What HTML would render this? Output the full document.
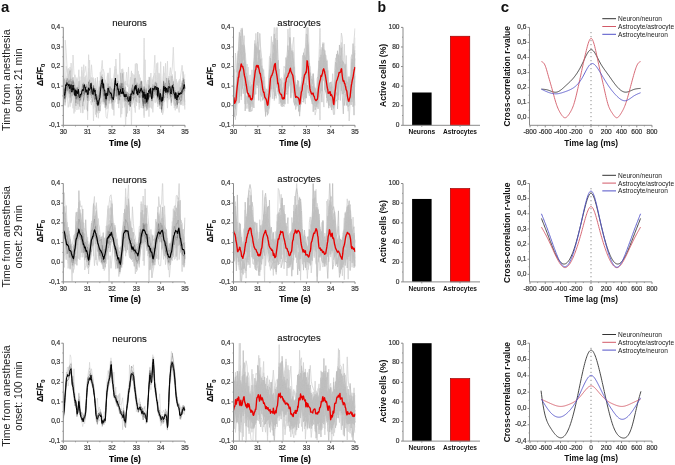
<!DOCTYPE html>
<html><head><meta charset="utf-8"><style>
html,body{margin:0;padding:0;background:#fff;width:675px;height:465px;overflow:hidden}
svg{display:block;will-change:transform}
text{font-family:"Liberation Sans",sans-serif}
</style></head><body>
<svg width="675" height="465" viewBox="0 0 675 465" font-family="Liberation Sans, sans-serif">
<rect width="675" height="465" fill="#fff"/>
<text x="1" y="11.8" font-size="15" text-anchor="start" font-weight="bold" fill="#111">a</text>
<text x="377.5" y="11.8" font-size="14" text-anchor="start" font-weight="bold" fill="#111">b</text>
<text x="500.8" y="11.6" font-size="15" text-anchor="start" font-weight="bold" fill="#111">c</text>
<text font-size="10.6" fill="#222" text-anchor="middle" transform="translate(9.7 80.2) rotate(-90)"><tspan x="0" y="0">Time from anesthesia</tspan><tspan x="0" y="12.1">onset: 21 min</tspan></text>
<text x="129.6" y="26" font-size="9.6" text-anchor="middle" fill="#111" stroke="#111" stroke-width="0.1">neurons</text>
<text x="299" y="25.6" font-size="9.5" text-anchor="middle" fill="#111" stroke="#111" stroke-width="0.1">astrocytes</text>
<clipPath id="clip1"><rect x="63.8" y="27.4" width="121.7" height="97.4"/></clipPath>
<g clip-path="url(#clip1)">
<path d="M63.3 92.62 L64.27 95.53 L65.25 82.6 L66.22 84.38 L67.19 93.32 L68.17 83.04 L69.14 85.41 L70.12 85.52 L71.09 91.32 L72.06 87.75 L73.04 91.79 L74.01 96.71 L74.98 74.74 L75.96 92.25 L76.93 88.33 L77.9 84 L78.88 69.78 L79.85 95.82 L80.82 88.36 L81.8 85.56 L82.77 96.67 L83.75 77.36 L84.72 79.9 L85.69 96.38 L86.67 92.94 L87.64 119.82 L88.61 71.97 L89.59 94.74 L90.56 80.59 L91.53 102.82 L92.51 89.96 L93.48 79.26 L94.46 103.13 L95.43 78.36 L96.4 95.15 L97.38 94.83 L98.35 95.16 L99.32 80.76 L100.3 85.83 L101.27 98.09 L102.24 76.88 L103.22 83.41 L104.19 87.31 L105.16 92.29 L106.14 93.29 L107.11 105.45 L108.09 78.39 L109.06 92.61 L110.03 98.44 L111.01 84.92 L111.98 78.5 L112.95 91.83 L113.93 88.17 L114.9 84.96 L115.87 59.02 L116.85 75.35 L117.82 94.69 L118.8 97.67 L119.77 87.49 L120.74 117.36 L121.72 69.16 L122.69 90.16 L123.66 80.92 L124.64 84.02 L125.61 129.22 L126.58 93.56 L127.56 113.31 L128.53 89.46 L129.5 92.87 L130.48 77.14 L131.45 129.22 L132.43 73.45 L133.4 74.85 L134.37 92.58 L135.35 81.26 L136.32 91.64 L137.29 88.55 L138.27 94.95 L139.24 75.31 L140.21 94.51 L141.19 86.54 L142.16 84.91 L143.14 98.41 L144.11 91.89 L145.08 99.93 L146.06 93.66 L147.03 106.27 L148 97.13 L148.98 88.94 L149.95 91.45 L150.92 90.2 L151.9 97 L152.87 79.25 L153.84 88.9 L154.82 83.93 L155.79 90 L156.77 87.64 L157.74 99.75 L158.71 85.41 L159.69 104.3 L160.66 109.01 L161.63 95.76 L162.61 102.18 L163.58 85.68 L164.55 102 L165.53 82.63 L166.5 82.43 L167.48 99.45 L168.45 76.49 L169.42 89.23 L170.4 98.43 L171.37 88.82 L172.34 83.77 L173.32 84.54 L174.29 103.42 L175.26 78.86 L176.24 99.41 L177.21 106.73 L178.18 87.36 L179.16 94.58 L180.13 88.06 L181.11 93.27 L182.08 87.32 L183.05 83.81 L184.03 86.66 L185 78.89" fill="none" stroke="#d8d8d8" stroke-width="0.8" stroke-linejoin="round"/>
<path d="M63.3 70.7 L64.27 96.95 L65.25 96.37 L66.22 96.93 L67.19 93.94 L68.17 90.77 L69.14 98.14 L70.12 101.05 L71.09 86.39 L72.06 95.43 L73.04 79.52 L74.01 102.35 L74.98 111.59 L75.96 91.3 L76.93 88.54 L77.9 103.56 L78.88 109.56 L79.85 101.63 L80.82 112.75 L81.8 93.43 L82.77 113.14 L83.75 97.76 L84.72 109.57 L85.69 97.14 L86.67 83.85 L87.64 100.38 L88.61 89.17 L89.59 100.71 L90.56 101.57 L91.53 105.05 L92.51 89.32 L93.48 97.67 L94.46 84.67 L95.43 107.37 L96.4 102.95 L97.38 102.88 L98.35 94.71 L99.32 88.35 L100.3 104.05 L101.27 101.32 L102.24 101.83 L103.22 83.62 L104.19 96.22 L105.16 103.35 L106.14 116.8 L107.11 118.42 L108.09 109.99 L109.06 88.94 L110.03 94.21 L111.01 96.84 L111.98 108.6 L112.95 96.71 L113.93 86.3 L114.9 102.3 L115.87 91.28 L116.85 96.91 L117.82 90.93 L118.8 97.6 L119.77 98.79 L120.74 102.85 L121.72 97.17 L122.69 100.86 L123.66 98.54 L124.64 86.32 L125.61 95.12 L126.58 104.55 L127.56 103.37 L128.53 94.33 L129.5 104.68 L130.48 104.46 L131.45 91.78 L132.43 95.15 L133.4 97.15 L134.37 102.6 L135.35 104.15 L136.32 89.59 L137.29 86.78 L138.27 91.83 L139.24 109.47 L140.21 94.01 L141.19 80.35 L142.16 98.93 L143.14 98.98 L144.11 106.47 L145.08 91.11 L146.06 99.47 L147.03 98.64 L148 96.11 L148.98 85.79 L149.95 87.93 L150.92 107.7 L151.9 101.62 L152.87 112.33 L153.84 99.25 L154.82 88.49 L155.79 86.28 L156.77 84.65 L157.74 100.7 L158.71 92.93 L159.69 101.23 L160.66 88.54 L161.63 91.8 L162.61 105.32 L163.58 66.26 L164.55 94.4 L165.53 97.36 L166.5 90.97 L167.48 90.39 L168.45 90.01 L169.42 99.23 L170.4 84.39 L171.37 98.17 L172.34 81.36 L173.32 83.19 L174.29 108.15 L175.26 100.09 L176.24 106.18 L177.21 100.2 L178.18 99.98 L179.16 96.54 L180.13 104.71 L181.11 94.57 L182.08 83.73 L183.05 105.76 L184.03 94.13 L185 92.16" fill="none" stroke="#d8d8d8" stroke-width="0.8" stroke-linejoin="round"/>
<path d="M63.3 94.65 L64.27 93.79 L65.25 91.71 L66.22 90.18 L67.19 73.61 L68.17 68.36 L69.14 69.14 L70.12 95.59 L71.09 68.8 L72.06 94.04 L73.04 94.75 L74.01 91.03 L74.98 96.79 L75.96 90.58 L76.93 109.94 L77.9 100.99 L78.88 91.47 L79.85 80.41 L80.82 96.84 L81.8 85.27 L82.77 85.1 L83.75 64.7 L84.72 94.73 L85.69 75.63 L86.67 95.35 L87.64 94.4 L88.61 85.18 L89.59 60.18 L90.56 89.01 L91.53 95.26 L92.51 78.15 L93.48 94.53 L94.46 89.78 L95.43 89.45 L96.4 94.24 L97.38 94.88 L98.35 101.56 L99.32 94.78 L100.3 84.51 L101.27 82.36 L102.24 77.07 L103.22 90.13 L104.19 79.59 L105.16 89.75 L106.14 91.21 L107.11 85.51 L108.09 73.38 L109.06 84.21 L110.03 81.95 L111.01 98.58 L111.98 102.52 L112.95 97.68 L113.93 102.95 L114.9 74.07 L115.87 87.02 L116.85 80.06 L117.82 100.22 L118.8 97 L119.77 53.16 L120.74 87.4 L121.72 98.27 L122.69 68.73 L123.66 80.44 L124.64 87.18 L125.61 98.44 L126.58 97.25 L127.56 103.61 L128.53 92.87 L129.5 87.1 L130.48 101.17 L131.45 70.87 L132.43 86.3 L133.4 83.22 L134.37 107.59 L135.35 81.24 L136.32 63.16 L137.29 66.53 L138.27 82.01 L139.24 84.48 L140.21 77.63 L141.19 90.58 L142.16 86.46 L143.14 89.41 L144.11 89.23 L145.08 93.7 L146.06 106.03 L147.03 95.95 L148 88.09 L148.98 85.66 L149.95 86.42 L150.92 73.05 L151.9 105.08 L152.87 92.22 L153.84 93.74 L154.82 85.53 L155.79 88.81 L156.77 83.19 L157.74 94.78 L158.71 95.77 L159.69 108.73 L160.66 80.7 L161.63 101.3 L162.61 99.41 L163.58 85.68 L164.55 83.23 L165.53 77.11 L166.5 80.92 L167.48 90.86 L168.45 89.2 L169.42 90.76 L170.4 95.19 L171.37 79.52 L172.34 88.24 L173.32 98.09 L174.29 96.45 L175.26 110.35 L176.24 87.41 L177.21 104.22 L178.18 89.71 L179.16 87.52 L180.13 80.22 L181.11 72.38 L182.08 65.28 L183.05 74.03 L184.03 88.83 L185 85.45" fill="none" stroke="#d8d8d8" stroke-width="0.8" stroke-linejoin="round"/>
<path d="M63.3 73.08 L64.27 104.68 L65.25 85.96 L66.22 66.3 L67.19 72.65 L68.17 72.36 L69.14 88.03 L70.12 103.47 L71.09 63.02 L72.06 81.4 L73.04 77.11 L74.01 94.58 L74.98 86.69 L75.96 87.88 L76.93 78.82 L77.9 94.52 L78.88 105.05 L79.85 92.82 L80.82 90.05 L81.8 76.07 L82.77 82.05 L83.75 86.75 L84.72 79.47 L85.69 80.37 L86.67 84.77 L87.64 94.55 L88.61 54.7 L89.59 88.74 L90.56 90.98 L91.53 77.33 L92.51 101.07 L93.48 88.43 L94.46 90.34 L95.43 94.67 L96.4 99.64 L97.38 113 L98.35 95.74 L99.32 96.27 L100.3 86.3 L101.27 71.03 L102.24 70.22 L103.22 69.11 L104.19 72.78 L105.16 88.21 L106.14 104.41 L107.11 90.54 L108.09 85.88 L109.06 88.5 L110.03 95.01 L111.01 97.74 L111.98 88.26 L112.95 89.17 L113.93 97.18 L114.9 72.49 L115.87 82.63 L116.85 84 L117.82 80.76 L118.8 92.62 L119.77 93.29 L120.74 89.95 L121.72 114.13 L122.69 93.78 L123.66 72.02 L124.64 104.12 L125.61 92.79 L126.58 92.24 L127.56 100.83 L128.53 100.59 L129.5 89.2 L130.48 84.72 L131.45 97.88 L132.43 86.01 L133.4 83.58 L134.37 84.47 L135.35 89.41 L136.32 95.58 L137.29 93.05 L138.27 93.85 L139.24 74.33 L140.21 92.59 L141.19 82.86 L142.16 87.32 L143.14 86.97 L144.11 95.04 L145.08 79.71 L146.06 82.39 L147.03 95.07 L148 90.36 L148.98 85.27 L149.95 77.84 L150.92 87.23 L151.9 84.53 L152.87 80.26 L153.84 86 L154.82 81.8 L155.79 92.99 L156.77 99.77 L157.74 62.59 L158.71 104.53 L159.69 73.5 L160.66 82.57 L161.63 87.6 L162.61 101.49 L163.58 67.32 L164.55 101.1 L165.53 98.68 L166.5 92.05 L167.48 96.85 L168.45 82.74 L169.42 82.55 L170.4 75.72 L171.37 80.92 L172.34 74.47 L173.32 85.63 L174.29 93.33 L175.26 96.67 L176.24 108.68 L177.21 100.95 L178.18 93.77 L179.16 81.72 L180.13 103.8 L181.11 83.25 L182.08 85.5 L183.05 94.56 L184.03 79.54 L185 87.31" fill="none" stroke="#d8d8d8" stroke-width="0.8" stroke-linejoin="round"/>
<path d="M63.3 89.66 L64.27 99.86 L65.25 40.13 L66.22 52.21 L67.19 70.07 L68.17 82.51 L69.14 73.94 L70.12 66.97 L71.09 78.6 L72.06 85.44 L73.04 55 L74.01 74.33 L74.98 77.58 L75.96 99.87 L76.93 77.49 L77.9 94.22 L78.88 87.96 L79.85 98.44 L80.82 100.4 L81.8 70.3 L82.77 82.81 L83.75 73.12 L84.72 71.67 L85.69 66.33 L86.67 77.65 L87.64 89.86 L88.61 68.16 L89.59 75.53 L90.56 79.95 L91.53 64.8 L92.51 79.6 L93.48 77.62 L94.46 92.42 L95.43 79.26 L96.4 91.42 L97.38 92.62 L98.35 106.38 L99.32 91.25 L100.3 85.47 L101.27 69.78 L102.24 60.42 L103.22 78.53 L104.19 84.7 L105.16 100 L106.14 109.36 L107.11 76.81 L108.09 72.79 L109.06 93.17 L110.03 67.89 L111.01 89.55 L111.98 87.85 L112.95 87.63 L113.93 85.21 L114.9 66.32 L115.87 84.63 L116.85 77.66 L117.82 81.45 L118.8 85.67 L119.77 84.03 L120.74 84.11 L121.72 85.6 L122.69 70.38 L123.66 88.4 L124.64 82.18 L125.61 85.36 L126.58 72.18 L127.56 86.91 L128.53 66.99 L129.5 96.79 L130.48 92.78 L131.45 71.77 L132.43 89.75 L133.4 87.21 L134.37 84.25 L135.35 63.78 L136.32 87.3 L137.29 80.29 L138.27 70.94 L139.24 92.05 L140.21 81.01 L141.19 81.46 L142.16 94.74 L143.14 92.54 L144.11 38.04 L145.08 96 L146.06 83.9 L147.03 93.06 L148 84.44 L148.98 92.61 L149.95 80.97 L150.92 87.56 L151.9 107.55 L152.87 83.37 L153.84 74.84 L154.82 55.2 L155.79 84.21 L156.77 63.32 L157.74 85.86 L158.71 82.71 L159.69 98.91 L160.66 82.91 L161.63 102.08 L162.61 86.22 L163.58 72.52 L164.55 73.74 L165.53 78.13 L166.5 88.14 L167.48 78.06 L168.45 82.35 L169.42 78.07 L170.4 83.48 L171.37 74.72 L172.34 66.97 L173.32 47.22 L174.29 73.16 L175.26 96.63 L176.24 80.35 L177.21 82.19 L178.18 97.39 L179.16 79.79 L180.13 78.96 L181.11 84.06 L182.08 80.73 L183.05 93.62 L184.03 84.87 L185 74.27" fill="none" stroke="#d8d8d8" stroke-width="0.8" stroke-linejoin="round"/>
<path d="M63.3 106.5 L64.27 102.99 L65.25 77.97 L66.22 85.28 L67.19 94.65 L68.17 107.39 L69.14 100.97 L70.12 94.94 L71.09 97.26 L72.06 90.82 L73.04 95.9 L74.01 86.2 L74.98 108.65 L75.96 97.56 L76.93 102.13 L77.9 92.73 L78.88 99.09 L79.85 92.4 L80.82 96.16 L81.8 66.83 L82.77 89.79 L83.75 100.11 L84.72 95.97 L85.69 97.76 L86.67 92.52 L87.64 85.86 L88.61 91.83 L89.59 95.42 L90.56 99.57 L91.53 84.34 L92.51 87.04 L93.48 120.94 L94.46 98.29 L95.43 107.72 L96.4 105.37 L97.38 90.36 L98.35 103.81 L99.32 104.78 L100.3 72.23 L101.27 91.53 L102.24 96.12 L103.22 88.04 L104.19 102.79 L105.16 101.18 L106.14 96.14 L107.11 82.87 L108.09 108.44 L109.06 102.87 L110.03 97.83 L111.01 93.16 L111.98 104.94 L112.95 89.15 L113.93 95.09 L114.9 95.86 L115.87 83.86 L116.85 96.64 L117.82 74.66 L118.8 93.06 L119.77 85.86 L120.74 89.2 L121.72 106.08 L122.69 107.93 L123.66 93.47 L124.64 107.27 L125.61 103.59 L126.58 102.21 L127.56 108.48 L128.53 91.33 L129.5 95.69 L130.48 91.41 L131.45 91.25 L132.43 104.29 L133.4 87.4 L134.37 101.37 L135.35 81.24 L136.32 100.46 L137.29 98.6 L138.27 82.99 L139.24 89.94 L140.21 78.48 L141.19 92.17 L142.16 100.3 L143.14 96.13 L144.11 95.86 L145.08 92.53 L146.06 95.11 L147.03 97.27 L148 93.73 L148.98 98.32 L149.95 84.52 L150.92 106.74 L151.9 78.85 L152.87 77.85 L153.84 75.93 L154.82 94.18 L155.79 76.7 L156.77 89.92 L157.74 87.57 L158.71 75.62 L159.69 96.18 L160.66 98.86 L161.63 111.47 L162.61 110.15 L163.58 84.91 L164.55 89.76 L165.53 87.94 L166.5 93.54 L167.48 108.12 L168.45 90.79 L169.42 87.66 L170.4 85.38 L171.37 103.73 L172.34 79.67 L173.32 102.55 L174.29 105.25 L175.26 107.01 L176.24 105.76 L177.21 87.25 L178.18 106.98 L179.16 112.44 L180.13 99.63 L181.11 99.59 L182.08 89.42 L183.05 97.36 L184.03 95.76 L185 101.78" fill="none" stroke="#d8d8d8" stroke-width="0.8" stroke-linejoin="round"/>
<path d="M63.3 98.58 L64.27 100 L65.25 105.47 L66.22 88.2 L67.19 80.71 L68.17 69.02 L69.14 87.77 L70.12 77.16 L71.09 84.15 L72.06 83.71 L73.04 88.17 L74.01 98 L74.98 81.81 L75.96 92.38 L76.93 90.38 L77.9 94.73 L78.88 84.97 L79.85 96.5 L80.82 95.13 L81.8 92.75 L82.77 82.79 L83.75 98.2 L84.72 77 L85.69 78.89 L86.67 95.63 L87.64 89.07 L88.61 100.9 L89.59 90.97 L90.56 78.79 L91.53 83.14 L92.51 89.08 L93.48 94.7 L94.46 87.64 L95.43 114.54 L96.4 106.61 L97.38 94.78 L98.35 113.77 L99.32 87.76 L100.3 88.1 L101.27 95.02 L102.24 97.47 L103.22 104.31 L104.19 82.45 L105.16 90.1 L106.14 83.2 L107.11 87.21 L108.09 80.17 L109.06 81.91 L110.03 98.13 L111.01 93.25 L111.98 106.32 L112.95 98.2 L113.93 94.26 L114.9 88.34 L115.87 69.75 L116.85 88.54 L117.82 92.91 L118.8 94.23 L119.77 95.98 L120.74 94.36 L121.72 93.48 L122.69 91.9 L123.66 83.09 L124.64 88.21 L125.61 81.11 L126.58 85.29 L127.56 83.93 L128.53 85.07 L129.5 105.39 L130.48 91.78 L131.45 91.79 L132.43 88.92 L133.4 98.98 L134.37 74.81 L135.35 87.31 L136.32 80.19 L137.29 63.77 L138.27 90.11 L139.24 106.75 L140.21 99.99 L141.19 107.97 L142.16 81.42 L143.14 102.11 L144.11 102.53 L145.08 59.75 L146.06 97.32 L147.03 105.43 L148 84.45 L148.98 84.59 L149.95 85.93 L150.92 82.62 L151.9 108.84 L152.87 79.98 L153.84 78.23 L154.82 72.95 L155.79 101.96 L156.77 95.42 L157.74 93.32 L158.71 72.89 L159.69 90.34 L160.66 61.73 L161.63 94.14 L162.61 100.46 L163.58 102.64 L164.55 90.39 L165.53 63.23 L166.5 97.43 L167.48 102.53 L168.45 86.37 L169.42 75.42 L170.4 67.64 L171.37 81.88 L172.34 79.05 L173.32 93.85 L174.29 94.77 L175.26 87.55 L176.24 79.06 L177.21 104.45 L178.18 99.1 L179.16 80.73 L180.13 90.4 L181.11 92.99 L182.08 89.35 L183.05 100.91 L184.03 79.83 L185 92.25" fill="none" stroke="#d8d8d8" stroke-width="0.8" stroke-linejoin="round"/>
<path d="M63.3 105.87 L64.27 94 L65.25 78.3 L66.22 83.97 L67.19 76.35 L68.17 91.33 L69.14 91.28 L70.12 89.43 L71.09 99.86 L72.06 100.36 L73.04 90.07 L74.01 113.44 L74.98 87.23 L75.96 94.32 L76.93 96.29 L77.9 97.03 L78.88 92.06 L79.85 102.72 L80.82 84.5 L81.8 82.39 L82.77 94.13 L83.75 86.2 L84.72 84.04 L85.69 83.34 L86.67 99.89 L87.64 97.68 L88.61 72.74 L89.59 82.84 L90.56 78.52 L91.53 78.85 L92.51 91.7 L93.48 94.62 L94.46 105.59 L95.43 78.51 L96.4 111.58 L97.38 102.26 L98.35 118.25 L99.32 102.68 L100.3 88 L101.27 91.36 L102.24 91.61 L103.22 93.11 L104.19 91.06 L105.16 107.26 L106.14 96.1 L107.11 85.37 L108.09 75.25 L109.06 80.55 L110.03 91.97 L111.01 99.24 L111.98 97.35 L112.95 94.97 L113.93 75.4 L114.9 69.82 L115.87 91.03 L116.85 86.62 L117.82 103.87 L118.8 99.06 L119.77 83.09 L120.74 93.69 L121.72 88.9 L122.69 81.07 L123.66 92.06 L124.64 105.32 L125.61 92.39 L126.58 93.62 L127.56 92.65 L128.53 92.82 L129.5 103.1 L130.48 105.63 L131.45 100.09 L132.43 83.5 L133.4 102.54 L134.37 98.75 L135.35 96.51 L136.32 105.91 L137.29 89.28 L138.27 97.59 L139.24 97.87 L140.21 82.68 L141.19 84.78 L142.16 87.6 L143.14 99.63 L144.11 117.76 L145.08 94.77 L146.06 90.24 L147.03 99.35 L148 79.96 L148.98 116.66 L149.95 76.96 L150.92 102.14 L151.9 107.27 L152.87 92.2 L153.84 95.03 L154.82 83.08 L155.79 75.15 L156.77 98.17 L157.74 87.54 L158.71 102.07 L159.69 100.49 L160.66 86.07 L161.63 100.39 L162.61 93.29 L163.58 91.83 L164.55 87.5 L165.53 92.73 L166.5 85.34 L167.48 94.2 L168.45 87.77 L169.42 76.49 L170.4 95.34 L171.37 81.91 L172.34 89.57 L173.32 95.15 L174.29 104.28 L175.26 71.34 L176.24 92.77 L177.21 88.45 L178.18 84.96 L179.16 102.93 L180.13 100.22 L181.11 95.95 L182.08 104.33 L183.05 95.88 L184.03 81.42 L185 105.08" fill="none" stroke="#d8d8d8" stroke-width="0.8" stroke-linejoin="round"/>
<path d="M63.3 107.31 L64.27 101.12 L65.25 104.3 L66.22 95.61 L67.19 93.68 L68.17 89.55 L69.14 97.52 L70.12 106.67 L71.09 88.37 L72.06 102.47 L73.04 108.35 L74.01 102.26 L74.98 104.48 L75.96 96.88 L76.93 96.3 L77.9 83.5 L78.88 105.61 L79.85 76.64 L80.82 98.31 L81.8 101.57 L82.77 112.54 L83.75 98.12 L84.72 84.72 L85.69 100.98 L86.67 109.58 L87.64 103.84 L88.61 98.11 L89.59 95.87 L90.56 82.81 L91.53 93.77 L92.51 90.65 L93.48 108.77 L94.46 95.79 L95.43 86.6 L96.4 101.67 L97.38 100.06 L98.35 110.6 L99.32 112.99 L100.3 107.56 L101.27 103.33 L102.24 92.74 L103.22 78.79 L104.19 91.85 L105.16 79.79 L106.14 86.69 L107.11 108.65 L108.09 102.39 L109.06 98.82 L110.03 88.64 L111.01 91.38 L111.98 82.68 L112.95 87.74 L113.93 115.54 L114.9 89.66 L115.87 69.43 L116.85 87.69 L117.82 87.95 L118.8 103.47 L119.77 90.68 L120.74 104.95 L121.72 92.24 L122.69 101.56 L123.66 94.56 L124.64 105.38 L125.61 104.23 L126.58 90.83 L127.56 101.47 L128.53 95.83 L129.5 110.81 L130.48 88.97 L131.45 94.27 L132.43 89.47 L133.4 90.56 L134.37 104.43 L135.35 112.64 L136.32 82.92 L137.29 102.53 L138.27 80.43 L139.24 100.7 L140.21 101.74 L141.19 94.01 L142.16 87.67 L143.14 98.41 L144.11 115.28 L145.08 95.38 L146.06 99.09 L147.03 107.87 L148 109.46 L148.98 107.31 L149.95 84.47 L150.92 87.49 L151.9 91.97 L152.87 101.51 L153.84 88.5 L154.82 102.64 L155.79 102.55 L156.77 97.86 L157.74 107.01 L158.71 104.08 L159.69 77.83 L160.66 87.1 L161.63 100.95 L162.61 114.71 L163.58 111.12 L164.55 91 L165.53 97.4 L166.5 79.69 L167.48 61.15 L168.45 99.58 L169.42 76.4 L170.4 99.97 L171.37 105.72 L172.34 84.39 L173.32 101.68 L174.29 102.34 L175.26 87.22 L176.24 100.45 L177.21 83.11 L178.18 97.73 L179.16 100.42 L180.13 93.12 L181.11 88.66 L182.08 91.97 L183.05 101.86 L184.03 87.02 L185 109.93" fill="none" stroke="#d8d8d8" stroke-width="0.8" stroke-linejoin="round"/>
<path d="M63.3 97.46 L64.27 97.25 L65.25 102.39 L66.22 87.24 L67.19 90.9 L68.17 84.15 L69.14 84.07 L70.12 94.19 L71.09 82.54 L72.06 89.11 L73.04 81.84 L74.01 86.22 L74.98 94.26 L75.96 93.28 L76.93 97.78 L77.9 96.48 L78.88 97.23 L79.85 106.74 L80.82 92.96 L81.8 92.69 L82.77 94.79 L83.75 101.7 L84.72 94.04 L85.69 90.66 L86.67 89.39 L87.64 100.98 L88.61 95.27 L89.59 92.21 L90.56 95.89 L91.53 97.87 L92.51 89.64 L93.48 93.83 L94.46 95.67 L95.43 99.13 L96.4 96.14 L97.38 99.42 L98.35 105.71 L99.32 102.72 L100.3 111.24 L101.27 84.24 L102.24 81.79 L103.22 96.59 L104.19 90.61 L105.16 96.82 L106.14 100.38 L107.11 91.63 L108.09 89.29 L109.06 90.79 L110.03 95.1 L111.01 93.15 L111.98 96.98 L112.95 98.34 L113.93 97.27 L114.9 88.16 L115.87 90.91 L116.85 90.51 L117.82 94.57 L118.8 108.16 L119.77 95.98 L120.74 72.75 L121.72 90.51 L122.69 93.73 L123.66 92.33 L124.64 100.35 L125.61 86.57 L126.58 101.81 L127.56 100 L128.53 96.47 L129.5 103.23 L130.48 106.5 L131.45 101.07 L132.43 89.54 L133.4 100.46 L134.37 85.48 L135.35 90.35 L136.32 91.08 L137.29 88.82 L138.27 91.97 L139.24 97.51 L140.21 97.91 L141.19 96 L142.16 94.89 L143.14 108.64 L144.11 100.84 L145.08 107.27 L146.06 96.58 L147.03 110.38 L148 102.83 L148.98 85.42 L149.95 96.94 L150.92 88.09 L151.9 100.9 L152.87 95.85 L153.84 95.45 L154.82 92.94 L155.79 88.86 L156.77 88.17 L157.74 98.63 L158.71 96.27 L159.69 105.86 L160.66 98.86 L161.63 109.06 L162.61 106.1 L163.58 80.69 L164.55 89.06 L165.53 94.71 L166.5 91.25 L167.48 93.56 L168.45 90.15 L169.42 94.44 L170.4 94.23 L171.37 97.06 L172.34 87.2 L173.32 87 L174.29 98.66 L175.26 100.5 L176.24 100.24 L177.21 104.7 L178.18 102.49 L179.16 98.05 L180.13 99.74 L181.11 100.74 L182.08 99.25 L183.05 79.91 L184.03 82.04 L185 87.6" fill="none" stroke="#000" stroke-width="0.9" stroke-opacity="0.12" stroke-linejoin="round"/>
<path d="M63.3 96.96 L64.27 87.51 L65.25 98.25 L66.22 90.58 L67.19 84.16 L68.17 88.76 L69.14 86.06 L70.12 92.11 L71.09 84.41 L72.06 91.98 L73.04 84.96 L74.01 93.35 L74.98 94.39 L75.96 106.01 L76.93 88.64 L77.9 104.16 L78.88 90.73 L79.85 100.58 L80.82 98.98 L81.8 93.06 L82.77 93.92 L83.75 93.32 L84.72 88.37 L85.69 90.05 L86.67 92.42 L87.64 89.95 L88.61 93.69 L89.59 79.68 L90.56 88.74 L91.53 93.95 L92.51 90.51 L93.48 87.2 L94.46 101.94 L95.43 94.57 L96.4 100.73 L97.38 101.3 L98.35 110.73 L99.32 97.5 L100.3 89.14 L101.27 84.75 L102.24 82.78 L103.22 101.67 L104.19 93.1 L105.16 97.81 L106.14 106.58 L107.11 100.45 L108.09 95.42 L109.06 92.31 L110.03 86.08 L111.01 88.84 L111.98 100.24 L112.95 99.47 L113.93 91.89 L114.9 82.91 L115.87 83.12 L116.85 88.06 L117.82 92.59 L118.8 93.3 L119.77 85.75 L120.74 89.57 L121.72 83.1 L122.69 92.85 L123.66 93.56 L124.64 93.71 L125.61 97.19 L126.58 94.15 L127.56 96.85 L128.53 98.11 L129.5 93.92 L130.48 106.42 L131.45 96.9 L132.43 84.42 L133.4 95.83 L134.37 94.38 L135.35 94.27 L136.32 93.23 L137.29 92.08 L138.27 89.15 L139.24 86.73 L140.21 97.58 L141.19 89.15 L142.16 91.04 L143.14 95.12 L144.11 98.56 L145.08 103.86 L146.06 92.85 L147.03 108.41 L148 96.52 L148.98 95.74 L149.95 97.78 L150.92 92.48 L151.9 90.86 L152.87 93.91 L153.84 91.44 L154.82 91.13 L155.79 86.12 L156.77 85.76 L157.74 97.83 L158.71 90.94 L159.69 102.21 L160.66 95.28 L161.63 102.19 L162.61 101.62 L163.58 89.03 L164.55 93.79 L165.53 86.74 L166.5 88.56 L167.48 93.37 L168.45 90.14 L169.42 91.47 L170.4 97.38 L171.37 88.76 L172.34 84.84 L173.32 81.22 L174.29 101.27 L175.26 105.76 L176.24 95.35 L177.21 100.36 L178.18 100.45 L179.16 99.38 L180.13 96.62 L181.11 105.14 L182.08 82.78 L183.05 92.26 L184.03 86.86 L185 86.7" fill="none" stroke="#000" stroke-width="0.9" stroke-opacity="0.12" stroke-linejoin="round"/>
<path d="M63.3 87.93 L64.27 98.96 L65.25 93.44 L66.22 84.76 L67.19 87.5 L68.17 92.09 L69.14 93.46 L70.12 88.54 L71.09 102.78 L72.06 93.82 L73.04 88.33 L74.01 91.56 L74.98 91.03 L75.96 98.81 L76.93 96.64 L77.9 95.95 L78.88 94.45 L79.85 100.08 L80.82 96.18 L81.8 92.59 L82.77 92.68 L83.75 82.73 L84.72 91.83 L85.69 89.93 L86.67 94.55 L87.64 93.96 L88.61 81.43 L89.59 90.77 L90.56 92.43 L91.53 95.89 L92.51 89.54 L93.48 94.9 L94.46 95.03 L95.43 94.36 L96.4 104.36 L97.38 77.11 L98.35 99.61 L99.32 103.47 L100.3 94.79 L101.27 85.2 L102.24 85.42 L103.22 91.66 L104.19 90.88 L105.16 89.39 L106.14 105.25 L107.11 95.64 L108.09 87.85 L109.06 93.39 L110.03 95.5 L111.01 94.77 L111.98 101.28 L112.95 102.09 L113.93 96.48 L114.9 85.49 L115.87 96.35 L116.85 88.93 L117.82 87.25 L118.8 95.4 L119.77 100.17 L120.74 82.78 L121.72 90.93 L122.69 95.36 L123.66 88.1 L124.64 92.21 L125.61 99.03 L126.58 93.24 L127.56 96.21 L128.53 104.97 L129.5 102.72 L130.48 100.64 L131.45 89.55 L132.43 93.79 L133.4 89.12 L134.37 89.28 L135.35 77.92 L136.32 83.21 L137.29 94.75 L138.27 90.61 L139.24 103.06 L140.21 85.18 L141.19 81.54 L142.16 99.05 L143.14 105.69 L144.11 86.95 L145.08 97.79 L146.06 111.09 L147.03 104.65 L148 93.63 L148.98 97.86 L149.95 91.53 L150.92 90.77 L151.9 98.86 L152.87 89.45 L153.84 87.97 L154.82 91.32 L155.79 87.54 L156.77 82.87 L157.74 98.33 L158.71 91.95 L159.69 98.15 L160.66 101.76 L161.63 112.89 L162.61 96.43 L163.58 86.29 L164.55 88.08 L165.53 89.59 L166.5 88.38 L167.48 89.52 L168.45 87.47 L169.42 91.34 L170.4 96.92 L171.37 101.52 L172.34 96.24 L173.32 90.25 L174.29 96.26 L175.26 90.2 L176.24 99.01 L177.21 104.35 L178.18 91.52 L179.16 99.97 L180.13 96.96 L181.11 91.2 L182.08 88.2 L183.05 77.81 L184.03 82.81 L185 108.79" fill="none" stroke="#000" stroke-width="0.9" stroke-opacity="0.12" stroke-linejoin="round"/>
<path d="M63.3 89.23 L64.27 94.09 L65.25 99.28 L66.22 80.89 L67.19 78.07 L68.17 91.53 L69.14 74.59 L70.12 70.5 L71.09 88.76 L72.06 89.95 L73.04 80.16 L74.01 92.53 L74.98 96.66 L75.96 90.19 L76.93 90.29 L77.9 98.69 L78.88 90.77 L79.85 93.76 L80.82 93.12 L81.8 92.26 L82.77 106.16 L83.75 96.6 L84.72 84.73 L85.69 88.53 L86.67 94.11 L87.64 98.37 L88.61 89.67 L89.59 90.69 L90.56 88.14 L91.53 82.19 L92.51 91.98 L93.48 86.23 L94.46 93.93 L95.43 91.61 L96.4 99.83 L97.38 97.58 L98.35 106.36 L99.32 110.88 L100.3 87.89 L101.27 88.63 L102.24 81.85 L103.22 82.4 L104.19 102.34 L105.16 95.34 L106.14 99.13 L107.11 92.32 L108.09 83.58 L109.06 91.7 L110.03 95.32 L111.01 88.5 L111.98 98.6 L112.95 99.44 L113.93 91.5 L114.9 80.39 L115.87 85.07 L116.85 96.08 L117.82 80.89 L118.8 94.33 L119.77 96.51 L120.74 86.52 L121.72 84.09 L122.69 82.77 L123.66 89.03 L124.64 91.15 L125.61 102.51 L126.58 116.71 L127.56 91.86 L128.53 98.75 L129.5 97.84 L130.48 107.03 L131.45 87.7 L132.43 92.97 L133.4 89.75 L134.37 93.96 L135.35 97.75 L136.32 85.83 L137.29 87.63 L138.27 92.79 L139.24 83.65 L140.21 91.57 L141.19 80.95 L142.16 88.12 L143.14 104.02 L144.11 89.47 L145.08 102.21 L146.06 92.21 L147.03 103.42 L148 95.63 L148.98 107.67 L149.95 91.45 L150.92 88.15 L151.9 94.21 L152.87 90.52 L153.84 97.93 L154.82 82.89 L155.79 81.75 L156.77 95.67 L157.74 103.71 L158.71 98.66 L159.69 102.3 L160.66 98.88 L161.63 105.12 L162.61 105.54 L163.58 81.64 L164.55 84.72 L165.53 88.24 L166.5 87.62 L167.48 98.06 L168.45 87.89 L169.42 88.36 L170.4 93.94 L171.37 86.37 L172.34 95.08 L173.32 89.39 L174.29 93.03 L175.26 95 L176.24 93.63 L177.21 105.24 L178.18 90.74 L179.16 93.68 L180.13 93.64 L181.11 94.33 L182.08 88.26 L183.05 89.88 L184.03 85.12 L185 85.62" fill="none" stroke="#000" stroke-width="0.9" stroke-opacity="0.12" stroke-linejoin="round"/>
<path d="M63.3 91.18 L64.27 99.33 L65.25 96.56 L66.22 87.02 L67.19 86.7 L68.17 86.48 L69.14 81.35 L70.12 90.59 L71.09 86.67 L72.06 88.07 L73.04 87.92 L74.01 90.6 L74.98 88.17 L75.96 103.11 L76.93 87.17 L77.9 94.78 L78.88 99.54 L79.85 101.39 L80.82 99.57 L81.8 91.4 L82.77 95.6 L83.75 100.42 L84.72 92.96 L85.69 90.24 L86.67 91.88 L87.64 111.24 L88.61 93.37 L89.59 86.95 L90.56 92.63 L91.53 88.29 L92.51 102.28 L93.48 94.13 L94.46 99.81 L95.43 98.55 L96.4 100.28 L97.38 106.18 L98.35 103.14 L99.32 96.06 L100.3 93.99 L101.27 91.18 L102.24 77.24 L103.22 93.7 L104.19 95.05 L105.16 93.45 L106.14 101.29 L107.11 97.02 L108.09 91.13 L109.06 103.53 L110.03 95.57 L111.01 99.46 L111.98 98.17 L112.95 110.05 L113.93 96.18 L114.9 82.31 L115.87 85.66 L116.85 89.33 L117.82 88.51 L118.8 93.45 L119.77 93.31 L120.74 88.89 L121.72 86.5 L122.69 91.22 L123.66 92.07 L124.64 101.45 L125.61 100.67 L126.58 97.93 L127.56 100.34 L128.53 100.35 L129.5 101.48 L130.48 103.01 L131.45 96.65 L132.43 95.35 L133.4 92.59 L134.37 93.78 L135.35 91.55 L136.32 84.58 L137.29 91.71 L138.27 95.75 L139.24 97.53 L140.21 89.79 L141.19 86.71 L142.16 97.59 L143.14 102.46 L144.11 86.02 L145.08 103.79 L146.06 89.43 L147.03 103.53 L148 103.73 L148.98 95.01 L149.95 97.32 L150.92 95.08 L151.9 99.52 L152.87 96.85 L153.84 87.85 L154.82 87.19 L155.79 92.23 L156.77 95.46 L157.74 91.6 L158.71 99.62 L159.69 100.6 L160.66 93.85 L161.63 109.35 L162.61 97.31 L163.58 94.82 L164.55 98 L165.53 94.06 L166.5 93.09 L167.48 88.09 L168.45 93.23 L169.42 82.95 L170.4 93.56 L171.37 92.37 L172.34 86.07 L173.32 92.78 L174.29 96.37 L175.26 96.64 L176.24 95.47 L177.21 92.4 L178.18 102.78 L179.16 102.89 L180.13 101.07 L181.11 100.91 L182.08 93.77 L183.05 90.43 L184.03 79.28 L185 90.75" fill="none" stroke="#000" stroke-width="0.9" stroke-opacity="0.12" stroke-linejoin="round"/>
<path d="M63.3 93.42 L64.27 98.07 L65.25 94.02 L66.22 80.3 L67.19 85.5 L68.17 90.16 L69.14 83.41 L70.12 88.02 L71.09 81.03 L72.06 85.69 L73.04 81.15 L74.01 83.39 L74.98 91.49 L75.96 99.3 L76.93 87.88 L77.9 89.48 L78.88 91.42 L79.85 95.57 L80.82 96.65 L81.8 94.37 L82.77 85.78 L83.75 86.03 L84.72 94.8 L85.69 87.98 L86.67 86.18 L87.64 97.46 L88.61 90.93 L89.59 84.96 L90.56 85.47 L91.53 93.46 L92.51 91.96 L93.48 85.29 L94.46 95.48 L95.43 88.26 L96.4 117.31 L97.38 95.47 L98.35 103.74 L99.32 102.04 L100.3 92.81 L101.27 79.61 L102.24 80.2 L103.22 83.35 L104.19 89.49 L105.16 104.55 L106.14 94.56 L107.11 89 L108.09 90.01 L109.06 100.79 L110.03 87.81 L111.01 87.69 L111.98 90.89 L112.95 100.79 L113.93 97.84 L114.9 85.09 L115.87 80.4 L116.85 98.86 L117.82 88.47 L118.8 100.37 L119.77 84.48 L120.74 88.38 L121.72 88.41 L122.69 73.33 L123.66 85.99 L124.64 90.27 L125.61 94.89 L126.58 93.8 L127.56 102.49 L128.53 95.58 L129.5 99.11 L130.48 101.13 L131.45 100.27 L132.43 84.94 L133.4 91.87 L134.37 87.11 L135.35 90.63 L136.32 83.9 L137.29 85.56 L138.27 85.32 L139.24 97.16 L140.21 96.06 L141.19 86.48 L142.16 90.14 L143.14 107.95 L144.11 94.72 L145.08 100.54 L146.06 92.52 L147.03 98.02 L148 100.92 L148.98 76.84 L149.95 94.66 L150.92 86.97 L151.9 101.03 L152.87 87.13 L153.84 85.43 L154.82 85.72 L155.79 95.59 L156.77 87.46 L157.74 93.99 L158.71 90.49 L159.69 104.28 L160.66 95.61 L161.63 100.13 L162.61 96.47 L163.58 83.66 L164.55 90.91 L165.53 89.72 L166.5 78.02 L167.48 95.27 L168.45 80.34 L169.42 86.69 L170.4 89.23 L171.37 92.26 L172.34 85.8 L173.32 84.05 L174.29 96.41 L175.26 99.43 L176.24 93.91 L177.21 108.62 L178.18 91.52 L179.16 95.95 L180.13 94.93 L181.11 97.49 L182.08 91.1 L183.05 94.58 L184.03 87.84 L185 91.16" fill="none" stroke="#000" stroke-width="0.9" stroke-opacity="0.12" stroke-linejoin="round"/>
<path d="M63.3 109.95 L64.27 78.74 L65.25 90.41 L66.22 85.17 L67.19 86 L68.17 87.8 L69.14 79.41 L70.12 81.67 L71.09 78.76 L72.06 83.56 L73.04 77.38 L74.01 85.73 L74.98 85.06 L75.96 94.34 L76.93 91.2 L77.9 91.35 L78.88 81.25 L79.85 90.83 L80.82 92.13 L81.8 89.53 L82.77 83.59 L83.75 93.88 L84.72 91.78 L85.69 88.6 L86.67 84.27 L87.64 91.87 L88.61 82.01 L89.59 85.25 L90.56 94.77 L91.53 86.09 L92.51 94.32 L93.48 85.22 L94.46 89.47 L95.43 98.02 L96.4 99.49 L97.38 104.2 L98.35 95.63 L99.32 95.7 L100.3 84.24 L101.27 76.74 L102.24 74.5 L103.22 85.13 L104.19 95.61 L105.16 94.13 L106.14 99.89 L107.11 96.02 L108.09 94.53 L109.06 86.83 L110.03 93.35 L111.01 103.68 L111.98 98.27 L112.95 91.81 L113.93 88.25 L114.9 87.84 L115.87 86.04 L116.85 85.76 L117.82 85.55 L118.8 96.12 L119.77 92.66 L120.74 89.72 L121.72 88.24 L122.69 86.26 L123.66 92.12 L124.64 90.2 L125.61 93.48 L126.58 91.96 L127.56 101.07 L128.53 93.22 L129.5 106.47 L130.48 99.53 L131.45 90.76 L132.43 90.77 L133.4 88.95 L134.37 78.39 L135.35 88.27 L136.32 90.69 L137.29 95.99 L138.27 87.99 L139.24 92.94 L140.21 93.34 L141.19 81.15 L142.16 87.08 L143.14 96.59 L144.11 89.22 L145.08 102.87 L146.06 89.71 L147.03 97.7 L148 100.16 L148.98 94.76 L149.95 96.48 L150.92 87.38 L151.9 101.31 L152.87 84.24 L153.84 91.89 L154.82 85.66 L155.79 82.64 L156.77 85.58 L157.74 94.73 L158.71 91 L159.69 104.67 L160.66 88.99 L161.63 110.1 L162.61 101.01 L163.58 81.27 L164.55 87.78 L165.53 82.93 L166.5 89.43 L167.48 87.31 L168.45 78.34 L169.42 84.78 L170.4 95.46 L171.37 76.59 L172.34 76.59 L173.32 82.18 L174.29 92.84 L175.26 99.15 L176.24 92.87 L177.21 97.14 L178.18 92.93 L179.16 98.11 L180.13 90.4 L181.11 85.46 L182.08 90.2 L183.05 86.58 L184.03 83.49 L185 82" fill="none" stroke="#000" stroke-width="0.9" stroke-opacity="0.12" stroke-linejoin="round"/>
<path d="M63.3 94.28 L64.27 98.03 L65.25 87.47 L66.22 84.64 L67.19 78.56 L68.17 82.38 L69.14 80.49 L70.12 97.57 L71.09 88.26 L72.06 96.17 L73.04 85.95 L74.01 87.51 L74.98 87.44 L75.96 96.96 L76.93 99.64 L77.9 86.87 L78.88 96.58 L79.85 98.27 L80.82 97.56 L81.8 89.49 L82.77 84.12 L83.75 95.88 L84.72 90.07 L85.69 88.98 L86.67 86.71 L87.64 90.94 L88.61 88.38 L89.59 88.61 L90.56 88.98 L91.53 88.13 L92.51 94.9 L93.48 87.49 L94.46 99.25 L95.43 95.87 L96.4 104.36 L97.38 100.18 L98.35 104.11 L99.32 86.57 L100.3 95.17 L101.27 76.14 L102.24 79.33 L103.22 86.16 L104.19 91.22 L105.16 107.99 L106.14 100.82 L107.11 91.28 L108.09 93.05 L109.06 86.46 L110.03 98.34 L111.01 91.61 L111.98 102.56 L112.95 89.16 L113.93 92.16 L114.9 80.55 L115.87 84.36 L116.85 90.09 L117.82 88.34 L118.8 95.93 L119.77 88.3 L120.74 96.99 L121.72 89.57 L122.69 83.79 L123.66 93.26 L124.64 96.14 L125.61 100.59 L126.58 97.99 L127.56 99.5 L128.53 97.99 L129.5 104.53 L130.48 101.07 L131.45 98.11 L132.43 97.41 L133.4 98.49 L134.37 96.58 L135.35 99.58 L136.32 101.61 L137.29 82.64 L138.27 92.57 L139.24 93.61 L140.21 92.44 L141.19 92.48 L142.16 92.71 L143.14 106.11 L144.11 88.52 L145.08 104.17 L146.06 87.81 L147.03 101.13 L148 100.14 L148.98 93.43 L149.95 96.24 L150.92 93.34 L151.9 99.01 L152.87 86.34 L153.84 89.75 L154.82 88.59 L155.79 86.15 L156.77 94.89 L157.74 93.21 L158.71 94.73 L159.69 98.38 L160.66 97.36 L161.63 102.83 L162.61 101.45 L163.58 85.61 L164.55 85.36 L165.53 88.4 L166.5 90.97 L167.48 92.41 L168.45 81.97 L169.42 80.23 L170.4 94.84 L171.37 103.05 L172.34 89.46 L173.32 84.09 L174.29 91.5 L175.26 93.69 L176.24 92.67 L177.21 92.29 L178.18 94.2 L179.16 94.19 L180.13 87.22 L181.11 92.81 L182.08 90.51 L183.05 71.46 L184.03 89.46 L185 91.57" fill="none" stroke="#000" stroke-width="0.9" stroke-opacity="0.12" stroke-linejoin="round"/>
<path d="M63.3 94.06 L63.71 88.6 L64.11 93.6 L64.52 95.41 L64.93 93.79 L65.34 91.34 L65.74 84.7 L66.15 85.92 L66.56 83.54 L66.96 82.57 L67.37 83.79 L67.78 84.87 L68.18 84.85 L68.59 86.14 L69 84.14 L69.41 86.69 L69.81 88.83 L70.22 88.09 L70.63 87.46 L71.03 84.63 L71.44 90.52 L71.85 92.21 L72.25 90.91 L72.66 87.74 L73.07 85.05 L73.48 89.84 L73.88 88.24 L74.29 94.36 L74.7 95.39 L75.1 89.56 L75.51 90.05 L75.92 96.1 L76.32 92.99 L76.73 90.66 L77.14 91.65 L77.55 93.75 L77.95 92.05 L78.36 89.29 L78.77 94.05 L79.17 96.48 L79.58 97.72 L79.99 97.2 L80.39 94.05 L80.8 95.16 L81.21 94.14 L81.62 92.88 L82.02 90.59 L82.43 89.41 L82.84 91.14 L83.24 90.12 L83.65 90.21 L84.06 84.74 L84.47 84.69 L84.87 87.47 L85.28 86.97 L85.69 90.68 L86.09 92.36 L86.5 89.97 L86.91 89.67 L87.31 92.2 L87.72 94.9 L88.13 94.33 L88.54 87.81 L88.94 89.89 L89.35 90.22 L89.76 88.96 L90.16 88.7 L90.57 87.74 L90.98 83.25 L91.38 86.48 L91.79 90.3 L92.2 92.33 L92.61 92.85 L93.01 94.39 L93.42 91.24 L93.83 88.45 L94.23 91.33 L94.64 92.17 L95.05 89.94 L95.45 95.68 L95.86 94.27 L96.27 98.07 L96.68 99.84 L97.08 100.67 L97.49 102.52 L97.9 105.4 L98.3 103.97 L98.71 101.86 L99.12 99.97 L99.53 99.01 L99.93 97.24 L100.34 91.9 L100.75 88.07 L101.15 84.62 L101.56 82.64 L101.97 79.96 L102.37 79.38 L102.78 85.4 L103.19 88.29 L103.6 83.64 L104 88.82 L104.41 90.89 L104.82 90.47 L105.22 95.64 L105.63 93.56 L106.04 99.1 L106.44 94.84 L106.85 92.92 L107.26 95.33 L107.67 95.73 L108.07 87.98 L108.48 89.26 L108.89 90.44 L109.29 91.61 L109.7 92.21 L110.11 92.11 L110.51 93.78 L110.92 92.83 L111.33 93.55 L111.74 96.23 L112.14 98.29 L112.55 97.91 L112.96 97.76 L113.36 99.78 L113.77 96.19 L114.18 91.71 L114.58 87.19 L114.99 82.32 L115.4 78.08 L115.81 84.93 L116.21 84.17 L116.62 85.8 L117.03 85.63 L117.43 83.18 L117.84 89.35 L118.25 88.85 L118.66 92.79 L119.06 94.81 L119.47 93.59 L119.88 91.34 L120.28 91.93 L120.69 89.29 L121.1 93.89 L121.5 92.24 L121.91 91.83 L122.32 93.42 L122.73 88.16 L123.13 93.96 L123.54 91.82 L123.95 95.79 L124.35 96.83 L124.76 94.35 L125.17 97.11 L125.57 95.85 L125.98 94.33 L126.39 95.65 L126.8 96.84 L127.2 96.96 L127.61 97.44 L128.02 99.24 L128.42 99.92 L128.83 101.54 L129.24 100.93 L129.64 98.07 L130.05 96.27 L130.46 101.03 L130.87 93.82 L131.27 93.66 L131.68 94.53 L132.09 93.26 L132.49 90.88 L132.9 91.73 L133.31 92.99 L133.72 94.31 L134.12 91.79 L134.53 87.77 L134.94 86.43 L135.34 89.34 L135.75 85.14 L136.16 86 L136.56 91.23 L136.97 93.67 L137.38 90.81 L137.79 95.05 L138.19 89.48 L138.6 88.53 L139.01 91.2 L139.41 93.08 L139.82 91.59 L140.23 89.73 L140.63 91.23 L141.04 88.12 L141.45 88.36 L141.86 90.82 L142.26 92.4 L142.67 90.74 L143.08 97.7 L143.48 93.81 L143.89 91.86 L144.3 93.46 L144.7 96.94 L145.11 99.1 L145.52 96.83 L145.93 94.25 L146.33 97.25 L146.74 102.33 L147.15 100.85 L147.55 93.13 L147.96 99.42 L148.37 92.32 L148.77 90.33 L149.18 90.27 L149.59 89.5 L150 93.53 L150.4 88.37 L150.81 90.78 L151.22 95.58 L151.62 98.66 L152.03 97.89 L152.44 93.04 L152.85 88.03 L153.25 89.83 L153.66 89.94 L154.07 89.79 L154.47 88.89 L154.88 86.34 L155.29 86.75 L155.69 86.5 L156.1 89.95 L156.51 89.5 L156.92 87.04 L157.32 89.02 L157.73 96.42 L158.14 87.79 L158.54 89.37 L158.95 93.36 L159.36 97.25 L159.76 99.48 L160.17 93.28 L160.58 94.03 L160.99 97.39 L161.39 101.45 L161.8 101.17 L162.21 97.09 L162.61 100.84 L163.02 98.84 L163.43 89.97 L163.83 86.2 L164.24 87.28 L164.65 89.19 L165.06 91.33 L165.46 87.13 L165.87 92.57 L166.28 90.89 L166.68 88.06 L167.09 90.04 L167.5 91.39 L167.91 92.16 L168.31 87.52 L168.72 86.46 L169.13 87.52 L169.53 87.43 L169.94 86.64 L170.35 91.6 L170.75 93.26 L171.16 94.02 L171.57 92.37 L171.98 88.33 L172.38 85.43 L172.79 88.07 L173.2 87.51 L173.6 91.32 L174.01 93.79 L174.42 93.81 L174.82 95.92 L175.23 98.53 L175.64 92.49 L176.05 93.51 L176.45 98.34 L176.86 100 L177.27 98.41 L177.67 95.2 L178.08 97.15 L178.49 93.22 L178.89 93.2 L179.3 94.99 L179.71 92.93 L180.12 94.36 L180.52 92.59 L180.93 93.18 L181.34 93.73 L181.74 92.76 L182.15 90.54 L182.56 89.8 L182.96 89.39 L183.37 89.01 L183.78 86.42 L184.19 84.51 L184.59 86.23 L185 88.69" fill="none" stroke="#000" stroke-width="1.0" stroke-linejoin="round"/>
</g>
<clipPath id="clip2"><rect x="234" y="27.4" width="121.5" height="97.4"/></clipPath>
<g clip-path="url(#clip2)">
<path d="M233.5 109.3 L234.47 99.38 L235.44 98.07 L236.42 91.92 L237.39 86.18 L238.36 71.59 L239.33 79.74 L240.3 43.39 L241.28 65.43 L242.25 60.34 L243.22 79.78 L244.19 69.22 L245.16 75.39 L246.14 80.28 L247.11 90.64 L248.08 102.79 L249.05 96.22 L250.02 98.73 L251 89.6 L251.97 102.23 L252.94 89.6 L253.91 98.84 L254.88 63.21 L255.86 45.75 L256.83 88.13 L257.8 86.5 L258.77 85.97 L259.74 58.33 L260.72 66.75 L261.69 65.5 L262.66 82.74 L263.63 99.3 L264.6 99.46 L265.58 100.94 L266.55 111.88 L267.52 103.04 L268.49 105.31 L269.46 93.86 L270.44 58.55 L271.41 78.1 L272.38 82.72 L273.35 81.17 L274.32 47.8 L275.3 60.69 L276.27 57.15 L277.24 87.44 L278.21 70.5 L279.18 95.62 L280.16 99.23 L281.13 101.92 L282.1 87.38 L283.07 95.21 L284.04 103.74 L285.02 86.95 L285.99 78.08 L286.96 79.88 L287.93 73.33 L288.9 59.07 L289.88 71.55 L290.85 65.75 L291.82 83.44 L292.79 63.78 L293.76 83.74 L294.74 98.88 L295.71 109.65 L296.68 90.2 L297.65 86.9 L298.62 93.64 L299.6 110.36 L300.57 94.51 L301.54 101.29 L302.51 85.35 L303.48 94.83 L304.46 78.03 L305.43 57.04 L306.4 57.82 L307.37 46.14 L308.34 76.64 L309.32 94.89 L310.29 86.15 L311.26 85.93 L312.23 96.86 L313.2 94.32 L314.18 101.52 L315.15 95.82 L316.12 97.98 L317.09 101.21 L318.06 97.13 L319.04 83.58 L320.01 70.95 L320.98 90.56 L321.95 62.16 L322.92 64.59 L323.9 73.96 L324.87 88.97 L325.84 78.2 L326.81 85.69 L327.78 101.53 L328.76 105.28 L329.73 84.6 L330.7 94.97 L331.67 95.74 L332.64 73.7 L333.62 92.16 L334.59 95.61 L335.56 81.9 L336.53 85.7 L337.5 82.33 L338.48 83.61 L339.45 70.14 L340.42 100.19 L341.39 63.59 L342.36 71.22 L343.34 87.58 L344.31 65.96 L345.28 73.59 L346.25 94.05 L347.22 103.98 L348.2 111.21 L349.17 105.13 L350.14 92.14 L351.11 81.02 L352.08 83.13 L353.06 82.24 L354.03 78.25 L355 86.84" fill="none" stroke="#d2d2d2" stroke-width="0.8" stroke-linejoin="round"/>
<path d="M233.5 90.56 L234.47 90.57 L235.44 100.72 L236.42 115.43 L237.39 100.55 L238.36 66.16 L239.33 68.76 L240.3 30.63 L241.28 30.06 L242.25 48.23 L243.22 48.41 L244.19 44.27 L245.16 51.79 L246.14 63.94 L247.11 81.72 L248.08 91.47 L249.05 80.31 L250.02 98.36 L251 91.99 L251.97 94.95 L252.94 92.63 L253.91 82.21 L254.88 61.38 L255.86 59.78 L256.83 51.78 L257.8 54.91 L258.77 50.17 L259.74 33.8 L260.72 49.86 L261.69 76.23 L262.66 70.98 L263.63 80.9 L264.6 87.01 L265.58 90.23 L266.55 106.51 L267.52 102.04 L268.49 109.43 L269.46 100.4 L270.44 92.74 L271.41 76.62 L272.38 50.31 L273.35 40.46 L274.32 48.6 L275.3 37.49 L276.27 23.75 L277.24 64.16 L278.21 79.99 L279.18 68.91 L280.16 99.12 L281.13 79.4 L282.1 92.32 L283.07 97.81 L284.04 87.51 L285.02 91.86 L285.99 71.04 L286.96 61.68 L287.93 53.5 L288.9 55.53 L289.88 49.03 L290.85 48.07 L291.82 65.15 L292.79 58.39 L293.76 63.07 L294.74 82.81 L295.71 88.32 L296.68 106.59 L297.65 85.68 L298.62 95.89 L299.6 94.76 L300.57 87.69 L301.54 96.91 L302.51 90.03 L303.48 68.44 L304.46 74.25 L305.43 66.4 L306.4 58.93 L307.37 23.98 L308.34 23.48 L309.32 58.74 L310.29 77.78 L311.26 86.5 L312.23 80.43 L313.2 73.61 L314.18 82.98 L315.15 89.27 L316.12 94.65 L317.09 98.04 L318.06 98.46 L319.04 87.08 L320.01 49.39 L320.98 83.02 L321.95 55.05 L322.92 70.65 L323.9 60.68 L324.87 62.25 L325.84 55.27 L326.81 61.34 L327.78 86.56 L328.76 86.32 L329.73 94.4 L330.7 95.1 L331.67 89.37 L332.64 90.07 L333.62 93.2 L334.59 101.16 L335.56 101.81 L336.53 85.27 L337.5 57.1 L338.48 85.32 L339.45 64.37 L340.42 53.3 L341.39 33.03 L342.36 38.26 L343.34 72.52 L344.31 72.36 L345.28 74.14 L346.25 55.53 L347.22 80.47 L348.2 76.62 L349.17 90.99 L350.14 92.48 L351.11 80.51 L352.08 77.22 L353.06 63.19 L354.03 57.26 L355 45.96" fill="none" stroke="#d2d2d2" stroke-width="0.8" stroke-linejoin="round"/>
<path d="M233.5 80.89 L234.47 69.37 L235.44 100.07 L236.42 91.62 L237.39 77.23 L238.36 80.07 L239.33 65.29 L240.3 69.94 L241.28 50.9 L242.25 53.57 L243.22 58.21 L244.19 35.7 L245.16 71.27 L246.14 69.76 L247.11 64.14 L248.08 89.22 L249.05 97.68 L250.02 74.84 L251 106.94 L251.97 98.1 L252.94 95.47 L253.91 62.12 L254.88 64.66 L255.86 33.37 L256.83 57.12 L257.8 70.46 L258.77 46.68 L259.74 33.37 L260.72 50.47 L261.69 57.77 L262.66 81.51 L263.63 69.49 L264.6 81.04 L265.58 102.93 L266.55 88.82 L267.52 90.7 L268.49 99.78 L269.46 74.17 L270.44 53.81 L271.41 73.27 L272.38 42.2 L273.35 64.27 L274.32 58.59 L275.3 45.34 L276.27 63.53 L277.24 25.59 L278.21 76.97 L279.18 69.08 L280.16 95.82 L281.13 81.82 L282.1 94.87 L283.07 87.74 L284.04 88.64 L285.02 72.35 L285.99 72.67 L286.96 67.18 L287.93 29.1 L288.9 43.56 L289.88 78.55 L290.85 62.06 L291.82 82.73 L292.79 44.78 L293.76 37.21 L294.74 69.55 L295.71 100.29 L296.68 89.92 L297.65 87.28 L298.62 89.74 L299.6 93.63 L300.57 95.45 L301.54 77.1 L302.51 80.24 L303.48 63.34 L304.46 48.7 L305.43 64.68 L306.4 44.88 L307.37 50.71 L308.34 68.21 L309.32 66.72 L310.29 66.41 L311.26 82.92 L312.23 84.21 L313.2 78.39 L314.18 96.79 L315.15 97.34 L316.12 94.44 L317.09 95.82 L318.06 85.45 L319.04 72.88 L320.01 68.34 L320.98 49.49 L321.95 64.17 L322.92 53.3 L323.9 42.75 L324.87 56.15 L325.84 64.55 L326.81 59.67 L327.78 69.29 L328.76 91.78 L329.73 96.82 L330.7 101.04 L331.67 91.34 L332.64 86.09 L333.62 95.77 L334.59 100.34 L335.56 69.58 L336.53 81.52 L337.5 57.3 L338.48 61.46 L339.45 71.02 L340.42 65.03 L341.39 42.46 L342.36 80.57 L343.34 81.6 L344.31 44.13 L345.28 69.93 L346.25 63.78 L347.22 86.95 L348.2 77.34 L349.17 101.37 L350.14 83.97 L351.11 80.89 L352.08 54.82 L353.06 59.28 L354.03 70.26 L355 58.91" fill="none" stroke="#d2d2d2" stroke-width="0.8" stroke-linejoin="round"/>
<path d="M233.5 95.58 L234.47 105.14 L235.44 98.55 L236.42 82.16 L237.39 81.84 L238.36 54.32 L239.33 72.12 L240.3 63.13 L241.28 56.02 L242.25 71.92 L243.22 47.26 L244.19 70.13 L245.16 72.01 L246.14 85.01 L247.11 83.44 L248.08 67.04 L249.05 88.04 L250.02 85.95 L251 99.22 L251.97 106.84 L252.94 93.18 L253.91 63.64 L254.88 89.24 L255.86 94.17 L256.83 64.46 L257.8 56.3 L258.77 52.89 L259.74 64.01 L260.72 65.81 L261.69 69.69 L262.66 87.32 L263.63 91.01 L264.6 76.79 L265.58 115.38 L266.55 89.26 L267.52 102.04 L268.49 99.52 L269.46 86.39 L270.44 77.26 L271.41 61.29 L272.38 72.07 L273.35 91.88 L274.32 62.88 L275.3 44.68 L276.27 58.95 L277.24 86.83 L278.21 94.3 L279.18 86.88 L280.16 97.73 L281.13 106.14 L282.1 93.29 L283.07 91.34 L284.04 94.04 L285.02 92.76 L285.99 77.59 L286.96 82.45 L287.93 103.71 L288.9 66.5 L289.88 59.68 L290.85 64.55 L291.82 70.82 L292.79 53.58 L293.76 70.23 L294.74 98.3 L295.71 87.93 L296.68 93.85 L297.65 103.16 L298.62 104.52 L299.6 98.72 L300.57 103.22 L301.54 87.09 L302.51 88.07 L303.48 79.07 L304.46 57.53 L305.43 59.25 L306.4 66.36 L307.37 66.8 L308.34 44.73 L309.32 90.01 L310.29 73.13 L311.26 97.67 L312.23 101.74 L313.2 86.91 L314.18 97.22 L315.15 100.79 L316.12 105.61 L317.09 107.05 L318.06 97.52 L319.04 91.49 L320.01 82.54 L320.98 58.36 L321.95 81.22 L322.92 56.1 L323.9 80.67 L324.87 58.4 L325.84 63.32 L326.81 102.73 L327.78 83.39 L328.76 88.92 L329.73 88.41 L330.7 99.93 L331.67 86.4 L332.64 83.7 L333.62 100.31 L334.59 94.41 L335.56 73.19 L336.53 85.64 L337.5 80.97 L338.48 60.41 L339.45 71.16 L340.42 47.74 L341.39 54.09 L342.36 46.73 L343.34 85.02 L344.31 63.5 L345.28 86.02 L346.25 83.64 L347.22 88.19 L348.2 92.88 L349.17 106.11 L350.14 102.41 L351.11 75.23 L352.08 82.29 L353.06 61.74 L354.03 69.01 L355 80.83" fill="none" stroke="#d2d2d2" stroke-width="0.8" stroke-linejoin="round"/>
<path d="M233.5 93.15 L234.47 107.42 L235.44 96.34 L236.42 99.68 L237.39 92.04 L238.36 103.36 L239.33 87.97 L240.3 72.78 L241.28 99.92 L242.25 27.69 L243.22 86.09 L244.19 54.71 L245.16 81.47 L246.14 108.67 L247.11 104.22 L248.08 108.76 L249.05 102.08 L250.02 95.23 L251 97.56 L251.97 96.21 L252.94 94.15 L253.91 99.88 L254.88 85.69 L255.86 65.71 L256.83 78.34 L257.8 82.33 L258.77 60.76 L259.74 81.71 L260.72 101.53 L261.69 75.32 L262.66 79.9 L263.63 79.99 L264.6 90.46 L265.58 105.08 L266.55 92.31 L267.52 112.08 L268.49 98.21 L269.46 108.52 L270.44 90.26 L271.41 80.53 L272.38 98.71 L273.35 72.06 L274.32 100.56 L275.3 92.45 L276.27 98.33 L277.24 86.92 L278.21 75.26 L279.18 103.9 L280.16 98.56 L281.13 104.28 L282.1 95.39 L283.07 103.31 L284.04 101.92 L285.02 92.42 L285.99 80.65 L286.96 89.83 L287.93 94.38 L288.9 76.44 L289.88 63.77 L290.85 96.94 L291.82 74.39 L292.79 91.27 L293.76 102.1 L294.74 105.54 L295.71 86.03 L296.68 89.3 L297.65 102.05 L298.62 101.74 L299.6 106.55 L300.57 90.7 L301.54 98.33 L302.51 87.34 L303.48 78.38 L304.46 99.82 L305.43 104.09 L306.4 57.37 L307.37 71.68 L308.34 88.94 L309.32 89.36 L310.29 94.33 L311.26 93.73 L312.23 99.38 L313.2 105.02 L314.18 102.42 L315.15 87.74 L316.12 97.25 L317.09 92.29 L318.06 98.93 L319.04 89.38 L320.01 120.07 L320.98 67.87 L321.95 86.85 L322.92 91.88 L323.9 107.08 L324.87 53.64 L325.84 77.56 L326.81 68.69 L327.78 99.14 L328.76 85.14 L329.73 90.08 L330.7 96.67 L331.67 81.73 L332.64 108.72 L333.62 114.79 L334.59 95.87 L335.56 85.72 L336.53 86.39 L337.5 88.17 L338.48 99.88 L339.45 77.93 L340.42 85 L341.39 67.21 L342.36 72.9 L343.34 88.91 L344.31 86.76 L345.28 95.21 L346.25 90.01 L347.22 100.68 L348.2 97.29 L349.17 94.45 L350.14 93.33 L351.11 96.85 L352.08 101.89 L353.06 79.99 L354.03 76.81 L355 65.42" fill="none" stroke="#d2d2d2" stroke-width="0.8" stroke-linejoin="round"/>
<path d="M233.5 86.98 L234.47 87.53 L235.44 53.04 L236.42 72.33 L237.39 55.86 L238.36 49.8 L239.33 36.98 L240.3 33.17 L241.28 45.3 L242.25 50.05 L243.22 61.33 L244.19 60.33 L245.16 69.11 L246.14 84.82 L247.11 80.69 L248.08 84.18 L249.05 90.49 L250.02 82.09 L251 89.6 L251.97 69.75 L252.94 83.72 L253.91 57.9 L254.88 40.32 L255.86 52.1 L256.83 62.8 L257.8 46.67 L258.77 54.53 L259.74 51 L260.72 85.56 L261.69 75.61 L262.66 88.32 L263.63 88.77 L264.6 90.85 L265.58 98.84 L266.55 89.86 L267.52 91.95 L268.49 83.51 L269.46 56.55 L270.44 57.29 L271.41 36.43 L272.38 72.94 L273.35 41.7 L274.32 24.31 L275.3 51.92 L276.27 85.1 L277.24 61.49 L278.21 88.57 L279.18 86.16 L280.16 92.3 L281.13 77.69 L282.1 78.11 L283.07 89.02 L284.04 66.26 L285.02 68.08 L285.99 68.09 L286.96 80.7 L287.93 63.3 L288.9 68.62 L289.88 25.58 L290.85 53.34 L291.82 50.43 L292.79 61.29 L293.76 102.23 L294.74 91.15 L295.71 82.11 L296.68 92.7 L297.65 85.56 L298.62 105.15 L299.6 86.83 L300.57 89.42 L301.54 83.53 L302.51 55.32 L303.48 80.45 L304.46 53.66 L305.43 46.29 L306.4 23.48 L307.37 31.47 L308.34 59.81 L309.32 88.03 L310.29 88.13 L311.26 75.97 L312.23 99.78 L313.2 88.87 L314.18 87.82 L315.15 93.34 L316.12 99.31 L317.09 78.58 L318.06 76.73 L319.04 54.92 L320.01 28.25 L320.98 67.95 L321.95 64.96 L322.92 42.49 L323.9 61.5 L324.87 67.25 L325.84 71.16 L326.81 75.02 L327.78 89.91 L328.76 83.83 L329.73 88.62 L330.7 88.25 L331.67 85.05 L332.64 97.1 L333.62 91.68 L334.59 70.48 L335.56 58.07 L336.53 58.7 L337.5 63.99 L338.48 83.42 L339.45 60.45 L340.42 53.73 L341.39 45.54 L342.36 82.74 L343.34 72.48 L344.31 77.74 L345.28 68.17 L346.25 88.36 L347.22 87.03 L348.2 79.04 L349.17 79.19 L350.14 79.67 L351.11 57.18 L352.08 54.58 L353.06 68.12 L354.03 40.4 L355 28.43" fill="none" stroke="#d2d2d2" stroke-width="0.8" stroke-linejoin="round"/>
<path d="M233.5 103.12 L234.47 112.66 L235.44 119.76 L236.42 105.32 L237.39 92.14 L238.36 90.23 L239.33 62.52 L240.3 61.69 L241.28 28.25 L242.25 55.45 L243.22 57.51 L244.19 67.11 L245.16 53.29 L246.14 77.48 L247.11 84.4 L248.08 97.46 L249.05 91.03 L250.02 95.74 L251 96.82 L251.97 96.38 L252.94 92.37 L253.91 78.52 L254.88 71.21 L255.86 54.93 L256.83 43.72 L257.8 41.96 L258.77 66.39 L259.74 72.99 L260.72 72.26 L261.69 58.33 L262.66 93.64 L263.63 91.81 L264.6 105.55 L265.58 112.88 L266.55 101.14 L267.52 111.42 L268.49 113.48 L269.46 104.36 L270.44 76.5 L271.41 86.16 L272.38 83.47 L273.35 90.6 L274.32 61.3 L275.3 42.94 L276.27 58.52 L277.24 63.22 L278.21 86.07 L279.18 84.05 L280.16 99.02 L281.13 91.47 L282.1 88.49 L283.07 101.77 L284.04 95.93 L285.02 100.17 L285.99 77.33 L286.96 71.13 L287.93 80.28 L288.9 82.25 L289.88 48.88 L290.85 61.71 L291.82 92.76 L292.79 50.22 L293.76 67.15 L294.74 81.88 L295.71 108.89 L296.68 101.92 L297.65 93.07 L298.62 92.77 L299.6 105.54 L300.57 99.83 L301.54 95.15 L302.51 86.41 L303.48 88.59 L304.46 85.79 L305.43 67.47 L306.4 71.08 L307.37 23.48 L308.34 51.16 L309.32 95.97 L310.29 83.79 L311.26 99.65 L312.23 92.56 L313.2 92.44 L314.18 101.64 L315.15 115.08 L316.12 110.81 L317.09 96.79 L318.06 99.83 L319.04 103.36 L320.01 67.61 L320.98 66.33 L321.95 79.41 L322.92 66.57 L323.9 80.25 L324.87 59.03 L325.84 76.68 L326.81 67.26 L327.78 78.14 L328.76 92.95 L329.73 100.61 L330.7 107.45 L331.67 96.83 L332.64 100.45 L333.62 108.25 L334.59 114.51 L335.56 83.48 L336.53 75.45 L337.5 52.76 L338.48 82.96 L339.45 64.73 L340.42 100.39 L341.39 58.89 L342.36 68.77 L343.34 61.7 L344.31 78.26 L345.28 82.04 L346.25 92.04 L347.22 103.57 L348.2 91.45 L349.17 120.94 L350.14 103.19 L351.11 85.81 L352.08 95.03 L353.06 66.39 L354.03 84.98 L355 37.69" fill="none" stroke="#d2d2d2" stroke-width="0.8" stroke-linejoin="round"/>
<path d="M233.5 106.93 L234.47 107.57 L235.44 103.26 L236.42 103.36 L237.39 96.04 L238.36 79.85 L239.33 102.69 L240.3 68.43 L241.28 79.9 L242.25 68.86 L243.22 62.78 L244.19 71.8 L245.16 110.93 L246.14 95.54 L247.11 104.09 L248.08 96.35 L249.05 96.15 L250.02 112.01 L251 92.83 L251.97 98.43 L252.94 98.87 L253.91 93.12 L254.88 94.74 L255.86 66.9 L256.83 61.65 L257.8 69 L258.77 58.79 L259.74 77.24 L260.72 88.64 L261.69 96.61 L262.66 91.83 L263.63 94.03 L264.6 86.29 L265.58 95.13 L266.55 101.08 L267.52 115.19 L268.49 106.77 L269.46 95.34 L270.44 95.71 L271.41 76.16 L272.38 69.68 L273.35 88.85 L274.32 80 L275.3 65.43 L276.27 83.94 L277.24 75.52 L278.21 91.99 L279.18 78.36 L280.16 94.25 L281.13 101.93 L282.1 95.35 L283.07 99.92 L284.04 102.62 L285.02 88.64 L285.99 89.7 L286.96 81.04 L287.93 81.29 L288.9 86.34 L289.88 78.56 L290.85 98.16 L291.82 69.17 L292.79 70.73 L293.76 92.64 L294.74 75.76 L295.71 103.94 L296.68 95.06 L297.65 80.13 L298.62 104.97 L299.6 106.59 L300.57 101.24 L301.54 100.47 L302.51 101.55 L303.48 102.15 L304.46 77.53 L305.43 98.25 L306.4 80.2 L307.37 61.13 L308.34 79.94 L309.32 73.43 L310.29 73.91 L311.26 88.6 L312.23 98.94 L313.2 101 L314.18 94.34 L315.15 109.92 L316.12 106.24 L317.09 100.3 L318.06 99.13 L319.04 87.59 L320.01 93.33 L320.98 87.82 L321.95 102.13 L322.92 70.01 L323.9 54.88 L324.87 90.31 L325.84 63.08 L326.81 93.76 L327.78 85.31 L328.76 108.18 L329.73 87.66 L330.7 93.33 L331.67 110.04 L332.64 97.51 L333.62 98.97 L334.59 99.29 L335.56 97.97 L336.53 92.54 L337.5 95.87 L338.48 82.7 L339.45 82.68 L340.42 73 L341.39 90.87 L342.36 60.59 L343.34 94.32 L344.31 88.03 L345.28 84.24 L346.25 81.54 L347.22 90.86 L348.2 102.75 L349.17 102.99 L350.14 94.22 L351.11 97.96 L352.08 88.47 L353.06 83.74 L354.03 98.56 L355 75.74" fill="none" stroke="#bfbfbf" stroke-width="0.8" stroke-linejoin="round"/>
<path d="M233.5 101.71 L234.47 116.77 L235.44 106.9 L236.42 99.97 L237.39 84.15 L238.36 63.05 L239.33 80.58 L240.3 81.58 L241.28 51.83 L242.25 88.65 L243.22 66.72 L244.19 62.97 L245.16 90.65 L246.14 87.79 L247.11 81.41 L248.08 92.79 L249.05 91.42 L250.02 107.88 L251 104.96 L251.97 95.82 L252.94 97.14 L253.91 85.71 L254.88 76.34 L255.86 57.13 L256.83 57.51 L257.8 73.39 L258.77 82.89 L259.74 65.59 L260.72 89.57 L261.69 87.32 L262.66 100.38 L263.63 92.97 L264.6 96.75 L265.58 99.14 L266.55 101.75 L267.52 100.21 L268.49 107.08 L269.46 95.06 L270.44 79.6 L271.41 71.97 L272.38 74.77 L273.35 77.33 L274.32 58.11 L275.3 38.37 L276.27 82.37 L277.24 66 L278.21 86.58 L279.18 96 L280.16 96.86 L281.13 92.46 L282.1 106.93 L283.07 94.55 L284.04 102.92 L285.02 95.74 L285.99 92.76 L286.96 94.51 L287.93 89.65 L288.9 77.23 L289.88 73.25 L290.85 85.13 L291.82 70.48 L292.79 80.68 L293.76 97.05 L294.74 104.93 L295.71 101.11 L296.68 104.35 L297.65 105.42 L298.62 100.76 L299.6 116.18 L300.57 101.49 L301.54 93.32 L302.51 77.82 L303.48 78.85 L304.46 80.44 L305.43 94.78 L306.4 88.98 L307.37 71.9 L308.34 72.85 L309.32 63.13 L310.29 92.81 L311.26 95.3 L312.23 87 L313.2 111.79 L314.18 94.4 L315.15 106.09 L316.12 106.54 L317.09 98.39 L318.06 98.36 L319.04 68.93 L320.01 76.92 L320.98 65.73 L321.95 90.62 L322.92 65.73 L323.9 60.64 L324.87 62.22 L325.84 92.19 L326.81 85.95 L327.78 100.92 L328.76 91.3 L329.73 94.12 L330.7 97.53 L331.67 99.21 L332.64 103.09 L333.62 108.53 L334.59 105.41 L335.56 99.81 L336.53 101.17 L337.5 97.32 L338.48 54.76 L339.45 71.44 L340.42 83.69 L341.39 83.09 L342.36 94.09 L343.34 83.37 L344.31 105.52 L345.28 93.93 L346.25 105.41 L347.22 103.1 L348.2 106.77 L349.17 104.9 L350.14 99.12 L351.11 96.34 L352.08 80.2 L353.06 75.4 L354.03 88.02 L355 105.56" fill="none" stroke="#bfbfbf" stroke-width="0.8" stroke-linejoin="round"/>
<path d="M233.5 91.69 L234.47 106 L235.44 102.79 L236.42 93.65 L237.39 79.17 L238.36 87.5 L239.33 53.43 L240.3 38.73 L241.28 56.44 L242.25 57.83 L243.22 76.65 L244.19 70.15 L245.16 66.05 L246.14 92.91 L247.11 87.85 L248.08 100.8 L249.05 104.81 L250.02 92.26 L251 99.68 L251.97 94.89 L252.94 99.51 L253.91 84.33 L254.88 62.08 L255.86 76.73 L256.83 79.37 L257.8 71.43 L258.77 51.62 L259.74 58.23 L260.72 72.28 L261.69 65.95 L262.66 94.14 L263.63 92.38 L264.6 93.41 L265.58 93.99 L266.55 105.39 L267.52 107.72 L268.49 102.93 L269.46 82.93 L270.44 73.3 L271.41 82.89 L272.38 63.22 L273.35 44.51 L274.32 50.65 L275.3 51.4 L276.27 77.67 L277.24 61.91 L278.21 80.93 L279.18 89.8 L280.16 88.5 L281.13 102.89 L282.1 94.47 L283.07 103.68 L284.04 99.12 L285.02 78.86 L285.99 57.55 L286.96 67.58 L287.93 71.21 L288.9 59.71 L289.88 37.14 L290.85 65.72 L291.82 66.6 L292.79 77.49 L293.76 66.63 L294.74 89 L295.71 86.11 L296.68 97.11 L297.65 97.38 L298.62 111.41 L299.6 97.78 L300.57 95.43 L301.54 91 L302.51 78.73 L303.48 78.78 L304.46 84.85 L305.43 61.49 L306.4 61.37 L307.37 44.22 L308.34 64.4 L309.32 88.29 L310.29 72.6 L311.26 97.13 L312.23 85.82 L313.2 92.4 L314.18 91.97 L315.15 99.81 L316.12 103.67 L317.09 103.75 L318.06 96.17 L319.04 90.4 L320.01 75.04 L320.98 72.06 L321.95 70.07 L322.92 67.99 L323.9 60.95 L324.87 50.48 L325.84 91.56 L326.81 97.99 L327.78 86.69 L328.76 86.25 L329.73 82.54 L330.7 90.44 L331.67 102.41 L332.64 95.16 L333.62 102.48 L334.59 89.6 L335.56 78.33 L336.53 79.8 L337.5 67.9 L338.48 79.68 L339.45 73.57 L340.42 70.5 L341.39 65.35 L342.36 75.88 L343.34 73.24 L344.31 83.04 L345.28 90.17 L346.25 88.66 L347.22 92.87 L348.2 90.6 L349.17 76.65 L350.14 89.16 L351.11 77.21 L352.08 83.82 L353.06 86.63 L354.03 88.64 L355 68" fill="none" stroke="#bfbfbf" stroke-width="0.8" stroke-linejoin="round"/>
<path d="M233.5 91.41 L234.47 100.93 L235.44 109.05 L236.42 90.15 L237.39 91.05 L238.36 86.64 L239.33 96.99 L240.3 73.76 L241.28 67.85 L242.25 83.49 L243.22 93.7 L244.19 81.43 L245.16 77.17 L246.14 77.63 L247.11 93.74 L248.08 98.92 L249.05 96.65 L250.02 99.99 L251 110.73 L251.97 111.09 L252.94 98.46 L253.91 107.96 L254.88 79.56 L255.86 81.03 L256.83 82.55 L257.8 71.89 L258.77 63.03 L259.74 76.76 L260.72 77.74 L261.69 76.93 L262.66 84.47 L263.63 95.91 L264.6 97.68 L265.58 97.34 L266.55 97.91 L267.52 99.85 L268.49 99.9 L269.46 91.87 L270.44 97.08 L271.41 69.8 L272.38 69.89 L273.35 75.45 L274.32 98.84 L275.3 62.74 L276.27 69.62 L277.24 71.96 L278.21 77.78 L279.18 91.08 L280.16 101.36 L281.13 102.23 L282.1 101.57 L283.07 100.48 L284.04 92.04 L285.02 104.2 L285.99 83.27 L286.96 78.46 L287.93 88.35 L288.9 74.6 L289.88 72.05 L290.85 74.08 L291.82 79.81 L292.79 75.21 L293.76 67.04 L294.74 92.2 L295.71 94.34 L296.68 98.26 L297.65 96.11 L298.62 96.39 L299.6 106.97 L300.57 105.33 L301.54 102.74 L302.51 89.26 L303.48 99.81 L304.46 97.43 L305.43 83.27 L306.4 98.13 L307.37 85.07 L308.34 93.19 L309.32 89.49 L310.29 88.02 L311.26 91.51 L312.23 88.89 L313.2 88.83 L314.18 96.87 L315.15 94.2 L316.12 92.69 L317.09 93.27 L318.06 108.82 L319.04 91.47 L320.01 87.51 L320.98 81.2 L321.95 91.24 L322.92 74.97 L323.9 68.77 L324.87 77.82 L325.84 73.72 L326.81 76.29 L327.78 87.86 L328.76 96.52 L329.73 100.12 L330.7 98.7 L331.67 106.79 L332.64 100.88 L333.62 95.05 L334.59 103.66 L335.56 93 L336.53 82.28 L337.5 82.42 L338.48 95.31 L339.45 79.47 L340.42 74.44 L341.39 82.77 L342.36 97.07 L343.34 113.87 L344.31 84.98 L345.28 85.83 L346.25 93.73 L347.22 92.31 L348.2 92.39 L349.17 95.85 L350.14 92.56 L351.11 104.93 L352.08 89.02 L353.06 106.78 L354.03 86.93 L355 81.01" fill="none" stroke="#bfbfbf" stroke-width="0.8" stroke-linejoin="round"/>
<path d="M233.5 60.92 L234.47 98.82 L235.44 99.63 L236.42 90.25 L237.39 98.05 L238.36 69.73 L239.33 75 L240.3 36.04 L241.28 76.32 L242.25 54.9 L243.22 51.36 L244.19 45.56 L245.16 70.19 L246.14 76.11 L247.11 75.79 L248.08 81.85 L249.05 89.42 L250.02 90.51 L251 93.05 L251.97 88.69 L252.94 87.26 L253.91 81.04 L254.88 43.64 L255.86 72.15 L256.83 47.81 L257.8 53.24 L258.77 54.17 L259.74 65.83 L260.72 59.04 L261.69 78.23 L262.66 84.15 L263.63 81.12 L264.6 97.37 L265.58 91.85 L266.55 97.91 L267.52 93.77 L268.49 94.86 L269.46 87.32 L270.44 58.09 L271.41 69.68 L272.38 62.69 L273.35 81.89 L274.32 33.92 L275.3 68.89 L276.27 55.71 L277.24 39.99 L278.21 70.25 L279.18 86.65 L280.16 78.73 L281.13 81.04 L282.1 100.43 L283.07 90.24 L284.04 82.84 L285.02 87.14 L285.99 79.54 L286.96 64.28 L287.93 65.55 L288.9 50.18 L289.88 78.18 L290.85 58.07 L291.82 50.94 L292.79 59.05 L293.76 71.41 L294.74 82.85 L295.71 85.16 L296.68 89.06 L297.65 91.12 L298.62 80.86 L299.6 95.2 L300.57 89.17 L301.54 82.8 L302.51 81.4 L303.48 80.63 L304.46 73.89 L305.43 65.19 L306.4 33.94 L307.37 35.51 L308.34 59.75 L309.32 70.29 L310.29 84.89 L311.26 87.98 L312.23 84.66 L313.2 73.74 L314.18 95.35 L315.15 88.64 L316.12 95.43 L317.09 93.09 L318.06 88.11 L319.04 76.61 L320.01 57.34 L320.98 74.95 L321.95 47.41 L322.92 50.58 L323.9 49.48 L324.87 57.65 L325.84 77.25 L326.81 60.66 L327.78 95.83 L328.76 86.12 L329.73 87.52 L330.7 88.09 L331.67 86.85 L332.64 101.41 L333.62 97.9 L334.59 84.48 L335.56 78.61 L336.53 54.24 L337.5 68.61 L338.48 65.12 L339.45 67.82 L340.42 61.93 L341.39 86.91 L342.36 75.11 L343.34 61.9 L344.31 66.81 L345.28 68.58 L346.25 83.75 L347.22 81.89 L348.2 85.28 L349.17 83.37 L350.14 79.85 L351.11 78.97 L352.08 60.15 L353.06 43.58 L354.03 66.6 L355 53.16" fill="none" stroke="#bfbfbf" stroke-width="0.8" stroke-linejoin="round"/>
<path d="M233.5 94.74 L234.47 86.05 L235.44 101.69 L236.42 93.65 L237.39 64.91 L238.36 50.98 L239.33 64.08 L240.3 65.84 L241.28 70.21 L242.25 44.84 L243.22 60.38 L244.19 47.75 L245.16 87.48 L246.14 72.98 L247.11 88.12 L248.08 86.74 L249.05 93.66 L250.02 90.84 L251 95.25 L251.97 86.22 L252.94 83.31 L253.91 74.02 L254.88 77.35 L255.86 46.83 L256.83 85.17 L257.8 63.82 L258.77 100.4 L259.74 65.22 L260.72 68.25 L261.69 76.72 L262.66 77.17 L263.63 93.95 L264.6 92.96 L265.58 96.75 L266.55 102.42 L267.52 98.68 L268.49 89.76 L269.46 69.99 L270.44 69.64 L271.41 89.13 L272.38 66.36 L273.35 52.74 L274.32 59.19 L275.3 95.96 L276.27 77.46 L277.24 70.78 L278.21 77.25 L279.18 88.46 L280.16 92.37 L281.13 91.52 L282.1 104.72 L283.07 102.99 L284.04 97.82 L285.02 78.77 L285.99 69.18 L286.96 64.81 L287.93 55.92 L288.9 70.51 L289.88 38.18 L290.85 45.1 L291.82 74.99 L292.79 68.56 L293.76 90.22 L294.74 91.21 L295.71 95.93 L296.68 92.98 L297.65 100.78 L298.62 94.06 L299.6 99.8 L300.57 89.09 L301.54 86.56 L302.51 81.08 L303.48 68.26 L304.46 66.57 L305.43 66.51 L306.4 62.47 L307.37 69.69 L308.34 61.21 L309.32 74.31 L310.29 96.1 L311.26 98.74 L312.23 103.98 L313.2 91.79 L314.18 96.53 L315.15 101.55 L316.12 104.62 L317.09 98.42 L318.06 77.07 L319.04 60.83 L320.01 69.59 L320.98 79.53 L321.95 77.77 L322.92 63.84 L323.9 58.69 L324.87 71.84 L325.84 75.07 L326.81 77.28 L327.78 86.71 L328.76 91.04 L329.73 85.72 L330.7 90.81 L331.67 91.19 L332.64 101.83 L333.62 107.23 L334.59 88.58 L335.56 86.45 L336.53 75.05 L337.5 50.76 L338.48 60.77 L339.45 65.26 L340.42 55.8 L341.39 64.41 L342.36 67.79 L343.34 82.14 L344.31 92.67 L345.28 90.04 L346.25 81.32 L347.22 89.45 L348.2 101.25 L349.17 79.27 L350.14 97.18 L351.11 78.07 L352.08 62.46 L353.06 70.53 L354.03 83.24 L355 74.06" fill="none" stroke="#bfbfbf" stroke-width="0.8" stroke-linejoin="round"/>
<path d="M233.5 96.32 L234.47 102.69 L235.44 105.2 L236.42 101.14 L237.39 88.78 L238.36 79.31 L239.33 63.2 L240.3 66.45 L241.28 96.34 L242.25 79.19 L243.22 65.83 L244.19 74.17 L245.16 104.05 L246.14 74.88 L247.11 91.37 L248.08 95.46 L249.05 111.46 L250.02 106.31 L251 98.83 L251.97 103.41 L252.94 93.03 L253.91 78.35 L254.88 86.91 L255.86 59.08 L256.83 72.28 L257.8 85.71 L258.77 49.78 L259.74 63.04 L260.72 95.23 L261.69 76.07 L262.66 94.24 L263.63 95.94 L264.6 91.38 L265.58 97.29 L266.55 100.71 L267.52 97.62 L268.49 99.05 L269.46 91.12 L270.44 81.88 L271.41 67.89 L272.38 74.98 L273.35 54.19 L274.32 81.13 L275.3 76.04 L276.27 73.94 L277.24 86.41 L278.21 78.11 L279.18 91.47 L280.16 83.94 L281.13 100.02 L282.1 89.19 L283.07 98.27 L284.04 99.06 L285.02 74.54 L285.99 92.29 L286.96 60.42 L287.93 73.49 L288.9 65.97 L289.88 74.91 L290.85 72.44 L291.82 78.85 L292.79 77.68 L293.76 87.14 L294.74 93.69 L295.71 92.83 L296.68 91.96 L297.65 93.3 L298.62 94.93 L299.6 111.71 L300.57 95.94 L301.54 99.11 L302.51 84.3 L303.48 75.22 L304.46 55.42 L305.43 78.36 L306.4 55.1 L307.37 48.44 L308.34 59.58 L309.32 78.13 L310.29 91.03 L311.26 88.13 L312.23 95.21 L313.2 85.71 L314.18 86.64 L315.15 96.08 L316.12 96.32 L317.09 98.57 L318.06 92 L319.04 96.92 L320.01 86.23 L320.98 78.53 L321.95 75.06 L322.92 43.94 L323.9 66.21 L324.87 71.96 L325.84 91.81 L326.81 91.65 L327.78 96.97 L328.76 104.17 L329.73 105.53 L330.7 90.66 L331.67 92.56 L332.64 100.5 L333.62 99.5 L334.59 90.68 L335.56 89.23 L336.53 63.34 L337.5 108.84 L338.48 87.58 L339.45 61.53 L340.42 79.98 L341.39 75.24 L342.36 79.04 L343.34 87.97 L344.31 80.03 L345.28 85.51 L346.25 82.2 L347.22 105.17 L348.2 93.99 L349.17 97.68 L350.14 92.4 L351.11 79.93 L352.08 68.28 L353.06 82.72 L354.03 115.17 L355 57.96" fill="none" stroke="#bfbfbf" stroke-width="0.8" stroke-linejoin="round"/>
<path d="M233.5 88.27 L234.47 95.73 L235.44 106.09 L236.42 96.19 L237.39 68.34 L238.36 54.57 L239.33 32.29 L240.3 39.84 L241.28 53.32 L242.25 29.49 L243.22 40.97 L244.19 57.94 L245.16 62.3 L246.14 81.13 L247.11 79.3 L248.08 83.35 L249.05 96.31 L250.02 86.23 L251 90.03 L251.97 84.36 L252.94 98.58 L253.91 67.66 L254.88 49.86 L255.86 45.64 L256.83 56.54 L257.8 32.04 L258.77 58.19 L259.74 49.87 L260.72 74.36 L261.69 70.13 L262.66 68.47 L263.63 98.87 L264.6 94.23 L265.58 116.47 L266.55 97.81 L267.52 100.12 L268.49 104.64 L269.46 76.75 L270.44 65.54 L271.41 72.78 L272.38 62.01 L273.35 67.61 L274.32 45.53 L275.3 48.53 L276.27 59.59 L277.24 87.71 L278.21 60.21 L279.18 80.12 L280.16 86.82 L281.13 91.17 L282.1 92.62 L283.07 104.86 L284.04 106.52 L285.02 77.08 L285.99 69.14 L286.96 57.84 L287.93 45.59 L288.9 57.2 L289.88 57.8 L290.85 67.06 L291.82 70.43 L292.79 51.83 L293.76 65.64 L294.74 77.84 L295.71 87.82 L296.68 84.66 L297.65 87.01 L298.62 87.89 L299.6 104.07 L300.57 104.21 L301.54 83.91 L302.51 85.72 L303.48 52.71 L304.46 74.97 L305.43 57.1 L306.4 59.09 L307.37 40.49 L308.34 46.52 L309.32 74.26 L310.29 83.97 L311.26 79.19 L312.23 79.8 L313.2 86.07 L314.18 93.83 L315.15 101.18 L316.12 101.16 L317.09 93.12 L318.06 76.99 L319.04 79.93 L320.01 77.72 L320.98 54.8 L321.95 80.66 L322.92 58.31 L323.9 58.73 L324.87 54.71 L325.84 74.82 L326.81 83.27 L327.78 70.49 L328.76 92.76 L329.73 86.07 L330.7 81.97 L331.67 87.41 L332.64 98.85 L333.62 98.82 L334.59 90.91 L335.56 62.13 L336.53 68.42 L337.5 68.46 L338.48 72.86 L339.45 44.98 L340.42 71.17 L341.39 47.87 L342.36 72.36 L343.34 82.33 L344.31 81.93 L345.28 64.48 L346.25 82.54 L347.22 87.09 L348.2 94.33 L349.17 99.1 L350.14 97.52 L351.11 78.18 L352.08 58.84 L353.06 70.7 L354.03 60.95 L355 50.11" fill="none" stroke="#bfbfbf" stroke-width="0.8" stroke-linejoin="round"/>
<path d="M233.5 97.45 L233.91 97.72 L234.31 100.83 L234.72 103.28 L235.13 102.26 L235.53 101.21 L235.94 100.47 L236.34 96.07 L236.75 91.2 L237.16 87.15 L237.56 84.11 L237.97 80.92 L238.38 77.1 L238.78 77.12 L239.19 72.61 L239.6 70.97 L240 70.78 L240.41 69.23 L240.81 65.84 L241.22 63.85 L241.63 65.04 L242.03 66.39 L242.44 66.77 L242.85 66.57 L243.25 68.57 L243.66 69.89 L244.07 73.04 L244.47 75.69 L244.88 77.28 L245.28 78.79 L245.69 81.78 L246.1 84.25 L246.5 86.25 L246.91 89.26 L247.32 91.67 L247.72 93.04 L248.13 94.07 L248.54 93.73 L248.94 96.78 L249.35 95.95 L249.75 95.34 L250.16 96.92 L250.57 99.24 L250.97 98.3 L251.38 99.88 L251.79 99.59 L252.19 99.11 L252.6 97.67 L253.01 93.67 L253.41 87.94 L253.82 82.28 L254.22 79.51 L254.63 76.48 L255.04 72.93 L255.44 70.21 L255.85 69.44 L256.26 66.01 L256.66 66.4 L257.07 65.31 L257.47 65.79 L257.88 67.29 L258.29 65.77 L258.69 68.04 L259.1 69.46 L259.51 72.06 L259.91 73.59 L260.32 73.34 L260.73 76.38 L261.13 78.6 L261.54 80.57 L261.94 83.22 L262.35 86.37 L262.76 89.25 L263.16 90.92 L263.57 92.43 L263.98 92.14 L264.38 94.72 L264.79 97.18 L265.2 97.61 L265.6 98.44 L266.01 99.03 L266.41 99.78 L266.82 102 L267.23 104.28 L267.63 105.27 L268.04 104.34 L268.45 99.55 L268.85 96.21 L269.26 92.96 L269.67 88.32 L270.07 83.33 L270.48 78.11 L270.88 77.66 L271.29 75.78 L271.7 75.62 L272.1 74.94 L272.51 73.41 L272.92 72.51 L273.32 70.49 L273.73 69.36 L274.14 66.4 L274.54 64.52 L274.95 63.82 L275.35 63.55 L275.76 69.83 L276.17 71.24 L276.57 73.83 L276.98 76.13 L277.39 79.15 L277.79 83.64 L278.2 82.99 L278.61 85.73 L279.01 90.01 L279.42 91.94 L279.82 92.8 L280.23 93.62 L280.64 93.92 L281.04 94.5 L281.45 94.45 L281.86 96.37 L282.26 98.49 L282.67 98.28 L283.08 99.11 L283.48 97.78 L283.89 98.54 L284.29 98.68 L284.7 93.38 L285.11 89.09 L285.51 82.44 L285.92 81.92 L286.33 79.01 L286.73 77.59 L287.14 77.35 L287.55 76.9 L287.95 75.78 L288.36 73.65 L288.76 73.29 L289.17 72.63 L289.58 70.9 L289.98 69.44 L290.39 68.09 L290.8 71.03 L291.2 71.92 L291.61 72.85 L292.02 73.73 L292.42 74.48 L292.83 75.59 L293.23 78.07 L293.64 81.58 L294.05 84.51 L294.45 88.12 L294.86 91.93 L295.27 95.39 L295.67 97.3 L296.08 96.77 L296.48 96.35 L296.89 96.82 L297.3 97.44 L297.7 97.33 L298.11 97.78 L298.52 98.1 L298.92 99.14 L299.33 101.29 L299.74 104.03 L300.14 102 L300.55 98.1 L300.95 95.26 L301.36 91.92 L301.77 91.05 L302.17 89.86 L302.58 85.18 L302.99 84 L303.39 81.56 L303.8 79.02 L304.21 76.71 L304.61 74.71 L305.02 73.96 L305.42 74.12 L305.83 72.01 L306.24 72.5 L306.64 68.49 L307.05 60.72 L307.46 61.43 L307.86 65.92 L308.27 66.47 L308.68 72.34 L309.08 78.03 L309.49 84.25 L309.89 88.43 L310.3 90.43 L310.71 91.57 L311.11 92.7 L311.52 93.86 L311.93 94.03 L312.33 93.28 L312.74 94.03 L313.15 93.21 L313.55 95.68 L313.96 96.06 L314.36 96.64 L314.77 98.64 L315.18 99.61 L315.58 99.91 L315.99 100.66 L316.4 100.28 L316.8 99.55 L317.21 99.55 L317.62 97.94 L318.02 93.93 L318.43 89.45 L318.83 86.53 L319.24 84.31 L319.65 82.21 L320.05 80.48 L320.46 79.5 L320.87 75.78 L321.27 76.49 L321.68 76 L322.09 74.21 L322.49 73.98 L322.9 70.69 L323.3 69.56 L323.71 68.79 L324.12 70.14 L324.52 71.33 L324.93 73.68 L325.34 75.46 L325.74 77.81 L326.15 80.46 L326.56 83.14 L326.96 85.75 L327.37 88.13 L327.77 89.46 L328.18 93.28 L328.59 92.9 L328.99 93.05 L329.4 93.16 L329.81 91.65 L330.21 91.87 L330.62 95.41 L331.03 94.81 L331.43 94.58 L331.84 95.53 L332.24 96.66 L332.65 97.11 L333.06 100.05 L333.46 103.25 L333.87 104.62 L334.28 99.75 L334.68 95.63 L335.09 91.46 L335.49 88.8 L335.9 85.01 L336.31 82.11 L336.71 80.69 L337.12 80.07 L337.53 78.6 L337.93 77.05 L338.34 76.4 L338.75 74.06 L339.15 72.38 L339.56 72.63 L339.96 72.6 L340.37 72.11 L340.78 71.17 L341.18 69.08 L341.59 68.8 L342 73.55 L342.4 76.78 L342.81 79.93 L343.22 81.29 L343.62 80.45 L344.03 81.34 L344.43 83.46 L344.84 83.64 L345.25 85.69 L345.65 86.79 L346.06 89.42 L346.47 90.2 L346.87 91.24 L347.28 95.25 L347.69 97.52 L348.09 99.65 L348.5 100.93 L348.9 101.32 L349.31 99.35 L349.72 97.92 L350.12 97.04 L350.53 92.68 L350.94 88.88 L351.34 85.41 L351.75 83.47 L352.16 80.86 L352.56 79.09 L352.97 77.76 L353.37 75.21 L353.78 72.26 L354.19 70.04 L354.59 68.69 L355 66.98" fill="none" stroke="#e80000" stroke-width="1.35" stroke-linejoin="round"/>
</g>
<line x1="63.3" y1="27.4" x2="63.3" y2="125.3" stroke="#8a8a8a" stroke-width="1"/>
<line x1="61.3" y1="125.3" x2="63.3" y2="125.3" stroke="#8a8a8a" stroke-width="1"/>
<text x="60.3" y="126.9" font-size="6.6" text-anchor="end" fill="#333" stroke="#333" stroke-width="0.2">-0,1</text>
<line x1="61.3" y1="105.72" x2="63.3" y2="105.72" stroke="#8a8a8a" stroke-width="1"/>
<text x="60.3" y="107.32" font-size="6.6" text-anchor="end" fill="#333" stroke="#333" stroke-width="0.2">0,0</text>
<line x1="61.3" y1="86.14" x2="63.3" y2="86.14" stroke="#8a8a8a" stroke-width="1"/>
<text x="60.3" y="87.74" font-size="6.6" text-anchor="end" fill="#333" stroke="#333" stroke-width="0.2">0,1</text>
<line x1="61.3" y1="66.56" x2="63.3" y2="66.56" stroke="#8a8a8a" stroke-width="1"/>
<text x="60.3" y="68.16" font-size="6.6" text-anchor="end" fill="#333" stroke="#333" stroke-width="0.2">0,2</text>
<line x1="61.3" y1="46.98" x2="63.3" y2="46.98" stroke="#8a8a8a" stroke-width="1"/>
<text x="60.3" y="48.58" font-size="6.6" text-anchor="end" fill="#333" stroke="#333" stroke-width="0.2">0,3</text>
<line x1="61.3" y1="27.4" x2="63.3" y2="27.4" stroke="#8a8a8a" stroke-width="1"/>
<text x="60.3" y="29" font-size="6.6" text-anchor="end" fill="#333" stroke="#333" stroke-width="0.2">0,4</text>
<line x1="62.3" y1="115.51" x2="63.3" y2="115.51" stroke="#8a8a8a" stroke-width="0.8"/>
<line x1="62.3" y1="95.93" x2="63.3" y2="95.93" stroke="#8a8a8a" stroke-width="0.8"/>
<line x1="62.3" y1="76.35" x2="63.3" y2="76.35" stroke="#8a8a8a" stroke-width="0.8"/>
<line x1="62.3" y1="56.77" x2="63.3" y2="56.77" stroke="#8a8a8a" stroke-width="0.8"/>
<line x1="62.3" y1="37.19" x2="63.3" y2="37.19" stroke="#8a8a8a" stroke-width="0.8"/>
<line x1="63.3" y1="125.3" x2="185" y2="125.3" stroke="#8a8a8a" stroke-width="1"/>
<line x1="63.3" y1="125.3" x2="63.3" y2="127.3" stroke="#8a8a8a" stroke-width="1"/>
<text x="63.3" y="133.9" font-size="6.6" text-anchor="middle" fill="#333" stroke="#333" stroke-width="0.2">30</text>
<line x1="87.64" y1="125.3" x2="87.64" y2="127.3" stroke="#8a8a8a" stroke-width="1"/>
<text x="87.64" y="133.9" font-size="6.6" text-anchor="middle" fill="#333" stroke="#333" stroke-width="0.2">31</text>
<line x1="111.98" y1="125.3" x2="111.98" y2="127.3" stroke="#8a8a8a" stroke-width="1"/>
<text x="111.98" y="133.9" font-size="6.6" text-anchor="middle" fill="#333" stroke="#333" stroke-width="0.2">32</text>
<line x1="136.32" y1="125.3" x2="136.32" y2="127.3" stroke="#8a8a8a" stroke-width="1"/>
<text x="136.32" y="133.9" font-size="6.6" text-anchor="middle" fill="#333" stroke="#333" stroke-width="0.2">33</text>
<line x1="160.66" y1="125.3" x2="160.66" y2="127.3" stroke="#8a8a8a" stroke-width="1"/>
<text x="160.66" y="133.9" font-size="6.6" text-anchor="middle" fill="#333" stroke="#333" stroke-width="0.2">34</text>
<line x1="185" y1="125.3" x2="185" y2="127.3" stroke="#8a8a8a" stroke-width="1"/>
<text x="185" y="133.9" font-size="6.6" text-anchor="middle" fill="#333" stroke="#333" stroke-width="0.2">35</text>
<line x1="75.47" y1="125.3" x2="75.47" y2="126.5" stroke="#8a8a8a" stroke-width="0.8"/>
<line x1="99.81" y1="125.3" x2="99.81" y2="126.5" stroke="#8a8a8a" stroke-width="0.8"/>
<line x1="124.15" y1="125.3" x2="124.15" y2="126.5" stroke="#8a8a8a" stroke-width="0.8"/>
<line x1="148.49" y1="125.3" x2="148.49" y2="126.5" stroke="#8a8a8a" stroke-width="0.8"/>
<line x1="172.83" y1="125.3" x2="172.83" y2="126.5" stroke="#8a8a8a" stroke-width="0.8"/>
<text x="124.95" y="145.7" font-size="8.3" text-anchor="middle" font-weight="bold" fill="#000" stroke="#000" stroke-width="0.15">Time (s)</text>
<text x="43.3" y="74.85" font-size="8.6" font-weight="bold" text-anchor="middle" fill="#111" stroke="#111" stroke-width="0.1" transform="rotate(-90 43.3 74.85)">&#916;F/F<tspan font-size="5.8" dy="2.1">0</tspan></text>
<line x1="233.5" y1="27.4" x2="233.5" y2="125.3" stroke="#8a8a8a" stroke-width="1"/>
<line x1="231.5" y1="125.3" x2="233.5" y2="125.3" stroke="#8a8a8a" stroke-width="1"/>
<text x="230.5" y="126.9" font-size="6.6" text-anchor="end" fill="#333" stroke="#333" stroke-width="0.2">-0,1</text>
<line x1="231.5" y1="105.72" x2="233.5" y2="105.72" stroke="#8a8a8a" stroke-width="1"/>
<text x="230.5" y="107.32" font-size="6.6" text-anchor="end" fill="#333" stroke="#333" stroke-width="0.2">0,0</text>
<line x1="231.5" y1="86.14" x2="233.5" y2="86.14" stroke="#8a8a8a" stroke-width="1"/>
<text x="230.5" y="87.74" font-size="6.6" text-anchor="end" fill="#333" stroke="#333" stroke-width="0.2">0,1</text>
<line x1="231.5" y1="66.56" x2="233.5" y2="66.56" stroke="#8a8a8a" stroke-width="1"/>
<text x="230.5" y="68.16" font-size="6.6" text-anchor="end" fill="#333" stroke="#333" stroke-width="0.2">0,2</text>
<line x1="231.5" y1="46.98" x2="233.5" y2="46.98" stroke="#8a8a8a" stroke-width="1"/>
<text x="230.5" y="48.58" font-size="6.6" text-anchor="end" fill="#333" stroke="#333" stroke-width="0.2">0,3</text>
<line x1="231.5" y1="27.4" x2="233.5" y2="27.4" stroke="#8a8a8a" stroke-width="1"/>
<text x="230.5" y="29" font-size="6.6" text-anchor="end" fill="#333" stroke="#333" stroke-width="0.2">0,4</text>
<line x1="232.5" y1="115.51" x2="233.5" y2="115.51" stroke="#8a8a8a" stroke-width="0.8"/>
<line x1="232.5" y1="95.93" x2="233.5" y2="95.93" stroke="#8a8a8a" stroke-width="0.8"/>
<line x1="232.5" y1="76.35" x2="233.5" y2="76.35" stroke="#8a8a8a" stroke-width="0.8"/>
<line x1="232.5" y1="56.77" x2="233.5" y2="56.77" stroke="#8a8a8a" stroke-width="0.8"/>
<line x1="232.5" y1="37.19" x2="233.5" y2="37.19" stroke="#8a8a8a" stroke-width="0.8"/>
<line x1="233.5" y1="125.3" x2="355" y2="125.3" stroke="#8a8a8a" stroke-width="1"/>
<line x1="233.5" y1="125.3" x2="233.5" y2="127.3" stroke="#8a8a8a" stroke-width="1"/>
<text x="233.5" y="133.9" font-size="6.6" text-anchor="middle" fill="#333" stroke="#333" stroke-width="0.2">30</text>
<line x1="257.8" y1="125.3" x2="257.8" y2="127.3" stroke="#8a8a8a" stroke-width="1"/>
<text x="257.8" y="133.9" font-size="6.6" text-anchor="middle" fill="#333" stroke="#333" stroke-width="0.2">31</text>
<line x1="282.1" y1="125.3" x2="282.1" y2="127.3" stroke="#8a8a8a" stroke-width="1"/>
<text x="282.1" y="133.9" font-size="6.6" text-anchor="middle" fill="#333" stroke="#333" stroke-width="0.2">32</text>
<line x1="306.4" y1="125.3" x2="306.4" y2="127.3" stroke="#8a8a8a" stroke-width="1"/>
<text x="306.4" y="133.9" font-size="6.6" text-anchor="middle" fill="#333" stroke="#333" stroke-width="0.2">33</text>
<line x1="330.7" y1="125.3" x2="330.7" y2="127.3" stroke="#8a8a8a" stroke-width="1"/>
<text x="330.7" y="133.9" font-size="6.6" text-anchor="middle" fill="#333" stroke="#333" stroke-width="0.2">34</text>
<line x1="355" y1="125.3" x2="355" y2="127.3" stroke="#8a8a8a" stroke-width="1"/>
<text x="355" y="133.9" font-size="6.6" text-anchor="middle" fill="#333" stroke="#333" stroke-width="0.2">35</text>
<line x1="245.65" y1="125.3" x2="245.65" y2="126.5" stroke="#8a8a8a" stroke-width="0.8"/>
<line x1="269.95" y1="125.3" x2="269.95" y2="126.5" stroke="#8a8a8a" stroke-width="0.8"/>
<line x1="294.25" y1="125.3" x2="294.25" y2="126.5" stroke="#8a8a8a" stroke-width="0.8"/>
<line x1="318.55" y1="125.3" x2="318.55" y2="126.5" stroke="#8a8a8a" stroke-width="0.8"/>
<line x1="342.85" y1="125.3" x2="342.85" y2="126.5" stroke="#8a8a8a" stroke-width="0.8"/>
<text x="295.05" y="145.7" font-size="8.3" text-anchor="middle" font-weight="bold" fill="#000" stroke="#000" stroke-width="0.15">Time (s)</text>
<text x="213.5" y="74.85" font-size="8.6" font-weight="bold" text-anchor="middle" fill="#111" stroke="#111" stroke-width="0.1" transform="rotate(-90 213.5 74.85)">&#916;F/F<tspan font-size="5.8" dy="2.1">0</tspan></text>
<text font-size="10.6" fill="#222" text-anchor="middle" transform="translate(9.7 236.8) rotate(-90)"><tspan x="0" y="0">Time from anesthesia</tspan><tspan x="0" y="12.1">onset: 29 min</tspan></text>
<text x="129.6" y="182.6" font-size="9.6" text-anchor="middle" fill="#111" stroke="#111" stroke-width="0.1">neurons</text>
<text x="299" y="182.2" font-size="9.5" text-anchor="middle" fill="#111" stroke="#111" stroke-width="0.1">astrocytes</text>
<clipPath id="clip3"><rect x="63.8" y="183.5" width="121.7" height="97.9"/></clipPath>
<g clip-path="url(#clip3)">
<path d="M63.3 222.07 L64.27 219.3 L65.25 240.87 L66.22 259.86 L67.19 249.92 L68.17 243.19 L69.14 230.83 L70.12 254.79 L71.09 262.93 L72.06 262.1 L73.04 273.16 L74.01 266.49 L74.98 246.09 L75.96 212.47 L76.93 232.1 L77.9 212.14 L78.88 226.76 L79.85 231.13 L80.82 219.73 L81.8 221.54 L82.77 244.7 L83.75 244.11 L84.72 243.53 L85.69 243.9 L86.67 266.05 L87.64 268.36 L88.61 267.21 L89.59 265.42 L90.56 248.22 L91.53 229.01 L92.51 223.25 L93.48 214.7 L94.46 209.37 L95.43 260.03 L96.4 212.41 L97.38 243.68 L98.35 247.12 L99.32 261.45 L100.3 244.67 L101.27 261.84 L102.24 264.79 L103.22 263.23 L104.19 248.51 L105.16 243.1 L106.14 237.96 L107.11 218.85 L108.09 205.59 L109.06 229.63 L110.03 232.43 L111.01 216.19 L111.98 208.66 L112.95 228.25 L113.93 235.92 L114.9 247.36 L115.87 267.78 L116.85 259.61 L117.82 262.63 L118.8 276.54 L119.77 269.56 L120.74 270.04 L121.72 240.47 L122.69 258.44 L123.66 227.33 L124.64 212.41 L125.61 207.78 L126.58 252.55 L127.56 227.61 L128.53 223.55 L129.5 234.56 L130.48 225.88 L131.45 253.65 L132.43 235.54 L133.4 243.92 L134.37 244.47 L135.35 257.39 L136.32 268.99 L137.29 262.92 L138.27 261.09 L139.24 237.69 L140.21 233.25 L141.19 203.99 L142.16 214.84 L143.14 231.07 L144.11 226.27 L145.08 235.22 L146.06 207.88 L147.03 247.83 L148 250.58 L148.98 248.99 L149.95 254.63 L150.92 255.2 L151.9 277.92 L152.87 272.08 L153.84 267.32 L154.82 235.08 L155.79 220.85 L156.77 236.52 L157.74 225.14 L158.71 217.79 L159.69 232.34 L160.66 205.63 L161.63 231.37 L162.61 230.09 L163.58 236.92 L164.55 233.8 L165.53 242.97 L166.5 247.84 L167.48 251.32 L168.45 257.56 L169.42 277.21 L170.4 265.9 L171.37 258.18 L172.34 240.62 L173.32 244.31 L174.29 206.15 L175.26 207.93 L176.24 241.3 L177.21 235.87 L178.18 204.94 L179.16 221.19 L180.13 223.49 L181.11 220.24 L182.08 252.18 L183.05 234.15 L184.03 259.54 L185 251.16" fill="none" stroke="#d2d2d2" stroke-width="0.8" stroke-linejoin="round"/>
<path d="M63.3 229 L64.27 212.52 L65.25 226.48 L66.22 244.27 L67.19 232.61 L68.17 232.99 L69.14 251.63 L70.12 247.69 L71.09 261.43 L72.06 257.8 L73.04 247.24 L74.01 254.35 L74.98 242.76 L75.96 229.51 L76.93 228.2 L77.9 245.27 L78.88 239.61 L79.85 218.29 L80.82 227.33 L81.8 220.05 L82.77 243.02 L83.75 243.54 L84.72 258.54 L85.69 256.36 L86.67 260.34 L87.64 257.63 L88.61 258.86 L89.59 252.44 L90.56 240.92 L91.53 243.56 L92.51 220.86 L93.48 204.68 L94.46 196.54 L95.43 234.97 L96.4 235.02 L97.38 250.46 L98.35 241.19 L99.32 258.26 L100.3 255.45 L101.27 246.59 L102.24 247.81 L103.22 251.61 L104.19 270.62 L105.16 268.04 L106.14 254.49 L107.11 233.74 L108.09 231.5 L109.06 203.8 L110.03 196.37 L111.01 194.8 L111.98 201.93 L112.95 223.73 L113.93 247.1 L114.9 229.75 L115.87 235.63 L116.85 255.91 L117.82 251.94 L118.8 267.19 L119.77 260.5 L120.74 267.52 L121.72 256.3 L122.69 249.08 L123.66 241.52 L124.64 224.93 L125.61 211.67 L126.58 220.51 L127.56 213.22 L128.53 233.3 L129.5 215.55 L130.48 230.29 L131.45 242.41 L132.43 228.04 L133.4 259.69 L134.37 259.45 L135.35 242.18 L136.32 252.24 L137.29 255.7 L138.27 255.92 L139.24 267.41 L140.21 242.98 L141.19 232.46 L142.16 213.88 L143.14 235.8 L144.11 255.3 L145.08 225.57 L146.06 226.46 L147.03 243.13 L148 256.09 L148.98 230.69 L149.95 269.17 L150.92 256.95 L151.9 241.5 L152.87 252.17 L153.84 245.65 L154.82 253.78 L155.79 219.06 L156.77 249.89 L157.74 220.75 L158.71 227.99 L159.69 235.47 L160.66 220.2 L161.63 248.18 L162.61 233.36 L163.58 230.55 L164.55 248.9 L165.53 242.82 L166.5 242.99 L167.48 254.51 L168.45 264.4 L169.42 259.03 L170.4 259.12 L171.37 239.53 L172.34 240.84 L173.32 235.78 L174.29 241.92 L175.26 234.36 L176.24 220.16 L177.21 238.35 L178.18 215.93 L179.16 204.72 L180.13 252.39 L181.11 235.14 L182.08 255.68 L183.05 246.79 L184.03 265.77 L185 254.96" fill="none" stroke="#d2d2d2" stroke-width="0.8" stroke-linejoin="round"/>
<path d="M63.3 242.75 L64.27 206.72 L65.25 242.81 L66.22 255.07 L67.19 236.84 L68.17 268.42 L69.14 255.07 L70.12 243.58 L71.09 258.19 L72.06 281.43 L73.04 250.27 L74.01 253.84 L74.98 246.55 L75.96 251.01 L76.93 261.27 L77.9 218.78 L78.88 245.14 L79.85 259.94 L80.82 212.77 L81.8 237.78 L82.77 257.29 L83.75 242.93 L84.72 269.92 L85.69 265.54 L86.67 251.41 L87.64 266.86 L88.61 263.72 L89.59 257.59 L90.56 244.03 L91.53 221.25 L92.51 220.36 L93.48 256.21 L94.46 215.49 L95.43 251.07 L96.4 259.84 L97.38 241.57 L98.35 243.94 L99.32 253.26 L100.3 244.96 L101.27 258.25 L102.24 259.06 L103.22 258.45 L104.19 253.73 L105.16 250.76 L106.14 263.62 L107.11 252.59 L108.09 238.17 L109.06 208.3 L110.03 221.16 L111.01 223.75 L111.98 230.78 L112.95 241.48 L113.93 240.19 L114.9 256.88 L115.87 253.67 L116.85 254.6 L117.82 248.83 L118.8 270.47 L119.77 274.13 L120.74 252.08 L121.72 255.56 L122.69 252.72 L123.66 240.16 L124.64 218.24 L125.61 233.79 L126.58 246.37 L127.56 225.29 L128.53 222.18 L129.5 257.58 L130.48 244.74 L131.45 229.05 L132.43 246.18 L133.4 246.63 L134.37 266.61 L135.35 255.12 L136.32 255.09 L137.29 256.01 L138.27 258.14 L139.24 261.19 L140.21 243.54 L141.19 220.07 L142.16 241.16 L143.14 220.34 L144.11 245.57 L145.08 235.71 L146.06 236.94 L147.03 237.02 L148 244.89 L148.98 247.3 L149.95 247.87 L150.92 266.49 L151.9 236.14 L152.87 260.82 L153.84 262.12 L154.82 259.91 L155.79 246.24 L156.77 241.79 L157.74 230.66 L158.71 238.67 L159.69 237.66 L160.66 224.72 L161.63 239.16 L162.61 246.79 L163.58 259.33 L164.55 235.96 L165.53 243.82 L166.5 249.29 L167.48 262.45 L168.45 255.56 L169.42 257.99 L170.4 245.63 L171.37 259.93 L172.34 225.69 L173.32 241.22 L174.29 243.44 L175.26 230.94 L176.24 237.19 L177.21 240.1 L178.18 241.77 L179.16 229.25 L180.13 244.28 L181.11 253.09 L182.08 250.76 L183.05 256.57 L184.03 258.23 L185 246.72" fill="none" stroke="#d2d2d2" stroke-width="0.8" stroke-linejoin="round"/>
<path d="M63.3 262.04 L64.27 267.43 L65.25 225.47 L66.22 258.75 L67.19 222.25 L68.17 263.19 L69.14 259.3 L70.12 254.08 L71.09 254.1 L72.06 255.38 L73.04 271.68 L74.01 268.74 L74.98 257.08 L75.96 256.45 L76.93 258.22 L77.9 240.89 L78.88 258.84 L79.85 240.95 L80.82 252.87 L81.8 234.56 L82.77 252.02 L83.75 252.9 L84.72 245.46 L85.69 253.57 L86.67 260.66 L87.64 261.38 L88.61 253.59 L89.59 255.84 L90.56 259.62 L91.53 237.49 L92.51 237.11 L93.48 247.86 L94.46 265.69 L95.43 250.93 L96.4 262.85 L97.38 265.51 L98.35 255.37 L99.32 260.01 L100.3 244.95 L101.27 263.04 L102.24 250.59 L103.22 259.01 L104.19 255.41 L105.16 250.37 L106.14 254.64 L107.11 246.79 L108.09 254.19 L109.06 282.29 L110.03 255.67 L111.01 268.29 L111.98 257.81 L112.95 245.62 L113.93 248.35 L114.9 259.39 L115.87 269.12 L116.85 246.69 L117.82 266.08 L118.8 262.13 L119.77 262.51 L120.74 260.03 L121.72 257.25 L122.69 264.26 L123.66 247.23 L124.64 240.63 L125.61 256.21 L126.58 244.43 L127.56 242.38 L128.53 232.27 L129.5 241.17 L130.48 252.92 L131.45 244.78 L132.43 245.85 L133.4 258.51 L134.37 252.15 L135.35 273.9 L136.32 250.97 L137.29 270.35 L138.27 258.37 L139.24 265.54 L140.21 252.61 L141.19 228.5 L142.16 224.68 L143.14 261.02 L144.11 252.5 L145.08 188.88 L146.06 229.62 L147.03 247.3 L148 247.92 L148.98 282.96 L149.95 250.12 L150.92 252.08 L151.9 277.55 L152.87 250.52 L153.84 264.74 L154.82 256.87 L155.79 251.8 L156.77 254.25 L157.74 256.28 L158.71 264.38 L159.69 265.81 L160.66 265.63 L161.63 248.5 L162.61 225.14 L163.58 243.2 L164.55 245.94 L165.53 264.62 L166.5 251.58 L167.48 257.74 L168.45 251.13 L169.42 265.73 L170.4 253.16 L171.37 251.26 L172.34 260.62 L173.32 235.74 L174.29 259.25 L175.26 258.66 L176.24 245.25 L177.21 260.33 L178.18 232.06 L179.16 259.56 L180.13 242.79 L181.11 245.42 L182.08 271.65 L183.05 245.41 L184.03 249.89 L185 264.77" fill="none" stroke="#d2d2d2" stroke-width="0.8" stroke-linejoin="round"/>
<path d="M63.3 229.02 L64.27 256.26 L65.25 253.55 L66.22 241.85 L67.19 236.97 L68.17 260.6 L69.14 258.51 L70.12 268.17 L71.09 249.93 L72.06 256.29 L73.04 262.86 L74.01 249.1 L74.98 255.18 L75.96 260.8 L76.93 233.63 L77.9 258.15 L78.88 220.72 L79.85 220.74 L80.82 257.34 L81.8 230.37 L82.77 241.98 L83.75 236.35 L84.72 256.24 L85.69 252.38 L86.67 241.78 L87.64 257.94 L88.61 264.35 L89.59 248.38 L90.56 258.2 L91.53 236.16 L92.51 246.02 L93.48 235.09 L94.46 218.25 L95.43 220.8 L96.4 235.07 L97.38 243.88 L98.35 248.8 L99.32 241.97 L100.3 252.05 L101.27 245.35 L102.24 263.94 L103.22 266.61 L104.19 268.34 L105.16 247.78 L106.14 226.06 L107.11 228.16 L108.09 259.44 L109.06 229.31 L110.03 238.56 L111.01 214.7 L111.98 219.63 L112.95 233.61 L113.93 227.84 L114.9 258.84 L115.87 266.02 L116.85 262.86 L117.82 255.3 L118.8 265.97 L119.77 272.78 L120.74 255.78 L121.72 256.73 L122.69 228.99 L123.66 213.1 L124.64 214.75 L125.61 249.01 L126.58 211.61 L127.56 239.65 L128.53 251.81 L129.5 257.02 L130.48 252.3 L131.45 232.27 L132.43 261.9 L133.4 256.98 L134.37 252.33 L135.35 249.62 L136.32 271.8 L137.29 253.1 L138.27 256.63 L139.24 253.94 L140.21 253.23 L141.19 218.81 L142.16 215.83 L143.14 203.91 L144.11 265.59 L145.08 246.07 L146.06 237.07 L147.03 236.64 L148 247.45 L148.98 243.44 L149.95 244.3 L150.92 249.63 L151.9 253.36 L152.87 268.17 L153.84 259.42 L154.82 256.2 L155.79 224.26 L156.77 237.44 L157.74 206.81 L158.71 238.3 L159.69 214.07 L160.66 207.41 L161.63 237.97 L162.61 241.87 L163.58 230.04 L164.55 256 L165.53 244.34 L166.5 250 L167.48 262.95 L168.45 270.02 L169.42 262.11 L170.4 249.78 L171.37 250.74 L172.34 221.53 L173.32 243.16 L174.29 227.01 L175.26 204.99 L176.24 208.11 L177.21 255.47 L178.18 236.17 L179.16 244.94 L180.13 231.23 L181.11 248.4 L182.08 246.27 L183.05 246.15 L184.03 236.52 L185 254.69" fill="none" stroke="#d2d2d2" stroke-width="0.8" stroke-linejoin="round"/>
<path d="M63.3 224.33 L64.27 192.69 L65.25 210.55 L66.22 218.55 L67.19 228.89 L68.17 237.29 L69.14 236.48 L70.12 242.75 L71.09 249.87 L72.06 245.5 L73.04 241.04 L74.01 235.3 L74.98 242.23 L75.96 232.11 L76.93 235.62 L77.9 228.02 L78.88 201.97 L79.85 224.01 L80.82 243.93 L81.8 225.05 L82.77 228.95 L83.75 222.97 L84.72 233.98 L85.69 246.07 L86.67 248.51 L87.64 237.19 L88.61 260.1 L89.59 247.78 L90.56 245.06 L91.53 243.8 L92.51 228.77 L93.48 228.81 L94.46 205.68 L95.43 209.2 L96.4 205.19 L97.38 227.16 L98.35 218.56 L99.32 244.67 L100.3 237.33 L101.27 248.96 L102.24 235.84 L103.22 247.56 L104.19 259.78 L105.16 246.44 L106.14 245.98 L107.11 222.82 L108.09 208.87 L109.06 219.66 L110.03 215.02 L111.01 218.37 L111.98 235.3 L112.95 234.31 L113.93 223.26 L114.9 237.64 L115.87 252.17 L116.85 258.91 L117.82 263.28 L118.8 249.51 L119.77 247.81 L120.74 246.44 L121.72 254.16 L122.69 236.79 L123.66 235.1 L124.64 227.95 L125.61 197.11 L126.58 227.8 L127.56 214.42 L128.53 198.36 L129.5 222.37 L130.48 221.38 L131.45 235.79 L132.43 241.03 L133.4 252.31 L134.37 248.82 L135.35 252.02 L136.32 258.01 L137.29 251.55 L138.27 244.53 L139.24 249.89 L140.21 228.92 L141.19 230.25 L142.16 238.67 L143.14 231.65 L144.11 209.9 L145.08 216.87 L146.06 213.19 L147.03 221.75 L148 229.2 L148.98 242.27 L149.95 244.94 L150.92 229.42 L151.9 240.48 L152.87 251.44 L153.84 247.48 L154.82 239.65 L155.79 237.8 L156.77 236.2 L157.74 223.15 L158.71 223.41 L159.69 213.98 L160.66 219.06 L161.63 237.28 L162.61 206.95 L163.58 250.69 L164.55 205.83 L165.53 228.47 L166.5 253.33 L167.48 240.8 L168.45 246.66 L169.42 251.37 L170.4 244.87 L171.37 241.06 L172.34 242.23 L173.32 217.82 L174.29 228.68 L175.26 210.03 L176.24 237.31 L177.21 248.46 L178.18 202.15 L179.16 201.6 L180.13 233.92 L181.11 244.86 L182.08 234.9 L183.05 241.6 L184.03 239.22 L185 247.84" fill="none" stroke="#d2d2d2" stroke-width="0.8" stroke-linejoin="round"/>
<path d="M63.3 203.32 L64.27 219.26 L65.25 232.88 L66.22 205.57 L67.19 228.55 L68.17 244.1 L69.14 236.26 L70.12 245.6 L71.09 256.43 L72.06 246.57 L73.04 247.07 L74.01 243.29 L74.98 236.47 L75.96 224.7 L76.93 230.78 L77.9 208.29 L78.88 207.68 L79.85 200.7 L80.82 207.11 L81.8 205.72 L82.77 219.46 L83.75 231.18 L84.72 228.26 L85.69 230.31 L86.67 234 L87.64 241.61 L88.61 255.25 L89.59 250.13 L90.56 244.28 L91.53 227.61 L92.51 223.32 L93.48 216.51 L94.46 209.86 L95.43 222.52 L96.4 202.67 L97.38 221.04 L98.35 223.84 L99.32 226.95 L100.3 237.14 L101.27 244.98 L102.24 238.74 L103.22 248.08 L104.19 250.95 L105.16 246.79 L106.14 235.56 L107.11 234.12 L108.09 210.31 L109.06 217.13 L110.03 214.78 L111.01 200.41 L111.98 206.68 L112.95 235.55 L113.93 236.97 L114.9 235.44 L115.87 232.54 L116.85 237.97 L117.82 245.98 L118.8 252.45 L119.77 263.71 L120.74 257.73 L121.72 232.23 L122.69 229.43 L123.66 223.01 L124.64 220.6 L125.61 188.51 L126.58 209.4 L127.56 198.47 L128.53 184.83 L129.5 227.91 L130.48 229.06 L131.45 236.48 L132.43 206.8 L133.4 223.81 L134.37 234.01 L135.35 237.33 L136.32 245.19 L137.29 242.89 L138.27 243.11 L139.24 226.61 L140.21 226.44 L141.19 201.6 L142.16 213.62 L143.14 196 L144.11 211.79 L145.08 208.7 L146.06 216.24 L147.03 205.48 L148 217.33 L148.98 227.89 L149.95 247.29 L150.92 237.03 L151.9 234.45 L152.87 240.97 L153.84 238.97 L154.82 241.44 L155.79 239.97 L156.77 223.67 L157.74 229.93 L158.71 196.62 L159.69 207.08 L160.66 205.71 L161.63 203.22 L162.61 179.56 L163.58 222.32 L164.55 214.83 L165.53 231.72 L166.5 240.09 L167.48 238.18 L168.45 256.17 L169.42 249.37 L170.4 256.1 L171.37 243.35 L172.34 236.98 L173.32 208.74 L174.29 225.07 L175.26 215.42 L176.24 195.71 L177.21 195.5 L178.18 198.77 L179.16 181.5 L180.13 215.95 L181.11 228.43 L182.08 232.45 L183.05 248.67 L184.03 239.5 L185 260.52" fill="none" stroke="#d2d2d2" stroke-width="0.8" stroke-linejoin="round"/>
<path d="M63.3 211.44 L64.27 219.37 L65.25 218.75 L66.22 236.87 L67.19 234.39 L68.17 242.2 L69.14 250.14 L70.12 239.72 L71.09 258.73 L72.06 255.31 L73.04 266.46 L74.01 252.66 L74.98 264.24 L75.96 255.87 L76.93 265.33 L77.9 241.85 L78.88 214.9 L79.85 222.98 L80.82 244.95 L81.8 252.69 L82.77 209.09 L83.75 247.74 L84.72 260.18 L85.69 254.99 L86.67 251.65 L87.64 245.11 L88.61 251.83 L89.59 261.68 L90.56 256.63 L91.53 250.83 L92.51 240.88 L93.48 236.65 L94.46 226.51 L95.43 237.96 L96.4 241.11 L97.38 239.89 L98.35 239 L99.32 259.33 L100.3 239.98 L101.27 244.83 L102.24 258 L103.22 252.87 L104.19 257.72 L105.16 267.14 L106.14 251.06 L107.11 250.97 L108.09 244.07 L109.06 225.3 L110.03 235.12 L111.01 220.48 L111.98 237.14 L112.95 234.08 L113.93 240.35 L114.9 250.18 L115.87 246.65 L116.85 243.17 L117.82 245.17 L118.8 268.49 L119.77 262.34 L120.74 260.42 L121.72 267.51 L122.69 248.42 L123.66 251.03 L124.64 242.3 L125.61 240.49 L126.58 209.63 L127.56 209.76 L128.53 235.55 L129.5 240.96 L130.48 255.34 L131.45 243.23 L132.43 245.05 L133.4 259.97 L134.37 266.02 L135.35 254.52 L136.32 256.03 L137.29 250.35 L138.27 257 L139.24 263.74 L140.21 244.02 L141.19 228.35 L142.16 243.26 L143.14 229.76 L144.11 238.3 L145.08 239.94 L146.06 207.97 L147.03 245.18 L148 240.65 L148.98 251.62 L149.95 256.57 L150.92 255.63 L151.9 257.35 L152.87 250 L153.84 252.32 L154.82 261.74 L155.79 250.41 L156.77 258.68 L157.74 240.49 L158.71 238.94 L159.69 231.58 L160.66 236.15 L161.63 227.78 L162.61 207.3 L163.58 227.09 L164.55 236.53 L165.53 257.5 L166.5 241.38 L167.48 250.78 L168.45 257.85 L169.42 263.08 L170.4 261.79 L171.37 255.99 L172.34 257.64 L173.32 257 L174.29 245.6 L175.26 239.83 L176.24 207.91 L177.21 214.69 L178.18 210.31 L179.16 237.57 L180.13 244.08 L181.11 224.48 L182.08 248.72 L183.05 246.4 L184.03 243.35 L185 258.97" fill="none" stroke="#bfbfbf" stroke-width="0.8" stroke-linejoin="round"/>
<path d="M63.3 213.77 L64.27 225.36 L65.25 212.71 L66.22 225.58 L67.19 233.9 L68.17 227.26 L69.14 244.24 L70.12 245.18 L71.09 254.44 L72.06 251.45 L73.04 250.55 L74.01 247.27 L74.98 250.37 L75.96 217.6 L76.93 211.9 L77.9 234.39 L78.88 225.35 L79.85 209.44 L80.82 219.78 L81.8 232.18 L82.77 222.28 L83.75 243.27 L84.72 244.02 L85.69 219.72 L86.67 240.96 L87.64 252.47 L88.61 256.12 L89.59 248.17 L90.56 241.2 L91.53 223.11 L92.51 234.98 L93.48 220.83 L94.46 226.67 L95.43 217.4 L96.4 210.69 L97.38 227.25 L98.35 240.21 L99.32 237.3 L100.3 244.15 L101.27 243.42 L102.24 255.76 L103.22 232.6 L104.19 261.1 L105.16 242.74 L106.14 243.61 L107.11 225.62 L108.09 234.46 L109.06 229.32 L110.03 239.69 L111.01 207.47 L111.98 220.25 L112.95 237.46 L113.93 239.95 L114.9 227.44 L115.87 247.64 L116.85 238.83 L117.82 254.07 L118.8 254.03 L119.77 268.98 L120.74 257.99 L121.72 265.14 L122.69 245.99 L123.66 238.23 L124.64 214.15 L125.61 216.99 L126.58 222.24 L127.56 211.85 L128.53 201.29 L129.5 217.51 L130.48 223.93 L131.45 243.66 L132.43 232.21 L133.4 234.53 L134.37 246.52 L135.35 246.33 L136.32 268.92 L137.29 247.41 L138.27 254.16 L139.24 248.94 L140.21 232.03 L141.19 241.78 L142.16 217.61 L143.14 218.32 L144.11 224.8 L145.08 204.97 L146.06 214.8 L147.03 236.38 L148 234.95 L148.98 244.42 L149.95 249.83 L150.92 245.17 L151.9 242.81 L152.87 235.44 L153.84 258.8 L154.82 237.71 L155.79 251.78 L156.77 232.65 L157.74 223.72 L158.71 233.02 L159.69 241.83 L160.66 224.39 L161.63 218.66 L162.61 218.74 L163.58 224.95 L164.55 226.8 L165.53 232.59 L166.5 236.42 L167.48 251.39 L168.45 253.49 L169.42 243.52 L170.4 248.3 L171.37 241.82 L172.34 238.51 L173.32 238.76 L174.29 232.77 L175.26 225.7 L176.24 232.04 L177.21 230.77 L178.18 204.97 L179.16 220.29 L180.13 200.26 L181.11 249.36 L182.08 240.91 L183.05 229.21 L184.03 246.11 L185 246.74" fill="none" stroke="#bfbfbf" stroke-width="0.8" stroke-linejoin="round"/>
<path d="M63.3 212.22 L64.27 236.1 L65.25 233.02 L66.22 248.45 L67.19 242.8 L68.17 233.74 L69.14 245.99 L70.12 239.44 L71.09 256.26 L72.06 252.65 L73.04 252.27 L74.01 255.96 L74.98 248.49 L75.96 234.9 L76.93 221.68 L77.9 240.55 L78.88 210.24 L79.85 222.17 L80.82 226.95 L81.8 228.55 L82.77 240.65 L83.75 237.06 L84.72 238.73 L85.69 253.95 L86.67 239.44 L87.64 248.89 L88.61 244.47 L89.59 246.8 L90.56 241.65 L91.53 243.66 L92.51 234.23 L93.48 245.44 L94.46 221.66 L95.43 227.58 L96.4 225.95 L97.38 230.62 L98.35 242.85 L99.32 235.05 L100.3 255.89 L101.27 236.82 L102.24 258.68 L103.22 255.18 L104.19 237.73 L105.16 250.9 L106.14 236.79 L107.11 234.73 L108.09 238.65 L109.06 234.13 L110.03 220.2 L111.01 234.34 L111.98 228.51 L112.95 231.63 L113.93 229.13 L114.9 228.39 L115.87 248.14 L116.85 258.47 L117.82 261.22 L118.8 250.72 L119.77 253.34 L120.74 247.57 L121.72 250.51 L122.69 244.11 L123.66 221.79 L124.64 228.78 L125.61 213.18 L126.58 205.16 L127.56 230.61 L128.53 199.22 L129.5 229.77 L130.48 234.47 L131.45 245.39 L132.43 242.75 L133.4 246.89 L134.37 239.39 L135.35 247.25 L136.32 250.61 L137.29 246.16 L138.27 248.8 L139.24 239.64 L140.21 249.38 L141.19 226.03 L142.16 229.92 L143.14 238.97 L144.11 214.32 L145.08 239.1 L146.06 229.72 L147.03 246.31 L148 233.43 L148.98 235.37 L149.95 242.69 L150.92 243.47 L151.9 246.86 L152.87 259.54 L153.84 248.53 L154.82 247.02 L155.79 234.57 L156.77 224.89 L157.74 232.06 L158.71 259.53 L159.69 228.12 L160.66 225.07 L161.63 232 L162.61 223.22 L163.58 230.72 L164.55 231.08 L165.53 247.86 L166.5 241.2 L167.48 259.12 L168.45 248.28 L169.42 250.27 L170.4 243.54 L171.37 252.4 L172.34 229.31 L173.32 224.16 L174.29 210.63 L175.26 220.82 L176.24 225.6 L177.21 216.51 L178.18 197.55 L179.16 218.53 L180.13 234.72 L181.11 238.53 L182.08 244.32 L183.05 237.2 L184.03 238.54 L185 217.7" fill="none" stroke="#bfbfbf" stroke-width="0.8" stroke-linejoin="round"/>
<path d="M63.3 231.43 L64.27 239.04 L65.25 236.07 L66.22 232.06 L67.19 245.21 L68.17 242.07 L69.14 246.81 L70.12 246.3 L71.09 249.93 L72.06 254.35 L73.04 254.84 L74.01 248.51 L74.98 249.74 L75.96 248.83 L76.93 230.97 L77.9 239.02 L78.88 212.23 L79.85 214.69 L80.82 247.28 L81.8 251.23 L82.77 252.39 L83.75 245.49 L84.72 254.71 L85.69 253.16 L86.67 250.69 L87.64 241 L88.61 259.65 L89.59 249.75 L90.56 258.02 L91.53 244.62 L92.51 233.73 L93.48 238.56 L94.46 216.29 L95.43 216.05 L96.4 223.98 L97.38 234.04 L98.35 255.95 L99.32 257.46 L100.3 251.26 L101.27 250.36 L102.24 256.29 L103.22 268.89 L104.19 258.83 L105.16 251.11 L106.14 239.73 L107.11 252.31 L108.09 249.57 L109.06 238.99 L110.03 226.94 L111.01 234.69 L111.98 234.74 L112.95 238.88 L113.93 238.68 L114.9 256.49 L115.87 254.65 L116.85 264.26 L117.82 258.33 L118.8 260.43 L119.77 269.14 L120.74 258.77 L121.72 245.67 L122.69 246.01 L123.66 237.24 L124.64 209.26 L125.61 251.11 L126.58 226.02 L127.56 249.9 L128.53 239.12 L129.5 240.42 L130.48 257.42 L131.45 237.88 L132.43 258.89 L133.4 257.62 L134.37 252.3 L135.35 259.58 L136.32 257 L137.29 250.14 L138.27 245.69 L139.24 249.39 L140.21 247.54 L141.19 238.48 L142.16 228.56 L143.14 243.28 L144.11 225.65 L145.08 240.8 L146.06 226.76 L147.03 249.3 L148 235.18 L148.98 245.95 L149.95 249.8 L150.92 256.97 L151.9 253.83 L152.87 252.98 L153.84 251.53 L154.82 257.22 L155.79 239.6 L156.77 240.31 L157.74 236.38 L158.71 215.75 L159.69 222.45 L160.66 236.75 L161.63 243.68 L162.61 217.89 L163.58 243.38 L164.55 233.27 L165.53 252.01 L166.5 235.86 L167.48 254.7 L168.45 256.02 L169.42 259.46 L170.4 256.18 L171.37 250.35 L172.34 250.24 L173.32 255.02 L174.29 237.89 L175.26 211.83 L176.24 245.81 L177.21 246.26 L178.18 237.58 L179.16 232.83 L180.13 229.26 L181.11 245.71 L182.08 241.84 L183.05 264.8 L184.03 254.31 L185 242.1" fill="none" stroke="#bfbfbf" stroke-width="0.8" stroke-linejoin="round"/>
<path d="M63.3 232.16 L64.27 206.48 L65.25 235.74 L66.22 238.43 L67.19 243.71 L68.17 246.26 L69.14 238.1 L70.12 269.24 L71.09 252.2 L72.06 257.69 L73.04 254.83 L74.01 244.79 L74.98 248.4 L75.96 243.42 L76.93 232.34 L77.9 223.02 L78.88 240.69 L79.85 225.67 L80.82 238.02 L81.8 231.92 L82.77 238.73 L83.75 243.34 L84.72 233.53 L85.69 256.73 L86.67 254.68 L87.64 250.69 L88.61 265.21 L89.59 256.74 L90.56 249.72 L91.53 230.57 L92.51 228.99 L93.48 230.76 L94.46 232.02 L95.43 243.99 L96.4 236.49 L97.38 242.7 L98.35 244.57 L99.32 243.99 L100.3 245.44 L101.27 241.47 L102.24 260.79 L103.22 261.56 L104.19 263.38 L105.16 258.89 L106.14 250.69 L107.11 250.41 L108.09 230.44 L109.06 226.81 L110.03 251.91 L111.01 242.9 L111.98 237.27 L112.95 233.47 L113.93 239.41 L114.9 253.13 L115.87 251.62 L116.85 253.41 L117.82 258.23 L118.8 260.37 L119.77 261.87 L120.74 259.24 L121.72 247.14 L122.69 232.89 L123.66 223.01 L124.64 242.28 L125.61 237.23 L126.58 240.69 L127.56 216.49 L128.53 244.18 L129.5 227.72 L130.48 235.68 L131.45 259.78 L132.43 249.52 L133.4 245.06 L134.37 260.83 L135.35 250.59 L136.32 254.92 L137.29 259.18 L138.27 253.54 L139.24 259.79 L140.21 251.02 L141.19 248.17 L142.16 242.7 L143.14 235.72 L144.11 242.44 L145.08 223.15 L146.06 225.29 L147.03 250.77 L148 247.33 L148.98 254.26 L149.95 270.1 L150.92 255.99 L151.9 262.81 L152.87 255.88 L153.84 246.95 L154.82 265.19 L155.79 254.5 L156.77 222.13 L157.74 233.22 L158.71 230.62 L159.69 221.48 L160.66 224.85 L161.63 249.42 L162.61 241.92 L163.58 252.9 L164.55 255.8 L165.53 249.27 L166.5 255.66 L167.48 246.4 L168.45 262.13 L169.42 248.97 L170.4 264.86 L171.37 247.92 L172.34 247.3 L173.32 246.28 L174.29 218.14 L175.26 219.85 L176.24 248.14 L177.21 222.62 L178.18 238.08 L179.16 237.86 L180.13 237.35 L181.11 243.75 L182.08 243.76 L183.05 255.47 L184.03 267.24 L185 254.62" fill="none" stroke="#bfbfbf" stroke-width="0.8" stroke-linejoin="round"/>
<path d="M63.3 225.13 L64.27 220.64 L65.25 218.8 L66.22 234.52 L67.19 238.73 L68.17 234.42 L69.14 234.11 L70.12 238.12 L71.09 243.78 L72.06 259.66 L73.04 251.44 L74.01 258.62 L74.98 234.05 L75.96 236.51 L76.93 223.16 L77.9 238 L78.88 190.62 L79.85 216.93 L80.82 214.83 L81.8 227.84 L82.77 246.09 L83.75 233.94 L84.72 246.64 L85.69 241.91 L86.67 261.79 L87.64 247.91 L88.61 254.98 L89.59 255.16 L90.56 250.84 L91.53 244.67 L92.51 228.05 L93.48 203.7 L94.46 237.44 L95.43 226.79 L96.4 228.95 L97.38 224.74 L98.35 241.8 L99.32 245.03 L100.3 243.3 L101.27 242.75 L102.24 250.87 L103.22 246.01 L104.19 255.86 L105.16 249.89 L106.14 247.85 L107.11 235.01 L108.09 228.27 L109.06 230.4 L110.03 230.53 L111.01 229.79 L111.98 203.6 L112.95 220.87 L113.93 240.88 L114.9 225.23 L115.87 246.52 L116.85 251.09 L117.82 253.7 L118.8 252.73 L119.77 256.66 L120.74 261.01 L121.72 252.37 L122.69 252.26 L123.66 222.88 L124.64 227.63 L125.61 221.15 L126.58 221.34 L127.56 206.85 L128.53 205.22 L129.5 223.76 L130.48 238.6 L131.45 227.54 L132.43 240.48 L133.4 232.17 L134.37 242.84 L135.35 250.49 L136.32 245.04 L137.29 244.81 L138.27 244.16 L139.24 261.88 L140.21 246.57 L141.19 243.22 L142.16 210.05 L143.14 226.98 L144.11 218.76 L145.08 233.96 L146.06 225.63 L147.03 224.29 L148 241.67 L148.98 240.98 L149.95 246.57 L150.92 243.19 L151.9 253.75 L152.87 246.64 L153.84 252.38 L154.82 243.88 L155.79 246.8 L156.77 233.2 L157.74 212.5 L158.71 216.62 L159.69 242.14 L160.66 225.08 L161.63 232.22 L162.61 248.22 L163.58 220.43 L164.55 230.27 L165.53 241.54 L166.5 229.44 L167.48 247.84 L168.45 251.62 L169.42 250.5 L170.4 253.62 L171.37 244.39 L172.34 243.32 L173.32 238.63 L174.29 224.68 L175.26 231.02 L176.24 215.97 L177.21 226.7 L178.18 245.6 L179.16 226.36 L180.13 219 L181.11 221.66 L182.08 223.18 L183.05 246.4 L184.03 242.59 L185 254.12" fill="none" stroke="#bfbfbf" stroke-width="0.8" stroke-linejoin="round"/>
<path d="M63.3 226 L64.27 220.22 L65.25 238.2 L66.22 240.71 L67.19 244.6 L68.17 247.1 L69.14 253.55 L70.12 248.91 L71.09 250.66 L72.06 262.37 L73.04 257.35 L74.01 245.38 L74.98 254.29 L75.96 229.21 L76.93 221.68 L77.9 233.16 L78.88 231.52 L79.85 239.59 L80.82 227.51 L81.8 245.2 L82.77 240.15 L83.75 242.83 L84.72 243.07 L85.69 250.93 L86.67 248.97 L87.64 257.58 L88.61 255.97 L89.59 251.31 L90.56 239.9 L91.53 239.19 L92.51 244.25 L93.48 228.98 L94.46 227.07 L95.43 231.29 L96.4 238.17 L97.38 251.55 L98.35 245.34 L99.32 248.75 L100.3 239.07 L101.27 244.38 L102.24 252.94 L103.22 260.7 L104.19 259.36 L105.16 251.06 L106.14 245.45 L107.11 249.37 L108.09 230.38 L109.06 224.4 L110.03 229.74 L111.01 228.81 L111.98 236.36 L112.95 241.42 L113.93 243.41 L114.9 246.18 L115.87 249.74 L116.85 252.86 L117.82 268.46 L118.8 258.62 L119.77 272.11 L120.74 253.73 L121.72 251.46 L122.69 247.22 L123.66 239.87 L124.64 247.17 L125.61 213.01 L126.58 224.72 L127.56 230.15 L128.53 241.96 L129.5 224.63 L130.48 258.64 L131.45 255.31 L132.43 254.53 L133.4 247.37 L134.37 248.83 L135.35 250.52 L136.32 257.2 L137.29 252.21 L138.27 245.25 L139.24 237.5 L140.21 244.06 L141.19 212.36 L142.16 233.85 L143.14 242.46 L144.11 225.27 L145.08 232.05 L146.06 244.22 L147.03 237.83 L148 243.81 L148.98 249.88 L149.95 256.17 L150.92 246.41 L151.9 255.03 L152.87 263.38 L153.84 250.84 L154.82 240.95 L155.79 249.35 L156.77 242.29 L157.74 225.81 L158.71 223.99 L159.69 237.92 L160.66 227.17 L161.63 232.44 L162.61 245.55 L163.58 239.15 L164.55 247.16 L165.53 227.78 L166.5 251.72 L167.48 245.97 L168.45 252.18 L169.42 249.29 L170.4 250.04 L171.37 253.55 L172.34 251.86 L173.32 232.25 L174.29 227.66 L175.26 234.06 L176.24 256.58 L177.21 242.94 L178.18 201.41 L179.16 244.83 L180.13 228.32 L181.11 251.51 L182.08 242.2 L183.05 245.95 L184.03 248.85 L185 258.21" fill="none" stroke="#bfbfbf" stroke-width="0.8" stroke-linejoin="round"/>
<path d="M63.3 232.06 L64.27 231.9 L65.25 237.84 L66.22 247.77 L67.19 253.77 L68.17 247.07 L69.14 251.53 L70.12 253.08 L71.09 253.09 L72.06 265.3 L73.04 264.29 L74.01 256.54 L74.98 254.22 L75.96 243.13 L76.93 233.84 L77.9 231.83 L78.88 231.4 L79.85 234.02 L80.82 239.74 L81.8 237.97 L82.77 249.01 L83.75 252.79 L84.72 245.78 L85.69 249.03 L86.67 256.5 L87.64 255.77 L88.61 274.01 L89.59 258.48 L90.56 245.69 L91.53 238.17 L92.51 237.86 L93.48 235.42 L94.46 230.01 L95.43 226.53 L96.4 240.28 L97.38 242.33 L98.35 244.11 L99.32 254.51 L100.3 247.86 L101.27 262.33 L102.24 257.95 L103.22 261.99 L104.19 260.63 L105.16 261.87 L106.14 252.15 L107.11 240.21 L108.09 243.51 L109.06 236.5 L110.03 245.31 L111.01 234.93 L111.98 231.63 L112.95 243.81 L113.93 245.53 L114.9 250.56 L115.87 255.25 L116.85 255.92 L117.82 268.1 L118.8 259.57 L119.77 271.83 L120.74 266.57 L121.72 253.22 L122.69 248.27 L123.66 235.28 L124.64 225.9 L125.61 232.45 L126.58 231.07 L127.56 230.45 L128.53 234.41 L129.5 241.94 L130.48 247.02 L131.45 248.2 L132.43 249.83 L133.4 246.93 L134.37 254.25 L135.35 251.08 L136.32 249.22 L137.29 263.58 L138.27 258.84 L139.24 253.4 L140.21 246.29 L141.19 232.34 L142.16 235.8 L143.14 230.1 L144.11 224.91 L145.08 241.57 L146.06 241.45 L147.03 243 L148 247.71 L148.98 246.96 L149.95 256.92 L150.92 250.84 L151.9 249.33 L152.87 265.42 L153.84 261.06 L154.82 255.95 L155.79 241.9 L156.77 241.34 L157.74 232.43 L158.71 229.12 L159.69 235.27 L160.66 237.92 L161.63 242.48 L162.61 231.78 L163.58 238.6 L164.55 242.8 L165.53 252.09 L166.5 248.81 L167.48 258.56 L168.45 257.94 L169.42 257.71 L170.4 256.41 L171.37 253.44 L172.34 255.59 L173.32 240.03 L174.29 237.93 L175.26 235.99 L176.24 236.86 L177.21 238.41 L178.18 233.82 L179.16 232.86 L180.13 240.2 L181.11 252.77 L182.08 254.43 L183.05 249.9 L184.03 249.17 L185 258.97" fill="none" stroke="#000" stroke-width="0.9" stroke-opacity="0.12" stroke-linejoin="round"/>
<path d="M63.3 222.03 L64.27 222.51 L65.25 235.19 L66.22 236 L67.19 235.69 L68.17 244.05 L69.14 244.21 L70.12 246.63 L71.09 244.21 L72.06 254.93 L73.04 251.67 L74.01 247.12 L74.98 245.93 L75.96 235.7 L76.93 228.26 L77.9 228.44 L78.88 219.18 L79.85 222.15 L80.82 233.76 L81.8 229.54 L82.77 230.68 L83.75 243.61 L84.72 242.6 L85.69 242.8 L86.67 246.19 L87.64 248.34 L88.61 260.33 L89.59 250.25 L90.56 244.75 L91.53 230.19 L92.51 230.26 L93.48 226.82 L94.46 219.07 L95.43 224.97 L96.4 232.78 L97.38 236.04 L98.35 241.69 L99.32 240.87 L100.3 240.6 L101.27 239.16 L102.24 245.69 L103.22 254.93 L104.19 249.2 L105.16 252.67 L106.14 247.83 L107.11 237.18 L108.09 230.73 L109.06 238.16 L110.03 227.4 L111.01 226.66 L111.98 223.17 L112.95 232.02 L113.93 239.2 L114.9 245.26 L115.87 248.09 L116.85 249.4 L117.82 260.18 L118.8 263.69 L119.77 260.41 L120.74 258.06 L121.72 249.1 L122.69 239.39 L123.66 230.81 L124.64 232.58 L125.61 219.47 L126.58 221.35 L127.56 223.62 L128.53 230.56 L129.5 237 L130.48 238.93 L131.45 238.66 L132.43 242.82 L133.4 244.18 L134.37 244.26 L135.35 248.74 L136.32 252.19 L137.29 250.63 L138.27 250.71 L139.24 237.54 L140.21 228.87 L141.19 234.05 L142.16 229.89 L143.14 222.94 L144.11 231.06 L145.08 227.79 L146.06 223.46 L147.03 233.55 L148 241.76 L148.98 236.95 L149.95 238.7 L150.92 249.19 L151.9 247.81 L152.87 253.27 L153.84 247.46 L154.82 250.86 L155.79 235.3 L156.77 233.38 L157.74 227.13 L158.71 223.16 L159.69 236.66 L160.66 222.86 L161.63 224.46 L162.61 226.53 L163.58 230.68 L164.55 233.09 L165.53 232.8 L166.5 242.03 L167.48 247.03 L168.45 251.49 L169.42 250.03 L170.4 255.62 L171.37 245.01 L172.34 240.58 L173.32 230.24 L174.29 226.15 L175.26 231.45 L176.24 223.68 L177.21 223.92 L178.18 220 L179.16 231.39 L180.13 230.93 L181.11 242.66 L182.08 245.75 L183.05 243.24 L184.03 243.28 L185 249.51" fill="none" stroke="#000" stroke-width="0.9" stroke-opacity="0.12" stroke-linejoin="round"/>
<path d="M63.3 233.38 L64.27 232.84 L65.25 240.84 L66.22 242.22 L67.19 247.09 L68.17 241.39 L69.14 255.22 L70.12 257.48 L71.09 252.97 L72.06 253.77 L73.04 260.93 L74.01 256.09 L74.98 250.33 L75.96 240.27 L76.93 233.02 L77.9 238.81 L78.88 232.7 L79.85 235.04 L80.82 237.81 L81.8 237.76 L82.77 236.21 L83.75 242.44 L84.72 251.54 L85.69 247.86 L86.67 248.49 L87.64 247.17 L88.61 264.99 L89.59 254.64 L90.56 244.2 L91.53 236.95 L92.51 237 L93.48 237.5 L94.46 234.59 L95.43 238.3 L96.4 237.12 L97.38 240.31 L98.35 246.78 L99.32 251.75 L100.3 250.99 L101.27 258.6 L102.24 245.13 L103.22 260.35 L104.19 256.45 L105.16 254.32 L106.14 248.78 L107.11 239.14 L108.09 243.62 L109.06 231.59 L110.03 235.95 L111.01 239.99 L111.98 231.52 L112.95 236.44 L113.93 244.51 L114.9 246.32 L115.87 253.89 L116.85 247.31 L117.82 258.83 L118.8 260.32 L119.77 268.72 L120.74 265.7 L121.72 260.86 L122.69 245.14 L123.66 237.03 L124.64 237.86 L125.61 234.05 L126.58 231 L127.56 233.09 L128.53 238.55 L129.5 238.63 L130.48 245.38 L131.45 246.59 L132.43 250.01 L133.4 251.86 L134.37 244.98 L135.35 255.36 L136.32 261.65 L137.29 260.73 L138.27 259.78 L139.24 242.94 L140.21 232.59 L141.19 245.03 L142.16 230.79 L143.14 231.21 L144.11 223.71 L145.08 231.44 L146.06 238.16 L147.03 233.97 L148 245.31 L148.98 246.55 L149.95 258.12 L150.92 252.34 L151.9 252.19 L152.87 258.7 L153.84 256.9 L154.82 248 L155.79 243.57 L156.77 243.78 L157.74 234.2 L158.71 238.89 L159.69 233.9 L160.66 233.62 L161.63 225.4 L162.61 229.16 L163.58 234.99 L164.55 237.77 L165.53 248.45 L166.5 247.5 L167.48 251.89 L168.45 261.94 L169.42 259.62 L170.4 251.17 L171.37 246.81 L172.34 240.11 L173.32 235.15 L174.29 244.86 L175.26 236.79 L176.24 239.97 L177.21 240.19 L178.18 229.42 L179.16 233.81 L180.13 242.6 L181.11 247.34 L182.08 251.88 L183.05 254.9 L184.03 256.35 L185 251.47" fill="none" stroke="#000" stroke-width="0.9" stroke-opacity="0.12" stroke-linejoin="round"/>
<path d="M63.3 234.75 L64.27 237.74 L65.25 240.22 L66.22 243.73 L67.19 254 L68.17 247.41 L69.14 257.66 L70.12 246.42 L71.09 251.21 L72.06 261.45 L73.04 262.74 L74.01 259.37 L74.98 254.84 L75.96 244.95 L76.93 245.06 L77.9 229.65 L78.88 229.64 L79.85 237.27 L80.82 233.57 L81.8 242.38 L82.77 232.05 L83.75 250.11 L84.72 244.95 L85.69 257.73 L86.67 255.82 L87.64 258.92 L88.61 257.85 L89.59 260.07 L90.56 248.46 L91.53 251.76 L92.51 246.4 L93.48 236.51 L94.46 234.84 L95.43 232.07 L96.4 240.02 L97.38 240.71 L98.35 248.23 L99.32 256.07 L100.3 248.94 L101.27 260.45 L102.24 263.45 L103.22 258.83 L104.19 262.89 L105.16 259.25 L106.14 253.94 L107.11 239.07 L108.09 247.2 L109.06 247.9 L110.03 240.7 L111.01 242.58 L111.98 239.45 L112.95 239.76 L113.93 241.18 L114.9 252.15 L115.87 258.77 L116.85 261.01 L117.82 257.51 L118.8 259.75 L119.77 257.31 L120.74 266.51 L121.72 256 L122.69 239.68 L123.66 238.97 L124.64 238.32 L125.61 233.54 L126.58 232.11 L127.56 232.79 L128.53 238.21 L129.5 241.23 L130.48 245.72 L131.45 252.2 L132.43 248.5 L133.4 247.83 L134.37 248.81 L135.35 257.07 L136.32 260.2 L137.29 261.28 L138.27 260.64 L139.24 259.1 L140.21 247.07 L141.19 230.34 L142.16 237.13 L143.14 231.94 L144.11 236.19 L145.08 235.11 L146.06 238.7 L147.03 238.24 L148 247.54 L148.98 253.72 L149.95 249.22 L150.92 249.61 L151.9 257.56 L152.87 262.44 L153.84 259.62 L154.82 250.03 L155.79 238.74 L156.77 242.64 L157.74 240.45 L158.71 224.14 L159.69 233.06 L160.66 231.68 L161.63 236.97 L162.61 231.16 L163.58 236.76 L164.55 244.13 L165.53 253.62 L166.5 242.53 L167.48 255.97 L168.45 263.26 L169.42 262.07 L170.4 258.69 L171.37 259.16 L172.34 252.97 L173.32 244.72 L174.29 236.55 L175.26 232.34 L176.24 233.53 L177.21 237.91 L178.18 229.98 L179.16 232.01 L180.13 246.17 L181.11 244.56 L182.08 250.48 L183.05 255.73 L184.03 254.96 L185 263.05" fill="none" stroke="#000" stroke-width="0.9" stroke-opacity="0.12" stroke-linejoin="round"/>
<path d="M63.3 232.34 L63.71 230.83 L64.11 231.49 L64.52 232.72 L64.93 234.67 L65.34 238.17 L65.74 239.3 L66.15 241.41 L66.56 244.63 L66.96 244.58 L67.37 244.43 L67.78 245.49 L68.18 245.64 L68.59 246.53 L69 248.74 L69.41 250.04 L69.81 250.56 L70.22 250.82 L70.63 250.9 L71.03 251.64 L71.44 253.7 L71.85 255.06 L72.25 256.08 L72.66 257.13 L73.07 257.93 L73.48 258.63 L73.88 256.21 L74.29 252.2 L74.7 249.58 L75.1 248.07 L75.51 244.43 L75.92 240.39 L76.32 238.74 L76.73 237.89 L77.14 236.64 L77.55 235.07 L77.95 232.91 L78.36 232.82 L78.77 229.1 L79.17 230.28 L79.58 232.43 L79.99 233.67 L80.39 234.1 L80.8 234.86 L81.21 235.16 L81.62 236.39 L82.02 238.45 L82.43 240.09 L82.84 241.68 L83.24 244.41 L83.65 243.78 L84.06 245.69 L84.47 247.69 L84.87 247.98 L85.28 247.09 L85.69 249.72 L86.09 251.41 L86.5 250.45 L86.91 251.32 L87.31 253.29 L87.72 254.83 L88.13 258.52 L88.54 260.18 L88.94 259.06 L89.35 256.67 L89.76 253.49 L90.16 250.21 L90.57 247.04 L90.98 243.9 L91.38 240.23 L91.79 239.15 L92.2 238.71 L92.61 236.43 L93.01 236.33 L93.42 233.76 L93.83 232.44 L94.23 230.63 L94.64 229.88 L95.05 231.09 L95.45 232.9 L95.86 233.47 L96.27 235.56 L96.68 236.85 L97.08 238.62 L97.49 241.45 L97.9 243.55 L98.3 244.39 L98.71 245.82 L99.12 247.37 L99.53 248.69 L99.93 249.8 L100.34 250.58 L100.75 250.38 L101.15 251.29 L101.56 252.39 L101.97 253.15 L102.37 254.34 L102.78 256.32 L103.19 256.56 L103.6 259.07 L104 258.55 L104.41 256.22 L104.82 255.04 L105.22 253.1 L105.63 250.92 L106.04 248.34 L106.44 245.51 L106.85 241.84 L107.26 238.29 L107.67 237.93 L108.07 238.12 L108.48 236.41 L108.89 237.16 L109.29 236.04 L109.7 234.62 L110.11 235.54 L110.51 235.09 L110.92 233.01 L111.33 232.43 L111.74 234.11 L112.14 236.22 L112.55 237.07 L112.96 237.96 L113.36 238.97 L113.77 241.93 L114.18 244.2 L114.58 245.53 L114.99 246.73 L115.4 248.79 L115.81 249.71 L116.21 251.06 L116.62 253.33 L117.03 255.26 L117.43 256.56 L117.84 258.97 L118.25 258.12 L118.66 257.82 L119.06 260.26 L119.47 262.27 L119.88 262.72 L120.28 264.4 L120.69 261.73 L121.1 258.27 L121.5 254.67 L121.91 251.47 L122.32 248.03 L122.73 242.9 L123.13 238.03 L123.54 233.98 L123.95 232.84 L124.35 232.54 L124.76 232.16 L125.17 230.29 L125.57 231.25 L125.98 231.02 L126.39 230.68 L126.8 230.76 L127.2 231.13 L127.61 231.28 L128.02 231.07 L128.42 233.9 L128.83 236.5 L129.24 238.71 L129.64 239.79 L130.05 240.71 L130.46 243.19 L130.87 243.26 L131.27 245.34 L131.68 247.96 L132.09 249.4 L132.49 247.91 L132.9 246.72 L133.31 248.54 L133.72 249.71 L134.12 250.65 L134.53 250.75 L134.94 249.91 L135.34 250.87 L135.75 251.94 L136.16 252.94 L136.56 253.01 L136.97 253.01 L137.38 254.05 L137.79 255.98 L138.19 254.63 L138.6 252.72 L139.01 250.53 L139.41 247.83 L139.82 244.88 L140.23 242.98 L140.63 242.85 L141.04 237.75 L141.45 234.81 L141.86 233.57 L142.26 232.45 L142.67 230.73 L143.08 229.31 L143.48 230.55 L143.89 230.36 L144.3 230.11 L144.7 230.71 L145.11 231.66 L145.52 233.24 L145.93 234.23 L146.33 234.28 L146.74 234.54 L147.15 237.41 L147.55 241.11 L147.96 244.58 L148.37 246.26 L148.77 246.33 L149.18 246.09 L149.59 247.18 L150 250.06 L150.4 248.59 L150.81 251.74 L151.22 252.25 L151.62 252.05 L152.03 253.26 L152.44 256.34 L152.85 258.28 L153.25 258.78 L153.66 256.62 L154.07 254.48 L154.47 252.19 L154.88 248.7 L155.29 247.75 L155.69 242.98 L156.1 240.65 L156.51 238.33 L156.92 236.79 L157.32 235.26 L157.73 234.18 L158.14 232.69 L158.54 231.94 L158.95 232.36 L159.36 233.18 L159.76 233.52 L160.17 233.84 L160.58 232.99 L160.99 231.91 L161.39 231.2 L161.8 230.73 L162.21 230.18 L162.61 231.38 L163.02 233.32 L163.43 236.85 L163.83 239.6 L164.24 240.7 L164.65 240.96 L165.06 242.78 L165.46 245.46 L165.87 245.94 L166.28 248 L166.68 250.29 L167.09 251.96 L167.5 254.66 L167.91 254.07 L168.31 255.97 L168.72 257.11 L169.13 256.78 L169.53 257.13 L169.94 257.59 L170.35 256.7 L170.75 254.19 L171.16 252.93 L171.57 251.74 L171.98 249.07 L172.38 246.13 L172.79 242.8 L173.2 239.94 L173.6 236.73 L174.01 235.52 L174.42 234.65 L174.82 232.21 L175.23 232.14 L175.64 230.42 L176.05 231.12 L176.45 231.3 L176.86 231.42 L177.27 233.04 L177.67 233.34 L178.08 230.96 L178.49 229.24 L178.89 227.97 L179.3 231.19 L179.71 234.36 L180.12 237.99 L180.52 238.19 L180.93 241.08 L181.34 243.22 L181.74 245.05 L182.15 248.09 L182.56 249.63 L182.96 249.36 L183.37 249.65 L183.78 249.65 L184.19 251.35 L184.59 253.9 L185 254.23" fill="none" stroke="#000" stroke-width="1.15" stroke-linejoin="round"/>
</g>
<clipPath id="clip4"><rect x="234" y="183.5" width="121.5" height="97.9"/></clipPath>
<g clip-path="url(#clip4)">
<path d="M233.5 229.68 L234.47 260.69 L235.44 238.79 L236.42 255.59 L237.39 246.2 L238.36 257.78 L239.33 259.38 L240.3 262.38 L241.28 273.01 L242.25 257.63 L243.22 241.66 L244.19 268.35 L245.16 209.9 L246.14 258.2 L247.11 219.98 L248.08 239.33 L249.05 247.59 L250.02 251.87 L251 250.84 L251.97 242.24 L252.94 246.43 L253.91 236.31 L254.88 268.68 L255.86 248.62 L256.83 265.58 L257.8 254.84 L258.77 261.78 L259.74 255.39 L260.72 249.45 L261.69 257.87 L262.66 228.55 L263.63 238.36 L264.6 221.96 L265.58 219.19 L266.55 254.26 L267.52 240.98 L268.49 249.79 L269.46 266.26 L270.44 250.58 L271.41 245.61 L272.38 258.46 L273.35 263.55 L274.32 266.7 L275.3 245.77 L276.27 241.56 L277.24 214.51 L278.21 243.66 L279.18 231.65 L280.16 223.93 L281.13 259.23 L282.1 238.76 L283.07 241.54 L284.04 268.9 L285.02 254.8 L285.99 242.09 L286.96 275.84 L287.93 245.82 L288.9 246.61 L289.88 251.81 L290.85 243.84 L291.82 239.78 L292.79 247.07 L293.76 229.14 L294.74 252.65 L295.71 221.86 L296.68 253.81 L297.65 259.94 L298.62 200.01 L299.6 236.76 L300.57 255.25 L301.54 242.75 L302.51 260.32 L303.48 243.88 L304.46 247.93 L305.43 256.12 L306.4 254.84 L307.37 278.52 L308.34 262.15 L309.32 250.24 L310.29 246.4 L311.26 224.12 L312.23 251.61 L313.2 216.94 L314.18 248.15 L315.15 226.95 L316.12 264.29 L317.09 247.93 L318.06 255.4 L319.04 257.6 L320.01 248.49 L320.98 255.05 L321.95 234.86 L322.92 239.28 L323.9 251.31 L324.87 248.55 L325.84 252.07 L326.81 247.49 L327.78 238.59 L328.76 238.88 L329.73 226.12 L330.7 226 L331.67 227.29 L332.64 243.3 L333.62 259.83 L334.59 240.13 L335.56 255.35 L336.53 251.08 L337.5 244.39 L338.48 259.42 L339.45 257.97 L340.42 272.78 L341.39 251.75 L342.36 240.83 L343.34 238.56 L344.31 247.92 L345.28 231.84 L346.25 257.38 L347.22 206.45 L348.2 241.81 L349.17 242.43 L350.14 232.66 L351.11 228.06 L352.08 244.12 L353.06 233.69 L354.03 249.71 L355 240.12" fill="none" stroke="#d2d2d2" stroke-width="0.8" stroke-linejoin="round"/>
<path d="M233.5 275.84 L234.47 208.7 L235.44 245.7 L236.42 242.32 L237.39 252.88 L238.36 252.97 L239.33 253.08 L240.3 280.83 L241.28 263.61 L242.25 263.9 L243.22 273.65 L244.19 254.7 L245.16 273.05 L246.14 237.63 L247.11 234.2 L248.08 257.31 L249.05 231.46 L250.02 226.33 L251 220.5 L251.97 236.96 L252.94 244.94 L253.91 250.63 L254.88 258.17 L255.86 260.13 L256.83 241.94 L257.8 250.08 L258.77 249.8 L259.74 267.15 L260.72 269.97 L261.69 247.83 L262.66 258.81 L263.63 227.8 L264.6 226.02 L265.58 237.9 L266.55 226.51 L267.52 256.07 L268.49 262.26 L269.46 259.66 L270.44 270.38 L271.41 260.46 L272.38 253.83 L273.35 268.78 L274.32 256.51 L275.3 268.06 L276.27 274.4 L277.24 254.97 L278.21 238.53 L279.18 248.22 L280.16 261.69 L281.13 205.12 L282.1 221.12 L283.07 229.49 L284.04 237.34 L285.02 248.63 L285.99 258.77 L286.96 245.99 L287.93 265.75 L288.9 250.62 L289.88 256.17 L290.85 263.64 L291.82 258.94 L292.79 244.58 L293.76 204.91 L294.74 245.63 L295.71 236.32 L296.68 209.53 L297.65 248.37 L298.62 236.96 L299.6 239.67 L300.57 280.22 L301.54 246.34 L302.51 263.87 L303.48 258.54 L304.46 258.98 L305.43 255.3 L306.4 251.92 L307.37 258.07 L308.34 269.54 L309.32 258.22 L310.29 255.54 L311.26 259.57 L312.23 242.72 L313.2 216.36 L314.18 237.45 L315.15 244.38 L316.12 236.31 L317.09 210.15 L318.06 221.41 L319.04 253.07 L320.01 270.65 L320.98 262.53 L321.95 252.51 L322.92 267.1 L323.9 262.36 L324.87 253.18 L325.84 262.05 L326.81 250.54 L327.78 227.96 L328.76 226.82 L329.73 227.77 L330.7 257.08 L331.67 228.83 L332.64 243.94 L333.62 240.95 L334.59 251.85 L335.56 265.85 L336.53 251.19 L337.5 260.35 L338.48 255.3 L339.45 258.29 L340.42 266.53 L341.39 269.15 L342.36 262.93 L343.34 231.44 L344.31 279.61 L345.28 250.26 L346.25 240.73 L347.22 250.7 L348.2 279.16 L349.17 238.61 L350.14 231.14 L351.11 244.86 L352.08 254.22 L353.06 263.26 L354.03 254.24 L355 262.55" fill="none" stroke="#d2d2d2" stroke-width="0.8" stroke-linejoin="round"/>
<path d="M233.5 231.04 L234.47 252.06 L235.44 248.33 L236.42 240.25 L237.39 251.95 L238.36 238.81 L239.33 253.72 L240.3 253.97 L241.28 256.18 L242.25 253.03 L243.22 232.87 L244.19 229.28 L245.16 243.21 L246.14 278.18 L247.11 226.15 L248.08 237.23 L249.05 206.27 L250.02 267.78 L251 254.05 L251.97 221.85 L252.94 244.08 L253.91 233.88 L254.88 249.64 L255.86 237.45 L256.83 258.58 L257.8 263.27 L258.77 245.64 L259.74 247.54 L260.72 242.21 L261.69 237.98 L262.66 258.12 L263.63 238.29 L264.6 234.63 L265.58 264.64 L266.55 247.58 L267.52 243.25 L268.49 246.5 L269.46 256.83 L270.44 258.7 L271.41 247.88 L272.38 240.57 L273.35 258.14 L274.32 262.81 L275.3 231.47 L276.27 259.96 L277.24 257.47 L278.21 225.15 L279.18 225 L280.16 223.31 L281.13 244.51 L282.1 225.09 L283.07 254.55 L284.04 258.04 L285.02 243.58 L285.99 247.2 L286.96 253.39 L287.93 254.11 L288.9 260 L289.88 259.16 L290.85 240.09 L291.82 253.83 L292.79 227.68 L293.76 253.96 L294.74 228.09 L295.71 230.76 L296.68 240.12 L297.65 246.59 L298.62 231.87 L299.6 253.92 L300.57 246.07 L301.54 246.54 L302.51 251.09 L303.48 254.16 L304.46 257.89 L305.43 251.87 L306.4 255.33 L307.37 256.52 L308.34 261.13 L309.32 254.4 L310.29 233.5 L311.26 264.61 L312.23 225.87 L313.2 239.51 L314.18 257.72 L315.15 247.98 L316.12 244.95 L317.09 276.48 L318.06 247.84 L319.04 251.7 L320.01 249.44 L320.98 250.01 L321.95 254.67 L322.92 245.3 L323.9 255.14 L324.87 254.83 L325.84 241.74 L326.81 254.23 L327.78 231.37 L328.76 206.27 L329.73 248.31 L330.7 225.49 L331.67 246.23 L332.64 252.51 L333.62 245.45 L334.59 258.15 L335.56 255.26 L336.53 242.73 L337.5 245.62 L338.48 238.23 L339.45 249.15 L340.42 260.78 L341.39 250.22 L342.36 263.09 L343.34 248.84 L344.31 242.1 L345.28 262.61 L346.25 251.23 L347.22 221.93 L348.2 254.44 L349.17 255.66 L350.14 230.21 L351.11 241.61 L352.08 267.28 L353.06 239.12 L354.03 265.69 L355 253.89" fill="none" stroke="#d2d2d2" stroke-width="0.8" stroke-linejoin="round"/>
<path d="M233.5 200.18 L234.47 249.73 L235.44 218.88 L236.42 245.03 L237.39 237.41 L238.36 253.39 L239.33 255.32 L240.3 241.34 L241.28 238.21 L242.25 256.22 L243.22 273.82 L244.19 264.42 L245.16 223.63 L246.14 258.97 L247.11 251.54 L248.08 240.91 L249.05 214.46 L250.02 215.38 L251 209.01 L251.97 214.43 L252.94 218.09 L253.91 229.93 L254.88 252.71 L255.86 267.1 L256.83 270.72 L257.8 261.98 L258.77 252.21 L259.74 256.34 L260.72 269.5 L261.69 249.53 L262.66 242.72 L263.63 243.05 L264.6 242.71 L265.58 265.79 L266.55 243.35 L267.52 249.12 L268.49 226.83 L269.46 245.03 L270.44 247.67 L271.41 251.89 L272.38 259.34 L273.35 275.5 L274.32 251.47 L275.3 247.41 L276.27 252.94 L277.24 240.36 L278.21 235.57 L279.18 220.79 L280.16 233 L281.13 208.42 L282.1 218.67 L283.07 237.62 L284.04 241.51 L285.02 256.18 L285.99 231.16 L286.96 242.8 L287.93 258.28 L288.9 261.84 L289.88 260.24 L290.85 247.93 L291.82 239 L292.79 245.04 L293.76 237.24 L294.74 232.97 L295.71 226.19 L296.68 262.81 L297.65 224.15 L298.62 269.05 L299.6 233.61 L300.57 242.22 L301.54 250.9 L302.51 229.31 L303.48 261.66 L304.46 254.96 L305.43 254.39 L306.4 257.88 L307.37 264.62 L308.34 261 L309.32 256.32 L310.29 257.28 L311.26 232.63 L312.23 223.32 L313.2 227 L314.18 230.64 L315.15 250.66 L316.12 234.04 L317.09 209.88 L318.06 244.33 L319.04 244.09 L320.01 251.47 L320.98 241.29 L321.95 222.33 L322.92 257.03 L323.9 264.24 L324.87 266.85 L325.84 260.19 L326.81 234.06 L327.78 244.95 L328.76 253.01 L329.73 212.46 L330.7 206.03 L331.67 223.6 L332.64 240.43 L333.62 255.58 L334.59 226.08 L335.56 264.29 L336.53 258.23 L337.5 263.88 L338.48 244 L339.45 254.29 L340.42 273.49 L341.39 261.69 L342.36 264.83 L343.34 266.84 L344.31 239.44 L345.28 244.61 L346.25 219.51 L347.22 252.96 L348.2 220.21 L349.17 224.37 L350.14 242.16 L351.11 236.99 L352.08 249.8 L353.06 252.08 L354.03 244.1 L355 267.11" fill="none" stroke="#d2d2d2" stroke-width="0.8" stroke-linejoin="round"/>
<path d="M233.5 219.75 L234.47 219.8 L235.44 209.03 L236.42 264.22 L237.39 233.5 L238.36 251.19 L239.33 260.91 L240.3 253.38 L241.28 256.63 L242.25 258.47 L243.22 274.56 L244.19 254.8 L245.16 233.63 L246.14 245.11 L247.11 236.22 L248.08 224.66 L249.05 214.47 L250.02 229.78 L251 232.86 L251.97 248.74 L252.94 246.7 L253.91 246.77 L254.88 243.93 L255.86 233.69 L256.83 258.61 L257.8 247.54 L258.77 249.7 L259.74 275.94 L260.72 243.37 L261.69 250.47 L262.66 220.61 L263.63 248.32 L264.6 283.52 L265.58 218.18 L266.55 219.28 L267.52 252.2 L268.49 237.46 L269.46 243.97 L270.44 251.51 L271.41 250.63 L272.38 239.55 L273.35 269.42 L274.32 269.09 L275.3 260.37 L276.27 269.71 L277.24 239.71 L278.21 255.69 L279.18 252.93 L280.16 237.93 L281.13 221.13 L282.1 243.53 L283.07 220.56 L284.04 252.68 L285.02 260.37 L285.99 254.37 L286.96 250.27 L287.93 244.34 L288.9 259.95 L289.88 266.08 L290.85 257.82 L291.82 247.47 L292.79 241.4 L293.76 247.07 L294.74 221.14 L295.71 216.3 L296.68 231.46 L297.65 235.2 L298.62 232 L299.6 235.34 L300.57 222.34 L301.54 247.4 L302.51 264.2 L303.48 240.98 L304.46 262.12 L305.43 253.71 L306.4 256.12 L307.37 249.14 L308.34 256.82 L309.32 262.32 L310.29 248.62 L311.26 272.9 L312.23 260.41 L313.2 235.54 L314.18 217.09 L315.15 190.73 L316.12 189.47 L317.09 219.53 L318.06 215.46 L319.04 241.01 L320.01 240.71 L320.98 252.16 L321.95 261.33 L322.92 244.89 L323.9 247.84 L324.87 255.51 L325.84 262.9 L326.81 262.02 L327.78 199.42 L328.76 238.87 L329.73 203.16 L330.7 220.81 L331.67 211.59 L332.64 248.95 L333.62 218.92 L334.59 225.85 L335.56 248.18 L336.53 248.59 L337.5 248.63 L338.48 226.21 L339.45 256.28 L340.42 255.66 L341.39 264.75 L342.36 258.47 L343.34 267.36 L344.31 259.24 L345.28 246.72 L346.25 221.42 L347.22 225.67 L348.2 240.56 L349.17 237.7 L350.14 232.43 L351.11 239.92 L352.08 242.03 L353.06 239.75 L354.03 260.59 L355 246.42" fill="none" stroke="#d2d2d2" stroke-width="0.8" stroke-linejoin="round"/>
<path d="M233.5 220.57 L234.47 233.33 L235.44 254.13 L236.42 249.06 L237.39 251.93 L238.36 247.07 L239.33 266.89 L240.3 265.01 L241.28 251.74 L242.25 254.81 L243.22 253.42 L244.19 228.39 L245.16 239.49 L246.14 259.51 L247.11 250.81 L248.08 205.76 L249.05 194.79 L250.02 241.18 L251 223.6 L251.97 229.12 L252.94 256.5 L253.91 246.8 L254.88 266.95 L255.86 246.63 L256.83 267.92 L257.8 265.98 L258.77 271.64 L259.74 242.59 L260.72 235.39 L261.69 235.31 L262.66 190.41 L263.63 224.34 L264.6 238.3 L265.58 239.12 L266.55 225.96 L267.52 247.89 L268.49 234.09 L269.46 246.41 L270.44 260.86 L271.41 262.54 L272.38 246.09 L273.35 269.69 L274.32 248.44 L275.3 238.64 L276.27 240.85 L277.24 241.89 L278.21 188.45 L279.18 190.57 L280.16 202.87 L281.13 208.59 L282.1 233.17 L283.07 252.13 L284.04 262.36 L285.02 232.25 L285.99 254.06 L286.96 259.5 L287.93 250.7 L288.9 268.14 L289.88 258.97 L290.85 260.98 L291.82 217.47 L292.79 242.02 L293.76 248.04 L294.74 196.05 L295.71 212.89 L296.68 219.2 L297.65 241.57 L298.62 232.04 L299.6 247.2 L300.57 248.85 L301.54 238.91 L302.51 242.52 L303.48 238.24 L304.46 259.6 L305.43 255.53 L306.4 261.83 L307.37 259.4 L308.34 255.1 L309.32 222.63 L310.29 216.91 L311.26 252.03 L312.23 224.61 L313.2 209.98 L314.18 228.34 L315.15 197.41 L316.12 220.39 L317.09 238.2 L318.06 261.76 L319.04 233.2 L320.01 249.96 L320.98 253.75 L321.95 246.36 L322.92 245.68 L323.9 257.58 L324.87 262.86 L325.84 257.52 L326.81 201.07 L327.78 208.74 L328.76 242.52 L329.73 204.53 L330.7 233.65 L331.67 247.6 L332.64 222.15 L333.62 234.29 L334.59 256 L335.56 254.74 L336.53 247.31 L337.5 248.12 L338.48 252.68 L339.45 257.73 L340.42 262.33 L341.39 263.01 L342.36 252.67 L343.34 233.47 L344.31 217.85 L345.28 259.19 L346.25 256.15 L347.22 215.57 L348.2 227.87 L349.17 242.2 L350.14 229.46 L351.11 243.36 L352.08 239.67 L353.06 235.16 L354.03 247.36 L355 259.7" fill="none" stroke="#d2d2d2" stroke-width="0.8" stroke-linejoin="round"/>
<path d="M233.5 210.67 L234.47 220.77 L235.44 227.94 L236.42 238.23 L237.39 228.4 L238.36 264.85 L239.33 249.28 L240.3 242.55 L241.28 237.63 L242.25 264.39 L243.22 265.24 L244.19 246.35 L245.16 242.71 L246.14 221.32 L247.11 254.18 L248.08 198.21 L249.05 198.52 L250.02 203.12 L251 246.44 L251.97 233.55 L252.94 258.43 L253.91 236.13 L254.88 245.19 L255.86 257.93 L256.83 250.95 L257.8 255.04 L258.77 255.32 L259.74 257.68 L260.72 255.29 L261.69 243.78 L262.66 223.38 L263.63 227.33 L264.6 230.14 L265.58 215.01 L266.55 230.78 L267.52 236.76 L268.49 252.46 L269.46 256.46 L270.44 254.81 L271.41 246.29 L272.38 256.91 L273.35 259.41 L274.32 241.87 L275.3 266.2 L276.27 256.4 L277.24 254.46 L278.21 227.9 L279.18 232.45 L280.16 225.26 L281.13 245.87 L282.1 203.43 L283.07 225.42 L284.04 239.78 L285.02 244.62 L285.99 230.85 L286.96 252.49 L287.93 247.72 L288.9 242.86 L289.88 246.45 L290.85 246.89 L291.82 244.21 L292.79 270.14 L293.76 230.96 L294.74 221.53 L295.71 199.44 L296.68 228.64 L297.65 203.99 L298.62 214.18 L299.6 205.44 L300.57 237.21 L301.54 220.33 L302.51 256.95 L303.48 255.87 L304.46 255.05 L305.43 248.39 L306.4 270.11 L307.37 247.46 L308.34 259.23 L309.32 256.71 L310.29 260.66 L311.26 224.31 L312.23 227.37 L313.2 223.55 L314.18 203.09 L315.15 235.58 L316.12 262.58 L317.09 207.6 L318.06 252.22 L319.04 237.86 L320.01 257.75 L320.98 234.78 L321.95 246.44 L322.92 238.36 L323.9 247.41 L324.87 261.36 L325.84 250.4 L326.81 265.28 L327.78 238.44 L328.76 212.39 L329.73 234.43 L330.7 252.68 L331.67 236.21 L332.64 227.54 L333.62 251.96 L334.59 219.75 L335.56 265 L336.53 245.45 L337.5 243.56 L338.48 255.64 L339.45 272.83 L340.42 263.05 L341.39 257.37 L342.36 275.84 L343.34 261.58 L344.31 242.39 L345.28 231.35 L346.25 242.33 L347.22 226.3 L348.2 218.23 L349.17 244.14 L350.14 256.71 L351.11 244.18 L352.08 247.84 L353.06 248.01 L354.03 257.49 L355 240.96" fill="none" stroke="#d2d2d2" stroke-width="0.8" stroke-linejoin="round"/>
<path d="M233.5 232.8 L234.47 237.11 L235.44 207.6 L236.42 237.87 L237.39 230.23 L238.36 262.44 L239.33 269.73 L240.3 245.74 L241.28 245.15 L242.25 256.85 L243.22 246.41 L244.19 248.85 L245.16 249.11 L246.14 227.79 L247.11 265.32 L248.08 203.59 L249.05 260.52 L250.02 236.91 L251 212.37 L251.97 234.12 L252.94 221.06 L253.91 252.52 L254.88 251.4 L255.86 245.26 L256.83 253.37 L257.8 246.2 L258.77 246.54 L259.74 225.12 L260.72 255.69 L261.69 233.4 L262.66 258.44 L263.63 240.18 L264.6 234.57 L265.58 197.07 L266.55 225.08 L267.52 242.5 L268.49 236.52 L269.46 249.01 L270.44 239.34 L271.41 248.68 L272.38 245.62 L273.35 232.7 L274.32 257.27 L275.3 248.01 L276.27 249.21 L277.24 236.4 L278.21 238.43 L279.18 224.64 L280.16 238.1 L281.13 210.35 L282.1 254.41 L283.07 225.61 L284.04 228.62 L285.02 234.45 L285.99 242.22 L286.96 248.8 L287.93 256.27 L288.9 249.34 L289.88 250.87 L290.85 245.5 L291.82 239.27 L292.79 246.4 L293.76 246.78 L294.74 231.16 L295.71 208.94 L296.68 216.69 L297.65 235.96 L298.62 212.63 L299.6 253.61 L300.57 236.34 L301.54 242.59 L302.51 255.29 L303.48 249.4 L304.46 242.72 L305.43 250.22 L306.4 264.62 L307.37 261.78 L308.34 255.06 L309.32 255.38 L310.29 248.58 L311.26 243.3 L312.23 223.98 L313.2 245.53 L314.18 256.21 L315.15 233.49 L316.12 222.28 L317.09 239.69 L318.06 216.99 L319.04 246.08 L320.01 226.85 L320.98 250.72 L321.95 258.42 L322.92 258.22 L323.9 251.72 L324.87 233.1 L325.84 250.15 L326.81 243.58 L327.78 224.97 L328.76 207.97 L329.73 219.95 L330.7 248.52 L331.67 230.72 L332.64 231.5 L333.62 225.47 L334.59 232.16 L335.56 250.3 L336.53 235.35 L337.5 242.51 L338.48 244.28 L339.45 253 L340.42 258.69 L341.39 253.32 L342.36 237.34 L343.34 248.54 L344.31 232.23 L345.28 243.37 L346.25 232.92 L347.22 207.51 L348.2 247.19 L349.17 242.58 L350.14 261.01 L351.11 241.57 L352.08 244 L353.06 238.02 L354.03 258.63 L355 244.48" fill="none" stroke="#d2d2d2" stroke-width="0.8" stroke-linejoin="round"/>
<path d="M233.5 230.52 L234.47 214.63 L235.44 201.74 L236.42 224.57 L237.39 221.8 L238.36 244.83 L239.33 238.58 L240.3 230.75 L241.28 250.6 L242.25 251.49 L243.22 263.39 L244.19 268.69 L245.16 247.87 L246.14 228.06 L247.11 213.97 L248.08 217.78 L249.05 190.48 L250.02 192.11 L251 206.74 L251.97 231.03 L252.94 219.79 L253.91 222.03 L254.88 251.06 L255.86 248.46 L256.83 232.71 L257.8 231.91 L258.77 250.26 L259.74 219.68 L260.72 244.05 L261.69 224.67 L262.66 234.89 L263.63 218.35 L264.6 206.09 L265.58 204.03 L266.55 221.71 L267.52 227.07 L268.49 218.98 L269.46 233.53 L270.44 229.92 L271.41 230.52 L272.38 234.06 L273.35 240.24 L274.32 238.95 L275.3 248.14 L276.27 249.1 L277.24 228.98 L278.21 219.75 L279.18 232.27 L280.16 212.97 L281.13 194.27 L282.1 220.48 L283.07 212.08 L284.04 216.84 L285.02 219.99 L285.99 246.72 L286.96 234.14 L287.93 236.11 L288.9 237.13 L289.88 252.78 L290.85 232.77 L291.82 238.66 L292.79 229.56 L293.76 236.07 L294.74 221.5 L295.71 211.67 L296.68 179.56 L297.65 213.16 L298.62 205.41 L299.6 196.89 L300.57 222.64 L301.54 210.9 L302.51 246.24 L303.48 246.5 L304.46 241.87 L305.43 236.29 L306.4 258.92 L307.37 254.18 L308.34 245.64 L309.32 259.79 L310.29 248.47 L311.26 220.42 L312.23 229.44 L313.2 183.95 L314.18 202.73 L315.15 210.6 L316.12 214.83 L317.09 203.23 L318.06 208.6 L319.04 217.83 L320.01 227.66 L320.98 246.78 L321.95 233.57 L322.92 239.28 L323.9 256.13 L324.87 243.46 L325.84 240.22 L326.81 244.07 L327.78 229.54 L328.76 210.51 L329.73 200.27 L330.7 230.98 L331.67 210.08 L332.64 230.71 L333.62 213.38 L334.59 222.18 L335.56 247.6 L336.53 236.08 L337.5 238.97 L338.48 238.49 L339.45 236.6 L340.42 245.05 L341.39 252.33 L342.36 257.91 L343.34 245.13 L344.31 234.73 L345.28 213.56 L346.25 221.58 L347.22 198.85 L348.2 205.83 L349.17 221.32 L350.14 229.97 L351.11 226.25 L352.08 237.38 L353.06 217.17 L354.03 240.76 L355 241.51" fill="none" stroke="#d2d2d2" stroke-width="0.8" stroke-linejoin="round"/>
<path d="M233.5 220.07 L234.47 220.99 L235.44 206.03 L236.42 233.33 L237.39 245.67 L238.36 248.6 L239.33 222.83 L240.3 245.18 L241.28 260.9 L242.25 248.58 L243.22 247.39 L244.19 250.11 L245.16 202.13 L246.14 215.94 L247.11 225.84 L248.08 197.82 L249.05 234.43 L250.02 230.47 L251 195.34 L251.97 223.16 L252.94 226.76 L253.91 247.12 L254.88 237.99 L255.86 240.56 L256.83 239.97 L257.8 249.66 L258.77 253.65 L259.74 250.15 L260.72 228.66 L261.69 254.64 L262.66 231.62 L263.63 214.89 L264.6 232.75 L265.58 217.72 L266.55 224.31 L267.52 214.01 L268.49 253.38 L269.46 231.3 L270.44 244.21 L271.41 243.26 L272.38 241.25 L273.35 232.38 L274.32 255.72 L275.3 249.85 L276.27 253.29 L277.24 221.48 L278.21 239.55 L279.18 212.36 L280.16 226.44 L281.13 214.11 L282.1 197.85 L283.07 227.37 L284.04 234.88 L285.02 230.84 L285.99 243.32 L286.96 232.08 L287.93 245.26 L288.9 248.07 L289.88 242.26 L290.85 231.59 L291.82 248.17 L292.79 235.16 L293.76 211.14 L294.74 224.24 L295.71 208.21 L296.68 206.81 L297.65 225.3 L298.62 205.01 L299.6 222.77 L300.57 234.35 L301.54 247.02 L302.51 244.71 L303.48 245.3 L304.46 246.33 L305.43 251.89 L306.4 246.52 L307.37 261.83 L308.34 236.49 L309.32 241.58 L310.29 255.19 L311.26 224.79 L312.23 231.91 L313.2 182.2 L314.18 209.56 L315.15 222.24 L316.12 218.56 L317.09 225.79 L318.06 235.37 L319.04 232.39 L320.01 255.51 L320.98 242.05 L321.95 245.72 L322.92 243.78 L323.9 251.59 L324.87 251.45 L325.84 239.97 L326.81 231.33 L327.78 216.19 L328.76 220.8 L329.73 205.4 L330.7 196.26 L331.67 196.95 L332.64 221.73 L333.62 232.58 L334.59 224.36 L335.56 240.38 L336.53 253.52 L337.5 243.55 L338.48 247.16 L339.45 235.66 L340.42 259.38 L341.39 259.82 L342.36 247.41 L343.34 250.45 L344.31 233.71 L345.28 212.43 L346.25 234.94 L347.22 211.96 L348.2 212.1 L349.17 230.51 L350.14 215.44 L351.11 245.21 L352.08 235.15 L353.06 239.76 L354.03 235.71 L355 258.2" fill="none" stroke="#bfbfbf" stroke-width="0.8" stroke-linejoin="round"/>
<path d="M233.5 261.09 L234.47 237.86 L235.44 251.13 L236.42 270.87 L237.39 242.81 L238.36 261.96 L239.33 252.57 L240.3 253.46 L241.28 270.07 L242.25 268.26 L243.22 260.48 L244.19 268.18 L245.16 258.45 L246.14 258.36 L247.11 262.26 L248.08 213.81 L249.05 243.25 L250.02 225.02 L251 236.9 L251.97 221.37 L252.94 247.88 L253.91 259.23 L254.88 248.92 L255.86 270.04 L256.83 244.02 L257.8 256.54 L258.77 275.53 L259.74 261.97 L260.72 259.24 L261.69 259.63 L262.66 250.41 L263.63 247.89 L264.6 255.63 L265.58 230.33 L266.55 236.39 L267.52 239.38 L268.49 249.26 L269.46 251.05 L270.44 253.82 L271.41 268.46 L272.38 263.99 L273.35 262.14 L274.32 251.08 L275.3 266.13 L276.27 272.04 L277.24 259.78 L278.21 262.49 L279.18 263.99 L280.16 229.98 L281.13 267.7 L282.1 264.04 L283.07 256 L284.04 243.39 L285.02 261.84 L285.99 261.32 L286.96 262.95 L287.93 258.55 L288.9 255.95 L289.88 267.14 L290.85 257.85 L291.82 261.92 L292.79 269.35 L293.76 253.65 L294.74 232 L295.71 235.16 L296.68 243.7 L297.65 274.83 L298.62 252.41 L299.6 270.81 L300.57 241.25 L301.54 246.08 L302.51 248.97 L303.48 270.16 L304.46 251.88 L305.43 267.83 L306.4 252.48 L307.37 260.74 L308.34 255.71 L309.32 262.81 L310.29 259.25 L311.26 251.77 L312.23 224.25 L313.2 234.74 L314.18 232.94 L315.15 246.99 L316.12 240.01 L317.09 285.84 L318.06 263.24 L319.04 255.47 L320.01 256.87 L320.98 249.7 L321.95 259.77 L322.92 262.76 L323.9 252.27 L324.87 264.05 L325.84 249.36 L326.81 261.88 L327.78 278.43 L328.76 253.33 L329.73 239.86 L330.7 254.31 L331.67 244.3 L332.64 269.27 L333.62 264.47 L334.59 251.22 L335.56 243.76 L336.53 252.89 L337.5 267.04 L338.48 257.8 L339.45 245.91 L340.42 267.4 L341.39 269.28 L342.36 260.96 L343.34 264.56 L344.31 256.58 L345.28 265.56 L346.25 244.54 L347.22 247.13 L348.2 256.83 L349.17 231.26 L350.14 270.54 L351.11 236.54 L352.08 262.88 L353.06 249.92 L354.03 260.17 L355 266.38" fill="none" stroke="#bfbfbf" stroke-width="0.8" stroke-linejoin="round"/>
<path d="M233.5 201.02 L234.47 252.78 L235.44 230.72 L236.42 236.84 L237.39 240.47 L238.36 249.54 L239.33 237.98 L240.3 241.13 L241.28 251.67 L242.25 249.18 L243.22 246.11 L244.19 241.44 L245.16 244.54 L246.14 248.35 L247.11 249.51 L248.08 259.31 L249.05 264.73 L250.02 243.3 L251 229.16 L251.97 210.06 L252.94 243.73 L253.91 234.45 L254.88 260.38 L255.86 242.22 L256.83 241.13 L257.8 248.14 L258.77 249.82 L259.74 255.78 L260.72 246.23 L261.69 258.06 L262.66 228.76 L263.63 223.54 L264.6 230.61 L265.58 237.09 L266.55 216.8 L267.52 239.17 L268.49 246.7 L269.46 235.05 L270.44 242.03 L271.41 243.32 L272.38 248.18 L273.35 250.5 L274.32 247.44 L275.3 258.09 L276.27 240.05 L277.24 261.57 L278.21 248.46 L279.18 238.62 L280.16 233.34 L281.13 258.95 L282.1 219.93 L283.07 222.72 L284.04 240.53 L285.02 243.17 L285.99 245.06 L286.96 256.63 L287.93 254.57 L288.9 252.43 L289.88 253.75 L290.85 264.56 L291.82 252.42 L292.79 244.51 L293.76 227.1 L294.74 246.09 L295.71 238.72 L296.68 219.38 L297.65 231.68 L298.62 221.86 L299.6 235.94 L300.57 202.2 L301.54 242.14 L302.51 235.46 L303.48 237.29 L304.46 252.67 L305.43 242.09 L306.4 251.96 L307.37 255.62 L308.34 249.09 L309.32 262.09 L310.29 251.49 L311.26 255.42 L312.23 229.96 L313.2 222.88 L314.18 212.48 L315.15 233.11 L316.12 233.08 L317.09 233.65 L318.06 229.41 L319.04 219.97 L320.01 237.57 L320.98 255.26 L321.95 254.5 L322.92 221.34 L323.9 255.3 L324.87 239.76 L325.84 247.81 L326.81 242.3 L327.78 246.72 L328.76 261.73 L329.73 241.5 L330.7 205.01 L331.67 222.67 L332.64 235.26 L333.62 219.84 L334.59 256.08 L335.56 242.23 L336.53 254.19 L337.5 240.5 L338.48 244.85 L339.45 243.73 L340.42 254.87 L341.39 262.02 L342.36 259.28 L343.34 250.58 L344.31 247.4 L345.28 241.95 L346.25 245.9 L347.22 248.22 L348.2 216.12 L349.17 247.12 L350.14 245.23 L351.11 232.86 L352.08 238.65 L353.06 247.94 L354.03 239.96 L355 253.06" fill="none" stroke="#bfbfbf" stroke-width="0.8" stroke-linejoin="round"/>
<path d="M233.5 244.27 L234.47 255.12 L235.44 225.74 L236.42 245.09 L237.39 237.7 L238.36 247.15 L239.33 252.44 L240.3 264.71 L241.28 259.12 L242.25 254.54 L243.22 254.6 L244.19 251.47 L245.16 245.58 L246.14 241.05 L247.11 246.89 L248.08 227.49 L249.05 218.36 L250.02 237.89 L251 227.06 L251.97 240.72 L252.94 236.03 L253.91 247.25 L254.88 243.09 L255.86 256.94 L256.83 250.72 L257.8 245.42 L258.77 260.03 L259.74 232 L260.72 262.02 L261.69 250.88 L262.66 240.37 L263.63 218.33 L264.6 212.9 L265.58 238.38 L266.55 218.16 L267.52 206.8 L268.49 230.13 L269.46 229.49 L270.44 249.62 L271.41 256.83 L272.38 253.65 L273.35 252.51 L274.32 262.64 L275.3 262.52 L276.27 259.96 L277.24 229.96 L278.21 244.56 L279.18 228.19 L280.16 227.96 L281.13 215.13 L282.1 229.77 L283.07 228.01 L284.04 217.85 L285.02 247.73 L285.99 236.74 L286.96 241.81 L287.93 255.66 L288.9 258.2 L289.88 245.02 L290.85 259.93 L291.82 245.83 L292.79 239.7 L293.76 254.79 L294.74 221.75 L295.71 209.8 L296.68 212.6 L297.65 240.63 L298.62 234.54 L299.6 216.83 L300.57 245.23 L301.54 230.67 L302.51 237.1 L303.48 244.85 L304.46 245.83 L305.43 253.74 L306.4 251.84 L307.37 250.02 L308.34 257.47 L309.32 254.04 L310.29 255.62 L311.26 243.06 L312.23 254.14 L313.2 215.07 L314.18 211.31 L315.15 250.16 L316.12 221.81 L317.09 226.11 L318.06 249.07 L319.04 230.07 L320.01 251.74 L320.98 255.46 L321.95 251.97 L322.92 248.85 L323.9 263.16 L324.87 245.71 L325.84 259.21 L326.81 250.62 L327.78 237.08 L328.76 230.22 L329.73 227.87 L330.7 222.97 L331.67 229.45 L332.64 234.05 L333.62 226.26 L334.59 256.87 L335.56 244.6 L336.53 245.6 L337.5 247.94 L338.48 250 L339.45 249.27 L340.42 251.4 L341.39 252.27 L342.36 255.39 L343.34 244.28 L344.31 256.71 L345.28 250.74 L346.25 249.51 L347.22 259.45 L348.2 216.52 L349.17 208.12 L350.14 212.89 L351.11 226.89 L352.08 241.2 L353.06 250.25 L354.03 246.76 L355 247.34" fill="none" stroke="#bfbfbf" stroke-width="0.8" stroke-linejoin="round"/>
<path d="M233.5 229.27 L234.47 221.66 L235.44 233.37 L236.42 238.12 L237.39 244.81 L238.36 242.1 L239.33 232.38 L240.3 246.1 L241.28 237.15 L242.25 248.1 L243.22 245.93 L244.19 256.45 L245.16 244.36 L246.14 216.64 L247.11 240.41 L248.08 222.41 L249.05 256.95 L250.02 239.99 L251 239.27 L251.97 243.76 L252.94 243.28 L253.91 242.98 L254.88 222.83 L255.86 239.66 L256.83 239.76 L257.8 252.44 L258.77 254.28 L259.74 262.43 L260.72 225.56 L261.69 233.7 L262.66 243.65 L263.63 241.34 L264.6 242.03 L265.58 214.11 L266.55 227.07 L267.52 230.77 L268.49 238.34 L269.46 253.06 L270.44 233.86 L271.41 227.18 L272.38 243.9 L273.35 249.24 L274.32 242.68 L275.3 255.12 L276.27 253.42 L277.24 256.22 L278.21 245.04 L279.18 233.46 L280.16 228.07 L281.13 228.44 L282.1 227.7 L283.07 236.85 L284.04 230.49 L285.02 214.16 L285.99 241.63 L286.96 253.3 L287.93 234.76 L288.9 240.34 L289.88 238.75 L290.85 250.93 L291.82 256.74 L292.79 222.75 L293.76 227.51 L294.74 226.47 L295.71 257.48 L296.68 204.87 L297.65 232.9 L298.62 228.87 L299.6 198 L300.57 244.54 L301.54 240.59 L302.51 236.91 L303.48 245.47 L304.46 234.58 L305.43 266.97 L306.4 244.65 L307.37 247.7 L308.34 257.99 L309.32 229.33 L310.29 256.87 L311.26 256.25 L312.23 243.85 L313.2 235.93 L314.18 198.41 L315.15 229.81 L316.12 221.97 L317.09 207.41 L318.06 227.99 L319.04 229.82 L320.01 243.61 L320.98 241.11 L321.95 244.41 L322.92 252.01 L323.9 241.56 L324.87 240.08 L325.84 251.61 L326.81 244.45 L327.78 256.65 L328.76 222.48 L329.73 204.77 L330.7 245.96 L331.67 250.82 L332.64 219.98 L333.62 232.75 L334.59 228.34 L335.56 250.61 L336.53 249.51 L337.5 243.06 L338.48 255.36 L339.45 239.34 L340.42 244.16 L341.39 267.08 L342.36 244.29 L343.34 236.05 L344.31 229.73 L345.28 238.4 L346.25 217.41 L347.22 222.62 L348.2 224.72 L349.17 248.55 L350.14 255.53 L351.11 230.97 L352.08 238.65 L353.06 242.33 L354.03 241.68 L355 247.79" fill="none" stroke="#bfbfbf" stroke-width="0.8" stroke-linejoin="round"/>
<path d="M233.5 214.75 L234.47 215.42 L235.44 214.95 L236.42 221.7 L237.39 244.1 L238.36 246.94 L239.33 240.11 L240.3 229.78 L241.28 241.19 L242.25 248.15 L243.22 258.9 L244.19 253.6 L245.16 250.55 L246.14 225.7 L247.11 241.34 L248.08 205.85 L249.05 221.66 L250.02 205.35 L251 216.75 L251.97 215.32 L252.94 230.76 L253.91 225.59 L254.88 245.19 L255.86 241.9 L256.83 247.48 L257.8 242.5 L258.77 242.63 L259.74 248.74 L260.72 250.31 L261.69 233.08 L262.66 235.6 L263.63 252.15 L264.6 198.04 L265.58 193.24 L266.55 203.7 L267.52 234.44 L268.49 249.35 L269.46 242.56 L270.44 256.01 L271.41 249.59 L272.38 250.6 L273.35 240.36 L274.32 256.15 L275.3 239.6 L276.27 249.68 L277.24 243.9 L278.21 213.63 L279.18 235.77 L280.16 231.93 L281.13 214.18 L282.1 198.39 L283.07 220.34 L284.04 213.36 L285.02 229.54 L285.99 241.77 L286.96 226.35 L287.93 248.93 L288.9 257.87 L289.88 248.61 L290.85 244.93 L291.82 250.66 L292.79 229 L293.76 221.32 L294.74 227.42 L295.71 209.14 L296.68 214.52 L297.65 233.93 L298.62 247.25 L299.6 210.79 L300.57 238.11 L301.54 232.18 L302.51 245.81 L303.48 250.12 L304.46 249.69 L305.43 245.62 L306.4 251.53 L307.37 250.7 L308.34 248.78 L309.32 252.46 L310.29 244.62 L311.26 243.48 L312.23 217.36 L313.2 238.83 L314.18 216.07 L315.15 210.25 L316.12 219.31 L317.09 227.4 L318.06 222.51 L319.04 245.04 L320.01 229.17 L320.98 244.74 L321.95 239.9 L322.92 250.32 L323.9 246.17 L324.87 243.63 L325.84 250.88 L326.81 234.35 L327.78 231 L328.76 215.37 L329.73 220.62 L330.7 219.55 L331.67 240.64 L332.64 229.09 L333.62 238.53 L334.59 220.86 L335.56 235.46 L336.53 243.33 L337.5 239.48 L338.48 244.68 L339.45 249.9 L340.42 251.84 L341.39 257.12 L342.36 249.08 L343.34 242.59 L344.31 242.27 L345.28 247.5 L346.25 211.35 L347.22 209.68 L348.2 205.12 L349.17 227.24 L350.14 210.46 L351.11 246.42 L352.08 242.15 L353.06 229.42 L354.03 226.77 L355 266.06" fill="none" stroke="#bfbfbf" stroke-width="0.8" stroke-linejoin="round"/>
<path d="M233.5 200.7 L234.47 207.34 L235.44 225.73 L236.42 259.61 L237.39 194.93 L238.36 239.48 L239.33 242.02 L240.3 223.81 L241.28 242.93 L242.25 258.31 L243.22 250.24 L244.19 250.11 L245.16 249.99 L246.14 251.5 L247.11 231.04 L248.08 213.6 L249.05 248.93 L250.02 205.59 L251 221.35 L251.97 202.07 L252.94 207.44 L253.91 236.88 L254.88 237.83 L255.86 246.98 L256.83 222.89 L257.8 239.17 L258.77 250.83 L259.74 246.05 L260.72 241.72 L261.69 241.45 L262.66 227.65 L263.63 228.25 L264.6 222.23 L265.58 233.3 L266.55 223.13 L267.52 207.71 L268.49 222.72 L269.46 223.76 L270.44 248.66 L271.41 239.63 L272.38 241.42 L273.35 241.05 L274.32 247.32 L275.3 246.65 L276.27 255.13 L277.24 239.79 L278.21 226.67 L279.18 223.9 L280.16 229 L281.13 221.28 L282.1 229.96 L283.07 216.29 L284.04 205.02 L285.02 239.1 L285.99 238.32 L286.96 251.67 L287.93 235.07 L288.9 246.91 L289.88 251.09 L290.85 261.25 L291.82 230.22 L292.79 237.95 L293.76 233.22 L294.74 221.51 L295.71 229.53 L296.68 222.99 L297.65 224.02 L298.62 214.6 L299.6 214.8 L300.57 198.95 L301.54 210.39 L302.51 253.39 L303.48 252.28 L304.46 241.41 L305.43 245 L306.4 245.06 L307.37 236.8 L308.34 239.97 L309.32 241.4 L310.29 265.42 L311.26 251.14 L312.23 231.79 L313.2 246.79 L314.18 231.13 L315.15 212.32 L316.12 207.05 L317.09 234.49 L318.06 233.66 L319.04 213.95 L320.01 244.88 L320.98 240.99 L321.95 232.42 L322.92 244.5 L323.9 239.78 L324.87 236.43 L325.84 244.94 L326.81 235.6 L327.78 249.32 L328.76 233.15 L329.73 224.61 L330.7 201.76 L331.67 208.39 L332.64 209.96 L333.62 206.65 L334.59 212.44 L335.56 225.24 L336.53 253.08 L337.5 246.38 L338.48 249.56 L339.45 249.27 L340.42 238.97 L341.39 245.93 L342.36 257.33 L343.34 245.65 L344.31 231.35 L345.28 238.37 L346.25 225.88 L347.22 225.13 L348.2 211.48 L349.17 200.67 L350.14 233.17 L351.11 219.02 L352.08 242.49 L353.06 236.48 L354.03 232.99 L355 243.41" fill="none" stroke="#bfbfbf" stroke-width="0.8" stroke-linejoin="round"/>
<path d="M233.5 262.22 L234.47 260.77 L235.44 237.41 L236.42 236.72 L237.39 242.56 L238.36 246.92 L239.33 232.4 L240.3 250.59 L241.28 244.45 L242.25 261.1 L243.22 268.97 L244.19 263.88 L245.16 269.24 L246.14 270.74 L247.11 256.13 L248.08 259.58 L249.05 226.61 L250.02 239.49 L251 212.64 L251.97 257.23 L252.94 225.16 L253.91 249.48 L254.88 253.55 L255.86 251 L256.83 261.69 L257.8 260.11 L258.77 261.03 L259.74 258.16 L260.72 259.46 L261.69 264.32 L262.66 252.61 L263.63 242.3 L264.6 235.28 L265.58 243.1 L266.55 234.78 L267.52 240.47 L268.49 248.06 L269.46 260.77 L270.44 236.05 L271.41 255.16 L272.38 246.74 L273.35 256.43 L274.32 251.65 L275.3 253.58 L276.27 258.79 L277.24 245.93 L278.21 265.05 L279.18 236.4 L280.16 241.38 L281.13 237.21 L282.1 240.63 L283.07 241.73 L284.04 234.85 L285.02 248.9 L285.99 223.04 L286.96 236.13 L287.93 268.06 L288.9 258.26 L289.88 264.79 L290.85 259.26 L291.82 276.23 L292.79 257.66 L293.76 260.1 L294.74 224.8 L295.71 232.51 L296.68 206.63 L297.65 244.53 L298.62 239.96 L299.6 259.46 L300.57 254.24 L301.54 239.92 L302.51 251.03 L303.48 249.54 L304.46 254.21 L305.43 253.36 L306.4 250.33 L307.37 261.95 L308.34 255.12 L309.32 263.34 L310.29 248.94 L311.26 259.43 L312.23 248.84 L313.2 249.44 L314.18 234.79 L315.15 236.11 L316.12 251.65 L317.09 223.38 L318.06 235.63 L319.04 233.9 L320.01 247.86 L320.98 253.6 L321.95 253.69 L322.92 251.71 L323.9 260.35 L324.87 266.2 L325.84 242.32 L326.81 239.85 L327.78 241.7 L328.76 254.9 L329.73 227.96 L330.7 223 L331.67 232.26 L332.64 250.62 L333.62 228.6 L334.59 230.79 L335.56 251.97 L336.53 264.18 L337.5 260.67 L338.48 256.68 L339.45 252.5 L340.42 255.99 L341.39 261.52 L342.36 267.32 L343.34 256.71 L344.31 248.04 L345.28 254.22 L346.25 254.43 L347.22 268.01 L348.2 257.51 L349.17 229.6 L350.14 242.66 L351.11 249.58 L352.08 245.27 L353.06 241.75 L354.03 267.72 L355 260.1" fill="none" stroke="#bfbfbf" stroke-width="0.8" stroke-linejoin="round"/>
<path d="M233.5 199.42 L234.47 231.53 L235.44 211.59 L236.42 242.36 L237.39 237.15 L238.36 249.98 L239.33 231.34 L240.3 240.99 L241.28 240.58 L242.25 244.58 L243.22 254.02 L244.19 248.19 L245.16 232.95 L246.14 220.84 L247.11 222.43 L248.08 197.38 L249.05 189.15 L250.02 184.49 L251 189.67 L251.97 210.43 L252.94 228.45 L253.91 225.36 L254.88 221.87 L255.86 225.25 L256.83 233.04 L257.8 253.73 L258.77 238.85 L259.74 254.12 L260.72 245.69 L261.69 250.03 L262.66 233.42 L263.63 216.56 L264.6 211.55 L265.58 230.81 L266.55 227.66 L267.52 220.31 L268.49 205.98 L269.46 224.89 L270.44 229.31 L271.41 240.83 L272.38 241.08 L273.35 239.07 L274.32 242.21 L275.3 257.97 L276.27 241.28 L277.24 237.32 L278.21 217.87 L279.18 211.85 L280.16 208.14 L281.13 210.03 L282.1 203.72 L283.07 209.35 L284.04 211.94 L285.02 237.23 L285.99 237.8 L286.96 227.53 L287.93 217.61 L288.9 259.3 L289.88 233.3 L290.85 243.8 L291.82 234.09 L292.79 235.61 L293.76 219.62 L294.74 211.98 L295.71 193.81 L296.68 188.53 L297.65 194.55 L298.62 206.16 L299.6 217 L300.57 211.7 L301.54 233.08 L302.51 229.32 L303.48 240.85 L304.46 230.06 L305.43 242.59 L306.4 244.81 L307.37 247.94 L308.34 246.18 L309.32 241.94 L310.29 230.93 L311.26 233.62 L312.23 214.85 L313.2 198.89 L314.18 209.12 L315.15 191.09 L316.12 211.46 L317.09 228.4 L318.06 209.49 L319.04 223.95 L320.01 232.01 L320.98 234.34 L321.95 231.01 L322.92 240.22 L323.9 247.12 L324.87 248.27 L325.84 247.95 L326.81 231.51 L327.78 225.63 L328.76 209.99 L329.73 179.56 L330.7 204.81 L331.67 225.68 L332.64 181.71 L333.62 244.37 L334.59 211.73 L335.56 222.58 L336.53 236.3 L337.5 232.68 L338.48 210.85 L339.45 252.23 L340.42 243.94 L341.39 239.85 L342.36 247.27 L343.34 233.07 L344.31 238.67 L345.28 223.05 L346.25 221.06 L347.22 207.65 L348.2 210.05 L349.17 208.32 L350.14 204.58 L351.11 219.26 L352.08 229.44 L353.06 234.15 L354.03 236.86 L355 240.7" fill="none" stroke="#bfbfbf" stroke-width="0.8" stroke-linejoin="round"/>
<path d="M233.5 243.05 L234.47 196.02 L235.44 246.12 L236.42 241.65 L237.39 255.44 L238.36 257.93 L239.33 260.96 L240.3 260.64 L241.28 283.98 L242.25 273.38 L243.22 249.53 L244.19 253.46 L245.16 236.43 L246.14 237.64 L247.11 239.87 L248.08 252.31 L249.05 211.01 L250.02 221.51 L251 231.39 L251.97 226.51 L252.94 263.36 L253.91 264.47 L254.88 257.96 L255.86 259.81 L256.83 264.69 L257.8 245.58 L258.77 254.5 L259.74 271.72 L260.72 250.7 L261.69 249.59 L262.66 244.73 L263.63 238.33 L264.6 206.78 L265.58 213.4 L266.55 224.47 L267.52 249.39 L268.49 246.92 L269.46 200.11 L270.44 254.85 L271.41 253.66 L272.38 260.28 L273.35 259.94 L274.32 268.23 L275.3 267.48 L276.27 268.14 L277.24 232.59 L278.21 238.68 L279.18 216.05 L280.16 227.52 L281.13 234.3 L282.1 228.62 L283.07 241.33 L284.04 248.39 L285.02 242.11 L285.99 242.33 L286.96 249.68 L287.93 254.4 L288.9 241.9 L289.88 250.33 L290.85 257.67 L291.82 239.55 L292.79 244.98 L293.76 223.26 L294.74 242.43 L295.71 219.43 L296.68 244.2 L297.65 223.02 L298.62 235.66 L299.6 254.41 L300.57 258.68 L301.54 249.42 L302.51 251.57 L303.48 246.52 L304.46 250.29 L305.43 255.05 L306.4 251.94 L307.37 261.75 L308.34 261.77 L309.32 256.3 L310.29 247.76 L311.26 246.53 L312.23 260.8 L313.2 216.07 L314.18 221.58 L315.15 235.21 L316.12 210.49 L317.09 235.59 L318.06 241.26 L319.04 257.03 L320.01 239.62 L320.98 250.33 L321.95 252.58 L322.92 220.35 L323.9 259.51 L324.87 261.53 L325.84 245.57 L326.81 240.89 L327.78 225.2 L328.76 225.17 L329.73 234.06 L330.7 248.22 L331.67 216.73 L332.64 247.52 L333.62 236.15 L334.59 255.52 L335.56 252.03 L336.53 250.74 L337.5 254.22 L338.48 251.37 L339.45 277.34 L340.42 272.01 L341.39 254.3 L342.36 263.64 L343.34 237.65 L344.31 246.4 L345.28 237.8 L346.25 237.33 L347.22 234.03 L348.2 205.95 L349.17 234.44 L350.14 249.6 L351.11 243.84 L352.08 242.41 L353.06 256.6 L354.03 248.37 L355 265.48" fill="none" stroke="#bfbfbf" stroke-width="0.8" stroke-linejoin="round"/>
<path d="M233.5 230.54 L233.91 232.82 L234.31 233.01 L234.72 233.96 L235.13 235.1 L235.53 237.06 L235.94 240.74 L236.34 242.08 L236.75 244.86 L237.16 248.08 L237.56 251.57 L237.97 251.66 L238.38 250.08 L238.78 249.78 L239.19 249.12 L239.6 247.21 L240 247.57 L240.41 250.54 L240.81 251.02 L241.22 253.23 L241.63 256.43 L242.03 256.65 L242.44 256.92 L242.85 258.42 L243.25 256.23 L243.66 254.11 L244.07 253.78 L244.47 251.04 L244.88 247.98 L245.28 245.44 L245.69 242.39 L246.1 242.36 L246.5 238.71 L246.91 237.31 L247.32 235.66 L247.72 233.66 L248.13 233.25 L248.54 230.42 L248.94 230.47 L249.35 228.79 L249.75 228.29 L250.16 228.8 L250.57 228.04 L250.97 229.02 L251.38 232.67 L251.79 234.94 L252.19 236.23 L252.6 238.25 L253.01 241.78 L253.41 243.34 L253.82 245.66 L254.22 247.1 L254.63 247.92 L255.04 248.97 L255.44 249.27 L255.85 249.41 L256.26 250.21 L256.66 251.89 L257.07 252.14 L257.47 252.84 L257.88 255.32 L258.29 255.48 L258.69 255.82 L259.1 254.3 L259.51 254.49 L259.91 255.77 L260.32 254.77 L260.73 253 L261.13 249.57 L261.54 248.62 L261.94 247.35 L262.35 243.23 L262.76 238.82 L263.16 237.18 L263.57 235.37 L263.98 234.03 L264.38 233.26 L264.79 232.37 L265.2 231.14 L265.6 230.38 L266.01 232.62 L266.41 233.91 L266.82 234.94 L267.23 235.85 L267.63 237.16 L268.04 239.66 L268.45 241.48 L268.85 244.48 L269.26 246 L269.67 246.91 L270.07 247.8 L270.48 248.33 L270.88 248.44 L271.29 249.68 L271.7 250.32 L272.1 250 L272.51 250.06 L272.92 252.37 L273.32 255.3 L273.73 253.31 L274.14 254.34 L274.54 256.55 L274.95 257.67 L275.35 257.13 L275.76 256.62 L276.17 253.96 L276.57 250.84 L276.98 248.05 L277.39 245.14 L277.79 241.35 L278.2 238.81 L278.61 239.52 L279.01 238.67 L279.42 236.11 L279.82 234.35 L280.23 234.54 L280.64 231.06 L281.04 231.57 L281.45 232.27 L281.86 232.55 L282.26 232.13 L282.67 231.66 L283.08 233.24 L283.48 236.21 L283.89 237.94 L284.29 239.33 L284.7 241.19 L285.11 243.53 L285.51 245.13 L285.92 247.67 L286.33 248.55 L286.73 248.28 L287.14 248.64 L287.55 250.23 L287.95 251.27 L288.36 251.76 L288.76 254.12 L289.17 255.36 L289.58 255.61 L289.98 255.31 L290.39 254.25 L290.8 252.19 L291.2 252.25 L291.61 251.32 L292.02 247.45 L292.42 242.27 L292.83 240.22 L293.23 239.74 L293.64 235.65 L294.05 233.67 L294.45 233.34 L294.86 232.55 L295.27 230 L295.67 231.41 L296.08 230.84 L296.48 233 L296.89 233.03 L297.3 231.85 L297.7 231.06 L298.11 230.34 L298.52 230.75 L298.92 231.42 L299.33 231.81 L299.74 232.76 L300.14 234.73 L300.55 238.75 L300.95 242.46 L301.36 244.99 L301.77 247.02 L302.17 248.62 L302.58 249.84 L302.99 251.99 L303.39 249.65 L303.8 250.04 L304.21 251.76 L304.61 252.4 L305.02 251.02 L305.42 250.8 L305.83 255.02 L306.24 254.9 L306.64 254.66 L307.05 254.72 L307.46 254.64 L307.86 255.93 L308.27 256.57 L308.68 256.98 L309.08 256.28 L309.49 254.17 L309.89 251.69 L310.3 251.41 L310.71 248.96 L311.11 243.42 L311.52 241.89 L311.93 241.16 L312.33 239.27 L312.74 237.44 L313.15 235.77 L313.55 234.01 L313.96 233.04 L314.36 233.26 L314.77 233.1 L315.18 231.16 L315.58 230.71 L315.99 228.72 L316.4 229.08 L316.8 230.28 L317.21 231.99 L317.62 235.45 L318.02 236.93 L318.43 242.39 L318.83 246.44 L319.24 248.16 L319.65 248.65 L320.05 248.81 L320.46 248.05 L320.87 250.36 L321.27 250.2 L321.68 249.76 L322.09 250.58 L322.49 252.26 L322.9 252.53 L323.3 251.48 L323.71 251.79 L324.12 253.06 L324.52 254.21 L324.93 254.27 L325.34 253.21 L325.74 253.27 L326.15 250.9 L326.56 248.68 L326.96 246.21 L327.37 243.24 L327.77 241.15 L328.18 236.23 L328.59 235.36 L328.99 233.1 L329.4 229.57 L329.81 230.67 L330.21 233.93 L330.62 234.38 L331.03 236.54 L331.43 235.78 L331.84 233.43 L332.24 233.3 L332.65 238.05 L333.06 238.43 L333.46 238.02 L333.87 239.61 L334.28 242.43 L334.68 244.8 L335.09 246.01 L335.49 248.07 L335.9 248.93 L336.31 249.59 L336.71 250.45 L337.12 251.47 L337.53 252.19 L337.93 251.97 L338.34 251.11 L338.75 251.69 L339.15 252.6 L339.56 253.14 L339.96 254.48 L340.37 256.14 L340.78 256.64 L341.18 257.25 L341.59 258.54 L342 259.29 L342.4 256.37 L342.81 253.19 L343.22 248.58 L343.62 246.97 L344.03 245.76 L344.43 244.34 L344.84 242.29 L345.25 239.51 L345.65 237.28 L346.06 235.64 L346.47 234.56 L346.87 233.67 L347.28 232.62 L347.69 232.35 L348.09 233.63 L348.5 233.96 L348.9 233.78 L349.31 233.96 L349.72 235.13 L350.12 236.99 L350.53 239.1 L350.94 243.15 L351.34 247.24 L351.75 248.55 L352.16 246.59 L352.56 248 L352.97 247.6 L353.37 249.28 L353.78 248.94 L354.19 248.34 L354.59 250.15 L355 251.86" fill="none" stroke="#e80000" stroke-width="1.35" stroke-linejoin="round"/>
</g>
<line x1="63.3" y1="183.5" x2="63.3" y2="281.9" stroke="#8a8a8a" stroke-width="1"/>
<line x1="61.3" y1="281.9" x2="63.3" y2="281.9" stroke="#8a8a8a" stroke-width="1"/>
<text x="60.3" y="283.5" font-size="6.6" text-anchor="end" fill="#333" stroke="#333" stroke-width="0.2">-0,1</text>
<line x1="61.3" y1="262.22" x2="63.3" y2="262.22" stroke="#8a8a8a" stroke-width="1"/>
<text x="60.3" y="263.82" font-size="6.6" text-anchor="end" fill="#333" stroke="#333" stroke-width="0.2">0,0</text>
<line x1="61.3" y1="242.54" x2="63.3" y2="242.54" stroke="#8a8a8a" stroke-width="1"/>
<text x="60.3" y="244.14" font-size="6.6" text-anchor="end" fill="#333" stroke="#333" stroke-width="0.2">0,1</text>
<line x1="61.3" y1="222.86" x2="63.3" y2="222.86" stroke="#8a8a8a" stroke-width="1"/>
<text x="60.3" y="224.46" font-size="6.6" text-anchor="end" fill="#333" stroke="#333" stroke-width="0.2">0,2</text>
<line x1="61.3" y1="203.18" x2="63.3" y2="203.18" stroke="#8a8a8a" stroke-width="1"/>
<text x="60.3" y="204.78" font-size="6.6" text-anchor="end" fill="#333" stroke="#333" stroke-width="0.2">0,3</text>
<line x1="61.3" y1="183.5" x2="63.3" y2="183.5" stroke="#8a8a8a" stroke-width="1"/>
<text x="60.3" y="185.1" font-size="6.6" text-anchor="end" fill="#333" stroke="#333" stroke-width="0.2">0,4</text>
<line x1="62.3" y1="272.06" x2="63.3" y2="272.06" stroke="#8a8a8a" stroke-width="0.8"/>
<line x1="62.3" y1="252.38" x2="63.3" y2="252.38" stroke="#8a8a8a" stroke-width="0.8"/>
<line x1="62.3" y1="232.7" x2="63.3" y2="232.7" stroke="#8a8a8a" stroke-width="0.8"/>
<line x1="62.3" y1="213.02" x2="63.3" y2="213.02" stroke="#8a8a8a" stroke-width="0.8"/>
<line x1="62.3" y1="193.34" x2="63.3" y2="193.34" stroke="#8a8a8a" stroke-width="0.8"/>
<line x1="63.3" y1="281.9" x2="185" y2="281.9" stroke="#8a8a8a" stroke-width="1"/>
<line x1="63.3" y1="281.9" x2="63.3" y2="283.9" stroke="#8a8a8a" stroke-width="1"/>
<text x="63.3" y="290.5" font-size="6.6" text-anchor="middle" fill="#333" stroke="#333" stroke-width="0.2">30</text>
<line x1="87.64" y1="281.9" x2="87.64" y2="283.9" stroke="#8a8a8a" stroke-width="1"/>
<text x="87.64" y="290.5" font-size="6.6" text-anchor="middle" fill="#333" stroke="#333" stroke-width="0.2">31</text>
<line x1="111.98" y1="281.9" x2="111.98" y2="283.9" stroke="#8a8a8a" stroke-width="1"/>
<text x="111.98" y="290.5" font-size="6.6" text-anchor="middle" fill="#333" stroke="#333" stroke-width="0.2">32</text>
<line x1="136.32" y1="281.9" x2="136.32" y2="283.9" stroke="#8a8a8a" stroke-width="1"/>
<text x="136.32" y="290.5" font-size="6.6" text-anchor="middle" fill="#333" stroke="#333" stroke-width="0.2">33</text>
<line x1="160.66" y1="281.9" x2="160.66" y2="283.9" stroke="#8a8a8a" stroke-width="1"/>
<text x="160.66" y="290.5" font-size="6.6" text-anchor="middle" fill="#333" stroke="#333" stroke-width="0.2">34</text>
<line x1="185" y1="281.9" x2="185" y2="283.9" stroke="#8a8a8a" stroke-width="1"/>
<text x="185" y="290.5" font-size="6.6" text-anchor="middle" fill="#333" stroke="#333" stroke-width="0.2">35</text>
<line x1="75.47" y1="281.9" x2="75.47" y2="283.1" stroke="#8a8a8a" stroke-width="0.8"/>
<line x1="99.81" y1="281.9" x2="99.81" y2="283.1" stroke="#8a8a8a" stroke-width="0.8"/>
<line x1="124.15" y1="281.9" x2="124.15" y2="283.1" stroke="#8a8a8a" stroke-width="0.8"/>
<line x1="148.49" y1="281.9" x2="148.49" y2="283.1" stroke="#8a8a8a" stroke-width="0.8"/>
<line x1="172.83" y1="281.9" x2="172.83" y2="283.1" stroke="#8a8a8a" stroke-width="0.8"/>
<text x="124.95" y="302.3" font-size="8.3" text-anchor="middle" font-weight="bold" fill="#000" stroke="#000" stroke-width="0.15">Time (s)</text>
<text x="43.3" y="231.2" font-size="8.6" font-weight="bold" text-anchor="middle" fill="#111" stroke="#111" stroke-width="0.1" transform="rotate(-90 43.3 231.2)">&#916;F/F<tspan font-size="5.8" dy="2.1">0</tspan></text>
<line x1="233.5" y1="183.5" x2="233.5" y2="281.9" stroke="#8a8a8a" stroke-width="1"/>
<line x1="231.5" y1="281.9" x2="233.5" y2="281.9" stroke="#8a8a8a" stroke-width="1"/>
<text x="230.5" y="283.5" font-size="6.6" text-anchor="end" fill="#333" stroke="#333" stroke-width="0.2">-0,1</text>
<line x1="231.5" y1="262.22" x2="233.5" y2="262.22" stroke="#8a8a8a" stroke-width="1"/>
<text x="230.5" y="263.82" font-size="6.6" text-anchor="end" fill="#333" stroke="#333" stroke-width="0.2">0,0</text>
<line x1="231.5" y1="242.54" x2="233.5" y2="242.54" stroke="#8a8a8a" stroke-width="1"/>
<text x="230.5" y="244.14" font-size="6.6" text-anchor="end" fill="#333" stroke="#333" stroke-width="0.2">0,1</text>
<line x1="231.5" y1="222.86" x2="233.5" y2="222.86" stroke="#8a8a8a" stroke-width="1"/>
<text x="230.5" y="224.46" font-size="6.6" text-anchor="end" fill="#333" stroke="#333" stroke-width="0.2">0,2</text>
<line x1="231.5" y1="203.18" x2="233.5" y2="203.18" stroke="#8a8a8a" stroke-width="1"/>
<text x="230.5" y="204.78" font-size="6.6" text-anchor="end" fill="#333" stroke="#333" stroke-width="0.2">0,3</text>
<line x1="231.5" y1="183.5" x2="233.5" y2="183.5" stroke="#8a8a8a" stroke-width="1"/>
<text x="230.5" y="185.1" font-size="6.6" text-anchor="end" fill="#333" stroke="#333" stroke-width="0.2">0,4</text>
<line x1="232.5" y1="272.06" x2="233.5" y2="272.06" stroke="#8a8a8a" stroke-width="0.8"/>
<line x1="232.5" y1="252.38" x2="233.5" y2="252.38" stroke="#8a8a8a" stroke-width="0.8"/>
<line x1="232.5" y1="232.7" x2="233.5" y2="232.7" stroke="#8a8a8a" stroke-width="0.8"/>
<line x1="232.5" y1="213.02" x2="233.5" y2="213.02" stroke="#8a8a8a" stroke-width="0.8"/>
<line x1="232.5" y1="193.34" x2="233.5" y2="193.34" stroke="#8a8a8a" stroke-width="0.8"/>
<line x1="233.5" y1="281.9" x2="355" y2="281.9" stroke="#8a8a8a" stroke-width="1"/>
<line x1="233.5" y1="281.9" x2="233.5" y2="283.9" stroke="#8a8a8a" stroke-width="1"/>
<text x="233.5" y="290.5" font-size="6.6" text-anchor="middle" fill="#333" stroke="#333" stroke-width="0.2">30</text>
<line x1="257.8" y1="281.9" x2="257.8" y2="283.9" stroke="#8a8a8a" stroke-width="1"/>
<text x="257.8" y="290.5" font-size="6.6" text-anchor="middle" fill="#333" stroke="#333" stroke-width="0.2">31</text>
<line x1="282.1" y1="281.9" x2="282.1" y2="283.9" stroke="#8a8a8a" stroke-width="1"/>
<text x="282.1" y="290.5" font-size="6.6" text-anchor="middle" fill="#333" stroke="#333" stroke-width="0.2">32</text>
<line x1="306.4" y1="281.9" x2="306.4" y2="283.9" stroke="#8a8a8a" stroke-width="1"/>
<text x="306.4" y="290.5" font-size="6.6" text-anchor="middle" fill="#333" stroke="#333" stroke-width="0.2">33</text>
<line x1="330.7" y1="281.9" x2="330.7" y2="283.9" stroke="#8a8a8a" stroke-width="1"/>
<text x="330.7" y="290.5" font-size="6.6" text-anchor="middle" fill="#333" stroke="#333" stroke-width="0.2">34</text>
<line x1="355" y1="281.9" x2="355" y2="283.9" stroke="#8a8a8a" stroke-width="1"/>
<text x="355" y="290.5" font-size="6.6" text-anchor="middle" fill="#333" stroke="#333" stroke-width="0.2">35</text>
<line x1="245.65" y1="281.9" x2="245.65" y2="283.1" stroke="#8a8a8a" stroke-width="0.8"/>
<line x1="269.95" y1="281.9" x2="269.95" y2="283.1" stroke="#8a8a8a" stroke-width="0.8"/>
<line x1="294.25" y1="281.9" x2="294.25" y2="283.1" stroke="#8a8a8a" stroke-width="0.8"/>
<line x1="318.55" y1="281.9" x2="318.55" y2="283.1" stroke="#8a8a8a" stroke-width="0.8"/>
<line x1="342.85" y1="281.9" x2="342.85" y2="283.1" stroke="#8a8a8a" stroke-width="0.8"/>
<text x="295.05" y="302.3" font-size="8.3" text-anchor="middle" font-weight="bold" fill="#000" stroke="#000" stroke-width="0.15">Time (s)</text>
<text x="213.5" y="231.2" font-size="8.6" font-weight="bold" text-anchor="middle" fill="#111" stroke="#111" stroke-width="0.1" transform="rotate(-90 213.5 231.2)">&#916;F/F<tspan font-size="5.8" dy="2.1">0</tspan></text>
<text font-size="10.6" fill="#222" text-anchor="middle" transform="translate(9.7 396) rotate(-90)"><tspan x="0" y="0">Time from anesthesia</tspan><tspan x="0" y="12.1">onset: 100 min</tspan></text>
<text x="129.6" y="341.8" font-size="9.6" text-anchor="middle" fill="#111" stroke="#111" stroke-width="0.1">neurons</text>
<text x="299" y="341.4" font-size="9.5" text-anchor="middle" fill="#111" stroke="#111" stroke-width="0.1">astrocytes</text>
<clipPath id="clip5"><rect x="63.8" y="343.2" width="121.7" height="97.4"/></clipPath>
<g clip-path="url(#clip5)">
<path d="M63.3 420.24 L64.27 407.34 L65.25 392.18 L66.22 376.65 L67.19 372.68 L68.17 371.51 L69.14 367.34 L70.12 364.69 L71.09 363.81 L72.06 377.25 L73.04 387.78 L74.01 393.5 L74.98 399.04 L75.96 401.55 L76.93 408.54 L77.9 411.88 L78.88 404.47 L79.85 405.54 L80.82 415.59 L81.8 422.33 L82.77 415.98 L83.75 420.04 L84.72 423.76 L85.69 414.38 L86.67 396.18 L87.64 377.04 L88.61 380.44 L89.59 374.3 L90.56 375.58 L91.53 378.21 L92.51 383.69 L93.48 386.19 L94.46 392.03 L95.43 406.31 L96.4 420.99 L97.38 424.93 L98.35 417.11 L99.32 421.17 L100.3 418.31 L101.27 422.03 L102.24 419.88 L103.22 421.07 L104.19 424.81 L105.16 421.2 L106.14 401.78 L107.11 388.65 L108.09 383.61 L109.06 379.06 L110.03 370.67 L111.01 361.7 L111.98 374.54 L112.95 382.48 L113.93 371.94 L114.9 390.59 L115.87 400.11 L116.85 406.32 L117.82 396.78 L118.8 394.43 L119.77 411.97 L120.74 412.78 L121.72 415.31 L122.69 414.68 L123.66 413.69 L124.64 426.55 L125.61 423.55 L126.58 410.32 L127.56 398.28 L128.53 392.32 L129.5 391.66 L130.48 380.41 L131.45 366.09 L132.43 372.2 L133.4 378.26 L134.37 384.4 L135.35 391 L136.32 396.51 L137.29 409.56 L138.27 408.64 L139.24 407.96 L140.21 410.37 L141.19 410.23 L142.16 407.7 L143.14 410.88 L144.11 411.99 L145.08 415.29 L146.06 415.95 L147.03 422.5 L148 401.74 L148.98 386.28 L149.95 370.72 L150.92 378.34 L151.9 365.77 L152.87 359.73 L153.84 360.84 L154.82 381.32 L155.79 392.38 L156.77 397.95 L157.74 413.1 L158.71 412.19 L159.69 414.9 L160.66 426.19 L161.63 424.97 L162.61 416.24 L163.58 423.09 L164.55 421.28 L165.53 418.67 L166.5 411.21 L167.48 428.58 L168.45 411.36 L169.42 384.93 L170.4 371.34 L171.37 360.11 L172.34 353.25 L173.32 362.44 L174.29 368.67 L175.26 384.46 L176.24 400.33 L177.21 405.19 L178.18 405.92 L179.16 409.42 L180.13 419.18 L181.11 419.58 L182.08 413.33 L183.05 410.57 L184.03 409.51 L185 411.66" fill="none" stroke="#000" stroke-width="0.9" stroke-opacity="0.1" stroke-linejoin="round"/>
<path d="M63.3 420.9 L64.27 410.92 L65.25 393.81 L66.22 386.98 L67.19 378.51 L68.17 386.01 L69.14 379.07 L70.12 372.21 L71.09 371.7 L72.06 385.11 L73.04 386.84 L74.01 398.4 L74.98 406.03 L75.96 404.5 L76.93 409.21 L77.9 410.5 L78.88 402.74 L79.85 410.36 L80.82 416.11 L81.8 421.41 L82.77 426.67 L83.75 421.51 L84.72 421.5 L85.69 414.48 L86.67 401.2 L87.64 389.59 L88.61 382.83 L89.59 380.08 L90.56 381.43 L91.53 378.38 L92.51 387.8 L93.48 392.33 L94.46 394.33 L95.43 411.91 L96.4 421.72 L97.38 415.78 L98.35 415.27 L99.32 413.79 L100.3 413.56 L101.27 413.3 L102.24 424.3 L103.22 421.62 L104.19 423.17 L105.16 421.06 L106.14 405.93 L107.11 395.18 L108.09 385.23 L109.06 375.16 L110.03 382.84 L111.01 367.82 L111.98 377.73 L112.95 384.27 L113.93 397.96 L114.9 395.85 L115.87 398.78 L116.85 405.17 L117.82 406.7 L118.8 407.05 L119.77 407.51 L120.74 409.78 L121.72 408.79 L122.69 429.8 L123.66 412.13 L124.64 422.69 L125.61 419.98 L126.58 410.45 L127.56 406.64 L128.53 399.36 L129.5 364.83 L130.48 382.53 L131.45 373.19 L132.43 375.45 L133.4 382.45 L134.37 389.05 L135.35 394.33 L136.32 411.75 L137.29 407.07 L138.27 408.3 L139.24 409.75 L140.21 410.81 L141.19 415.59 L142.16 413.58 L143.14 420.02 L144.11 417.26 L145.08 414.49 L146.06 421.85 L147.03 420.66 L148 404.4 L148.98 383.34 L149.95 376.96 L150.92 389.89 L151.9 379.66 L152.87 367.67 L153.84 373.93 L154.82 391.34 L155.79 393.92 L156.77 401.57 L157.74 406.61 L158.71 415.53 L159.69 417.42 L160.66 422.69 L161.63 424.5 L162.61 419.94 L163.58 423.85 L164.55 418.47 L165.53 409.6 L166.5 428.94 L167.48 430.26 L168.45 408.27 L169.42 392 L170.4 381.71 L171.37 376.24 L172.34 365.38 L173.32 374.1 L174.29 377.2 L175.26 380.44 L176.24 398.98 L177.21 404.8 L178.18 408 L179.16 411.35 L180.13 418.56 L181.11 415.37 L182.08 410.43 L183.05 411.23 L184.03 413.56 L185 415.01" fill="none" stroke="#000" stroke-width="0.9" stroke-opacity="0.1" stroke-linejoin="round"/>
<path d="M63.3 421.38 L64.27 412.17 L65.25 406.12 L66.22 381.1 L67.19 374.97 L68.17 374.68 L69.14 371.69 L70.12 365.74 L71.09 364.19 L72.06 378.66 L73.04 390.22 L74.01 368.71 L74.98 402.94 L75.96 401.6 L76.93 415.89 L77.9 411.73 L78.88 398.53 L79.85 396.41 L80.82 416.36 L81.8 411.63 L82.77 415.13 L83.75 417.81 L84.72 417.64 L85.69 408.47 L86.67 396.67 L87.64 380.99 L88.61 377.87 L89.59 371.11 L90.56 378.23 L91.53 380.91 L92.51 382.03 L93.48 387.29 L94.46 394.4 L95.43 408.04 L96.4 415.42 L97.38 417.82 L98.35 415.25 L99.32 418.15 L100.3 411.59 L101.27 420.03 L102.24 424.34 L103.22 419.38 L104.19 422.02 L105.16 418.31 L106.14 399.09 L107.11 385.11 L108.09 380.63 L109.06 375.12 L110.03 374.35 L111.01 360.91 L111.98 372.77 L112.95 381.92 L113.93 391.36 L114.9 396.84 L115.87 403.53 L116.85 401.46 L117.82 402.76 L118.8 400.13 L119.77 406.97 L120.74 411.35 L121.72 412.68 L122.69 414.35 L123.66 413.46 L124.64 423.31 L125.61 427.48 L126.58 409.43 L127.56 398.06 L128.53 397.21 L129.5 390.18 L130.48 375.22 L131.45 370.16 L132.43 369.75 L133.4 377.81 L134.37 384.28 L135.35 389.06 L136.32 397.45 L137.29 404.62 L138.27 411.92 L139.24 407.48 L140.21 410.64 L141.19 411.21 L142.16 414.96 L143.14 410.25 L144.11 414.3 L145.08 414.62 L146.06 424.12 L147.03 417.17 L148 399.23 L148.98 388.42 L149.95 375.79 L150.92 373.31 L151.9 376.92 L152.87 354.6 L153.84 366.56 L154.82 392.25 L155.79 388.1 L156.77 399.04 L157.74 403.62 L158.71 412.64 L159.69 416.53 L160.66 414.76 L161.63 422.29 L162.61 423.51 L163.58 417.96 L164.55 418.33 L165.53 412.31 L166.5 417.89 L167.48 429.91 L168.45 416.98 L169.42 390.84 L170.4 366.37 L171.37 362.6 L172.34 355.71 L173.32 359.84 L174.29 370.59 L175.26 381.23 L176.24 394.89 L177.21 399.9 L178.18 405.9 L179.16 405.13 L180.13 415.66 L181.11 412.07 L182.08 414.37 L183.05 404.9 L184.03 413.73 L185 408.9" fill="none" stroke="#000" stroke-width="0.9" stroke-opacity="0.1" stroke-linejoin="round"/>
<path d="M63.3 424.8 L64.27 402.8 L65.25 385.33 L66.22 381.36 L67.19 367.61 L68.17 367.18 L69.14 372.93 L70.12 354.74 L71.09 357.49 L72.06 375 L73.04 380.57 L74.01 386.11 L74.98 395.83 L75.96 402.57 L76.93 408.7 L77.9 405.02 L78.88 392.77 L79.85 408.78 L80.82 416.37 L81.8 415.52 L82.77 413.36 L83.75 416.36 L84.72 412.22 L85.69 410 L86.67 387.32 L87.64 375.85 L88.61 370.71 L89.59 367.75 L90.56 371.38 L91.53 374.99 L92.51 375.17 L93.48 382.94 L94.46 393.9 L95.43 404.1 L96.4 410.29 L97.38 412.26 L98.35 409.56 L99.32 406.92 L100.3 411.89 L101.27 411.87 L102.24 422.77 L103.22 420.39 L104.19 411.53 L105.16 416.92 L106.14 390.98 L107.11 376.7 L108.09 370.55 L109.06 374.69 L110.03 363.89 L111.01 357.75 L111.98 365.15 L112.95 382.08 L113.93 389.34 L114.9 393.9 L115.87 386.91 L116.85 403.11 L117.82 395.67 L118.8 398.33 L119.77 404.21 L120.74 404.71 L121.72 403.39 L122.69 397.67 L123.66 409.94 L124.64 414.29 L125.61 417.02 L126.58 408.74 L127.56 397.5 L128.53 385.68 L129.5 385.35 L130.48 374.37 L131.45 366.51 L132.43 368.38 L133.4 364.76 L134.37 376.03 L135.35 391.85 L136.32 395.53 L137.29 400.41 L138.27 408.92 L139.24 405.44 L140.21 401.76 L141.19 409.06 L142.16 408.15 L143.14 417.31 L144.11 406.63 L145.08 412.82 L146.06 417.99 L147.03 421.98 L148 400.75 L148.98 374.29 L149.95 367.57 L150.92 374.16 L151.9 369.46 L152.87 357.99 L153.84 356.66 L154.82 387.08 L155.79 383.6 L156.77 398.11 L157.74 401.06 L158.71 406.09 L159.69 409.44 L160.66 417.37 L161.63 414.28 L162.61 414.03 L163.58 417.35 L164.55 413.44 L165.53 408.78 L166.5 411.15 L167.48 421.49 L168.45 404.5 L169.42 384.49 L170.4 364.14 L171.37 351.37 L172.34 354.26 L173.32 362.94 L174.29 371.86 L175.26 372.58 L176.24 393.83 L177.21 397.13 L178.18 405.61 L179.16 403.02 L180.13 406.15 L181.11 413.75 L182.08 408.42 L183.05 406.2 L184.03 409.39 L185 407.93" fill="none" stroke="#000" stroke-width="0.9" stroke-opacity="0.1" stroke-linejoin="round"/>
<path d="M63.3 418.65 L64.27 402.48 L65.25 388.85 L66.22 372.04 L67.19 373.45 L68.17 368.07 L69.14 366.15 L70.12 365.02 L71.09 362.71 L72.06 383.59 L73.04 375.89 L74.01 388.85 L74.98 394.67 L75.96 400.12 L76.93 406.55 L77.9 409.86 L78.88 393.4 L79.85 405.58 L80.82 413.96 L81.8 411.98 L82.77 419.28 L83.75 413.63 L84.72 413.83 L85.69 403.39 L86.67 388.29 L87.64 379.08 L88.61 376.87 L89.59 362.21 L90.56 375.05 L91.53 368.69 L92.51 375.18 L93.48 381 L94.46 396.67 L95.43 400.62 L96.4 413.93 L97.38 397.99 L98.35 409.96 L99.32 413.01 L100.3 409.11 L101.27 414.17 L102.24 417.55 L103.22 416.29 L104.19 418.4 L105.16 420.51 L106.14 402.89 L107.11 388.02 L108.09 380.7 L109.06 369.7 L110.03 368.97 L111.01 360.82 L111.98 372.38 L112.95 381.62 L113.93 387.71 L114.9 393 L115.87 396.33 L116.85 401.03 L117.82 401.2 L118.8 405.48 L119.77 393.19 L120.74 400.52 L121.72 409.57 L122.69 413.03 L123.66 407.84 L124.64 419.59 L125.61 424.34 L126.58 409.76 L127.56 400 L128.53 387.34 L129.5 383.06 L130.48 386.39 L131.45 366.11 L132.43 367.29 L133.4 368.43 L134.37 380.21 L135.35 385.61 L136.32 395.9 L137.29 401.9 L138.27 404.85 L139.24 398.37 L140.21 407.6 L141.19 405.95 L142.16 408.3 L143.14 409.08 L144.11 408.96 L145.08 405.82 L146.06 418 L147.03 410.68 L148 400.58 L148.98 382.58 L149.95 366.77 L150.92 374.99 L151.9 371.43 L152.87 357.46 L153.84 361.56 L154.82 378.98 L155.79 386.75 L156.77 400.5 L157.74 403.9 L158.71 403.05 L159.69 393.67 L160.66 410.52 L161.63 412.36 L162.61 412.54 L163.58 410.13 L164.55 413.94 L165.53 412.79 L166.5 414.5 L167.48 419.38 L168.45 408.83 L169.42 379.3 L170.4 371.21 L171.37 362.71 L172.34 352.9 L173.32 359.59 L174.29 365.73 L175.26 380.1 L176.24 393.16 L177.21 399.58 L178.18 406.02 L179.16 405.63 L180.13 406.87 L181.11 409.71 L182.08 412 L183.05 405.08 L184.03 406.24 L185 408.77" fill="none" stroke="#000" stroke-width="0.9" stroke-opacity="0.1" stroke-linejoin="round"/>
<path d="M63.3 415.91 L64.27 406.76 L65.25 392.03 L66.22 381.45 L67.19 373.93 L68.17 374.23 L69.14 372.49 L70.12 369.96 L71.09 369.12 L72.06 384.63 L73.04 382.51 L74.01 394.1 L74.98 403.06 L75.96 407.44 L76.93 409.69 L77.9 413.21 L78.88 399.38 L79.85 408.73 L80.82 412.74 L81.8 418.15 L82.77 421.75 L83.75 415.24 L84.72 415.15 L85.69 412.56 L86.67 394.75 L87.64 378.7 L88.61 379.81 L89.59 377.44 L90.56 377.15 L91.53 377.67 L92.51 381.64 L93.48 386.88 L94.46 394.33 L95.43 409.36 L96.4 414.19 L97.38 416.08 L98.35 413.33 L99.32 414.28 L100.3 414.19 L101.27 414.12 L102.24 421.99 L103.22 424.37 L104.19 419.17 L105.16 417.61 L106.14 405.22 L107.11 391.84 L108.09 381.92 L109.06 379.52 L110.03 376.62 L111.01 364.58 L111.98 372.09 L112.95 379.29 L113.93 392.14 L114.9 396.99 L115.87 395.24 L116.85 401.42 L117.82 402.2 L118.8 405.9 L119.77 411.52 L120.74 414.17 L121.72 414.37 L122.69 417.62 L123.66 410.6 L124.64 418.43 L125.61 418.08 L126.58 408.87 L127.56 398.08 L128.53 389.43 L129.5 387.47 L130.48 377.36 L131.45 374.25 L132.43 380.6 L133.4 371.99 L134.37 382.72 L135.35 387.3 L136.32 398.11 L137.29 405.52 L138.27 409.83 L139.24 409.86 L140.21 406.26 L141.19 412.15 L142.16 413.38 L143.14 411.47 L144.11 416.99 L145.08 417.42 L146.06 417.84 L147.03 419.89 L148 400.45 L148.98 382.87 L149.95 372.63 L150.92 378.45 L151.9 377.52 L152.87 362.97 L153.84 369.51 L154.82 386.43 L155.79 390.69 L156.77 399.38 L157.74 409.74 L158.71 413.09 L159.69 410.12 L160.66 421.16 L161.63 418.33 L162.61 419.27 L163.58 419.68 L164.55 416.75 L165.53 414.78 L166.5 417.94 L167.48 424.15 L168.45 405.46 L169.42 390.98 L170.4 374.12 L171.37 367.32 L172.34 360.96 L173.32 363.56 L174.29 369.88 L175.26 382.02 L176.24 395.72 L177.21 403.39 L178.18 403.63 L179.16 409.41 L180.13 415.87 L181.11 412.35 L182.08 414.38 L183.05 408.29 L184.03 409.08 L185 408.59" fill="none" stroke="#000" stroke-width="0.8" stroke-opacity="0.25" stroke-linejoin="round"/>
<path d="M63.3 416.42 L64.27 411.14 L65.25 400.26 L66.22 382.03 L67.19 380.95 L68.17 379.32 L69.14 378.42 L70.12 371.79 L71.09 374.69 L72.06 383.83 L73.04 385.22 L74.01 398.24 L74.98 403.07 L75.96 400.69 L76.93 410.43 L77.9 409.93 L78.88 400.99 L79.85 414.21 L80.82 417.02 L81.8 419.9 L82.77 418.04 L83.75 420.24 L84.72 419.75 L85.69 412.46 L86.67 394.13 L87.64 386.71 L88.61 382.02 L89.59 376.86 L90.56 378.38 L91.53 384.6 L92.51 386.26 L93.48 389.08 L94.46 397.03 L95.43 404.01 L96.4 415.44 L97.38 421.74 L98.35 414.54 L99.32 412.76 L100.3 413.75 L101.27 414.63 L102.24 426.46 L103.22 421.68 L104.19 418.58 L105.16 422.56 L106.14 406.9 L107.11 391.7 L108.09 387.33 L109.06 384.43 L110.03 378.11 L111.01 368.35 L111.98 376.85 L112.95 386.48 L113.93 397.39 L114.9 397.48 L115.87 401.89 L116.85 402.57 L117.82 406.61 L118.8 406.07 L119.77 409.31 L120.74 412.73 L121.72 418.55 L122.69 417.33 L123.66 410.61 L124.64 421.33 L125.61 419.94 L126.58 410.55 L127.56 404.46 L128.53 396.92 L129.5 389.84 L130.48 383.83 L131.45 377.83 L132.43 373.64 L133.4 379.7 L134.37 381.02 L135.35 393.55 L136.32 402.57 L137.29 403.73 L138.27 412.62 L139.24 409.75 L140.21 408.28 L141.19 407.3 L142.16 408.22 L143.14 414.07 L144.11 416.7 L145.08 418.29 L146.06 418.92 L147.03 418.25 L148 402.19 L148.98 386.7 L149.95 376.94 L150.92 379.32 L151.9 381.59 L152.87 361.77 L153.84 368.12 L154.82 386.94 L155.79 394.32 L156.77 403.14 L157.74 407 L158.71 413.2 L159.69 417.17 L160.66 419.56 L161.63 417.93 L162.61 417.59 L163.58 419.34 L164.55 418.44 L165.53 419.21 L166.5 418.86 L167.48 427.03 L168.45 414.91 L169.42 386.29 L170.4 377.3 L171.37 368.07 L172.34 364.05 L173.32 372.83 L174.29 380.96 L175.26 384.92 L176.24 398.76 L177.21 405.48 L178.18 404.29 L179.16 404.56 L180.13 415.43 L181.11 413.3 L182.08 406.85 L183.05 410.98 L184.03 405.77 L185 408.19" fill="none" stroke="#000" stroke-width="0.8" stroke-opacity="0.25" stroke-linejoin="round"/>
<path d="M63.3 412.79 L64.27 410.25 L65.25 396.27 L66.22 381.5 L67.19 380.77 L68.17 379.7 L69.14 374.84 L70.12 374.57 L71.09 371.18 L72.06 379.37 L73.04 385.95 L74.01 397.05 L74.98 398.69 L75.96 403.62 L76.93 413.32 L77.9 411.11 L78.88 401.14 L79.85 408.13 L80.82 416.29 L81.8 420.1 L82.77 420 L83.75 417.04 L84.72 418.76 L85.69 414.86 L86.67 401.61 L87.64 382.38 L88.61 381.12 L89.59 377.54 L90.56 380.2 L91.53 381.53 L92.51 383.82 L93.48 391.63 L94.46 396.24 L95.43 404.08 L96.4 418.42 L97.38 420.11 L98.35 412.75 L99.32 415.46 L100.3 411.88 L101.27 413.74 L102.24 421.6 L103.22 422.52 L104.19 421.57 L105.16 419.09 L106.14 405.58 L107.11 392.18 L108.09 389.77 L109.06 381.27 L110.03 370.27 L111.01 364.53 L111.98 373.08 L112.95 384.28 L113.93 397.1 L114.9 397.61 L115.87 395.24 L116.85 403.49 L117.82 405.58 L118.8 407.59 L119.77 412.68 L120.74 413.09 L121.72 415.38 L122.69 414.32 L123.66 412.2 L124.64 424.82 L125.61 427.7 L126.58 411.44 L127.56 405.88 L128.53 391.79 L129.5 392.07 L130.48 378.92 L131.45 375.09 L132.43 371.63 L133.4 375.49 L134.37 389.8 L135.35 398.18 L136.32 399.99 L137.29 409.05 L138.27 407.96 L139.24 410.09 L140.21 404.01 L141.19 409.52 L142.16 414.13 L143.14 419.81 L144.11 412.64 L145.08 415.9 L146.06 418.86 L147.03 414.28 L148 400.23 L148.98 388.41 L149.95 372.94 L150.92 384.77 L151.9 378.9 L152.87 362.1 L153.84 372.08 L154.82 387.51 L155.79 393.31 L156.77 401.63 L157.74 409.12 L158.71 415.33 L159.69 416.47 L160.66 416.5 L161.63 422.52 L162.61 416.26 L163.58 418.25 L164.55 416.24 L165.53 414.16 L166.5 414.65 L167.48 425.51 L168.45 411.54 L169.42 385.8 L170.4 372.45 L171.37 361.96 L172.34 363.47 L173.32 364.45 L174.29 376.5 L175.26 381.78 L176.24 396.11 L177.21 397.13 L178.18 407.14 L179.16 407.84 L180.13 419.24 L181.11 414.68 L182.08 412.52 L183.05 408.33 L184.03 406.76 L185 409.95" fill="none" stroke="#000" stroke-width="0.8" stroke-opacity="0.25" stroke-linejoin="round"/>
<path d="M63.3 418.25 L64.27 408.99 L65.25 391.76 L66.22 378.21 L67.19 376.29 L68.17 377.11 L69.14 376.5 L70.12 366.49 L71.09 371.14 L72.06 380.88 L73.04 385.58 L74.01 391.87 L74.98 405.71 L75.96 402.38 L76.93 416.8 L77.9 411.97 L78.88 402.4 L79.85 414.91 L80.82 413.04 L81.8 418.36 L82.77 422.07 L83.75 421.05 L84.72 417.24 L85.69 410.48 L86.67 395.36 L87.64 386.45 L88.61 376.69 L89.59 375.39 L90.56 373.44 L91.53 376.1 L92.51 382.11 L93.48 384.91 L94.46 395.88 L95.43 404.9 L96.4 420.33 L97.38 423.76 L98.35 418.35 L99.32 413.78 L100.3 414.54 L101.27 417.16 L102.24 424.56 L103.22 422.81 L104.19 419.53 L105.16 419.04 L106.14 402.83 L107.11 391.46 L108.09 383.69 L109.06 378.56 L110.03 377.61 L111.01 364.89 L111.98 374.89 L112.95 382.82 L113.93 394 L114.9 399.04 L115.87 400.72 L116.85 399.83 L117.82 404.06 L118.8 409.31 L119.77 413.91 L120.74 411.5 L121.72 411.48 L122.69 416.52 L123.66 415.37 L124.64 419.69 L125.61 423.27 L126.58 410.21 L127.56 402.62 L128.53 393.62 L129.5 387.16 L130.48 377.41 L131.45 373.22 L132.43 374.55 L133.4 373.84 L134.37 390.13 L135.35 392.7 L136.32 401.17 L137.29 404.11 L138.27 411.97 L139.24 406.67 L140.21 407.72 L141.19 407.67 L142.16 408.5 L143.14 413.92 L144.11 414.43 L145.08 413.92 L146.06 416.61 L147.03 415.32 L148 401.31 L148.98 382.95 L149.95 370.2 L150.92 377.4 L151.9 376.72 L152.87 365.55 L153.84 365.24 L154.82 382.39 L155.79 390.82 L156.77 398.24 L157.74 405.44 L158.71 409.02 L159.69 412.35 L160.66 416.98 L161.63 416.31 L162.61 417.23 L163.58 422 L164.55 415.07 L165.53 415.91 L166.5 414.87 L167.48 426.1 L168.45 411.53 L169.42 384.26 L170.4 372.93 L171.37 361.43 L172.34 362.94 L173.32 369.74 L174.29 370.56 L175.26 389.79 L176.24 397.14 L177.21 402.96 L178.18 404.82 L179.16 409.06 L180.13 415.22 L181.11 417.43 L182.08 409.84 L183.05 410.89 L184.03 407.51 L185 411.33" fill="none" stroke="#000" stroke-width="0.8" stroke-opacity="0.25" stroke-linejoin="round"/>
<path d="M63.3 418.24 L63.71 413.81 L64.11 410.01 L64.52 403.74 L64.93 397.35 L65.34 392.97 L65.74 387.85 L66.15 382.74 L66.56 377.71 L66.96 377.13 L67.37 376.09 L67.78 374.46 L68.18 376.28 L68.59 375.7 L69 375.95 L69.41 374.78 L69.81 371.84 L70.22 370.33 L70.63 369.19 L71.03 368.65 L71.44 374.02 L71.85 378.32 L72.25 385.04 L72.66 386.77 L73.07 387.4 L73.48 391.94 L73.88 393.3 L74.29 395.42 L74.7 398.68 L75.1 401.1 L75.51 400.37 L75.92 402.97 L76.32 407.34 L76.73 410.51 L77.14 414.26 L77.55 413.23 L77.95 410.22 L78.36 405.83 L78.77 401.54 L79.17 404.24 L79.58 408.25 L79.99 411.17 L80.39 414.1 L80.8 416.68 L81.21 417.6 L81.62 417.78 L82.02 419.05 L82.43 420.23 L82.84 418.43 L83.24 421.71 L83.65 418.75 L84.06 417.86 L84.47 416.91 L84.87 416.14 L85.28 414.84 L85.69 411.87 L86.09 405.67 L86.5 398.53 L86.91 392.33 L87.31 387.41 L87.72 384.01 L88.13 383.77 L88.54 381.19 L88.94 380.44 L89.35 378.5 L89.76 378.08 L90.16 379.94 L90.57 377.85 L90.98 375.11 L91.38 378.33 L91.79 381.76 L92.2 383.38 L92.61 384.1 L93.01 387.2 L93.42 388.4 L93.83 392.79 L94.23 395.3 L94.64 398.32 L95.05 403.51 L95.45 407.84 L95.86 414.64 L96.27 416.13 L96.68 417.92 L97.08 419.19 L97.49 418.85 L97.9 417.4 L98.3 415.82 L98.71 416.08 L99.12 415.45 L99.53 414.78 L99.93 414.67 L100.34 414.96 L100.75 416.93 L101.15 415.75 L101.56 419.95 L101.97 423.39 L102.37 422.21 L102.78 420.55 L103.19 421.17 L103.6 422.45 L104 420.85 L104.41 419.37 L104.82 419.71 L105.22 420.62 L105.63 415.92 L106.04 407.43 L106.44 399.23 L106.85 392.41 L107.26 389.96 L107.67 386.11 L108.07 384.37 L108.48 381.45 L108.89 380.73 L109.29 379.18 L109.7 377.46 L110.11 375.02 L110.51 369.84 L110.92 366.7 L111.33 364.61 L111.74 371.78 L112.14 379.3 L112.55 383.8 L112.96 384.62 L113.36 389.6 L113.77 392.5 L114.18 395.73 L114.58 396.73 L114.99 397.48 L115.4 397.4 L115.81 398.73 L116.21 399.75 L116.62 401.79 L117.03 402.36 L117.43 401.35 L117.84 404.35 L118.25 404.14 L118.66 405.89 L119.06 406.5 L119.47 407.52 L119.88 409.53 L120.28 410.41 L120.69 411.47 L121.1 413.4 L121.5 414.59 L121.91 415.18 L122.32 415.38 L122.73 416.01 L123.13 417.7 L123.54 414.48 L123.95 417.51 L124.35 420.89 L124.76 420.81 L125.17 419.68 L125.57 422.35 L125.98 416.71 L126.39 411.98 L126.8 408.34 L127.2 405.33 L127.61 403.16 L128.02 400 L128.42 394.8 L128.83 390.54 L129.24 389.03 L129.64 387.35 L130.05 382.08 L130.46 380.28 L130.87 375.93 L131.27 374.38 L131.68 373.74 L132.09 373.68 L132.49 374.35 L132.9 374.91 L133.31 375.19 L133.72 376.36 L134.12 380.74 L134.53 386.3 L134.94 389.69 L135.34 392.24 L135.75 396.43 L136.16 399.23 L136.56 402.39 L136.97 404.37 L137.38 406.57 L137.79 409.18 L138.19 409.51 L138.6 408.65 L139.01 408.78 L139.41 408.44 L139.82 406.99 L140.23 407.64 L140.63 410.07 L141.04 409.28 L141.45 411.83 L141.86 413.61 L142.26 411.44 L142.67 410.92 L143.08 413.86 L143.48 414.28 L143.89 413.59 L144.3 412.88 L144.7 413.08 L145.11 414.63 L145.52 415.91 L145.93 416.97 L146.33 419.07 L146.74 422.24 L147.15 417.37 L147.55 409.3 L147.96 402.24 L148.37 397.13 L148.77 389.36 L149.18 384.3 L149.59 380.15 L150 374.86 L150.4 379.43 L150.81 380.62 L151.22 382.56 L151.62 382.65 L152.03 375.43 L152.44 370.07 L152.85 364.49 L153.25 359.13 L153.66 364.65 L154.07 373.6 L154.47 381.52 L154.88 387.22 L155.29 387.8 L155.69 391.96 L156.1 395.27 L156.51 398.87 L156.92 401.27 L157.32 401.65 L157.73 406.03 L158.14 411.05 L158.54 411.98 L158.95 412.15 L159.36 413.92 L159.76 415.57 L160.17 415.42 L160.58 416.85 L160.99 419.05 L161.39 419.63 L161.8 418.35 L162.21 416.7 L162.61 417.31 L163.02 417.81 L163.43 419.52 L163.83 419 L164.24 417.42 L164.65 415.8 L165.06 414.31 L165.46 415.54 L165.87 415.33 L166.28 415.68 L166.68 418.41 L167.09 423.31 L167.5 427.58 L167.91 425.32 L168.31 414.94 L168.72 402.61 L169.13 391.87 L169.53 384.31 L169.94 377.43 L170.35 373.23 L170.75 368.35 L171.16 365.59 L171.57 364.26 L171.98 363.17 L172.38 362.55 L172.79 364.73 L173.2 367.2 L173.6 368.53 L174.01 371.17 L174.42 374.99 L174.82 379.23 L175.23 385.58 L175.64 391.16 L176.05 395.39 L176.45 398.9 L176.86 401.62 L177.27 403.19 L177.67 404.91 L178.08 406.76 L178.49 407.31 L178.89 408.05 L179.3 410.57 L179.71 414.81 L180.12 414.81 L180.52 416 L180.93 414.29 L181.34 414.44 L181.74 414.62 L182.15 412.01 L182.56 410.47 L182.96 408.99 L183.37 408.98 L183.78 407.6 L184.19 408.63 L184.59 410.38 L185 409.66" fill="none" stroke="#000" stroke-width="1.0" stroke-linejoin="round"/>
</g>
<clipPath id="clip6"><rect x="234" y="343.2" width="121.5" height="97.4"/></clipPath>
<g clip-path="url(#clip6)">
<path d="M233.5 393.73 L234.47 395.53 L235.44 390 L236.42 381.03 L237.39 376.85 L238.36 376.24 L239.33 383.7 L240.3 365.53 L241.28 387.39 L242.25 385.7 L243.22 374.96 L244.19 382.11 L245.16 369.02 L246.14 360.77 L247.11 366.2 L248.08 394.67 L249.05 386.22 L250.02 393.33 L251 396.08 L251.97 397.74 L252.94 374.05 L253.91 411 L254.88 406.27 L255.86 381.11 L256.83 406.95 L257.8 380.91 L258.77 378.41 L259.74 375.56 L260.72 382.36 L261.69 383.07 L262.66 375.49 L263.63 361.46 L264.6 400.12 L265.58 404.73 L266.55 395.05 L267.52 375.76 L268.49 389.21 L269.46 405.33 L270.44 382.12 L271.41 396.9 L272.38 382.23 L273.35 370.08 L274.32 385.3 L275.3 398.04 L276.27 386.93 L277.24 399.05 L278.21 396.94 L279.18 380.93 L280.16 376.62 L281.13 380.52 L282.1 373.21 L283.07 384.77 L284.04 391.43 L285.02 368.57 L285.99 364.49 L286.96 385.38 L287.93 368.8 L288.9 385.72 L289.88 376.18 L290.85 366.07 L291.82 387.35 L292.79 399.97 L293.76 389.51 L294.74 395.25 L295.71 398.5 L296.68 394.83 L297.65 389.55 L298.62 400.37 L299.6 407.16 L300.57 394.23 L301.54 374.43 L302.51 401.15 L303.48 367.66 L304.46 391.93 L305.43 371.96 L306.4 393.37 L307.37 377.07 L308.34 411.49 L309.32 376.23 L310.29 365.37 L311.26 381.13 L312.23 385.84 L313.2 388.39 L314.18 390.68 L315.15 408.85 L316.12 395.53 L317.09 394.99 L318.06 398.25 L319.04 405.8 L320.01 392.32 L320.98 388.21 L321.95 408.76 L322.92 395.13 L323.9 389.78 L324.87 385.21 L325.84 387.16 L326.81 377.59 L327.78 395.14 L328.76 390.96 L329.73 386.26 L330.7 383.37 L331.67 402.46 L332.64 414.7 L333.62 411.14 L334.59 406.74 L335.56 402.51 L336.53 406.98 L337.5 399.95 L338.48 395.87 L339.45 366.29 L340.42 365.42 L341.39 366.84 L342.36 382.99 L343.34 363.83 L344.31 380.52 L345.28 384.71 L346.25 400.47 L347.22 356.87 L348.2 380.9 L349.17 387.3 L350.14 386.72 L351.11 409.59 L352.08 401.57 L353.06 401.08 L354.03 403.02 L355 402.36" fill="none" stroke="#d2d2d2" stroke-width="0.8" stroke-linejoin="round"/>
<path d="M233.5 410.94 L234.47 401.89 L235.44 396.05 L236.42 387.33 L237.39 380.06 L238.36 375.2 L239.33 401.72 L240.3 339.28 L241.28 412.31 L242.25 399.89 L243.22 395.66 L244.19 385.15 L245.16 408.37 L246.14 377.12 L247.11 392.31 L248.08 395.96 L249.05 399.25 L250.02 408.44 L251 418.06 L251.97 415.93 L252.94 412.53 L253.91 384.77 L254.88 417.07 L255.86 411.82 L256.83 397.84 L257.8 365.84 L258.77 408.1 L259.74 393.68 L260.72 386.44 L261.69 376.88 L262.66 380.91 L263.63 393.92 L264.6 393.94 L265.58 405.11 L266.55 403.21 L267.52 413.7 L268.49 398.7 L269.46 425.46 L270.44 411.5 L271.41 401.24 L272.38 407.68 L273.35 404.1 L274.32 398.56 L275.3 421.62 L276.27 409.82 L277.24 397.01 L278.21 381.04 L279.18 397.68 L280.16 400.03 L281.13 393.05 L282.1 382.84 L283.07 397.26 L284.04 406.37 L285.02 391.27 L285.99 374.88 L286.96 381.35 L287.93 411.06 L288.9 396.48 L289.88 408.73 L290.85 416.84 L291.82 423.42 L292.79 409.43 L293.76 399.26 L294.74 400.69 L295.71 406.59 L296.68 410.75 L297.65 424.31 L298.62 412.01 L299.6 393.09 L300.57 388.39 L301.54 395.58 L302.51 414.39 L303.48 402.14 L304.46 429 L305.43 391.03 L306.4 403.99 L307.37 401.15 L308.34 401.31 L309.32 413.07 L310.29 414.74 L311.26 406.33 L312.23 417.78 L313.2 410.06 L314.18 396.89 L315.15 406.57 L316.12 408.35 L317.09 401.26 L318.06 410.72 L319.04 394.4 L320.01 422.64 L320.98 389.91 L321.95 409.99 L322.92 401.68 L323.9 391.82 L324.87 386.4 L325.84 381.2 L326.81 395.55 L327.78 407.6 L328.76 415.67 L329.73 400.94 L330.7 402.23 L331.67 405.77 L332.64 411.89 L333.62 420.3 L334.59 409.18 L335.56 398.63 L336.53 394.57 L337.5 410.89 L338.48 378.07 L339.45 392.15 L340.42 384.09 L341.39 399.6 L342.36 400.56 L343.34 400.6 L344.31 424.48 L345.28 413.83 L346.25 401.84 L347.22 398.12 L348.2 406.48 L349.17 397.56 L350.14 398.45 L351.11 401.83 L352.08 400.99 L353.06 407.73 L354.03 411.71 L355 415.76" fill="none" stroke="#d2d2d2" stroke-width="0.8" stroke-linejoin="round"/>
<path d="M233.5 410.04 L234.47 414.01 L235.44 413.46 L236.42 399.53 L237.39 402.08 L238.36 410.75 L239.33 431.04 L240.3 412.94 L241.28 425.22 L242.25 382.69 L243.22 436.79 L244.19 389.02 L245.16 402.62 L246.14 442.53 L247.11 408.36 L248.08 412.31 L249.05 433.79 L250.02 416.57 L251 414.31 L251.97 420.15 L252.94 411.82 L253.91 404.41 L254.88 415.95 L255.86 417.56 L256.83 392.92 L257.8 405.85 L258.77 415.15 L259.74 423.93 L260.72 418.98 L261.69 417.89 L262.66 421.89 L263.63 419.89 L264.6 403.3 L265.58 404.35 L266.55 421.85 L267.52 423.72 L268.49 422.96 L269.46 402.57 L270.44 432.31 L271.41 410.19 L272.38 421 L273.35 413.83 L274.32 422.56 L275.3 419.79 L276.27 406.1 L277.24 418.53 L278.21 387.28 L279.18 420.73 L280.16 405.19 L281.13 392.84 L282.1 393.92 L283.07 414.45 L284.04 426.6 L285.02 397.03 L285.99 421.29 L286.96 411.36 L287.93 406.31 L288.9 413.25 L289.88 414.3 L290.85 437.02 L291.82 417.7 L292.79 411.17 L293.76 413.9 L294.74 402.92 L295.71 407.26 L296.68 429.84 L297.65 402.96 L298.62 412.78 L299.6 414.34 L300.57 413.47 L301.54 374.03 L302.51 401.25 L303.48 410.78 L304.46 418.55 L305.43 417.61 L306.4 400.2 L307.37 416.19 L308.34 382.6 L309.32 411.55 L310.29 426.84 L311.26 403.94 L312.23 411.94 L313.2 424.67 L314.18 401.71 L315.15 417.84 L316.12 421.11 L317.09 426.15 L318.06 413.66 L319.04 402.44 L320.01 398.69 L320.98 408.1 L321.95 386.6 L322.92 422.27 L323.9 402.74 L324.87 434.89 L325.84 391.29 L326.81 411.38 L327.78 409.51 L328.76 408.14 L329.73 411.4 L330.7 424.12 L331.67 445.02 L332.64 420.43 L333.62 420.69 L334.59 422.39 L335.56 400.9 L336.53 401.87 L337.5 399.12 L338.48 371.54 L339.45 387.58 L340.42 415.27 L341.39 388.15 L342.36 413.46 L343.34 421.13 L344.31 414.38 L345.28 428.04 L346.25 406.75 L347.22 411 L348.2 426.31 L349.17 419 L350.14 413.42 L351.11 400.05 L352.08 418.96 L353.06 421.4 L354.03 416.2 L355 427.57" fill="none" stroke="#d2d2d2" stroke-width="0.8" stroke-linejoin="round"/>
<path d="M233.5 404.51 L234.47 393.42 L235.44 402.8 L236.42 396.38 L237.39 371.57 L238.36 382.39 L239.33 409.89 L240.3 413.21 L241.28 415.66 L242.25 409.71 L243.22 379.73 L244.19 379.63 L245.16 391.45 L246.14 397.08 L247.11 397.59 L248.08 382.72 L249.05 406.37 L250.02 411.74 L251 410.21 L251.97 412.41 L252.94 402.41 L253.91 416.42 L254.88 396.14 L255.86 399.21 L256.83 390.72 L257.8 371.23 L258.77 386.59 L259.74 395.99 L260.72 392.1 L261.69 387.82 L262.66 403.21 L263.63 390.18 L264.6 389.59 L265.58 408.26 L266.55 382.06 L267.52 396.26 L268.49 396.73 L269.46 404.25 L270.44 405.51 L271.41 400.42 L272.38 382.07 L273.35 405.61 L274.32 417.06 L275.3 407.81 L276.27 401.18 L277.24 389.17 L278.21 388.19 L279.18 370.81 L280.16 376.74 L281.13 382.57 L282.1 361.55 L283.07 382.73 L284.04 392.23 L285.02 370.46 L285.99 385.23 L286.96 401.09 L287.93 398.86 L288.9 392.22 L289.88 415.71 L290.85 403.65 L291.82 408.84 L292.79 404.67 L293.76 406.54 L294.74 425.53 L295.71 405.96 L296.68 418.48 L297.65 404.21 L298.62 398.79 L299.6 377.24 L300.57 360.26 L301.54 357.78 L302.51 399.2 L303.48 362.49 L304.46 396.07 L305.43 406.34 L306.4 392.43 L307.37 413.13 L308.34 418.86 L309.32 394.67 L310.29 405.56 L311.26 411.75 L312.23 394.74 L313.2 404.96 L314.18 401.53 L315.15 409.03 L316.12 412.48 L317.09 393.61 L318.06 409.72 L319.04 395 L320.01 397.74 L320.98 409.84 L321.95 395.95 L322.92 415.03 L323.9 399.25 L324.87 376.42 L325.84 388.11 L326.81 385.91 L327.78 431.4 L328.76 392.02 L329.73 399.69 L330.7 407.66 L331.67 406.87 L332.64 405.75 L333.62 398.82 L334.59 394.49 L335.56 395.98 L336.53 389.61 L337.5 388.81 L338.48 380.55 L339.45 401.3 L340.42 388.49 L341.39 381.74 L342.36 378.84 L343.34 378.65 L344.31 401.25 L345.28 400.59 L346.25 405.54 L347.22 386.16 L348.2 413.66 L349.17 405.64 L350.14 403.55 L351.11 416.75 L352.08 408.11 L353.06 410.88 L354.03 406.33 L355 410.55" fill="none" stroke="#d2d2d2" stroke-width="0.8" stroke-linejoin="round"/>
<path d="M233.5 433.38 L234.47 398.61 L235.44 432.38 L236.42 422.11 L237.39 406.31 L238.36 423.81 L239.33 410.37 L240.3 428.52 L241.28 403.38 L242.25 442.01 L243.22 419.41 L244.19 394.26 L245.16 418 L246.14 422.73 L247.11 416.34 L248.08 413.1 L249.05 430.88 L250.02 407.24 L251 424.46 L251.97 432.28 L252.94 422.04 L253.91 423.51 L254.88 411.23 L255.86 417.89 L256.83 406.24 L257.8 401.28 L258.77 398.72 L259.74 405.99 L260.72 410.11 L261.69 411.02 L262.66 404.75 L263.63 426.98 L264.6 388.81 L265.58 424.08 L266.55 410.34 L267.52 414.39 L268.49 397.54 L269.46 420.12 L270.44 412.31 L271.41 421.57 L272.38 429.79 L273.35 422.54 L274.32 424.21 L275.3 423.39 L276.27 421.57 L277.24 423.98 L278.21 402.25 L279.18 396.6 L280.16 379.25 L281.13 407.7 L282.1 412.97 L283.07 445.02 L284.04 395.59 L285.02 434.83 L285.99 423.86 L286.96 417.17 L287.93 426.07 L288.9 407.39 L289.88 425.33 L290.85 426.9 L291.82 414.37 L292.79 416.5 L293.76 421.47 L294.74 422.91 L295.71 435.2 L296.68 424.04 L297.65 411.89 L298.62 414.36 L299.6 403.14 L300.57 406.53 L301.54 367.16 L302.51 431.36 L303.48 379.42 L304.46 404.13 L305.43 399.73 L306.4 393.67 L307.37 429.29 L308.34 422.09 L309.32 406.19 L310.29 423.46 L311.26 437.41 L312.23 426.82 L313.2 419.17 L314.18 402.02 L315.15 428.89 L316.12 414.31 L317.09 440.02 L318.06 428.11 L319.04 424.33 L320.01 429.08 L320.98 416.21 L321.95 401.88 L322.92 417.22 L323.9 419.15 L324.87 424.47 L325.84 411.11 L326.81 408.51 L327.78 424.7 L328.76 408.89 L329.73 396.06 L330.7 405.42 L331.67 426.53 L332.64 423.04 L333.62 436.13 L334.59 407.93 L335.56 415.83 L336.53 416.17 L337.5 389.46 L338.48 411.28 L339.45 422.65 L340.42 401.08 L341.39 423.69 L342.36 418.87 L343.34 422.67 L344.31 432.06 L345.28 423.45 L346.25 411.69 L347.22 440.06 L348.2 397.8 L349.17 429.62 L350.14 433.31 L351.11 404.43 L352.08 428.16 L353.06 435.5 L354.03 429.22 L355 415.16" fill="none" stroke="#d2d2d2" stroke-width="0.8" stroke-linejoin="round"/>
<path d="M233.5 395.86 L234.47 387.19 L235.44 372.25 L236.42 408.58 L237.39 392.65 L238.36 380.18 L239.33 402.76 L240.3 399.89 L241.28 389.69 L242.25 409.38 L243.22 391.27 L244.19 387.76 L245.16 371.83 L246.14 417.47 L247.11 397.91 L248.08 377.48 L249.05 413.95 L250.02 408.12 L251 405.8 L251.97 403.86 L252.94 408.04 L253.91 397.94 L254.88 402.04 L255.86 386.88 L256.83 400.39 L257.8 374.6 L258.77 378.58 L259.74 384.43 L260.72 386.34 L261.69 396.19 L262.66 404.44 L263.63 396.1 L264.6 403.02 L265.58 407.93 L266.55 406.85 L267.52 410.38 L268.49 402.79 L269.46 409.61 L270.44 413.17 L271.41 394.1 L272.38 430.27 L273.35 406.21 L274.32 415.82 L275.3 411.81 L276.27 405.1 L277.24 390.53 L278.21 388.99 L279.18 344.6 L280.16 385.31 L281.13 370.03 L282.1 382.45 L283.07 413.49 L284.04 395.96 L285.02 392.74 L285.99 403.7 L286.96 392.67 L287.93 392.66 L288.9 401.12 L289.88 402.35 L290.85 411.18 L291.82 413.13 L292.79 410.59 L293.76 401.55 L294.74 409.29 L295.71 399.28 L296.68 385.3 L297.65 395.1 L298.62 404.49 L299.6 386.05 L300.57 376.76 L301.54 374.08 L302.51 393.43 L303.48 390.81 L304.46 404.26 L305.43 375.04 L306.4 402.61 L307.37 378.43 L308.34 391.15 L309.32 394.9 L310.29 400.57 L311.26 412.75 L312.23 403.75 L313.2 391.93 L314.18 402.21 L315.15 421.94 L316.12 402.09 L317.09 397.17 L318.06 416.84 L319.04 421.68 L320.01 406.17 L320.98 411.06 L321.95 384.82 L322.92 377.62 L323.9 406.9 L324.87 384.53 L325.84 409.71 L326.81 422.6 L327.78 396.48 L328.76 369.13 L329.73 411.91 L330.7 414.69 L331.67 415.93 L332.64 406.67 L333.62 385.75 L334.59 404.25 L335.56 395.15 L336.53 382.52 L337.5 404.39 L338.48 389.16 L339.45 393.42 L340.42 396.86 L341.39 379.28 L342.36 408.14 L343.34 385.23 L344.31 409.74 L345.28 410.51 L346.25 406.62 L347.22 414.69 L348.2 399.5 L349.17 395.32 L350.14 414.16 L351.11 401.78 L352.08 418.34 L353.06 410.2 L354.03 398.64 L355 409.16" fill="none" stroke="#d2d2d2" stroke-width="0.8" stroke-linejoin="round"/>
<path d="M233.5 406.6 L234.47 409.61 L235.44 401.74 L236.42 389.95 L237.39 388.95 L238.36 412.37 L239.33 391.77 L240.3 397.71 L241.28 382.51 L242.25 416.34 L243.22 406.42 L244.19 423.18 L245.16 407.76 L246.14 400.56 L247.11 385.66 L248.08 372.45 L249.05 376.64 L250.02 401.12 L251 386.76 L251.97 369.29 L252.94 389.67 L253.91 408.02 L254.88 399.38 L255.86 399.44 L256.83 382.89 L257.8 392.41 L258.77 390.17 L259.74 383.18 L260.72 367.34 L261.69 388.09 L262.66 387.15 L263.63 391.47 L264.6 402.15 L265.58 389.04 L266.55 384.08 L267.52 445.02 L268.49 384.56 L269.46 387.51 L270.44 385.66 L271.41 398.98 L272.38 421.25 L273.35 397.59 L274.32 400.26 L275.3 405.2 L276.27 409.92 L277.24 407.34 L278.21 401.02 L279.18 372.51 L280.16 386.57 L281.13 361.99 L282.1 379.86 L283.07 386.63 L284.04 394.75 L285.02 380.37 L285.99 401 L286.96 391.35 L287.93 365.31 L288.9 412.29 L289.88 422.81 L290.85 386.09 L291.82 395.35 L292.79 417.94 L293.76 392.36 L294.74 391.41 L295.71 396.24 L296.68 398.11 L297.65 395.42 L298.62 399.6 L299.6 377.07 L300.57 382.28 L301.54 380.28 L302.51 386.56 L303.48 399.56 L304.46 388.59 L305.43 368.94 L306.4 398.42 L307.37 372.45 L308.34 404.64 L309.32 388.04 L310.29 406.54 L311.26 399.57 L312.23 394.4 L313.2 412.2 L314.18 398.51 L315.15 381.17 L316.12 403.39 L317.09 424.22 L318.06 406.8 L319.04 411.27 L320.01 401.63 L320.98 403.66 L321.95 403.59 L322.92 408.08 L323.9 381.59 L324.87 379.11 L325.84 390.58 L326.81 383.49 L327.78 394.69 L328.76 404.66 L329.73 396.42 L330.7 409.54 L331.67 434 L332.64 408.65 L333.62 414.77 L334.59 406.77 L335.56 388.7 L336.53 410.22 L337.5 377.59 L338.48 380.8 L339.45 349.99 L340.42 382.99 L341.39 395.83 L342.36 397.02 L343.34 405.08 L344.31 400.05 L345.28 374.83 L346.25 380.65 L347.22 407.72 L348.2 405.69 L349.17 405.36 L350.14 394.79 L351.11 423.84 L352.08 406.89 L353.06 410.39 L354.03 413.51 L355 416.38" fill="none" stroke="#d2d2d2" stroke-width="0.8" stroke-linejoin="round"/>
<path d="M233.5 427.75 L234.47 416.48 L235.44 407.98 L236.42 406.19 L237.39 400.31 L238.36 412.63 L239.33 415.39 L240.3 418.74 L241.28 405.67 L242.25 413.41 L243.22 405.66 L244.19 390.9 L245.16 406.33 L246.14 417.72 L247.11 404.63 L248.08 416.51 L249.05 401.11 L250.02 395.11 L251 414.57 L251.97 403.03 L252.94 412.07 L253.91 422.63 L254.88 411.46 L255.86 419.23 L256.83 416.44 L257.8 405.99 L258.77 421.04 L259.74 392.74 L260.72 398.56 L261.69 386.82 L262.66 385.6 L263.63 419.1 L264.6 415.31 L265.58 417.36 L266.55 421.75 L267.52 435.52 L268.49 400.82 L269.46 411.91 L270.44 407.26 L271.41 412.8 L272.38 416.38 L273.35 430.31 L274.32 415.36 L275.3 423.12 L276.27 411.54 L277.24 426.87 L278.21 414.65 L279.18 400.89 L280.16 392.77 L281.13 381.41 L282.1 371.25 L283.07 402.72 L284.04 387.57 L285.02 412.83 L285.99 361.82 L286.96 391.57 L287.93 421.17 L288.9 412.66 L289.88 411.04 L290.85 388.92 L291.82 425.85 L292.79 433.36 L293.76 437.73 L294.74 430.39 L295.71 414.49 L296.68 401.91 L297.65 416.65 L298.62 414.09 L299.6 423.45 L300.57 402.82 L301.54 385.81 L302.51 370.82 L303.48 403.68 L304.46 398.49 L305.43 398.69 L306.4 400.02 L307.37 393.71 L308.34 402.35 L309.32 418.9 L310.29 421 L311.26 408.1 L312.23 422.43 L313.2 411.7 L314.18 412.43 L315.15 419.09 L316.12 390.83 L317.09 417.93 L318.06 413.78 L319.04 414.2 L320.01 412 L320.98 405.29 L321.95 429.64 L322.92 403.2 L323.9 386.22 L324.87 399.05 L325.84 392.38 L326.81 413.43 L327.78 405.54 L328.76 409.91 L329.73 405.84 L330.7 424.85 L331.67 434.23 L332.64 433.12 L333.62 428.3 L334.59 407.27 L335.56 409.79 L336.53 425.3 L337.5 383.8 L338.48 405.11 L339.45 378.85 L340.42 399.74 L341.39 414.99 L342.36 411.63 L343.34 412.07 L344.31 408.48 L345.28 407.84 L346.25 426.71 L347.22 431.06 L348.2 416.71 L349.17 424.84 L350.14 430.24 L351.11 411.8 L352.08 434.89 L353.06 430.8 L354.03 417.58 L355 395.03" fill="none" stroke="#d2d2d2" stroke-width="0.8" stroke-linejoin="round"/>
<path d="M233.5 411.32 L234.47 428.72 L235.44 402.37 L236.42 418.81 L237.39 395.21 L238.36 410.74 L239.33 422.73 L240.3 432.21 L241.28 419.46 L242.25 432.98 L243.22 404.02 L244.19 412.01 L245.16 407.32 L246.14 412.74 L247.11 420.03 L248.08 417.36 L249.05 411.68 L250.02 428.51 L251 439.61 L251.97 440.2 L252.94 440.79 L253.91 412.66 L254.88 421.92 L255.86 444.37 L256.83 403.78 L257.8 420.06 L258.77 402.63 L259.74 409.06 L260.72 419.68 L261.69 423.68 L262.66 431.83 L263.63 414.71 L264.6 424.62 L265.58 432.16 L266.55 419.72 L267.52 424.69 L268.49 423.47 L269.46 379.79 L270.44 431.96 L271.41 413.31 L272.38 407.46 L273.35 434.72 L274.32 428.43 L275.3 428.6 L276.27 408.84 L277.24 394.65 L278.21 403.06 L279.18 417.11 L280.16 410.59 L281.13 415.61 L282.1 401.95 L283.07 407.65 L284.04 415.95 L285.02 429.1 L285.99 426.02 L286.96 420.23 L287.93 419.62 L288.9 422.8 L289.88 431.57 L290.85 419.35 L291.82 400.15 L292.79 433.79 L293.76 416.77 L294.74 408.98 L295.71 431.5 L296.68 427.01 L297.65 391.29 L298.62 410.5 L299.6 417.47 L300.57 407.23 L301.54 426.53 L302.51 413.55 L303.48 420.42 L304.46 401.44 L305.43 439.17 L306.4 419.47 L307.37 424.85 L308.34 415.96 L309.32 428.56 L310.29 421.46 L311.26 412.16 L312.23 406.34 L313.2 413.33 L314.18 409.97 L315.15 431.27 L316.12 418.61 L317.09 415.49 L318.06 415.49 L319.04 429.94 L320.01 424.96 L320.98 414.67 L321.95 421.07 L322.92 428.01 L323.9 410.9 L324.87 428.77 L325.84 404.84 L326.81 419 L327.78 424.28 L328.76 413.32 L329.73 415.71 L330.7 428.48 L331.67 413.57 L332.64 409.9 L333.62 422.95 L334.59 432.57 L335.56 413.04 L336.53 401.71 L337.5 418.04 L338.48 383.81 L339.45 415.05 L340.42 403.45 L341.39 429.97 L342.36 413.38 L343.34 434.74 L344.31 409.65 L345.28 423.66 L346.25 424.48 L347.22 426.81 L348.2 431.88 L349.17 412.97 L350.14 429.95 L351.11 431.25 L352.08 437.34 L353.06 403.49 L354.03 425.48 L355 432.73" fill="none" stroke="#d2d2d2" stroke-width="0.8" stroke-linejoin="round"/>
<path d="M233.5 378.31 L234.47 382.31 L235.44 391.14 L236.42 375.74 L237.39 395.85 L238.36 383.98 L239.33 339.28 L240.3 408.34 L241.28 401.24 L242.25 408.13 L243.22 396.65 L244.19 388.29 L245.16 409.43 L246.14 404.01 L247.11 391.62 L248.08 396.61 L249.05 391.06 L250.02 400.38 L251 417.89 L251.97 400.75 L252.94 386.53 L253.91 394.26 L254.88 408.34 L255.86 373.41 L256.83 373.73 L257.8 376.9 L258.77 380.59 L259.74 358.18 L260.72 388.86 L261.69 394.34 L262.66 394.14 L263.63 399.19 L264.6 380.86 L265.58 402.02 L266.55 378.33 L267.52 390.09 L268.49 407.8 L269.46 400.31 L270.44 410.08 L271.41 395.1 L272.38 379.8 L273.35 394.02 L274.32 407.26 L275.3 386.05 L276.27 380.32 L277.24 379.37 L278.21 383.9 L279.18 362.69 L280.16 400.29 L281.13 363.84 L282.1 391.52 L283.07 391.54 L284.04 390.03 L285.02 381.45 L285.99 358.92 L286.96 387.26 L287.93 387.81 L288.9 393.43 L289.88 396.76 L290.85 394.33 L291.82 399.95 L292.79 403.19 L293.76 401.21 L294.74 416.1 L295.71 412.83 L296.68 396.66 L297.65 375.31 L298.62 410.2 L299.6 350.24 L300.57 382.43 L301.54 379.95 L302.51 372.92 L303.48 377.08 L304.46 399.07 L305.43 375.35 L306.4 420.61 L307.37 382.18 L308.34 404.4 L309.32 396.74 L310.29 401 L311.26 397.5 L312.23 399.68 L313.2 410.5 L314.18 410.54 L315.15 413.1 L316.12 399.46 L317.09 412.54 L318.06 390.3 L319.04 383.86 L320.01 401.1 L320.98 370.8 L321.95 376.09 L322.92 393.03 L323.9 387.53 L324.87 391.83 L325.84 371.17 L326.81 400.78 L327.78 392.35 L328.76 414.41 L329.73 412.62 L330.7 418.29 L331.67 394.13 L332.64 405.11 L333.62 377.67 L334.59 397.21 L335.56 381.17 L336.53 383.18 L337.5 378.82 L338.48 348.61 L339.45 397.35 L340.42 378.15 L341.39 396.69 L342.36 395.81 L343.34 381.34 L344.31 395.75 L345.28 403.92 L346.25 418.05 L347.22 395.94 L348.2 394.58 L349.17 406.75 L350.14 417.1 L351.11 415.11 L352.08 410.23 L353.06 407.78 L354.03 387.84 L355 408.05" fill="none" stroke="#d2d2d2" stroke-width="0.8" stroke-linejoin="round"/>
<path d="M233.5 419.06 L234.47 388.09 L235.44 398.11 L236.42 385.37 L237.39 390.11 L238.36 373.83 L239.33 389.47 L240.3 407.17 L241.28 399.15 L242.25 409.14 L243.22 405.16 L244.19 406.37 L245.16 405.82 L246.14 382.82 L247.11 377.9 L248.08 404.42 L249.05 398.82 L250.02 391.16 L251 397.06 L251.97 405.66 L252.94 399.3 L253.91 416.69 L254.88 409.23 L255.86 409.29 L256.83 416.73 L257.8 369.74 L258.77 355.32 L259.74 389.01 L260.72 391.71 L261.69 393.25 L262.66 389.37 L263.63 372.84 L264.6 384.08 L265.58 397.56 L266.55 395.41 L267.52 398.45 L268.49 400.22 L269.46 413.76 L270.44 403.96 L271.41 413.49 L272.38 412.29 L273.35 418.06 L274.32 394.6 L275.3 404.51 L276.27 399.78 L277.24 409.38 L278.21 402.57 L279.18 392.53 L280.16 369.6 L281.13 383.19 L282.1 369.04 L283.07 394.92 L284.04 401.37 L285.02 396.38 L285.99 398.3 L286.96 404.07 L287.93 422.94 L288.9 370.09 L289.88 398.66 L290.85 397.5 L291.82 391.58 L292.79 420.42 L293.76 402.38 L294.74 402.14 L295.71 403.97 L296.68 406.19 L297.65 396.97 L298.62 375.66 L299.6 369.54 L300.57 389.15 L301.54 378.89 L302.51 386.14 L303.48 397.9 L304.46 398.59 L305.43 371.88 L306.4 393.46 L307.37 399.23 L308.34 384.25 L309.32 424.3 L310.29 404.39 L311.26 400.86 L312.23 402.8 L313.2 398.06 L314.18 408.47 L315.15 411.48 L316.12 397.86 L317.09 403.27 L318.06 388.55 L319.04 391.8 L320.01 404.84 L320.98 379.05 L321.95 394.08 L322.92 402.74 L323.9 374.35 L324.87 372.92 L325.84 373.35 L326.81 394.63 L327.78 372.3 L328.76 399.8 L329.73 400.25 L330.7 388.89 L331.67 429.94 L332.64 406.6 L333.62 423.85 L334.59 407.71 L335.56 395.32 L336.53 395.33 L337.5 392.98 L338.48 358.25 L339.45 379.66 L340.42 389.52 L341.39 373.92 L342.36 379.21 L343.34 385.84 L344.31 396.66 L345.28 414.52 L346.25 427.99 L347.22 407.98 L348.2 419.26 L349.17 406.26 L350.14 421.38 L351.11 402.89 L352.08 392.78 L353.06 413.86 L354.03 408.69 L355 405.44" fill="none" stroke="#d2d2d2" stroke-width="0.8" stroke-linejoin="round"/>
<path d="M233.5 398.86 L234.47 398.52 L235.44 407.43 L236.42 411.71 L237.39 398.28 L238.36 398.2 L239.33 394.62 L240.3 397.73 L241.28 401.89 L242.25 404.35 L243.22 425.92 L244.19 402.92 L245.16 404.29 L246.14 403.5 L247.11 390.59 L248.08 399.24 L249.05 415.68 L250.02 401.6 L251 411.67 L251.97 419.33 L252.94 420.29 L253.91 419.39 L254.88 419.31 L255.86 407.9 L256.83 393.22 L257.8 413.34 L258.77 390.96 L259.74 396.35 L260.72 398.36 L261.69 398.29 L262.66 389.65 L263.63 388.2 L264.6 394.79 L265.58 413.84 L266.55 404.8 L267.52 416.33 L268.49 414.79 L269.46 422.29 L270.44 426.26 L271.41 425.75 L272.38 423.32 L273.35 396.95 L274.32 405.03 L275.3 411.49 L276.27 416.47 L277.24 405.14 L278.21 417.13 L279.18 374.64 L280.16 412.24 L281.13 407.28 L282.1 370.9 L283.07 409.37 L284.04 380.73 L285.02 399.2 L285.99 413.45 L286.96 399.7 L287.93 392.98 L288.9 392.14 L289.88 416.56 L290.85 406.16 L291.82 419.36 L292.79 414.83 L293.76 415.89 L294.74 415.51 L295.71 418.19 L296.68 411.57 L297.65 416.16 L298.62 383.66 L299.6 398.83 L300.57 383.75 L301.54 407.18 L302.51 379.75 L303.48 375.48 L304.46 379.89 L305.43 411.08 L306.4 403.02 L307.37 402.48 L308.34 401.3 L309.32 418.79 L310.29 391.29 L311.26 408 L312.23 420.66 L313.2 413.32 L314.18 403.65 L315.15 415.33 L316.12 405.06 L317.09 412.05 L318.06 414.47 L319.04 400.84 L320.01 408.07 L320.98 395.72 L321.95 392.49 L322.92 397.13 L323.9 389.44 L324.87 400.6 L325.84 401.03 L326.81 409.99 L327.78 414.55 L328.76 411.95 L329.73 400.08 L330.7 416.75 L331.67 398.65 L332.64 425.43 L333.62 417.57 L334.59 404.41 L335.56 396.52 L336.53 391.63 L337.5 366.45 L338.48 392.32 L339.45 399.84 L340.42 387.61 L341.39 428.63 L342.36 395.81 L343.34 398.81 L344.31 398.08 L345.28 422.74 L346.25 419.66 L347.22 411.2 L348.2 417.9 L349.17 420.37 L350.14 401.49 L351.11 423.19 L352.08 400.66 L353.06 405.94 L354.03 410.25 L355 417.9" fill="none" stroke="#d2d2d2" stroke-width="0.8" stroke-linejoin="round"/>
<path d="M233.5 422.89 L234.47 412.86 L235.44 411.86 L236.42 406.65 L237.39 381.23 L238.36 396.86 L239.33 409.53 L240.3 406.12 L241.28 406.31 L242.25 404.63 L243.22 399.5 L244.19 392.47 L245.16 413.78 L246.14 409.8 L247.11 402.94 L248.08 405.5 L249.05 407.5 L250.02 409.42 L251 410.59 L251.97 404.55 L252.94 416.94 L253.91 410.58 L254.88 408.72 L255.86 417.91 L256.83 405.66 L257.8 388.51 L258.77 396.25 L259.74 392.69 L260.72 386.51 L261.69 402.59 L262.66 390.94 L263.63 387.28 L264.6 416.07 L265.58 383.99 L266.55 406.35 L267.52 418.06 L268.49 389.76 L269.46 398.5 L270.44 405.73 L271.41 407.97 L272.38 394.61 L273.35 419.03 L274.32 445.02 L275.3 417.45 L276.27 401.49 L277.24 407.74 L278.21 401.17 L279.18 383.71 L280.16 387.29 L281.13 381.57 L282.1 380.39 L283.07 400.86 L284.04 409.72 L285.02 396.98 L285.99 382.79 L286.96 397.96 L287.93 402.08 L288.9 387.79 L289.88 401.23 L290.85 429.54 L291.82 412.33 L292.79 417.97 L293.76 411.5 L294.74 427.09 L295.71 399.2 L296.68 413.06 L297.65 407.37 L298.62 388.87 L299.6 392.53 L300.57 402.18 L301.54 400.2 L302.51 385.87 L303.48 396.74 L304.46 382.18 L305.43 381.97 L306.4 402.43 L307.37 385.73 L308.34 403.62 L309.32 392.94 L310.29 411.08 L311.26 415.96 L312.23 418.44 L313.2 411.84 L314.18 409.5 L315.15 410.32 L316.12 402.63 L317.09 417.53 L318.06 396.75 L319.04 407.47 L320.01 409.09 L320.98 437.02 L321.95 380.51 L322.92 423.18 L323.9 381.34 L324.87 392.81 L325.84 377.75 L326.81 411.96 L327.78 403.17 L328.76 410.42 L329.73 398.82 L330.7 405.46 L331.67 418.07 L332.64 412.53 L333.62 381.98 L334.59 407.78 L335.56 399.38 L336.53 409.16 L337.5 377.18 L338.48 385.94 L339.45 391.5 L340.42 378.49 L341.39 412.47 L342.36 399.27 L343.34 407.6 L344.31 392.01 L345.28 414.75 L346.25 409.84 L347.22 406.37 L348.2 416.82 L349.17 410.81 L350.14 411.98 L351.11 405.82 L352.08 421.63 L353.06 424.2 L354.03 422.2 L355 410.4" fill="none" stroke="#bfbfbf" stroke-width="0.8" stroke-linejoin="round"/>
<path d="M233.5 413.41 L234.47 420.83 L235.44 401.14 L236.42 402.95 L237.39 400.15 L238.36 385.88 L239.33 377.26 L240.3 409.93 L241.28 403.19 L242.25 409.17 L243.22 350.54 L244.19 384.44 L245.16 402.99 L246.14 401.86 L247.11 407.47 L248.08 407.77 L249.05 399.27 L250.02 414.95 L251 428.5 L251.97 405.14 L252.94 412.52 L253.91 423.87 L254.88 415.86 L255.86 400.68 L256.83 408.84 L257.8 401.63 L258.77 394.95 L259.74 388.62 L260.72 394.49 L261.69 410.27 L262.66 403.25 L263.63 410.25 L264.6 416 L265.58 418.17 L266.55 397.89 L267.52 420.44 L268.49 407.59 L269.46 427.42 L270.44 414.77 L271.41 406.59 L272.38 415.25 L273.35 423.56 L274.32 410.29 L275.3 417.78 L276.27 415.33 L277.24 392.38 L278.21 405.58 L279.18 387.07 L280.16 385.76 L281.13 393.85 L282.1 379.34 L283.07 401.07 L284.04 410.17 L285.02 407.92 L285.99 410.02 L286.96 409.04 L287.93 387.88 L288.9 424.65 L289.88 427.97 L290.85 419.99 L291.82 416.15 L292.79 419.88 L293.76 421.36 L294.74 422.71 L295.71 404.8 L296.68 420.02 L297.65 405.65 L298.62 427.95 L299.6 392.12 L300.57 418.02 L301.54 409 L302.51 403.14 L303.48 372.81 L304.46 405.29 L305.43 379.92 L306.4 401.48 L307.37 427.8 L308.34 402.7 L309.32 406.57 L310.29 408.61 L311.26 413.77 L312.23 416.99 L313.2 422.96 L314.18 424.29 L315.15 413.05 L316.12 418.23 L317.09 415.07 L318.06 424.25 L319.04 421.71 L320.01 405.71 L320.98 418.38 L321.95 400.68 L322.92 394 L323.9 403.36 L324.87 405.66 L325.84 406.87 L326.81 420.88 L327.78 421.89 L328.76 412.35 L329.73 413.58 L330.7 424.55 L331.67 418.18 L332.64 422 L333.62 412.69 L334.59 415.12 L335.56 403.4 L336.53 405.6 L337.5 385.25 L338.48 418.1 L339.45 381.2 L340.42 378.76 L341.39 402.62 L342.36 401.9 L343.34 383.87 L344.31 436.23 L345.28 404.57 L346.25 416.91 L347.22 417.33 L348.2 424.06 L349.17 417.77 L350.14 421.41 L351.11 411.03 L352.08 426.28 L353.06 440.38 L354.03 426.61 L355 418.4" fill="none" stroke="#bfbfbf" stroke-width="0.8" stroke-linejoin="round"/>
<path d="M233.5 389.42 L234.47 387.55 L235.44 408.51 L236.42 406.36 L237.39 384.78 L238.36 393.94 L239.33 391.2 L240.3 380.52 L241.28 395.47 L242.25 403.91 L243.22 384 L244.19 381.88 L245.16 388.36 L246.14 406.88 L247.11 412.85 L248.08 385.89 L249.05 418.15 L250.02 412.16 L251 402.98 L251.97 396.24 L252.94 391.8 L253.91 411.7 L254.88 407.06 L255.86 395.65 L256.83 381.64 L257.8 379.6 L258.77 372.9 L259.74 402.94 L260.72 395.46 L261.69 381.76 L262.66 388.71 L263.63 400.33 L264.6 399.64 L265.58 411.23 L266.55 389.7 L267.52 403.15 L268.49 410.98 L269.46 397.16 L270.44 413.33 L271.41 414.01 L272.38 397.15 L273.35 402.28 L274.32 414.14 L275.3 414.84 L276.27 404.18 L277.24 389.97 L278.21 382.05 L279.18 384.06 L280.16 384.12 L281.13 369.93 L282.1 390.13 L283.07 410.82 L284.04 386.07 L285.02 396.74 L285.99 406.35 L286.96 402.14 L287.93 411.47 L288.9 404.72 L289.88 407.57 L290.85 418.99 L291.82 426.21 L292.79 416.1 L293.76 409.13 L294.74 412.45 L295.71 403.1 L296.68 392.91 L297.65 404.01 L298.62 384.68 L299.6 377.33 L300.57 406.22 L301.54 409.1 L302.51 384.57 L303.48 391.22 L304.46 415.03 L305.43 396.49 L306.4 377.44 L307.37 386.63 L308.34 395.2 L309.32 414.56 L310.29 414.73 L311.26 395.37 L312.23 407.58 L313.2 404.76 L314.18 416.62 L315.15 405.08 L316.12 394.99 L317.09 406.49 L318.06 411.69 L319.04 399.51 L320.01 388.15 L320.98 394.05 L321.95 371.92 L322.92 399.44 L323.9 395.44 L324.87 396.53 L325.84 377.53 L326.81 393.92 L327.78 397.29 L328.76 404.37 L329.73 423.29 L330.7 414.45 L331.67 404.52 L332.64 404.68 L333.62 416.7 L334.59 403.62 L335.56 382 L336.53 388.59 L337.5 372.24 L338.48 367.82 L339.45 408.02 L340.42 374.36 L341.39 388.93 L342.36 413.17 L343.34 407.11 L344.31 391.33 L345.28 401.89 L346.25 399.23 L347.22 417.12 L348.2 405.6 L349.17 408.14 L350.14 383.43 L351.11 396.45 L352.08 416.94 L353.06 413.61 L354.03 407.15 L355 407.31" fill="none" stroke="#bfbfbf" stroke-width="0.8" stroke-linejoin="round"/>
<path d="M233.5 409.26 L234.47 416.94 L235.44 396.4 L236.42 404.91 L237.39 371.07 L238.36 397.88 L239.33 392.56 L240.3 405.38 L241.28 402.24 L242.25 397.83 L243.22 406.73 L244.19 374.39 L245.16 398.37 L246.14 426.21 L247.11 397.24 L248.08 399.77 L249.05 394.95 L250.02 417.17 L251 409.7 L251.97 395.27 L252.94 420.41 L253.91 425.49 L254.88 402.94 L255.86 406.59 L256.83 384.81 L257.8 387.72 L258.77 400.82 L259.74 419.68 L260.72 426.99 L261.69 400.3 L262.66 391.71 L263.63 408.71 L264.6 390.62 L265.58 420.65 L266.55 400.19 L267.52 411.96 L268.49 405.89 L269.46 402.39 L270.44 414.83 L271.41 415.16 L272.38 412.5 L273.35 404.19 L274.32 407.45 L275.3 404.62 L276.27 415.99 L277.24 409.82 L278.21 401.17 L279.18 399.1 L280.16 376.75 L281.13 396.94 L282.1 380.49 L283.07 393.08 L284.04 406.52 L285.02 388.11 L285.99 403.3 L286.96 397.93 L287.93 403.86 L288.9 400.02 L289.88 401.27 L290.85 423.21 L291.82 407.24 L292.79 409.3 L293.76 412.52 L294.74 422.1 L295.71 415.51 L296.68 410.9 L297.65 414.68 L298.62 388.55 L299.6 404.35 L300.57 407.32 L301.54 400.46 L302.51 406.18 L303.48 407.44 L304.46 372.43 L305.43 408.68 L306.4 397.87 L307.37 404.12 L308.34 395.78 L309.32 413.21 L310.29 398.32 L311.26 402.21 L312.23 407.51 L313.2 397.77 L314.18 400.72 L315.15 399.59 L316.12 410.15 L317.09 392.72 L318.06 423.22 L319.04 399.46 L320.01 404.28 L320.98 416.82 L321.95 397.12 L322.92 397.09 L323.9 397.92 L324.87 392.45 L325.84 400.08 L326.81 401.07 L327.78 406.42 L328.76 408.43 L329.73 407.38 L330.7 421.37 L331.67 417.05 L332.64 417.25 L333.62 418.45 L334.59 406.74 L335.56 398.77 L336.53 395.44 L337.5 410.97 L338.48 402.57 L339.45 387.15 L340.42 395.72 L341.39 380.12 L342.36 385.16 L343.34 402.48 L344.31 388.93 L345.28 404.14 L346.25 414.27 L347.22 419.29 L348.2 409.21 L349.17 402.59 L350.14 404.18 L351.11 428.01 L352.08 408.9 L353.06 412.15 L354.03 414.52 L355 410.17" fill="none" stroke="#bfbfbf" stroke-width="0.8" stroke-linejoin="round"/>
<path d="M233.5 415.67 L234.47 412.24 L235.44 412.94 L236.42 388.34 L237.39 422.33 L238.36 405.21 L239.33 406.09 L240.3 411.91 L241.28 410.98 L242.25 411.22 L243.22 387.79 L244.19 393.83 L245.16 400.84 L246.14 410.08 L247.11 417.02 L248.08 387.73 L249.05 396.5 L250.02 408.48 L251 403.9 L251.97 411.7 L252.94 405.97 L253.91 426.84 L254.88 424.44 L255.86 407.98 L256.83 408.44 L257.8 394.7 L258.77 389.34 L259.74 391.44 L260.72 404.28 L261.69 386.63 L262.66 406.87 L263.63 416.18 L264.6 385.04 L265.58 423.9 L266.55 391.59 L267.52 409.9 L268.49 419.92 L269.46 416.46 L270.44 424.42 L271.41 413.73 L272.38 412.48 L273.35 435.67 L274.32 407.52 L275.3 414.23 L276.27 420.74 L277.24 398.81 L278.21 414.64 L279.18 402.27 L280.16 406.57 L281.13 419.14 L282.1 388.6 L283.07 388.84 L284.04 399.47 L285.02 409.9 L285.99 399.97 L286.96 411.46 L287.93 397.76 L288.9 406.76 L289.88 411.96 L290.85 411.86 L291.82 421.88 L292.79 419.44 L293.76 413.41 L294.74 401.03 L295.71 408.14 L296.68 426.77 L297.65 413.41 L298.62 416.69 L299.6 390.74 L300.57 397.69 L301.54 401.47 L302.51 403.32 L303.48 393.33 L304.46 404.01 L305.43 400.47 L306.4 409.87 L307.37 401.98 L308.34 391.96 L309.32 409.97 L310.29 418.94 L311.26 424.34 L312.23 404.05 L313.2 417.09 L314.18 396.23 L315.15 418.63 L316.12 397.18 L317.09 417.31 L318.06 396.35 L319.04 434.05 L320.01 405.41 L320.98 426.71 L321.95 406.47 L322.92 404.18 L323.9 390.64 L324.87 386.39 L325.84 400.88 L326.81 404.75 L327.78 396.9 L328.76 419.74 L329.73 403.41 L330.7 406.91 L331.67 415.84 L332.64 409.2 L333.62 411.45 L334.59 404.07 L335.56 404.95 L336.53 402.68 L337.5 400.99 L338.48 394.16 L339.45 389.68 L340.42 389.75 L341.39 412.54 L342.36 400.48 L343.34 414.38 L344.31 410.43 L345.28 394.77 L346.25 415.1 L347.22 424.29 L348.2 407.99 L349.17 421.22 L350.14 416.37 L351.11 413.71 L352.08 414.63 L353.06 415.51 L354.03 424.24 L355 424.16" fill="none" stroke="#bfbfbf" stroke-width="0.8" stroke-linejoin="round"/>
<path d="M233.5 412.14 L234.47 409.94 L235.44 409.08 L236.42 404.64 L237.39 403.65 L238.36 417.48 L239.33 408.59 L240.3 415.23 L241.28 422.34 L242.25 397.27 L243.22 402.46 L244.19 401.07 L245.16 405.08 L246.14 394.67 L247.11 400.46 L248.08 427.29 L249.05 400.63 L250.02 413.14 L251 404.59 L251.97 421.95 L252.94 408.83 L253.91 402.01 L254.88 406.91 L255.86 408.26 L256.83 420.5 L257.8 365.09 L258.77 399.94 L259.74 416.21 L260.72 397.85 L261.69 392.09 L262.66 399.48 L263.63 405.62 L264.6 406.38 L265.58 408.99 L266.55 407.01 L267.52 404.11 L268.49 410.17 L269.46 417.85 L270.44 399.8 L271.41 393.06 L272.38 410.77 L273.35 409.01 L274.32 413.78 L275.3 416.32 L276.27 398.91 L277.24 395.43 L278.21 390.21 L279.18 392.56 L280.16 375.18 L281.13 397.76 L282.1 396.65 L283.07 381.27 L284.04 407.53 L285.02 399.93 L285.99 415.08 L286.96 401.85 L287.93 406.35 L288.9 401.25 L289.88 400.73 L290.85 415.49 L291.82 411.74 L292.79 415.56 L293.76 406.34 L294.74 407 L295.71 398.91 L296.68 404.28 L297.65 403.49 L298.62 403.17 L299.6 385.53 L300.57 389.22 L301.54 391.69 L302.51 401.32 L303.48 400.23 L304.46 406.17 L305.43 410.45 L306.4 410.5 L307.37 402.96 L308.34 385.18 L309.32 400.7 L310.29 414.83 L311.26 404.43 L312.23 410.7 L313.2 409.37 L314.18 415.4 L315.15 410.95 L316.12 410.15 L317.09 401.19 L318.06 419.54 L319.04 404.01 L320.01 405.1 L320.98 430.29 L321.95 411.44 L322.92 412.82 L323.9 403.29 L324.87 374.31 L325.84 409.47 L326.81 398.01 L327.78 420.27 L328.76 393.86 L329.73 414.91 L330.7 408.81 L331.67 403.85 L332.64 406.52 L333.62 411.68 L334.59 391.28 L335.56 402.85 L336.53 372.27 L337.5 398.96 L338.48 389.14 L339.45 378.41 L340.42 400.47 L341.39 400.45 L342.36 414.84 L343.34 400.1 L344.31 397.68 L345.28 392 L346.25 411.65 L347.22 404.63 L348.2 407.24 L349.17 418.16 L350.14 404.91 L351.11 398.83 L352.08 419.19 L353.06 408.46 L354.03 423.93 L355 421.45" fill="none" stroke="#bfbfbf" stroke-width="0.8" stroke-linejoin="round"/>
<path d="M233.5 410.07 L234.47 393.37 L235.44 414.11 L236.42 399.8 L237.39 381.44 L238.36 409.07 L239.33 396.06 L240.3 405.12 L241.28 390.15 L242.25 376.31 L243.22 385.62 L244.19 409.74 L245.16 404.07 L246.14 399.75 L247.11 409.31 L248.08 392.06 L249.05 392.55 L250.02 408.86 L251 403.86 L251.97 413.38 L252.94 403.54 L253.91 403.65 L254.88 419.93 L255.86 393.39 L256.83 399.7 L257.8 409.86 L258.77 384.97 L259.74 392.7 L260.72 384.06 L261.69 396.82 L262.66 380.03 L263.63 381.16 L264.6 397.98 L265.58 398.57 L266.55 417.49 L267.52 392.87 L268.49 404.23 L269.46 412.69 L270.44 403.49 L271.41 391.15 L272.38 415.54 L273.35 405.1 L274.32 415.27 L275.3 399.93 L276.27 408.38 L277.24 399.52 L278.21 384.71 L279.18 392.62 L280.16 397.34 L281.13 390.2 L282.1 356.25 L283.07 370.77 L284.04 385.01 L285.02 408.23 L285.99 386.04 L286.96 399.69 L287.93 406.14 L288.9 421.6 L289.88 412.65 L290.85 405.61 L291.82 398.69 L292.79 418.22 L293.76 411.41 L294.74 413.96 L295.71 409.02 L296.68 407.38 L297.65 399.99 L298.62 374.08 L299.6 377.05 L300.57 402.5 L301.54 373.95 L302.51 401.81 L303.48 396.09 L304.46 377.92 L305.43 384.37 L306.4 382.24 L307.37 397.25 L308.34 403.42 L309.32 397.7 L310.29 402.57 L311.26 410.3 L312.23 408.5 L313.2 406.31 L314.18 396.47 L315.15 410.26 L316.12 428.4 L317.09 404.9 L318.06 414.29 L319.04 413.97 L320.01 394.29 L320.98 388.56 L321.95 402.68 L322.92 391.53 L323.9 387.71 L324.87 386.47 L325.84 415.45 L326.81 402.74 L327.78 406.49 L328.76 397.61 L329.73 409.52 L330.7 414.16 L331.67 416.14 L332.64 405.04 L333.62 396.69 L334.59 406.64 L335.56 404.82 L336.53 391.64 L337.5 386.67 L338.48 379.45 L339.45 387.5 L340.42 381.7 L341.39 389.29 L342.36 406.96 L343.34 398.55 L344.31 384.29 L345.28 395.53 L346.25 404.64 L347.22 402.6 L348.2 405.92 L349.17 423.51 L350.14 405.89 L351.11 416.82 L352.08 419.02 L353.06 416.7 L354.03 420.92 L355 419.89" fill="none" stroke="#bfbfbf" stroke-width="0.8" stroke-linejoin="round"/>
<path d="M233.5 417.71 L234.47 399.83 L235.44 408.98 L236.42 405.37 L237.39 412.24 L238.36 404.1 L239.33 445.02 L240.3 403.93 L241.28 408.7 L242.25 400.82 L243.22 406.11 L244.19 403.99 L245.16 403.11 L246.14 413.49 L247.11 413.17 L248.08 410.55 L249.05 411.67 L250.02 418.31 L251 409.55 L251.97 410.05 L252.94 410.9 L253.91 416.67 L254.88 414.49 L255.86 413.26 L256.83 407.35 L257.8 399.62 L258.77 408.35 L259.74 406.89 L260.72 396.99 L261.69 401.49 L262.66 393.42 L263.63 413.3 L264.6 424.69 L265.58 417.43 L266.55 404.74 L267.52 419.52 L268.49 418.8 L269.46 396.79 L270.44 404.45 L271.41 411.98 L272.38 419.37 L273.35 422.29 L274.32 411.24 L275.3 426.16 L276.27 408.7 L277.24 417.43 L278.21 408.24 L279.18 407.13 L280.16 391.55 L281.13 394.88 L282.1 410.45 L283.07 390.85 L284.04 398.4 L285.02 414.66 L285.99 388.61 L286.96 394.19 L287.93 407.2 L288.9 399.13 L289.88 400.17 L290.85 415.37 L291.82 425.22 L292.79 419.6 L293.76 421.68 L294.74 412.44 L295.71 422.76 L296.68 429.76 L297.65 408.09 L298.62 398.54 L299.6 402.34 L300.57 399.52 L301.54 401.69 L302.51 410.01 L303.48 415.96 L304.46 406.73 L305.43 426.3 L306.4 407.83 L307.37 406.92 L308.34 417.83 L309.32 427.94 L310.29 417.87 L311.26 401.29 L312.23 406.43 L313.2 417.76 L314.18 413.54 L315.15 410.7 L316.12 432.31 L317.09 414.68 L318.06 414.22 L319.04 407.33 L320.01 404.93 L320.98 396.03 L321.95 414.94 L322.92 401.9 L323.9 416.42 L324.87 395.26 L325.84 411.02 L326.81 403.19 L327.78 402.6 L328.76 404.22 L329.73 409.39 L330.7 422.94 L331.67 430.17 L332.64 414.8 L333.62 410.57 L334.59 415.59 L335.56 427.78 L336.53 415.88 L337.5 400.92 L338.48 389.89 L339.45 406.2 L340.42 400.86 L341.39 394.58 L342.36 402.99 L343.34 413.07 L344.31 412.68 L345.28 405.66 L346.25 422.55 L347.22 420.63 L348.2 417.08 L349.17 406.68 L350.14 401.38 L351.11 422.58 L352.08 402.9 L353.06 415.84 L354.03 414.98 L355 410.27" fill="none" stroke="#bfbfbf" stroke-width="0.8" stroke-linejoin="round"/>
<path d="M233.5 422.98 L234.47 390.21 L235.44 404.2 L236.42 421.41 L237.39 407.08 L238.36 411.97 L239.33 397.76 L240.3 409.1 L241.28 417.11 L242.25 407.11 L243.22 405.99 L244.19 389.5 L245.16 390.59 L246.14 394.44 L247.11 407.62 L248.08 409.3 L249.05 401.48 L250.02 419.22 L251 405.31 L251.97 412.47 L252.94 428.66 L253.91 405.14 L254.88 424.59 L255.86 406.82 L256.83 399.21 L257.8 392.16 L258.77 411.56 L259.74 398.63 L260.72 402.44 L261.69 404.64 L262.66 415.23 L263.63 419.26 L264.6 403.61 L265.58 411.29 L266.55 399.66 L267.52 416.52 L268.49 418.28 L269.46 417.87 L270.44 415.02 L271.41 411.35 L272.38 421.83 L273.35 398.46 L274.32 418.92 L275.3 426.31 L276.27 411.14 L277.24 396.34 L278.21 402.32 L279.18 410.25 L280.16 394.58 L281.13 409.86 L282.1 409.35 L283.07 390.3 L284.04 391.68 L285.02 380.5 L285.99 394.86 L286.96 402.78 L287.93 407.72 L288.9 400.38 L289.88 414.18 L290.85 402.58 L291.82 400.08 L292.79 406.48 L293.76 413.46 L294.74 411.49 L295.71 411.67 L296.68 420.53 L297.65 420.62 L298.62 411.48 L299.6 404.53 L300.57 404.7 L301.54 405.8 L302.51 385.93 L303.48 388.21 L304.46 394.94 L305.43 416.89 L306.4 399.45 L307.37 411.58 L308.34 402.56 L309.32 414.3 L310.29 407.29 L311.26 419.62 L312.23 423.04 L313.2 418.97 L314.18 399.29 L315.15 420.51 L316.12 438.25 L317.09 422.25 L318.06 419.11 L319.04 419.21 L320.01 405.94 L320.98 406.12 L321.95 404.54 L322.92 422.64 L323.9 424.19 L324.87 416.99 L325.84 405.51 L326.81 410.15 L327.78 403.07 L328.76 414.82 L329.73 432.04 L330.7 417.01 L331.67 413.51 L332.64 423.76 L333.62 417.95 L334.59 421.35 L335.56 406.89 L336.53 418.2 L337.5 400.19 L338.48 404.48 L339.45 399.55 L340.42 396.89 L341.39 393.4 L342.36 425.5 L343.34 411.82 L344.31 403.54 L345.28 404.38 L346.25 418.99 L347.22 416.88 L348.2 411.61 L349.17 423.52 L350.14 416.78 L351.11 417.57 L352.08 417.33 L353.06 410.34 L354.03 422.38 L355 409.33" fill="none" stroke="#bfbfbf" stroke-width="0.8" stroke-linejoin="round"/>
<path d="M233.5 393.39 L234.47 394.31 L235.44 382.08 L236.42 407.58 L237.39 381.16 L238.36 384.41 L239.33 398.05 L240.3 405.48 L241.28 387.63 L242.25 390.78 L243.22 369.45 L244.19 362.63 L245.16 379.14 L246.14 414.21 L247.11 391.66 L248.08 401.28 L249.05 407.29 L250.02 411.5 L251 401.31 L251.97 407.28 L252.94 404.94 L253.91 422.72 L254.88 409.71 L255.86 398.75 L256.83 386.52 L257.8 394.05 L258.77 393.77 L259.74 418.9 L260.72 396.18 L261.69 390.22 L262.66 403.82 L263.63 380.24 L264.6 386.89 L265.58 402.37 L266.55 403.01 L267.52 392.17 L268.49 404.78 L269.46 413.77 L270.44 401.5 L271.41 382.11 L272.38 420.95 L273.35 397.92 L274.32 405.51 L275.3 403.27 L276.27 396.89 L277.24 392.41 L278.21 390.23 L279.18 366.86 L280.16 404.55 L281.13 388.02 L282.1 361.29 L283.07 386.97 L284.04 388.07 L285.02 392.53 L285.99 387.64 L286.96 378.9 L287.93 379.82 L288.9 399.17 L289.88 415.85 L290.85 412.63 L291.82 403.85 L292.79 415.19 L293.76 400.02 L294.74 400.95 L295.71 403.44 L296.68 412.95 L297.65 395.36 L298.62 380.46 L299.6 402.03 L300.57 372.99 L301.54 378.5 L302.51 380.5 L303.48 396.28 L304.46 377.62 L305.43 372.95 L306.4 403.06 L307.37 399.71 L308.34 380.85 L309.32 369.01 L310.29 414.49 L311.26 414.62 L312.23 400.54 L313.2 407.81 L314.18 399.89 L315.15 402.45 L316.12 411.82 L317.09 405.24 L318.06 420.77 L319.04 406.73 L320.01 408.81 L320.98 403.89 L321.95 396.34 L322.92 372.51 L323.9 387.23 L324.87 382.22 L325.84 397 L326.81 402.44 L327.78 390.73 L328.76 403.01 L329.73 398.36 L330.7 402.46 L331.67 418.55 L332.64 406.99 L333.62 397.84 L334.59 403.7 L335.56 404.33 L336.53 371.33 L337.5 380.98 L338.48 379.01 L339.45 394.99 L340.42 392.37 L341.39 373.75 L342.36 389.63 L343.34 390.23 L344.31 376.49 L345.28 381.79 L346.25 396.57 L347.22 407.01 L348.2 389.1 L349.17 404.08 L350.14 412.23 L351.11 412.69 L352.08 408.79 L353.06 401.97 L354.03 408.76 L355 414.59" fill="none" stroke="#bfbfbf" stroke-width="0.8" stroke-linejoin="round"/>
<path d="M233.5 424.33 L234.47 421.5 L235.44 404.77 L236.42 415.69 L237.39 416.48 L238.36 401.06 L239.33 403.63 L240.3 408.86 L241.28 410.61 L242.25 401.27 L243.22 416 L244.19 408.92 L245.16 399.33 L246.14 397.68 L247.11 406.76 L248.08 411.35 L249.05 415.11 L250.02 412.14 L251 403.65 L251.97 422.71 L252.94 420.28 L253.91 413.6 L254.88 409.75 L255.86 402.61 L256.83 402.7 L257.8 403.56 L258.77 401.68 L259.74 401.24 L260.72 399.84 L261.69 413.83 L262.66 396.24 L263.63 410.32 L264.6 404.81 L265.58 418.52 L266.55 414.44 L267.52 386.11 L268.49 408.91 L269.46 397.12 L270.44 410.11 L271.41 412.94 L272.38 417.22 L273.35 402.71 L274.32 404.99 L275.3 413.99 L276.27 424.07 L277.24 400.4 L278.21 401.16 L279.18 401.73 L280.16 388.25 L281.13 390.37 L282.1 394.29 L283.07 392.52 L284.04 413.89 L285.02 411.34 L285.99 402.09 L286.96 406.78 L287.93 400.29 L288.9 405.54 L289.88 413.54 L290.85 419.32 L291.82 410.91 L292.79 419.54 L293.76 415.4 L294.74 411.45 L295.71 411.42 L296.68 407.18 L297.65 411.11 L298.62 403.49 L299.6 400.97 L300.57 416.13 L301.54 403.91 L302.51 391.33 L303.48 393.21 L304.46 420.91 L305.43 409.2 L306.4 392.78 L307.37 396.24 L308.34 403.9 L309.32 411.52 L310.29 405.25 L311.26 405.2 L312.23 425.84 L313.2 402 L314.18 409.98 L315.15 416.81 L316.12 410.81 L317.09 408.25 L318.06 423.99 L319.04 415.69 L320.01 409.19 L320.98 419.69 L321.95 392.36 L322.92 408.75 L323.9 358.45 L324.87 393.67 L325.84 404.78 L326.81 417.79 L327.78 417.33 L328.76 445.02 L329.73 411.16 L330.7 417.07 L331.67 424.29 L332.64 414.42 L333.62 423.11 L334.59 404.42 L335.56 410.6 L336.53 391.61 L337.5 370.86 L338.48 403.79 L339.45 377 L340.42 410.97 L341.39 408.18 L342.36 391.41 L343.34 401.38 L344.31 407.69 L345.28 409.63 L346.25 415.27 L347.22 406.2 L348.2 416.42 L349.17 409.97 L350.14 423.8 L351.11 408.73 L352.08 422.23 L353.06 420.66 L354.03 419.65 L355 418.21" fill="none" stroke="#bfbfbf" stroke-width="0.8" stroke-linejoin="round"/>
<path d="M233.5 399.79 L234.47 416.31 L235.44 413.65 L236.42 404.48 L237.39 394.6 L238.36 386.66 L239.33 386.35 L240.3 390.17 L241.28 400.27 L242.25 387.84 L243.22 401.4 L244.19 401.87 L245.16 394.73 L246.14 383.06 L247.11 388.59 L248.08 393.56 L249.05 404.78 L250.02 393.49 L251 402.66 L251.97 385.11 L252.94 409.67 L253.91 405.07 L254.88 415.12 L255.86 402.81 L256.83 388.68 L257.8 392.83 L258.77 392.31 L259.74 374.64 L260.72 395.29 L261.69 382.11 L262.66 395.39 L263.63 409.12 L264.6 376.95 L265.58 394.51 L266.55 389.9 L267.52 416.5 L268.49 413.94 L269.46 403.46 L270.44 405.14 L271.41 404.53 L272.38 415.38 L273.35 401.96 L274.32 410.23 L275.3 388.96 L276.27 415.55 L277.24 399.89 L278.21 403.3 L279.18 415.69 L280.16 389.19 L281.13 385.09 L282.1 385.8 L283.07 404.03 L284.04 377.03 L285.02 390.51 L285.99 406.32 L286.96 405.32 L287.93 400.56 L288.9 404.16 L289.88 392.98 L290.85 409.53 L291.82 404.1 L292.79 428.65 L293.76 419.11 L294.74 410.22 L295.71 407.66 L296.68 397.24 L297.65 403.71 L298.62 405.26 L299.6 382.39 L300.57 397.72 L301.54 381.62 L302.51 380.2 L303.48 405.07 L304.46 392.63 L305.43 386.59 L306.4 388.03 L307.37 407.77 L308.34 384.09 L309.32 391.19 L310.29 394.67 L311.26 393.02 L312.23 418.59 L313.2 414.73 L314.18 399.46 L315.15 404.07 L316.12 404.53 L317.09 412.25 L318.06 401.25 L319.04 408.97 L320.01 415.88 L320.98 394.3 L321.95 393.96 L322.92 393.33 L323.9 421.5 L324.87 399.34 L325.84 376.9 L326.81 389.39 L327.78 372.58 L328.76 407.9 L329.73 403.05 L330.7 398.74 L331.67 427.56 L332.64 403 L333.62 424.47 L334.59 402.3 L335.56 413.06 L336.53 410.45 L337.5 398.27 L338.48 379.93 L339.45 382.91 L340.42 369.35 L341.39 381.85 L342.36 387.18 L343.34 377.3 L344.31 373.2 L345.28 405.24 L346.25 401.16 L347.22 402.56 L348.2 414.25 L349.17 410.53 L350.14 404.42 L351.11 420.47 L352.08 414.92 L353.06 396.3 L354.03 419.96 L355 422.24" fill="none" stroke="#bfbfbf" stroke-width="0.8" stroke-linejoin="round"/>
<path d="M233.5 404.18 L234.47 398.1 L235.44 407.07 L236.42 407.38 L237.39 395.74 L238.36 384.79 L239.33 371.42 L240.3 402.12 L241.28 401.58 L242.25 409.74 L243.22 388.81 L244.19 388.53 L245.16 389.7 L246.14 391.53 L247.11 404.54 L248.08 401.05 L249.05 396.01 L250.02 409.11 L251 401.52 L251.97 419.67 L252.94 420.58 L253.91 419.18 L254.88 412.96 L255.86 400.59 L256.83 399.99 L257.8 383.61 L258.77 370.41 L259.74 382.46 L260.72 402.38 L261.69 378.1 L262.66 394.01 L263.63 401.37 L264.6 400.98 L265.58 387.79 L266.55 394.47 L267.52 402.33 L268.49 397.43 L269.46 387.31 L270.44 388.71 L271.41 403.28 L272.38 402.71 L273.35 410.52 L274.32 410.09 L275.3 402.73 L276.27 414.59 L277.24 390.37 L278.21 405.54 L279.18 385.29 L280.16 363.26 L281.13 399.33 L282.1 410.68 L283.07 386.21 L284.04 381.33 L285.02 391.28 L285.99 413.4 L286.96 397.51 L287.93 391.9 L288.9 407.45 L289.88 405.5 L290.85 413.33 L291.82 417.68 L292.79 411.44 L293.76 416.65 L294.74 408.1 L295.71 403.73 L296.68 402 L297.65 410.11 L298.62 401.71 L299.6 386.46 L300.57 396.35 L301.54 381.75 L302.51 384.61 L303.48 385.72 L304.46 395.59 L305.43 402.18 L306.4 402.4 L307.37 399.9 L308.34 403.9 L309.32 406.15 L310.29 392.95 L311.26 428.69 L312.23 407.92 L313.2 415.82 L314.18 398.56 L315.15 394.18 L316.12 408.39 L317.09 401.17 L318.06 407.82 L319.04 415.09 L320.01 409.78 L320.98 409.98 L321.95 389.19 L322.92 396.89 L323.9 404.46 L324.87 398.36 L325.84 398.61 L326.81 407.65 L327.78 405.3 L328.76 403.9 L329.73 390.51 L330.7 399.53 L331.67 402.39 L332.64 391.75 L333.62 417.64 L334.59 416.93 L335.56 410.45 L336.53 384.77 L337.5 393.87 L338.48 394.36 L339.45 369.23 L340.42 387.61 L341.39 399.33 L342.36 398.81 L343.34 411.24 L344.31 400.07 L345.28 386.9 L346.25 413.22 L347.22 410.59 L348.2 402.37 L349.17 410.4 L350.14 409.43 L351.11 412.59 L352.08 416.9 L353.06 411.48 L354.03 413.99 L355 422.28" fill="none" stroke="#bfbfbf" stroke-width="0.8" stroke-linejoin="round"/>
<path d="M233.5 392.47 L234.47 380.89 L235.44 397.43 L236.42 397.52 L237.39 396.65 L238.36 388 L239.33 399.74 L240.3 405.72 L241.28 393.11 L242.25 397.88 L243.22 391.53 L244.19 387.29 L245.16 396.59 L246.14 393.35 L247.11 400.73 L248.08 412.07 L249.05 408.67 L250.02 399.9 L251 406.26 L251.97 405.18 L252.94 423.12 L253.91 414.73 L254.88 410.06 L255.86 385.14 L256.83 391.22 L257.8 407.89 L258.77 414.91 L259.74 388.41 L260.72 394.01 L261.69 394.32 L262.66 400.78 L263.63 381.18 L264.6 413.8 L265.58 405.56 L266.55 411.78 L267.52 403.19 L268.49 399.62 L269.46 404.4 L270.44 408.36 L271.41 418.67 L272.38 405.46 L273.35 409.88 L274.32 404.61 L275.3 407.24 L276.27 402.54 L277.24 408.46 L278.21 407.05 L279.18 382.38 L280.16 372.59 L281.13 403.21 L282.1 390.51 L283.07 398.75 L284.04 403.21 L285.02 404.03 L285.99 402.03 L286.96 391.86 L287.93 396.16 L288.9 407.31 L289.88 421.31 L290.85 410.18 L291.82 406.98 L292.79 396.49 L293.76 413.77 L294.74 404.22 L295.71 410.72 L296.68 406.7 L297.65 374.9 L298.62 395.95 L299.6 410.65 L300.57 390.55 L301.54 388.19 L302.51 390.63 L303.48 378.17 L304.46 392.03 L305.43 406.17 L306.4 411.21 L307.37 390.98 L308.34 398.66 L309.32 397.95 L310.29 412.29 L311.26 402.34 L312.23 404.39 L313.2 414.03 L314.18 409.54 L315.15 419.48 L316.12 408.29 L317.09 408.22 L318.06 411.93 L319.04 406.01 L320.01 410.52 L320.98 377.72 L321.95 400.5 L322.92 380.35 L323.9 392.63 L324.87 393.85 L325.84 407.19 L326.81 408.85 L327.78 399.06 L328.76 395.76 L329.73 427.88 L330.7 387.95 L331.67 397.64 L332.64 396.36 L333.62 409.41 L334.59 412.09 L335.56 388.79 L336.53 408.25 L337.5 373.48 L338.48 398.63 L339.45 382.81 L340.42 371.27 L341.39 401.63 L342.36 401.58 L343.34 410.35 L344.31 409.48 L345.28 402.86 L346.25 401.54 L347.22 417.57 L348.2 406.03 L349.17 409.96 L350.14 410.87 L351.11 414.19 L352.08 409.09 L353.06 405.95 L354.03 392.99 L355 408.44" fill="none" stroke="#bfbfbf" stroke-width="0.8" stroke-linejoin="round"/>
<path d="M233.5 413.59 L234.47 396.23 L235.44 406.34 L236.42 394.35 L237.39 383.76 L238.36 400.57 L239.33 394.71 L240.3 407.93 L241.28 414.21 L242.25 403.84 L243.22 411.44 L244.19 374.24 L245.16 406.76 L246.14 403.65 L247.11 405.12 L248.08 412.61 L249.05 398.67 L250.02 395.83 L251 403.44 L251.97 411.25 L252.94 413.44 L253.91 401.68 L254.88 378.16 L255.86 415.41 L256.83 404.82 L257.8 401.86 L258.77 384.74 L259.74 395.72 L260.72 399.22 L261.69 384.79 L262.66 399.13 L263.63 408.39 L264.6 388.63 L265.58 413.77 L266.55 421.7 L267.52 405.83 L268.49 394.23 L269.46 411.68 L270.44 417.01 L271.41 400.86 L272.38 421.12 L273.35 419.81 L274.32 402.75 L275.3 409.1 L276.27 409.93 L277.24 410.9 L278.21 409.6 L279.18 415.7 L280.16 383.42 L281.13 384.01 L282.1 394.88 L283.07 411.53 L284.04 409.51 L285.02 388.79 L285.99 403.38 L286.96 397.63 L287.93 401.59 L288.9 400.77 L289.88 403.55 L290.85 413.26 L291.82 418.23 L292.79 415.83 L293.76 412.64 L294.74 403.49 L295.71 424.6 L296.68 417.01 L297.65 392.58 L298.62 375.93 L299.6 405.06 L300.57 391.08 L301.54 397.17 L302.51 398.17 L303.48 396.79 L304.46 399.27 L305.43 400.43 L306.4 390.5 L307.37 422.56 L308.34 404.43 L309.32 408.1 L310.29 411.96 L311.26 405.35 L312.23 418.97 L313.2 413.78 L314.18 398.1 L315.15 405.59 L316.12 413.84 L317.09 404.07 L318.06 407.12 L319.04 411.46 L320.01 411.95 L320.98 405.21 L321.95 392.98 L322.92 393.47 L323.9 370.94 L324.87 402.42 L325.84 365.62 L326.81 404.21 L327.78 404.94 L328.76 405.84 L329.73 404.66 L330.7 408.29 L331.67 428.78 L332.64 419.82 L333.62 408.06 L334.59 407.94 L335.56 402.55 L336.53 408.79 L337.5 387.6 L338.48 392.09 L339.45 381.38 L340.42 399.18 L341.39 386.99 L342.36 375.79 L343.34 394.88 L344.31 406.14 L345.28 397.64 L346.25 392.87 L347.22 409.18 L348.2 403.71 L349.17 406.17 L350.14 413.38 L351.11 409.75 L352.08 412.87 L353.06 415.54 L354.03 405.97 L355 422.5" fill="none" stroke="#bfbfbf" stroke-width="0.8" stroke-linejoin="round"/>
<path d="M233.5 413.06 L234.47 407.56 L235.44 377.6 L236.42 400.46 L237.39 392.33 L238.36 397.64 L239.33 404.46 L240.3 383.16 L241.28 398.97 L242.25 395.65 L243.22 386.95 L244.19 406.1 L245.16 398.07 L246.14 418.45 L247.11 388.32 L248.08 409.82 L249.05 415.81 L250.02 420.53 L251 411.86 L251.97 411.95 L252.94 413.58 L253.91 425.06 L254.88 407.11 L255.86 423.09 L256.83 399.92 L257.8 394.95 L258.77 399.22 L259.74 402 L260.72 393.86 L261.69 385.59 L262.66 397.46 L263.63 391.25 L264.6 415.31 L265.58 415.85 L266.55 396.78 L267.52 409.46 L268.49 405.97 L269.46 406.39 L270.44 405.57 L271.41 408.27 L272.38 413.82 L273.35 393.22 L274.32 424.67 L275.3 401.55 L276.27 411.64 L277.24 382.88 L278.21 378.82 L279.18 391.39 L280.16 414.13 L281.13 387.72 L282.1 391.68 L283.07 396.93 L284.04 416.73 L285.02 391.72 L285.99 389.11 L286.96 397.88 L287.93 410.93 L288.9 404.98 L289.88 399.13 L290.85 419.66 L291.82 416.85 L292.79 425.78 L293.76 406.7 L294.74 416.05 L295.71 417.37 L296.68 396.45 L297.65 406.7 L298.62 388.03 L299.6 410.46 L300.57 396.18 L301.54 392.75 L302.51 412.56 L303.48 421.87 L304.46 407.89 L305.43 400.54 L306.4 394.94 L307.37 404.57 L308.34 402.02 L309.32 403.12 L310.29 398.26 L311.26 418.83 L312.23 411.34 L313.2 419.58 L314.18 403.48 L315.15 406.12 L316.12 411.01 L317.09 416.92 L318.06 398.98 L319.04 412.76 L320.01 422.49 L320.98 398.07 L321.95 411.06 L322.92 378.35 L323.9 400.48 L324.87 386.96 L325.84 395.42 L326.81 406.03 L327.78 409.09 L328.76 408.6 L329.73 389.13 L330.7 416.4 L331.67 403.34 L332.64 414.42 L333.62 410.6 L334.59 389.03 L335.56 396.63 L336.53 400.86 L337.5 389.91 L338.48 388.25 L339.45 397.18 L340.42 381.33 L341.39 395.46 L342.36 412.85 L343.34 406.39 L344.31 407.89 L345.28 406.18 L346.25 413.99 L347.22 415.82 L348.2 416.49 L349.17 415.87 L350.14 405.84 L351.11 404.03 L352.08 422.87 L353.06 401.09 L354.03 411.25 L355 410.29" fill="none" stroke="#bfbfbf" stroke-width="0.8" stroke-linejoin="round"/>
<path d="M233.5 398.85 L234.47 408.46 L235.44 410.05 L236.42 397.1 L237.39 401.05 L238.36 384.43 L239.33 389.71 L240.3 413.54 L241.28 416.52 L242.25 411.74 L243.22 395.03 L244.19 406.84 L245.16 392.03 L246.14 395.43 L247.11 375.67 L248.08 407.55 L249.05 416.97 L250.02 394.05 L251 416.74 L251.97 413.06 L252.94 416.5 L253.91 428.3 L254.88 422.14 L255.86 415.29 L256.83 413.14 L257.8 390.72 L258.77 409.11 L259.74 376.41 L260.72 400.41 L261.69 389.15 L262.66 406.47 L263.63 391.68 L264.6 399.38 L265.58 406.64 L266.55 406.42 L267.52 411.85 L268.49 396.77 L269.46 394.58 L270.44 406.74 L271.41 414.89 L272.38 414.22 L273.35 423.24 L274.32 410.64 L275.3 404.55 L276.27 400.87 L277.24 402.87 L278.21 391.12 L279.18 374.49 L280.16 379.45 L281.13 382.03 L282.1 409.06 L283.07 385.97 L284.04 396.59 L285.02 393.21 L285.99 389.58 L286.96 392.06 L287.93 408.16 L288.9 399.14 L289.88 397.67 L290.85 416.08 L291.82 404.25 L292.79 412.03 L293.76 428.16 L294.74 408.44 L295.71 407.58 L296.68 409.66 L297.65 404.95 L298.62 402.31 L299.6 400.59 L300.57 405.36 L301.54 365.78 L302.51 389.77 L303.48 386.54 L304.46 407.01 L305.43 372.41 L306.4 421.41 L307.37 385.51 L308.34 392.63 L309.32 393 L310.29 385.09 L311.26 395.89 L312.23 415.83 L313.2 411.69 L314.18 404.91 L315.15 408.84 L316.12 416.94 L317.09 412.24 L318.06 402.33 L319.04 408.5 L320.01 407.76 L320.98 415.66 L321.95 398.03 L322.92 389.47 L323.9 382.87 L324.87 380.76 L325.84 397.67 L326.81 394.83 L327.78 405.16 L328.76 388.52 L329.73 399.34 L330.7 387.21 L331.67 423.03 L332.64 425.33 L333.62 414.83 L334.59 409.24 L335.56 383.8 L336.53 402.32 L337.5 414.64 L338.48 403.2 L339.45 406.58 L340.42 389.63 L341.39 388.25 L342.36 395.75 L343.34 401 L344.31 389.28 L345.28 387.74 L346.25 402.4 L347.22 423.14 L348.2 410.39 L349.17 409.73 L350.14 399.59 L351.11 412.15 L352.08 407.75 L353.06 422.63 L354.03 418.01 L355 422.35" fill="none" stroke="#bfbfbf" stroke-width="0.8" stroke-linejoin="round"/>
<path d="M233.5 425.36 L234.47 403.01 L235.44 376.83 L236.42 422.49 L237.39 394.77 L238.36 382.29 L239.33 394.02 L240.3 389.07 L241.28 395.11 L242.25 383.98 L243.22 391.52 L244.19 404.93 L245.16 398.52 L246.14 403.38 L247.11 397.52 L248.08 396.2 L249.05 416.99 L250.02 411.41 L251 417.91 L251.97 405.25 L252.94 416.92 L253.91 412.75 L254.88 397.88 L255.86 401.92 L256.83 395.36 L257.8 366.18 L258.77 370.28 L259.74 410.38 L260.72 400.44 L261.69 394.12 L262.66 398.04 L263.63 403.31 L264.6 409 L265.58 403.4 L266.55 405.73 L267.52 416.38 L268.49 406.1 L269.46 409.53 L270.44 411.12 L271.41 398.52 L272.38 418.94 L273.35 409.15 L274.32 412.18 L275.3 407.32 L276.27 396.01 L277.24 402.87 L278.21 391.83 L279.18 382.35 L280.16 384.14 L281.13 387.89 L282.1 396.76 L283.07 393.78 L284.04 384.92 L285.02 400.78 L285.99 392.11 L286.96 402.46 L287.93 390.05 L288.9 410.95 L289.88 389.1 L290.85 418.59 L291.82 411.18 L292.79 406.37 L293.76 409.58 L294.74 412.14 L295.71 413.2 L296.68 404.97 L297.65 404.33 L298.62 399.32 L299.6 376.44 L300.57 396.54 L301.54 391.44 L302.51 396.53 L303.48 391.56 L304.46 377.22 L305.43 383.98 L306.4 408.5 L307.37 394.88 L308.34 398.52 L309.32 403.43 L310.29 407.38 L311.26 402.46 L312.23 418.9 L313.2 399.83 L314.18 409.33 L315.15 414.55 L316.12 399.97 L317.09 421.69 L318.06 410.87 L319.04 412.06 L320.01 396.82 L320.98 407.85 L321.95 403.23 L322.92 403.31 L323.9 393.08 L324.87 397.69 L325.84 393.47 L326.81 407.18 L327.78 404.06 L328.76 395.84 L329.73 402.07 L330.7 404.65 L331.67 412.76 L332.64 427.81 L333.62 414.73 L334.59 405.88 L335.56 389.1 L336.53 393.25 L337.5 394.75 L338.48 386.7 L339.45 411.16 L340.42 401.32 L341.39 395.85 L342.36 405.76 L343.34 396.22 L344.31 405.74 L345.28 397.81 L346.25 418.06 L347.22 415.78 L348.2 421.17 L349.17 415.74 L350.14 417.5 L351.11 395.63 L352.08 408.9 L353.06 414.73 L354.03 415.47 L355 418.14" fill="none" stroke="#bfbfbf" stroke-width="0.8" stroke-linejoin="round"/>
<path d="M233.5 410.27 L233.91 408.53 L234.31 406.4 L234.72 406.57 L235.13 404.65 L235.53 399.57 L235.94 401.91 L236.34 404.14 L236.75 401.59 L237.16 398.66 L237.56 398.59 L237.97 400.23 L238.38 396.96 L238.78 397.35 L239.19 401.1 L239.6 404.6 L240 405.53 L240.41 403.42 L240.81 400.29 L241.22 403.97 L241.63 405.48 L242.03 404.85 L242.44 402.85 L242.85 400.45 L243.25 399.56 L243.66 397.27 L244.07 396.73 L244.47 400.19 L244.88 402.52 L245.28 403.46 L245.69 405.97 L246.1 404.51 L246.5 406.64 L246.91 407.79 L247.32 405.56 L247.72 403.43 L248.13 406.84 L248.54 406.35 L248.94 403.92 L249.35 405.67 L249.75 408.36 L250.16 409.86 L250.57 410.42 L250.97 412.35 L251.38 410.19 L251.79 411.79 L252.19 411.56 L252.6 411.19 L253.01 414.71 L253.41 415.34 L253.82 414.87 L254.22 412.97 L254.63 412.03 L255.04 411.14 L255.44 409.07 L255.85 409.19 L256.26 404.85 L256.66 399.4 L257.07 397.39 L257.47 397.28 L257.88 396.12 L258.29 394.62 L258.69 396.47 L259.1 398.58 L259.51 401.07 L259.91 399.71 L260.32 395.03 L260.73 398.45 L261.13 397.4 L261.54 399.82 L261.94 398.8 L262.35 397.92 L262.76 400.03 L263.16 401.16 L263.57 403.43 L263.98 402.62 L264.38 403.52 L264.79 404.8 L265.2 405.79 L265.6 408.53 L266.01 407.32 L266.41 406.69 L266.82 408.44 L267.23 409.16 L267.63 407.88 L268.04 407.65 L268.45 409.51 L268.85 410.42 L269.26 410.85 L269.67 409.85 L270.07 409.55 L270.48 413.25 L270.88 411.5 L271.29 411.76 L271.7 411.44 L272.1 411.44 L272.51 412.41 L272.92 413.26 L273.32 408.11 L273.73 410.57 L274.14 413.2 L274.54 413.96 L274.95 412.92 L275.35 411.42 L275.76 410.57 L276.17 412.72 L276.57 408.56 L276.98 406.54 L277.39 405.96 L277.79 402.3 L278.2 397.18 L278.61 394.02 L279.01 395.4 L279.42 396.29 L279.82 394.97 L280.23 393.23 L280.64 397.72 L281.04 396.24 L281.45 396.49 L281.86 396.42 L282.26 396.78 L282.67 398.54 L283.08 400.11 L283.48 399.23 L283.89 401.71 L284.29 401.28 L284.7 400.9 L285.11 403.31 L285.51 404.1 L285.92 403.65 L286.33 403.37 L286.73 402.87 L287.14 403.46 L287.55 404.88 L287.95 404.04 L288.36 404.3 L288.76 406.4 L289.17 408.61 L289.58 408.61 L289.98 407.25 L290.39 409.15 L290.8 414.03 L291.2 414.23 L291.61 413.69 L292.02 414.56 L292.42 415.93 L292.83 414.97 L293.23 416.57 L293.64 413.59 L294.05 412.63 L294.45 412.74 L294.86 412.1 L295.27 410.48 L295.67 413.34 L296.08 413.43 L296.48 410.61 L296.89 410.46 L297.3 410.92 L297.7 406.3 L298.11 407.5 L298.52 403.21 L298.92 398.34 L299.33 397.87 L299.74 399.75 L300.14 399.76 L300.55 393.91 L300.95 397.55 L301.36 397.62 L301.77 396.22 L302.17 397.31 L302.58 399.57 L302.99 396.24 L303.39 396.02 L303.8 397.61 L304.21 399.16 L304.61 400.33 L305.02 401.08 L305.42 399.82 L305.83 406.8 L306.24 404.64 L306.64 402.72 L307.05 404.27 L307.46 406.79 L307.86 403.61 L308.27 405.39 L308.68 406.3 L309.08 406.98 L309.49 407.4 L309.89 407.71 L310.3 408.85 L310.71 412.17 L311.11 412.19 L311.52 412.08 L311.93 412.06 L312.33 412.13 L312.74 413.05 L313.15 410.58 L313.55 409.82 L313.96 409.48 L314.36 409.08 L314.77 408.89 L315.18 409.83 L315.58 413.1 L315.99 413.8 L316.4 413.89 L316.8 413.28 L317.21 412.82 L317.62 414 L318.02 412.49 L318.43 411.66 L318.83 412.31 L319.24 410.68 L319.65 407.62 L320.05 407.62 L320.46 406.9 L320.87 404.86 L321.27 401.59 L321.68 401.23 L322.09 401.78 L322.49 398.26 L322.9 396.7 L323.3 400.8 L323.71 401.03 L324.12 398.84 L324.52 397.62 L324.93 399.83 L325.34 400.73 L325.74 402.12 L326.15 401.36 L326.56 401.73 L326.96 403.95 L327.37 406.78 L327.77 409.48 L328.18 410.42 L328.59 406.74 L328.99 405.84 L329.4 406.16 L329.81 407.4 L330.21 412.86 L330.62 419.7 L331.03 418.37 L331.43 415.65 L331.84 415.36 L332.24 417.1 L332.65 415.59 L333.06 411.09 L333.46 413.22 L333.87 412.56 L334.28 408.32 L334.68 403.83 L335.09 403.12 L335.49 403.19 L335.9 403.22 L336.31 400.88 L336.71 398.11 L337.12 396.86 L337.53 397 L337.93 397.19 L338.34 395.27 L338.75 395.47 L339.15 396.89 L339.56 396.75 L339.96 393.34 L340.37 399.19 L340.78 398.76 L341.18 398.63 L341.59 397.89 L342 397.93 L342.4 401.87 L342.81 401.83 L343.22 404.73 L343.62 403.78 L344.03 402.75 L344.43 403.29 L344.84 404.06 L345.25 407.4 L345.65 407.86 L346.06 410.76 L346.47 413.38 L346.87 414.83 L347.28 414.24 L347.69 411.62 L348.09 413.77 L348.5 413.37 L348.9 413.45 L349.31 414 L349.72 413.28 L350.12 413.12 L350.53 412.68 L350.94 411.75 L351.34 413.27 L351.75 414.52 L352.16 412.98 L352.56 416.15 L352.97 414.58 L353.37 415.7 L353.78 416.5 L354.19 416.32 L354.59 415.96 L355 413.52" fill="none" stroke="#e80000" stroke-width="1.35" stroke-linejoin="round"/>
</g>
<line x1="63.3" y1="343.2" x2="63.3" y2="441.1" stroke="#8a8a8a" stroke-width="1"/>
<line x1="61.3" y1="441.1" x2="63.3" y2="441.1" stroke="#8a8a8a" stroke-width="1"/>
<text x="60.3" y="442.7" font-size="6.6" text-anchor="end" fill="#333" stroke="#333" stroke-width="0.2">-0,1</text>
<line x1="61.3" y1="421.52" x2="63.3" y2="421.52" stroke="#8a8a8a" stroke-width="1"/>
<text x="60.3" y="423.12" font-size="6.6" text-anchor="end" fill="#333" stroke="#333" stroke-width="0.2">0,0</text>
<line x1="61.3" y1="401.94" x2="63.3" y2="401.94" stroke="#8a8a8a" stroke-width="1"/>
<text x="60.3" y="403.54" font-size="6.6" text-anchor="end" fill="#333" stroke="#333" stroke-width="0.2">0,1</text>
<line x1="61.3" y1="382.36" x2="63.3" y2="382.36" stroke="#8a8a8a" stroke-width="1"/>
<text x="60.3" y="383.96" font-size="6.6" text-anchor="end" fill="#333" stroke="#333" stroke-width="0.2">0,2</text>
<line x1="61.3" y1="362.78" x2="63.3" y2="362.78" stroke="#8a8a8a" stroke-width="1"/>
<text x="60.3" y="364.38" font-size="6.6" text-anchor="end" fill="#333" stroke="#333" stroke-width="0.2">0,3</text>
<line x1="61.3" y1="343.2" x2="63.3" y2="343.2" stroke="#8a8a8a" stroke-width="1"/>
<text x="60.3" y="344.8" font-size="6.6" text-anchor="end" fill="#333" stroke="#333" stroke-width="0.2">0,4</text>
<line x1="62.3" y1="431.31" x2="63.3" y2="431.31" stroke="#8a8a8a" stroke-width="0.8"/>
<line x1="62.3" y1="411.73" x2="63.3" y2="411.73" stroke="#8a8a8a" stroke-width="0.8"/>
<line x1="62.3" y1="392.15" x2="63.3" y2="392.15" stroke="#8a8a8a" stroke-width="0.8"/>
<line x1="62.3" y1="372.57" x2="63.3" y2="372.57" stroke="#8a8a8a" stroke-width="0.8"/>
<line x1="62.3" y1="352.99" x2="63.3" y2="352.99" stroke="#8a8a8a" stroke-width="0.8"/>
<line x1="63.3" y1="441.1" x2="185" y2="441.1" stroke="#8a8a8a" stroke-width="1"/>
<line x1="63.3" y1="441.1" x2="63.3" y2="443.1" stroke="#8a8a8a" stroke-width="1"/>
<text x="63.3" y="449.7" font-size="6.6" text-anchor="middle" fill="#333" stroke="#333" stroke-width="0.2">30</text>
<line x1="87.64" y1="441.1" x2="87.64" y2="443.1" stroke="#8a8a8a" stroke-width="1"/>
<text x="87.64" y="449.7" font-size="6.6" text-anchor="middle" fill="#333" stroke="#333" stroke-width="0.2">31</text>
<line x1="111.98" y1="441.1" x2="111.98" y2="443.1" stroke="#8a8a8a" stroke-width="1"/>
<text x="111.98" y="449.7" font-size="6.6" text-anchor="middle" fill="#333" stroke="#333" stroke-width="0.2">32</text>
<line x1="136.32" y1="441.1" x2="136.32" y2="443.1" stroke="#8a8a8a" stroke-width="1"/>
<text x="136.32" y="449.7" font-size="6.6" text-anchor="middle" fill="#333" stroke="#333" stroke-width="0.2">33</text>
<line x1="160.66" y1="441.1" x2="160.66" y2="443.1" stroke="#8a8a8a" stroke-width="1"/>
<text x="160.66" y="449.7" font-size="6.6" text-anchor="middle" fill="#333" stroke="#333" stroke-width="0.2">34</text>
<line x1="185" y1="441.1" x2="185" y2="443.1" stroke="#8a8a8a" stroke-width="1"/>
<text x="185" y="449.7" font-size="6.6" text-anchor="middle" fill="#333" stroke="#333" stroke-width="0.2">35</text>
<line x1="75.47" y1="441.1" x2="75.47" y2="442.3" stroke="#8a8a8a" stroke-width="0.8"/>
<line x1="99.81" y1="441.1" x2="99.81" y2="442.3" stroke="#8a8a8a" stroke-width="0.8"/>
<line x1="124.15" y1="441.1" x2="124.15" y2="442.3" stroke="#8a8a8a" stroke-width="0.8"/>
<line x1="148.49" y1="441.1" x2="148.49" y2="442.3" stroke="#8a8a8a" stroke-width="0.8"/>
<line x1="172.83" y1="441.1" x2="172.83" y2="442.3" stroke="#8a8a8a" stroke-width="0.8"/>
<text x="124.95" y="461.5" font-size="8.3" text-anchor="middle" font-weight="bold" fill="#000" stroke="#000" stroke-width="0.15">Time (s)</text>
<text x="43.3" y="390.65" font-size="8.6" font-weight="bold" text-anchor="middle" fill="#111" stroke="#111" stroke-width="0.1" transform="rotate(-90 43.3 390.65)">&#916;F/F<tspan font-size="5.8" dy="2.1">0</tspan></text>
<line x1="233.5" y1="343.2" x2="233.5" y2="441.1" stroke="#8a8a8a" stroke-width="1"/>
<line x1="231.5" y1="441.1" x2="233.5" y2="441.1" stroke="#8a8a8a" stroke-width="1"/>
<text x="230.5" y="442.7" font-size="6.6" text-anchor="end" fill="#333" stroke="#333" stroke-width="0.2">-0,1</text>
<line x1="231.5" y1="421.52" x2="233.5" y2="421.52" stroke="#8a8a8a" stroke-width="1"/>
<text x="230.5" y="423.12" font-size="6.6" text-anchor="end" fill="#333" stroke="#333" stroke-width="0.2">0,0</text>
<line x1="231.5" y1="401.94" x2="233.5" y2="401.94" stroke="#8a8a8a" stroke-width="1"/>
<text x="230.5" y="403.54" font-size="6.6" text-anchor="end" fill="#333" stroke="#333" stroke-width="0.2">0,1</text>
<line x1="231.5" y1="382.36" x2="233.5" y2="382.36" stroke="#8a8a8a" stroke-width="1"/>
<text x="230.5" y="383.96" font-size="6.6" text-anchor="end" fill="#333" stroke="#333" stroke-width="0.2">0,2</text>
<line x1="231.5" y1="362.78" x2="233.5" y2="362.78" stroke="#8a8a8a" stroke-width="1"/>
<text x="230.5" y="364.38" font-size="6.6" text-anchor="end" fill="#333" stroke="#333" stroke-width="0.2">0,3</text>
<line x1="231.5" y1="343.2" x2="233.5" y2="343.2" stroke="#8a8a8a" stroke-width="1"/>
<text x="230.5" y="344.8" font-size="6.6" text-anchor="end" fill="#333" stroke="#333" stroke-width="0.2">0,4</text>
<line x1="232.5" y1="431.31" x2="233.5" y2="431.31" stroke="#8a8a8a" stroke-width="0.8"/>
<line x1="232.5" y1="411.73" x2="233.5" y2="411.73" stroke="#8a8a8a" stroke-width="0.8"/>
<line x1="232.5" y1="392.15" x2="233.5" y2="392.15" stroke="#8a8a8a" stroke-width="0.8"/>
<line x1="232.5" y1="372.57" x2="233.5" y2="372.57" stroke="#8a8a8a" stroke-width="0.8"/>
<line x1="232.5" y1="352.99" x2="233.5" y2="352.99" stroke="#8a8a8a" stroke-width="0.8"/>
<line x1="233.5" y1="441.1" x2="355" y2="441.1" stroke="#8a8a8a" stroke-width="1"/>
<line x1="233.5" y1="441.1" x2="233.5" y2="443.1" stroke="#8a8a8a" stroke-width="1"/>
<text x="233.5" y="449.7" font-size="6.6" text-anchor="middle" fill="#333" stroke="#333" stroke-width="0.2">30</text>
<line x1="257.8" y1="441.1" x2="257.8" y2="443.1" stroke="#8a8a8a" stroke-width="1"/>
<text x="257.8" y="449.7" font-size="6.6" text-anchor="middle" fill="#333" stroke="#333" stroke-width="0.2">31</text>
<line x1="282.1" y1="441.1" x2="282.1" y2="443.1" stroke="#8a8a8a" stroke-width="1"/>
<text x="282.1" y="449.7" font-size="6.6" text-anchor="middle" fill="#333" stroke="#333" stroke-width="0.2">32</text>
<line x1="306.4" y1="441.1" x2="306.4" y2="443.1" stroke="#8a8a8a" stroke-width="1"/>
<text x="306.4" y="449.7" font-size="6.6" text-anchor="middle" fill="#333" stroke="#333" stroke-width="0.2">33</text>
<line x1="330.7" y1="441.1" x2="330.7" y2="443.1" stroke="#8a8a8a" stroke-width="1"/>
<text x="330.7" y="449.7" font-size="6.6" text-anchor="middle" fill="#333" stroke="#333" stroke-width="0.2">34</text>
<line x1="355" y1="441.1" x2="355" y2="443.1" stroke="#8a8a8a" stroke-width="1"/>
<text x="355" y="449.7" font-size="6.6" text-anchor="middle" fill="#333" stroke="#333" stroke-width="0.2">35</text>
<line x1="245.65" y1="441.1" x2="245.65" y2="442.3" stroke="#8a8a8a" stroke-width="0.8"/>
<line x1="269.95" y1="441.1" x2="269.95" y2="442.3" stroke="#8a8a8a" stroke-width="0.8"/>
<line x1="294.25" y1="441.1" x2="294.25" y2="442.3" stroke="#8a8a8a" stroke-width="0.8"/>
<line x1="318.55" y1="441.1" x2="318.55" y2="442.3" stroke="#8a8a8a" stroke-width="0.8"/>
<line x1="342.85" y1="441.1" x2="342.85" y2="442.3" stroke="#8a8a8a" stroke-width="0.8"/>
<text x="295.05" y="461.5" font-size="8.3" text-anchor="middle" font-weight="bold" fill="#000" stroke="#000" stroke-width="0.15">Time (s)</text>
<text x="213.5" y="390.65" font-size="8.6" font-weight="bold" text-anchor="middle" fill="#111" stroke="#111" stroke-width="0.1" transform="rotate(-90 213.5 390.65)">&#916;F/F<tspan font-size="5.8" dy="2.1">0</tspan></text>
<rect x="412.1" y="92.5" width="19.5" height="32.8" fill="#000"/>
<rect x="450.3" y="36.21" width="19.5" height="89.09" fill="#ff0000" stroke="#8a0000" stroke-width="0.6"/>
<line x1="403.0" y1="27.4" x2="403.0" y2="125.3" stroke="#8a8a8a" stroke-width="1"/>
<line x1="403.0" y1="125.3" x2="480.0" y2="125.3" stroke="#8a8a8a" stroke-width="1"/>
<line x1="401.0" y1="125.3" x2="403.0" y2="125.3" stroke="#8a8a8a" stroke-width="1"/>
<text x="399.5" y="126.9" font-size="6.6" text-anchor="end" fill="#333" stroke="#333" stroke-width="0.2">0</text>
<line x1="401.0" y1="105.72" x2="403.0" y2="105.72" stroke="#8a8a8a" stroke-width="1"/>
<text x="399.5" y="107.32" font-size="6.6" text-anchor="end" fill="#333" stroke="#333" stroke-width="0.2">20</text>
<line x1="401.0" y1="86.14" x2="403.0" y2="86.14" stroke="#8a8a8a" stroke-width="1"/>
<text x="399.5" y="87.74" font-size="6.6" text-anchor="end" fill="#333" stroke="#333" stroke-width="0.2">40</text>
<line x1="401.0" y1="66.56" x2="403.0" y2="66.56" stroke="#8a8a8a" stroke-width="1"/>
<text x="399.5" y="68.16" font-size="6.6" text-anchor="end" fill="#333" stroke="#333" stroke-width="0.2">60</text>
<line x1="401.0" y1="46.98" x2="403.0" y2="46.98" stroke="#8a8a8a" stroke-width="1"/>
<text x="399.5" y="48.58" font-size="6.6" text-anchor="end" fill="#333" stroke="#333" stroke-width="0.2">80</text>
<line x1="401.0" y1="27.4" x2="403.0" y2="27.4" stroke="#8a8a8a" stroke-width="1"/>
<text x="399.5" y="29" font-size="6.6" text-anchor="end" fill="#333" stroke="#333" stroke-width="0.2">100</text>
<line x1="402.0" y1="115.51" x2="403.0" y2="115.51" stroke="#8a8a8a" stroke-width="0.8"/>
<line x1="402.0" y1="95.93" x2="403.0" y2="95.93" stroke="#8a8a8a" stroke-width="0.8"/>
<line x1="402.0" y1="76.35" x2="403.0" y2="76.35" stroke="#8a8a8a" stroke-width="0.8"/>
<line x1="402.0" y1="56.77" x2="403.0" y2="56.77" stroke="#8a8a8a" stroke-width="0.8"/>
<line x1="402.0" y1="37.19" x2="403.0" y2="37.19" stroke="#8a8a8a" stroke-width="0.8"/>
<line x1="421.8" y1="125.3" x2="421.8" y2="126.8" stroke="#8a8a8a" stroke-width="1"/>
<line x1="460.0" y1="125.3" x2="460.0" y2="126.8" stroke="#8a8a8a" stroke-width="1"/>
<text x="421.8" y="134.1" font-size="6.6" text-anchor="middle" font-weight="bold" fill="#111">Neurons</text>
<text x="460" y="134.1" font-size="6.6" text-anchor="middle" font-weight="bold" fill="#111">Astrocytes</text>
<text x="385.8" y="75.35" font-size="8.6" text-anchor="middle" font-weight="bold" fill="#111" transform="rotate(-90 385.8 75.35)">Active cells (%)</text>
<rect x="412.1" y="198.95" width="19.5" height="82.95" fill="#000"/>
<rect x="450.3" y="188.42" width="19.5" height="93.48" fill="#ff0000" stroke="#8a0000" stroke-width="0.6"/>
<line x1="403.0" y1="183.5" x2="403.0" y2="281.9" stroke="#8a8a8a" stroke-width="1"/>
<line x1="403.0" y1="281.9" x2="480.0" y2="281.9" stroke="#8a8a8a" stroke-width="1"/>
<line x1="401.0" y1="281.9" x2="403.0" y2="281.9" stroke="#8a8a8a" stroke-width="1"/>
<text x="399.5" y="283.5" font-size="6.6" text-anchor="end" fill="#333" stroke="#333" stroke-width="0.2">0</text>
<line x1="401.0" y1="262.22" x2="403.0" y2="262.22" stroke="#8a8a8a" stroke-width="1"/>
<text x="399.5" y="263.82" font-size="6.6" text-anchor="end" fill="#333" stroke="#333" stroke-width="0.2">20</text>
<line x1="401.0" y1="242.54" x2="403.0" y2="242.54" stroke="#8a8a8a" stroke-width="1"/>
<text x="399.5" y="244.14" font-size="6.6" text-anchor="end" fill="#333" stroke="#333" stroke-width="0.2">40</text>
<line x1="401.0" y1="222.86" x2="403.0" y2="222.86" stroke="#8a8a8a" stroke-width="1"/>
<text x="399.5" y="224.46" font-size="6.6" text-anchor="end" fill="#333" stroke="#333" stroke-width="0.2">60</text>
<line x1="401.0" y1="203.18" x2="403.0" y2="203.18" stroke="#8a8a8a" stroke-width="1"/>
<text x="399.5" y="204.78" font-size="6.6" text-anchor="end" fill="#333" stroke="#333" stroke-width="0.2">80</text>
<line x1="401.0" y1="183.5" x2="403.0" y2="183.5" stroke="#8a8a8a" stroke-width="1"/>
<text x="399.5" y="185.1" font-size="6.6" text-anchor="end" fill="#333" stroke="#333" stroke-width="0.2">100</text>
<line x1="402.0" y1="272.06" x2="403.0" y2="272.06" stroke="#8a8a8a" stroke-width="0.8"/>
<line x1="402.0" y1="252.38" x2="403.0" y2="252.38" stroke="#8a8a8a" stroke-width="0.8"/>
<line x1="402.0" y1="232.7" x2="403.0" y2="232.7" stroke="#8a8a8a" stroke-width="0.8"/>
<line x1="402.0" y1="213.02" x2="403.0" y2="213.02" stroke="#8a8a8a" stroke-width="0.8"/>
<line x1="402.0" y1="193.34" x2="403.0" y2="193.34" stroke="#8a8a8a" stroke-width="0.8"/>
<line x1="421.8" y1="281.9" x2="421.8" y2="283.4" stroke="#8a8a8a" stroke-width="1"/>
<line x1="460.0" y1="281.9" x2="460.0" y2="283.4" stroke="#8a8a8a" stroke-width="1"/>
<text x="421.8" y="290.7" font-size="6.6" text-anchor="middle" font-weight="bold" fill="#111">Neurons</text>
<text x="460" y="290.7" font-size="6.6" text-anchor="middle" font-weight="bold" fill="#111">Astrocytes</text>
<text x="385.8" y="231.7" font-size="8.6" text-anchor="middle" font-weight="bold" fill="#111" transform="rotate(-90 385.8 231.7)">Active cells (%)</text>
<rect x="412.1" y="343.2" width="19.5" height="97.9" fill="#000"/>
<rect x="450.3" y="378.44" width="19.5" height="62.66" fill="#ff0000" stroke="#8a0000" stroke-width="0.6"/>
<line x1="403.0" y1="343.2" x2="403.0" y2="441.1" stroke="#8a8a8a" stroke-width="1"/>
<line x1="403.0" y1="441.1" x2="480.0" y2="441.1" stroke="#8a8a8a" stroke-width="1"/>
<line x1="401.0" y1="441.1" x2="403.0" y2="441.1" stroke="#8a8a8a" stroke-width="1"/>
<text x="399.5" y="442.7" font-size="6.6" text-anchor="end" fill="#333" stroke="#333" stroke-width="0.2">0</text>
<line x1="401.0" y1="421.52" x2="403.0" y2="421.52" stroke="#8a8a8a" stroke-width="1"/>
<text x="399.5" y="423.12" font-size="6.6" text-anchor="end" fill="#333" stroke="#333" stroke-width="0.2">20</text>
<line x1="401.0" y1="401.94" x2="403.0" y2="401.94" stroke="#8a8a8a" stroke-width="1"/>
<text x="399.5" y="403.54" font-size="6.6" text-anchor="end" fill="#333" stroke="#333" stroke-width="0.2">40</text>
<line x1="401.0" y1="382.36" x2="403.0" y2="382.36" stroke="#8a8a8a" stroke-width="1"/>
<text x="399.5" y="383.96" font-size="6.6" text-anchor="end" fill="#333" stroke="#333" stroke-width="0.2">60</text>
<line x1="401.0" y1="362.78" x2="403.0" y2="362.78" stroke="#8a8a8a" stroke-width="1"/>
<text x="399.5" y="364.38" font-size="6.6" text-anchor="end" fill="#333" stroke="#333" stroke-width="0.2">80</text>
<line x1="401.0" y1="343.2" x2="403.0" y2="343.2" stroke="#8a8a8a" stroke-width="1"/>
<text x="399.5" y="344.8" font-size="6.6" text-anchor="end" fill="#333" stroke="#333" stroke-width="0.2">100</text>
<line x1="402.0" y1="431.31" x2="403.0" y2="431.31" stroke="#8a8a8a" stroke-width="0.8"/>
<line x1="402.0" y1="411.73" x2="403.0" y2="411.73" stroke="#8a8a8a" stroke-width="0.8"/>
<line x1="402.0" y1="392.15" x2="403.0" y2="392.15" stroke="#8a8a8a" stroke-width="0.8"/>
<line x1="402.0" y1="372.57" x2="403.0" y2="372.57" stroke="#8a8a8a" stroke-width="0.8"/>
<line x1="402.0" y1="352.99" x2="403.0" y2="352.99" stroke="#8a8a8a" stroke-width="0.8"/>
<line x1="421.8" y1="441.1" x2="421.8" y2="442.6" stroke="#8a8a8a" stroke-width="1"/>
<line x1="460.0" y1="441.1" x2="460.0" y2="442.6" stroke="#8a8a8a" stroke-width="1"/>
<text x="421.8" y="449.9" font-size="6.6" text-anchor="middle" font-weight="bold" fill="#111">Neurons</text>
<text x="460" y="449.9" font-size="6.6" text-anchor="middle" font-weight="bold" fill="#111">Astrocytes</text>
<text x="385.8" y="391.15" font-size="8.6" text-anchor="middle" font-weight="bold" fill="#111" transform="rotate(-90 385.8 391.15)">Active cells (%)</text>
<line x1="591.0" y1="32" x2="591.0" y2="125.3" stroke="#8c8c8c" stroke-width="1" stroke-dasharray="1.2 2.8"/>
<path d="M541.44 89.15 L541.94 89.18 L542.43 89.21 L542.93 89.25 L543.43 89.29 L543.93 89.33 L544.43 89.38 L544.92 89.44 L545.42 89.51 L545.92 89.59 L546.42 89.68 L546.92 89.79 L547.41 89.91 L547.91 90.05 L548.41 90.21 L548.91 90.38 L549.41 90.57 L549.91 90.76 L550.4 90.95 L550.9 91.14 L551.4 91.33 L551.9 91.51 L552.4 91.68 L552.89 91.84 L553.39 91.97 L553.89 92.09 L554.39 92.18 L554.89 92.23 L555.38 92.26 L555.88 92.24 L556.38 92.19 L556.88 92.09 L557.38 91.95 L557.88 91.77 L558.37 91.55 L558.87 91.29 L559.37 91 L559.87 90.68 L560.37 90.34 L560.86 89.97 L561.36 89.58 L561.86 89.17 L562.36 88.74 L562.86 88.31 L563.35 87.86 L563.85 87.41 L564.35 86.95 L564.85 86.5 L565.35 86.04 L565.85 85.59 L566.34 85.14 L566.84 84.69 L567.34 84.23 L567.84 83.77 L568.34 83.31 L568.83 82.85 L569.33 82.37 L569.83 81.89 L570.33 81.4 L570.83 80.89 L571.32 80.38 L571.82 79.85 L572.32 79.3 L572.82 78.74 L573.32 78.16 L573.82 77.55 L574.31 76.93 L574.81 76.29 L575.31 75.63 L575.81 74.94 L576.31 74.23 L576.8 73.5 L577.3 72.74 L577.8 71.96 L578.3 71.15 L578.8 70.32 L579.29 69.47 L579.79 68.58 L580.29 67.67 L580.79 66.73 L581.29 65.77 L581.78 64.77 L582.28 63.75 L582.78 62.7 L583.28 61.63 L583.78 60.54 L584.28 59.46 L584.77 58.38 L585.27 57.33 L585.77 56.3 L586.27 55.31 L586.77 54.37 L587.26 53.49 L587.76 52.68 L588.26 51.94 L588.76 51.29 L589.26 50.73 L589.75 50.29 L590.25 49.96 L590.75 49.76 L591.25 49.69 L591.75 49.77 L592.25 49.98 L592.74 50.32 L593.24 50.78 L593.74 51.33 L594.24 51.99 L594.74 52.72 L595.23 53.52 L595.73 54.38 L596.23 55.29 L596.73 56.24 L597.23 57.21 L597.72 58.2 L598.22 59.18 L598.72 60.17 L599.22 61.13 L599.72 62.06 L600.22 62.96 L600.71 63.82 L601.21 64.66 L601.71 65.47 L602.21 66.25 L602.71 67.01 L603.2 67.76 L603.7 68.48 L604.2 69.2 L604.7 69.9 L605.2 70.59 L605.69 71.27 L606.19 71.96 L606.69 72.63 L607.19 73.31 L607.69 74 L608.18 74.69 L608.68 75.39 L609.18 76.09 L609.68 76.8 L610.18 77.51 L610.68 78.22 L611.17 78.93 L611.67 79.64 L612.17 80.34 L612.67 81.04 L613.17 81.74 L613.66 82.42 L614.16 83.09 L614.66 83.75 L615.16 84.4 L615.66 85.03 L616.15 85.64 L616.65 86.24 L617.15 86.81 L617.65 87.37 L618.15 87.9 L618.65 88.4 L619.14 88.88 L619.64 89.33 L620.14 89.76 L620.64 90.15 L621.14 90.51 L621.63 90.84 L622.13 91.14 L622.63 91.4 L623.13 91.63 L623.63 91.82 L624.12 91.97 L624.62 92.08 L625.12 92.15 L625.62 92.18 L626.12 92.16 L626.62 92.11 L627.11 92.03 L627.61 91.91 L628.11 91.77 L628.61 91.61 L629.11 91.42 L629.6 91.23 L630.1 91.02 L630.6 90.8 L631.1 90.58 L631.6 90.36 L632.09 90.14 L632.59 89.93 L633.09 89.73 L633.59 89.54 L634.09 89.38 L634.59 89.23 L635.08 89.1 L635.58 88.98 L636.08 88.88 L636.58 88.79 L637.08 88.72 L637.57 88.65 L638.07 88.6 L638.57 88.55 L639.07 88.51 L639.57 88.47 L640.06 88.43 L640.56 88.4" fill="none" stroke="#333333" stroke-width="0.9" stroke-linejoin="round"/>
<path d="M541.44 61.59 L541.94 61.78 L542.43 62.01 L542.93 62.32 L543.43 62.75 L543.93 63.34 L544.43 64.1 L544.92 65.06 L545.42 66.25 L545.92 67.66 L546.42 69.25 L546.92 70.95 L547.41 72.73 L547.91 74.52 L548.41 76.29 L548.91 78.02 L549.41 79.74 L549.91 81.45 L550.4 83.16 L550.9 84.88 L551.4 86.61 L551.9 88.38 L552.4 90.18 L552.89 92.02 L553.39 93.87 L553.89 95.71 L554.39 97.53 L554.89 99.31 L555.38 101.03 L555.88 102.67 L556.38 104.21 L556.88 105.64 L557.38 106.95 L557.88 108.16 L558.37 109.27 L558.87 110.31 L559.37 111.27 L559.87 112.17 L560.37 113.03 L560.86 113.84 L561.36 114.61 L561.86 115.33 L562.36 115.97 L562.86 116.54 L563.35 117.01 L563.85 117.38 L564.35 117.63 L564.85 117.76 L565.35 117.74 L565.85 117.59 L566.34 117.31 L566.84 116.92 L567.34 116.43 L567.84 115.86 L568.34 115.21 L568.83 114.5 L569.33 113.75 L569.83 112.96 L570.33 112.14 L570.83 111.28 L571.32 110.35 L571.82 109.35 L572.32 108.26 L572.82 107.06 L573.32 105.74 L573.82 104.29 L574.31 102.7 L574.81 100.97 L575.31 99.13 L575.81 97.19 L576.31 95.16 L576.8 93.07 L577.3 90.91 L577.8 88.71 L578.3 86.48 L578.8 84.22 L579.29 81.96 L579.79 79.67 L580.29 77.38 L580.79 75.08 L581.29 72.78 L581.78 70.48 L582.28 68.18 L582.78 65.89 L583.28 63.61 L583.78 61.36 L584.28 59.13 L584.77 56.94 L585.27 54.78 L585.77 52.68 L586.27 50.63 L586.77 48.64 L587.26 46.73 L587.76 44.94 L588.26 43.31 L588.76 41.85 L589.26 40.6 L589.75 39.6 L590.25 38.87 L590.75 38.46 L591.25 38.38 L591.75 38.67 L592.25 39.3 L592.74 40.25 L593.24 41.48 L593.74 42.96 L594.24 44.65 L594.74 46.52 L595.23 48.54 L595.73 50.68 L596.23 52.9 L596.73 55.18 L597.23 57.52 L597.72 59.88 L598.22 62.25 L598.72 64.61 L599.22 66.94 L599.72 69.22 L600.22 71.44 L600.71 73.63 L601.21 75.78 L601.71 77.92 L602.21 80.04 L602.71 82.17 L603.2 84.32 L603.7 86.49 L604.2 88.71 L604.7 90.95 L605.2 93.19 L605.69 95.4 L606.19 97.56 L606.69 99.62 L607.19 101.57 L607.69 103.37 L608.18 104.99 L608.68 106.42 L609.18 107.68 L609.68 108.78 L610.18 109.77 L610.68 110.66 L611.17 111.47 L611.67 112.24 L612.17 112.98 L612.67 113.72 L613.17 114.46 L613.66 115.18 L614.16 115.84 L614.66 116.44 L615.16 116.96 L615.66 117.36 L616.15 117.64 L616.65 117.77 L617.15 117.73 L617.65 117.53 L618.15 117.19 L618.65 116.73 L619.14 116.17 L619.64 115.52 L620.14 114.8 L620.64 114.03 L621.14 113.22 L621.63 112.39 L622.13 111.54 L622.63 110.64 L623.13 109.69 L623.63 108.68 L624.12 107.6 L624.62 106.43 L625.12 105.18 L625.62 103.82 L626.12 102.35 L626.62 100.8 L627.11 99.17 L627.61 97.47 L628.11 95.71 L628.61 93.91 L629.11 92.08 L629.6 90.22 L630.1 88.35 L630.6 86.47 L631.1 84.6 L631.6 82.74 L632.09 80.89 L632.59 79.06 L633.09 77.25 L633.59 75.47 L634.09 73.73 L634.59 72.03 L635.08 70.41 L635.58 68.88 L636.08 67.48 L636.58 66.21 L637.08 65.1 L637.57 64.17 L638.07 63.4 L638.57 62.78 L639.07 62.32 L639.57 62 L640.06 61.77 L640.56 61.59" fill="none" stroke="#d25a68" stroke-width="0.9" stroke-linejoin="round"/>
<path d="M541.44 89.15 L541.94 89.4 L542.43 89.65 L542.93 89.9 L543.43 90.15 L543.93 90.39 L544.43 90.63 L544.92 90.87 L545.42 91.1 L545.92 91.32 L546.42 91.54 L546.92 91.76 L547.41 91.96 L547.91 92.16 L548.41 92.35 L548.91 92.53 L549.41 92.7 L549.91 92.86 L550.4 93.01 L550.9 93.15 L551.4 93.28 L551.9 93.4 L552.4 93.5 L552.89 93.59 L553.39 93.67 L553.89 93.73 L554.39 93.78 L554.89 93.82 L555.38 93.84 L555.88 93.84 L556.38 93.83 L556.88 93.8 L557.38 93.76 L557.88 93.7 L558.37 93.62 L558.87 93.54 L559.37 93.44 L559.87 93.33 L560.37 93.2 L560.86 93.07 L561.36 92.93 L561.86 92.79 L562.36 92.63 L562.86 92.47 L563.35 92.31 L563.85 92.14 L564.35 91.97 L564.85 91.79 L565.35 91.62 L565.85 91.44 L566.34 91.26 L566.84 91.08 L567.34 90.89 L567.84 90.69 L568.34 90.49 L568.83 90.28 L569.33 90.07 L569.83 89.84 L570.33 89.6 L570.83 89.36 L571.32 89.09 L571.82 88.82 L572.32 88.53 L572.82 88.22 L573.32 87.9 L573.82 87.56 L574.31 87.2 L574.81 86.82 L575.31 86.42 L575.81 85.99 L576.31 85.55 L576.8 85.07 L577.3 84.57 L577.8 84.04 L578.3 83.48 L578.8 82.89 L579.29 82.26 L579.79 81.6 L580.29 80.91 L580.79 80.18 L581.29 79.41 L581.78 78.6 L582.28 77.75 L582.78 76.86 L583.28 75.93 L583.78 74.98 L584.28 74.02 L584.77 73.04 L585.27 72.07 L585.77 71.11 L586.27 70.17 L586.77 69.25 L587.26 68.37 L587.76 67.54 L588.26 66.76 L588.76 66.04 L589.26 65.4 L589.75 64.84 L590.25 64.36 L590.75 63.99 L591.25 63.72 L591.75 63.57 L592.25 63.53 L592.74 63.59 L593.24 63.75 L593.74 64 L594.24 64.34 L594.74 64.75 L595.23 65.23 L595.73 65.78 L596.23 66.38 L596.73 67.04 L597.23 67.74 L597.72 68.47 L598.22 69.24 L598.72 70.02 L599.22 70.83 L599.72 71.64 L600.22 72.47 L600.71 73.29 L601.21 74.12 L601.71 74.95 L602.21 75.78 L602.71 76.62 L603.2 77.45 L603.7 78.27 L604.2 79.1 L604.7 79.92 L605.2 80.73 L605.69 81.53 L606.19 82.33 L606.69 83.11 L607.19 83.89 L607.69 84.65 L608.18 85.39 L608.68 86.12 L609.18 86.84 L609.68 87.54 L610.18 88.23 L610.68 88.9 L611.17 89.56 L611.67 90.21 L612.17 90.84 L612.67 91.45 L613.17 92.06 L613.66 92.64 L614.16 93.22 L614.66 93.78 L615.16 94.33 L615.66 94.86 L616.15 95.38 L616.65 95.89 L617.15 96.38 L617.65 96.86 L618.15 97.32 L618.65 97.76 L619.14 98.18 L619.64 98.58 L620.14 98.95 L620.64 99.29 L621.14 99.6 L621.63 99.88 L622.13 100.13 L622.63 100.34 L623.13 100.51 L623.63 100.64 L624.12 100.73 L624.62 100.77 L625.12 100.76 L625.62 100.71 L626.12 100.61 L626.62 100.46 L627.11 100.28 L627.61 100.06 L628.11 99.81 L628.61 99.53 L629.11 99.23 L629.6 98.9 L630.1 98.57 L630.6 98.22 L631.1 97.86 L631.6 97.5 L632.09 97.14 L632.59 96.78 L633.09 96.44 L633.59 96.1 L634.09 95.78 L634.59 95.48 L635.08 95.2 L635.58 94.93 L636.08 94.67 L636.58 94.43 L637.08 94.2 L637.57 93.98 L638.07 93.76 L638.57 93.55 L639.07 93.35 L639.57 93.16 L640.06 92.96 L640.56 92.77" fill="none" stroke="#5252c8" stroke-width="0.9" stroke-linejoin="round"/>
<line x1="529.5" y1="27.4" x2="529.5" y2="125.3" stroke="#8a8a8a" stroke-width="1"/>
<line x1="529.5" y1="125.3" x2="652.0" y2="125.3" stroke="#8a8a8a" stroke-width="1"/>
<line x1="527.5" y1="117.77" x2="529.5" y2="117.77" stroke="#8a8a8a" stroke-width="1"/>
<text x="526.5" y="119.37" font-size="6.6" text-anchor="end" fill="#333" stroke="#333" stroke-width="0.2">0,0</text>
<line x1="527.5" y1="102.71" x2="529.5" y2="102.71" stroke="#8a8a8a" stroke-width="1"/>
<text x="526.5" y="104.31" font-size="6.6" text-anchor="end" fill="#333" stroke="#333" stroke-width="0.2">0,1</text>
<line x1="527.5" y1="87.65" x2="529.5" y2="87.65" stroke="#8a8a8a" stroke-width="1"/>
<text x="526.5" y="89.25" font-size="6.6" text-anchor="end" fill="#333" stroke="#333" stroke-width="0.2">0,2</text>
<line x1="527.5" y1="72.58" x2="529.5" y2="72.58" stroke="#8a8a8a" stroke-width="1"/>
<text x="526.5" y="74.18" font-size="6.6" text-anchor="end" fill="#333" stroke="#333" stroke-width="0.2">0,3</text>
<line x1="527.5" y1="57.52" x2="529.5" y2="57.52" stroke="#8a8a8a" stroke-width="1"/>
<text x="526.5" y="59.12" font-size="6.6" text-anchor="end" fill="#333" stroke="#333" stroke-width="0.2">0,4</text>
<line x1="527.5" y1="42.46" x2="529.5" y2="42.46" stroke="#8a8a8a" stroke-width="1"/>
<text x="526.5" y="44.06" font-size="6.6" text-anchor="end" fill="#333" stroke="#333" stroke-width="0.2">0,5</text>
<line x1="527.5" y1="27.4" x2="529.5" y2="27.4" stroke="#8a8a8a" stroke-width="1"/>
<text x="526.5" y="29" font-size="6.6" text-anchor="end" fill="#333" stroke="#333" stroke-width="0.2">0,6</text>
<line x1="528.5" y1="110.24" x2="529.5" y2="110.24" stroke="#8a8a8a" stroke-width="0.8"/>
<line x1="528.5" y1="95.18" x2="529.5" y2="95.18" stroke="#8a8a8a" stroke-width="0.8"/>
<line x1="528.5" y1="80.12" x2="529.5" y2="80.12" stroke="#8a8a8a" stroke-width="0.8"/>
<line x1="528.5" y1="65.05" x2="529.5" y2="65.05" stroke="#8a8a8a" stroke-width="0.8"/>
<line x1="528.5" y1="49.99" x2="529.5" y2="49.99" stroke="#8a8a8a" stroke-width="0.8"/>
<line x1="528.5" y1="34.93" x2="529.5" y2="34.93" stroke="#8a8a8a" stroke-width="0.8"/>
<line x1="530" y1="125.3" x2="530" y2="127.3" stroke="#8a8a8a" stroke-width="1"/>
<text x="530" y="134.1" font-size="6.6" text-anchor="middle" fill="#333" stroke="#333" stroke-width="0.2">-800</text>
<line x1="545.25" y1="125.3" x2="545.25" y2="127.3" stroke="#8a8a8a" stroke-width="1"/>
<text x="545.25" y="134.1" font-size="6.6" text-anchor="middle" fill="#333" stroke="#333" stroke-width="0.2">-600</text>
<line x1="560.5" y1="125.3" x2="560.5" y2="127.3" stroke="#8a8a8a" stroke-width="1"/>
<text x="560.5" y="134.1" font-size="6.6" text-anchor="middle" fill="#333" stroke="#333" stroke-width="0.2">-400</text>
<line x1="575.75" y1="125.3" x2="575.75" y2="127.3" stroke="#8a8a8a" stroke-width="1"/>
<text x="575.75" y="134.1" font-size="6.6" text-anchor="middle" fill="#333" stroke="#333" stroke-width="0.2">-200</text>
<line x1="591" y1="125.3" x2="591" y2="127.3" stroke="#8a8a8a" stroke-width="1"/>
<text x="591" y="134.1" font-size="6.6" text-anchor="middle" fill="#333" stroke="#333" stroke-width="0.2">0</text>
<line x1="606.25" y1="125.3" x2="606.25" y2="127.3" stroke="#8a8a8a" stroke-width="1"/>
<text x="606.25" y="134.1" font-size="6.6" text-anchor="middle" fill="#333" stroke="#333" stroke-width="0.2">200</text>
<line x1="621.5" y1="125.3" x2="621.5" y2="127.3" stroke="#8a8a8a" stroke-width="1"/>
<text x="621.5" y="134.1" font-size="6.6" text-anchor="middle" fill="#333" stroke="#333" stroke-width="0.2">400</text>
<line x1="636.75" y1="125.3" x2="636.75" y2="127.3" stroke="#8a8a8a" stroke-width="1"/>
<text x="636.75" y="134.1" font-size="6.6" text-anchor="middle" fill="#333" stroke="#333" stroke-width="0.2">600</text>
<line x1="652" y1="125.3" x2="652" y2="127.3" stroke="#8a8a8a" stroke-width="1"/>
<text x="652" y="134.1" font-size="6.6" text-anchor="middle" fill="#333" stroke="#333" stroke-width="0.2">800</text>
<line x1="537.62" y1="125.3" x2="537.62" y2="126.5" stroke="#8a8a8a" stroke-width="0.8"/>
<line x1="552.88" y1="125.3" x2="552.88" y2="126.5" stroke="#8a8a8a" stroke-width="0.8"/>
<line x1="568.12" y1="125.3" x2="568.12" y2="126.5" stroke="#8a8a8a" stroke-width="0.8"/>
<line x1="583.38" y1="125.3" x2="583.38" y2="126.5" stroke="#8a8a8a" stroke-width="0.8"/>
<line x1="598.62" y1="125.3" x2="598.62" y2="126.5" stroke="#8a8a8a" stroke-width="0.8"/>
<line x1="613.88" y1="125.3" x2="613.88" y2="126.5" stroke="#8a8a8a" stroke-width="0.8"/>
<line x1="629.12" y1="125.3" x2="629.12" y2="126.5" stroke="#8a8a8a" stroke-width="0.8"/>
<line x1="644.38" y1="125.3" x2="644.38" y2="126.5" stroke="#8a8a8a" stroke-width="0.8"/>
<text x="591.2" y="145.5" font-size="8.4" text-anchor="middle" font-weight="bold" fill="#111">Time lag (ms)</text>
<text x="509.8" y="76.35" font-size="8.45" text-anchor="middle" font-weight="bold" fill="#111" transform="rotate(-90 509.8 76.35)">Cross-correlation r-value</text>
<line x1="602.3" y1="18.7" x2="616" y2="18.7" stroke="#333333" stroke-width="1"/>
<text x="618" y="21.1" font-size="6.6" text-anchor="start" fill="#222">Neuron/neuron</text>
<line x1="602.3" y1="26.5" x2="616" y2="26.5" stroke="#d25a68" stroke-width="1"/>
<text x="618" y="28.9" font-size="6.6" text-anchor="start" fill="#222">Astrocyte/astrocyte</text>
<line x1="602.3" y1="34.3" x2="616" y2="34.3" stroke="#5252c8" stroke-width="1"/>
<text x="618" y="36.7" font-size="6.6" text-anchor="start" fill="#222">Astrocyte/neuron</text>
<line x1="591.0" y1="188.1" x2="591.0" y2="281.9" stroke="#8c8c8c" stroke-width="1" stroke-dasharray="1.2 2.8"/>
<path d="M541.44 218.47 L541.94 219.72 L542.43 220.96 L542.93 222.21 L543.43 223.46 L543.93 224.72 L544.43 225.98 L544.92 227.24 L545.42 228.51 L545.92 229.78 L546.42 231.06 L546.92 232.35 L547.41 233.65 L547.91 234.96 L548.41 236.27 L548.91 237.59 L549.41 238.92 L549.91 240.24 L550.4 241.56 L550.9 242.88 L551.4 244.18 L551.9 245.47 L552.4 246.74 L552.89 247.99 L553.39 249.22 L553.89 250.41 L554.39 251.58 L554.89 252.71 L555.38 253.81 L555.88 254.86 L556.38 255.86 L556.88 256.82 L557.38 257.73 L557.88 258.58 L558.37 259.38 L558.87 260.12 L559.37 260.81 L559.87 261.43 L560.37 261.99 L560.86 262.49 L561.36 262.92 L561.86 263.29 L562.36 263.58 L562.86 263.81 L563.35 263.96 L563.85 264.03 L564.35 264.03 L564.85 263.95 L565.35 263.8 L565.85 263.56 L566.34 263.25 L566.84 262.87 L567.34 262.4 L567.84 261.87 L568.34 261.25 L568.83 260.57 L569.33 259.81 L569.83 258.97 L570.33 258.07 L570.83 257.09 L571.32 256.04 L571.82 254.93 L572.32 253.74 L572.82 252.48 L573.32 251.15 L573.82 249.76 L574.31 248.29 L574.81 246.77 L575.31 245.18 L575.81 243.53 L576.31 241.84 L576.8 240.09 L577.3 238.29 L577.8 236.45 L578.3 234.56 L578.8 232.64 L579.29 230.69 L579.79 228.7 L580.29 226.69 L580.79 224.65 L581.29 222.59 L581.78 220.51 L582.28 218.42 L582.78 216.32 L583.28 214.22 L583.78 212.14 L584.28 210.09 L584.77 208.09 L585.27 206.15 L585.77 204.3 L586.27 202.53 L586.77 200.87 L587.26 199.34 L587.76 197.95 L588.26 196.7 L588.76 195.63 L589.26 194.74 L589.75 194.05 L590.25 193.58 L590.75 193.33 L591.25 193.32 L591.75 193.58 L592.25 194.07 L592.74 194.8 L593.24 195.74 L593.74 196.87 L594.24 198.17 L594.74 199.64 L595.23 201.26 L595.73 202.99 L596.23 204.84 L596.73 206.78 L597.23 208.8 L597.72 210.87 L598.22 212.98 L598.72 215.12 L599.22 217.27 L599.72 219.4 L600.22 221.52 L600.71 223.61 L601.21 225.68 L601.71 227.72 L602.21 229.73 L602.71 231.7 L603.2 233.64 L603.7 235.54 L604.2 237.4 L604.7 239.21 L605.2 240.97 L605.69 242.69 L606.19 244.35 L606.69 245.95 L607.19 247.5 L607.69 248.98 L608.18 250.4 L608.68 251.76 L609.18 253.04 L609.68 254.26 L610.18 255.41 L610.68 256.49 L611.17 257.51 L611.67 258.45 L612.17 259.32 L612.67 260.12 L613.17 260.84 L613.66 261.5 L614.16 262.08 L614.66 262.59 L615.16 263.02 L615.66 263.37 L616.15 263.65 L616.65 263.86 L617.15 263.99 L617.65 264.04 L618.15 264.01 L618.65 263.9 L619.14 263.72 L619.64 263.47 L620.14 263.15 L620.64 262.76 L621.14 262.3 L621.63 261.78 L622.13 261.2 L622.63 260.56 L623.13 259.86 L623.63 259.11 L624.12 258.3 L624.62 257.44 L625.12 256.53 L625.62 255.57 L626.12 254.57 L626.62 253.53 L627.11 252.44 L627.61 251.33 L628.11 250.18 L628.61 249 L629.11 247.79 L629.6 246.56 L630.1 245.31 L630.6 244.05 L631.1 242.77 L631.6 241.48 L632.09 240.18 L632.59 238.87 L633.09 237.56 L633.59 236.26 L634.09 234.96 L634.59 233.66 L635.08 232.37 L635.58 231.09 L636.08 229.81 L636.58 228.54 L637.08 227.27 L637.57 226.01 L638.07 224.75 L638.57 223.49 L639.07 222.23 L639.57 220.98 L640.06 219.72 L640.56 218.47" fill="none" stroke="#333333" stroke-width="0.9" stroke-linejoin="round"/>
<path d="M541.44 227.1 L541.94 227.96 L542.43 228.82 L542.93 229.68 L543.43 230.55 L543.93 231.43 L544.43 232.32 L544.92 233.21 L545.42 234.12 L545.92 235.04 L546.42 235.98 L546.92 236.93 L547.41 237.9 L547.91 238.9 L548.41 239.91 L548.91 240.94 L549.41 242 L549.91 243.06 L550.4 244.14 L550.9 245.23 L551.4 246.32 L551.9 247.42 L552.4 248.52 L552.89 249.62 L553.39 250.71 L553.89 251.8 L554.39 252.88 L554.89 253.95 L555.38 255.01 L555.88 256.04 L556.38 257.06 L556.88 258.06 L557.38 259.04 L557.88 259.98 L558.37 260.89 L558.87 261.76 L559.37 262.58 L559.87 263.36 L560.37 264.09 L560.86 264.76 L561.36 265.37 L561.86 265.92 L562.36 266.4 L562.86 266.8 L563.35 267.13 L563.85 267.37 L564.35 267.53 L564.85 267.59 L565.35 267.57 L565.85 267.47 L566.34 267.28 L566.84 267 L567.34 266.65 L567.84 266.22 L568.34 265.72 L568.83 265.14 L569.33 264.49 L569.83 263.78 L570.33 263 L570.83 262.15 L571.32 261.25 L571.82 260.28 L572.32 259.26 L572.82 258.18 L573.32 257.05 L573.82 255.87 L574.31 254.64 L574.81 253.36 L575.31 252.04 L575.81 250.67 L576.31 249.26 L576.8 247.81 L577.3 246.32 L577.8 244.79 L578.3 243.22 L578.8 241.61 L579.29 239.97 L579.79 238.3 L580.29 236.59 L580.79 234.85 L581.29 233.08 L581.78 231.28 L582.28 229.46 L582.78 227.61 L583.28 225.75 L583.78 223.9 L584.28 222.06 L584.77 220.25 L585.27 218.5 L585.77 216.8 L586.27 215.19 L586.77 213.67 L587.26 212.25 L587.76 210.96 L588.26 209.81 L588.76 208.82 L589.26 207.99 L589.75 207.34 L590.25 206.89 L590.75 206.65 L591.25 206.65 L591.75 206.88 L592.25 207.34 L592.74 208.02 L593.24 208.89 L593.74 209.94 L594.24 211.15 L594.74 212.51 L595.23 213.99 L595.73 215.59 L596.23 217.28 L596.73 219.05 L597.23 220.87 L597.72 222.74 L598.22 224.64 L598.72 226.55 L599.22 228.44 L599.72 230.32 L600.22 232.16 L600.71 233.97 L601.21 235.74 L601.71 237.47 L602.21 239.17 L602.71 240.83 L603.2 242.46 L603.7 244.04 L604.2 245.59 L604.7 247.09 L605.2 248.55 L605.69 249.97 L606.19 251.35 L606.69 252.68 L607.19 253.97 L607.69 255.22 L608.18 256.41 L608.68 257.56 L609.18 258.66 L609.68 259.71 L610.18 260.7 L610.68 261.64 L611.17 262.52 L611.67 263.33 L612.17 264.09 L612.67 264.78 L613.17 265.39 L613.66 265.94 L614.16 266.42 L614.66 266.82 L615.16 267.15 L615.66 267.39 L616.15 267.55 L616.65 267.63 L617.15 267.63 L617.65 267.53 L618.15 267.34 L618.65 267.07 L619.14 266.71 L619.64 266.28 L620.14 265.78 L620.64 265.2 L621.14 264.57 L621.63 263.87 L622.13 263.12 L622.63 262.32 L623.13 261.48 L623.63 260.6 L624.12 259.68 L624.62 258.73 L625.12 257.76 L625.62 256.76 L626.12 255.75 L626.62 254.72 L627.11 253.68 L627.61 252.62 L628.11 251.56 L628.61 250.49 L629.11 249.42 L629.6 248.34 L630.1 247.26 L630.6 246.19 L631.1 245.11 L631.6 244.05 L632.09 242.99 L632.59 241.95 L633.09 240.91 L633.59 239.9 L634.09 238.9 L634.59 237.91 L635.08 236.95 L635.58 236 L636.08 235.07 L636.58 234.15 L637.08 233.24 L637.57 232.34 L638.07 231.46 L638.57 230.58 L639.07 229.7 L639.57 228.83 L640.06 227.96 L640.56 227.1" fill="none" stroke="#d25a68" stroke-width="0.9" stroke-linejoin="round"/>
<path d="M541.44 213.78 L541.94 215.02 L542.43 216.27 L542.93 217.51 L543.43 218.77 L543.93 220.02 L544.43 221.29 L544.92 222.56 L545.42 223.84 L545.92 225.13 L546.42 226.43 L546.92 227.74 L547.41 229.07 L547.91 230.41 L548.41 231.77 L548.91 233.15 L549.41 234.53 L549.91 235.93 L550.4 237.33 L550.9 238.73 L551.4 240.14 L551.9 241.54 L552.4 242.94 L552.89 244.33 L553.39 245.71 L553.89 247.08 L554.39 248.44 L554.89 249.77 L555.38 251.09 L555.88 252.39 L556.38 253.66 L556.88 254.9 L557.38 256.11 L557.88 257.28 L558.37 258.41 L558.87 259.49 L559.37 260.52 L559.87 261.48 L560.37 262.38 L560.86 263.21 L561.36 263.97 L561.86 264.65 L562.36 265.24 L562.86 265.73 L563.35 266.13 L563.85 266.43 L564.35 266.62 L564.85 266.7 L565.35 266.67 L565.85 266.53 L566.34 266.28 L566.84 265.93 L567.34 265.48 L567.84 264.94 L568.34 264.29 L568.83 263.56 L569.33 262.73 L569.83 261.81 L570.33 260.8 L570.83 259.71 L571.32 258.54 L571.82 257.29 L572.32 255.96 L572.82 254.56 L573.32 253.08 L573.82 251.54 L574.31 249.92 L574.81 248.24 L575.31 246.5 L575.81 244.71 L576.31 242.85 L576.8 240.95 L577.3 239 L577.8 237.01 L578.3 234.98 L578.8 232.91 L579.29 230.81 L579.79 228.67 L580.29 226.51 L580.79 224.33 L581.29 222.12 L581.78 219.9 L582.28 217.67 L582.78 215.43 L583.28 213.2 L583.78 210.98 L584.28 208.8 L584.77 206.68 L585.27 204.63 L585.77 202.65 L586.27 200.78 L586.77 199.03 L587.26 197.41 L587.76 195.93 L588.26 194.62 L588.76 193.48 L589.26 192.54 L589.75 191.82 L590.25 191.31 L590.75 191.05 L591.25 191.05 L591.75 191.32 L592.25 191.85 L592.74 192.62 L593.24 193.61 L593.74 194.81 L594.24 196.19 L594.74 197.75 L595.23 199.46 L595.73 201.3 L596.23 203.26 L596.73 205.31 L597.23 207.45 L597.72 209.65 L598.22 211.89 L598.72 214.16 L599.22 216.44 L599.72 218.71 L600.22 220.97 L600.71 223.19 L601.21 225.4 L601.71 227.58 L602.21 229.73 L602.71 231.84 L603.2 233.92 L603.7 235.97 L604.2 237.97 L604.7 239.93 L605.2 241.85 L605.69 243.72 L606.19 245.54 L606.69 247.3 L607.19 249.01 L607.69 250.66 L608.18 252.26 L608.68 253.78 L609.18 255.25 L609.68 256.64 L610.18 257.96 L610.68 259.2 L611.17 260.37 L611.67 261.46 L612.17 262.46 L612.67 263.37 L613.17 264.2 L613.66 264.93 L614.16 265.56 L614.66 266.1 L615.16 266.54 L615.66 266.87 L616.15 267.09 L616.65 267.2 L617.15 267.2 L617.65 267.08 L618.15 266.84 L618.65 266.49 L619.14 266.03 L619.64 265.47 L620.14 264.82 L620.64 264.08 L621.14 263.25 L621.63 262.36 L622.13 261.39 L622.63 260.36 L623.13 259.28 L623.63 258.15 L624.12 256.97 L624.62 255.77 L625.12 254.53 L625.62 253.27 L626.12 251.99 L626.62 250.69 L627.11 249.38 L627.61 248.05 L628.11 246.72 L628.61 245.37 L629.11 244.01 L629.6 242.65 L630.1 241.29 L630.6 239.92 L631.1 238.55 L631.6 237.18 L632.09 235.81 L632.59 234.45 L633.09 233.1 L633.59 231.75 L634.09 230.41 L634.59 229.09 L635.08 227.77 L635.58 226.47 L636.08 225.18 L636.58 223.89 L637.08 222.61 L637.57 221.33 L638.07 220.07 L638.57 218.8 L639.07 217.54 L639.57 216.29 L640.06 215.03 L640.56 213.78" fill="none" stroke="#5252c8" stroke-width="0.9" stroke-linejoin="round"/>
<line x1="529.5" y1="183.5" x2="529.5" y2="281.9" stroke="#8a8a8a" stroke-width="1"/>
<line x1="529.5" y1="281.9" x2="652.0" y2="281.9" stroke="#8a8a8a" stroke-width="1"/>
<line x1="527.5" y1="274.33" x2="529.5" y2="274.33" stroke="#8a8a8a" stroke-width="1"/>
<text x="526.5" y="275.93" font-size="6.6" text-anchor="end" fill="#333" stroke="#333" stroke-width="0.2">0,0</text>
<line x1="527.5" y1="259.19" x2="529.5" y2="259.19" stroke="#8a8a8a" stroke-width="1"/>
<text x="526.5" y="260.79" font-size="6.6" text-anchor="end" fill="#333" stroke="#333" stroke-width="0.2">0,1</text>
<line x1="527.5" y1="244.05" x2="529.5" y2="244.05" stroke="#8a8a8a" stroke-width="1"/>
<text x="526.5" y="245.65" font-size="6.6" text-anchor="end" fill="#333" stroke="#333" stroke-width="0.2">0,2</text>
<line x1="527.5" y1="228.92" x2="529.5" y2="228.92" stroke="#8a8a8a" stroke-width="1"/>
<text x="526.5" y="230.52" font-size="6.6" text-anchor="end" fill="#333" stroke="#333" stroke-width="0.2">0,3</text>
<line x1="527.5" y1="213.78" x2="529.5" y2="213.78" stroke="#8a8a8a" stroke-width="1"/>
<text x="526.5" y="215.38" font-size="6.6" text-anchor="end" fill="#333" stroke="#333" stroke-width="0.2">0,4</text>
<line x1="527.5" y1="198.64" x2="529.5" y2="198.64" stroke="#8a8a8a" stroke-width="1"/>
<text x="526.5" y="200.24" font-size="6.6" text-anchor="end" fill="#333" stroke="#333" stroke-width="0.2">0,5</text>
<line x1="527.5" y1="183.5" x2="529.5" y2="183.5" stroke="#8a8a8a" stroke-width="1"/>
<text x="526.5" y="185.1" font-size="6.6" text-anchor="end" fill="#333" stroke="#333" stroke-width="0.2">0,6</text>
<line x1="528.5" y1="266.76" x2="529.5" y2="266.76" stroke="#8a8a8a" stroke-width="0.8"/>
<line x1="528.5" y1="251.62" x2="529.5" y2="251.62" stroke="#8a8a8a" stroke-width="0.8"/>
<line x1="528.5" y1="236.48" x2="529.5" y2="236.48" stroke="#8a8a8a" stroke-width="0.8"/>
<line x1="528.5" y1="221.35" x2="529.5" y2="221.35" stroke="#8a8a8a" stroke-width="0.8"/>
<line x1="528.5" y1="206.21" x2="529.5" y2="206.21" stroke="#8a8a8a" stroke-width="0.8"/>
<line x1="528.5" y1="191.07" x2="529.5" y2="191.07" stroke="#8a8a8a" stroke-width="0.8"/>
<line x1="530" y1="281.9" x2="530" y2="283.9" stroke="#8a8a8a" stroke-width="1"/>
<text x="530" y="290.7" font-size="6.6" text-anchor="middle" fill="#333" stroke="#333" stroke-width="0.2">-800</text>
<line x1="545.25" y1="281.9" x2="545.25" y2="283.9" stroke="#8a8a8a" stroke-width="1"/>
<text x="545.25" y="290.7" font-size="6.6" text-anchor="middle" fill="#333" stroke="#333" stroke-width="0.2">-600</text>
<line x1="560.5" y1="281.9" x2="560.5" y2="283.9" stroke="#8a8a8a" stroke-width="1"/>
<text x="560.5" y="290.7" font-size="6.6" text-anchor="middle" fill="#333" stroke="#333" stroke-width="0.2">-400</text>
<line x1="575.75" y1="281.9" x2="575.75" y2="283.9" stroke="#8a8a8a" stroke-width="1"/>
<text x="575.75" y="290.7" font-size="6.6" text-anchor="middle" fill="#333" stroke="#333" stroke-width="0.2">-200</text>
<line x1="591" y1="281.9" x2="591" y2="283.9" stroke="#8a8a8a" stroke-width="1"/>
<text x="591" y="290.7" font-size="6.6" text-anchor="middle" fill="#333" stroke="#333" stroke-width="0.2">0</text>
<line x1="606.25" y1="281.9" x2="606.25" y2="283.9" stroke="#8a8a8a" stroke-width="1"/>
<text x="606.25" y="290.7" font-size="6.6" text-anchor="middle" fill="#333" stroke="#333" stroke-width="0.2">200</text>
<line x1="621.5" y1="281.9" x2="621.5" y2="283.9" stroke="#8a8a8a" stroke-width="1"/>
<text x="621.5" y="290.7" font-size="6.6" text-anchor="middle" fill="#333" stroke="#333" stroke-width="0.2">400</text>
<line x1="636.75" y1="281.9" x2="636.75" y2="283.9" stroke="#8a8a8a" stroke-width="1"/>
<text x="636.75" y="290.7" font-size="6.6" text-anchor="middle" fill="#333" stroke="#333" stroke-width="0.2">600</text>
<line x1="652" y1="281.9" x2="652" y2="283.9" stroke="#8a8a8a" stroke-width="1"/>
<text x="652" y="290.7" font-size="6.6" text-anchor="middle" fill="#333" stroke="#333" stroke-width="0.2">800</text>
<line x1="537.62" y1="281.9" x2="537.62" y2="283.1" stroke="#8a8a8a" stroke-width="0.8"/>
<line x1="552.88" y1="281.9" x2="552.88" y2="283.1" stroke="#8a8a8a" stroke-width="0.8"/>
<line x1="568.12" y1="281.9" x2="568.12" y2="283.1" stroke="#8a8a8a" stroke-width="0.8"/>
<line x1="583.38" y1="281.9" x2="583.38" y2="283.1" stroke="#8a8a8a" stroke-width="0.8"/>
<line x1="598.62" y1="281.9" x2="598.62" y2="283.1" stroke="#8a8a8a" stroke-width="0.8"/>
<line x1="613.88" y1="281.9" x2="613.88" y2="283.1" stroke="#8a8a8a" stroke-width="0.8"/>
<line x1="629.12" y1="281.9" x2="629.12" y2="283.1" stroke="#8a8a8a" stroke-width="0.8"/>
<line x1="644.38" y1="281.9" x2="644.38" y2="283.1" stroke="#8a8a8a" stroke-width="0.8"/>
<text x="591.2" y="302.1" font-size="8.4" text-anchor="middle" font-weight="bold" fill="#111">Time lag (ms)</text>
<text x="509.8" y="232.7" font-size="8.45" text-anchor="middle" font-weight="bold" fill="#111" transform="rotate(-90 509.8 232.7)">Cross-correlation r-value</text>
<line x1="602.3" y1="175.3" x2="616" y2="175.3" stroke="#333333" stroke-width="1"/>
<text x="618" y="177.7" font-size="6.6" text-anchor="start" fill="#222">Neuron/neuron</text>
<line x1="602.3" y1="183.1" x2="616" y2="183.1" stroke="#d25a68" stroke-width="1"/>
<text x="618" y="185.5" font-size="6.6" text-anchor="start" fill="#222">Astrocyte/astrocyte</text>
<line x1="602.3" y1="190.9" x2="616" y2="190.9" stroke="#5252c8" stroke-width="1"/>
<text x="618" y="193.3" font-size="6.6" text-anchor="start" fill="#222">Astrocyte/neuron</text>
<line x1="591.0" y1="347.8" x2="591.0" y2="441.1" stroke="#8c8c8c" stroke-width="1" stroke-dasharray="1.2 2.8"/>
<path d="M541.06 390.68 L541.56 394.61 L542.06 398.41 L542.56 401.95 L543.06 405.17 L543.57 408.08 L544.07 410.69 L544.57 413.02 L545.07 415.11 L545.57 416.97 L546.08 418.63 L546.58 420.1 L547.08 421.42 L547.58 422.59 L548.08 423.65 L548.59 424.62 L549.09 425.51 L549.59 426.35 L550.09 427.17 L550.59 427.97 L551.1 428.77 L551.6 429.54 L552.1 430.3 L552.6 431.03 L553.1 431.75 L553.6 432.43 L554.11 433.09 L554.61 433.72 L555.11 434.31 L555.61 434.87 L556.11 435.38 L556.62 435.86 L557.12 436.29 L557.62 436.67 L558.12 437 L558.62 437.28 L559.13 437.51 L559.63 437.68 L560.13 437.79 L560.63 437.84 L561.13 437.82 L561.64 437.73 L562.14 437.58 L562.64 437.35 L563.14 437.06 L563.64 436.7 L564.15 436.26 L564.65 435.75 L565.15 435.16 L565.65 434.5 L566.15 433.76 L566.66 432.94 L567.16 432.05 L567.66 431.07 L568.16 430.01 L568.66 428.87 L569.17 427.64 L569.67 426.33 L570.17 424.94 L570.67 423.46 L571.17 421.9 L571.68 420.27 L572.18 418.56 L572.68 416.78 L573.18 414.93 L573.68 413.02 L574.18 411.03 L574.69 408.99 L575.19 406.89 L575.69 404.73 L576.19 402.51 L576.69 400.24 L577.2 397.93 L577.7 395.57 L578.2 393.17 L578.7 390.76 L579.2 388.33 L579.71 385.89 L580.21 383.46 L580.71 381.05 L581.21 378.66 L581.71 376.31 L582.22 374 L582.72 371.74 L583.22 369.55 L583.72 367.43 L584.22 365.4 L584.73 363.46 L585.23 361.62 L585.73 359.89 L586.23 358.28 L586.73 356.79 L587.24 355.43 L587.74 354.21 L588.24 353.13 L588.74 352.21 L589.24 351.44 L589.75 350.85 L590.25 350.42 L590.75 350.18 L591.25 350.13 L591.75 350.27 L592.25 350.6 L592.76 351.11 L593.26 351.78 L593.76 352.62 L594.26 353.61 L594.76 354.74 L595.27 356 L595.77 357.38 L596.27 358.87 L596.77 360.47 L597.27 362.16 L597.78 363.94 L598.28 365.79 L598.78 367.71 L599.28 369.69 L599.78 371.72 L600.29 373.81 L600.79 375.94 L601.29 378.11 L601.79 380.32 L602.29 382.55 L602.8 384.8 L603.3 387.06 L603.8 389.33 L604.3 391.6 L604.8 393.87 L605.31 396.13 L605.81 398.38 L606.31 400.6 L606.81 402.8 L607.31 404.96 L607.82 407.09 L608.32 409.17 L608.82 411.21 L609.32 413.19 L609.82 415.12 L610.32 416.98 L610.83 418.78 L611.33 420.5 L611.83 422.15 L612.33 423.71 L612.83 425.19 L613.34 426.57 L613.84 427.86 L614.34 429.05 L614.84 430.15 L615.34 431.15 L615.85 432.07 L616.35 432.91 L616.85 433.67 L617.35 434.36 L617.85 434.97 L618.36 435.52 L618.86 436 L619.36 436.43 L619.86 436.79 L620.36 437.11 L620.87 437.37 L621.37 437.59 L621.87 437.77 L622.37 437.9 L622.87 438 L623.38 438.06 L623.88 438.06 L624.38 438.01 L624.88 437.89 L625.38 437.71 L625.89 437.45 L626.39 437.12 L626.89 436.7 L627.39 436.19 L627.89 435.58 L628.4 434.88 L628.9 434.06 L629.4 433.13 L629.9 432.09 L630.4 430.92 L630.9 429.62 L631.41 428.19 L631.91 426.61 L632.41 424.9 L632.91 423.06 L633.41 421.12 L633.92 419.1 L634.42 417.01 L634.92 414.87 L635.42 412.7 L635.92 410.53 L636.43 408.36 L636.93 406.21 L637.43 404.12 L637.93 402.09 L638.43 400.14 L638.94 398.28 L639.44 396.48 L639.94 394.74 L640.44 393.03 L640.94 391.33" fill="none" stroke="#333333" stroke-width="0.9" stroke-linejoin="round"/>
<path d="M541.44 399.33 L541.94 399.56 L542.43 399.79 L542.93 400.02 L543.43 400.25 L543.93 400.48 L544.43 400.71 L544.92 400.94 L545.42 401.17 L545.92 401.4 L546.42 401.63 L546.92 401.85 L547.41 402.08 L547.91 402.31 L548.41 402.54 L548.91 402.76 L549.41 402.99 L549.91 403.21 L550.4 403.44 L550.9 403.66 L551.4 403.88 L551.9 404.1 L552.4 404.31 L552.89 404.52 L553.39 404.72 L553.89 404.91 L554.39 405.1 L554.89 405.28 L555.38 405.45 L555.88 405.61 L556.38 405.76 L556.88 405.89 L557.38 406.01 L557.88 406.12 L558.37 406.21 L558.87 406.29 L559.37 406.35 L559.87 406.4 L560.37 406.42 L560.86 406.43 L561.36 406.41 L561.86 406.38 L562.36 406.33 L562.86 406.26 L563.35 406.17 L563.85 406.07 L564.35 405.96 L564.85 405.83 L565.35 405.69 L565.85 405.54 L566.34 405.38 L566.84 405.21 L567.34 405.04 L567.84 404.85 L568.34 404.66 L568.83 404.46 L569.33 404.26 L569.83 404.06 L570.33 403.85 L570.83 403.63 L571.32 403.41 L571.82 403.18 L572.32 402.93 L572.82 402.68 L573.32 402.41 L573.82 402.12 L574.31 401.82 L574.81 401.49 L575.31 401.15 L575.81 400.78 L576.31 400.39 L576.8 399.98 L577.3 399.54 L577.8 399.07 L578.3 398.58 L578.8 398.06 L579.29 397.53 L579.79 396.98 L580.29 396.41 L580.79 395.83 L581.29 395.24 L581.78 394.63 L582.28 394.02 L582.78 393.41 L583.28 392.79 L583.78 392.17 L584.28 391.55 L584.77 390.94 L585.27 390.33 L585.77 389.73 L586.27 389.16 L586.77 388.61 L587.26 388.09 L587.76 387.61 L588.26 387.18 L588.76 386.8 L589.26 386.47 L589.75 386.21 L590.25 386.02 L590.75 385.9 L591.25 385.87 L591.75 385.92 L592.25 386.06 L592.74 386.27 L593.24 386.56 L593.74 386.9 L594.24 387.3 L594.74 387.75 L595.23 388.25 L595.73 388.77 L596.23 389.33 L596.73 389.9 L597.23 390.49 L597.72 391.09 L598.22 391.68 L598.72 392.28 L599.22 392.87 L599.72 393.45 L600.22 394.03 L600.71 394.6 L601.21 395.16 L601.71 395.72 L602.21 396.26 L602.71 396.78 L603.2 397.3 L603.7 397.8 L604.2 398.28 L604.7 398.75 L605.2 399.2 L605.69 399.63 L606.19 400.04 L606.69 400.43 L607.19 400.79 L607.69 401.14 L608.18 401.47 L608.68 401.79 L609.18 402.09 L609.68 402.37 L610.18 402.65 L610.68 402.91 L611.17 403.16 L611.67 403.4 L612.17 403.63 L612.67 403.86 L613.17 404.08 L613.66 404.3 L614.16 404.51 L614.66 404.72 L615.16 404.92 L615.66 405.11 L616.15 405.29 L616.65 405.47 L617.15 405.63 L617.65 405.78 L618.15 405.92 L618.65 406.04 L619.14 406.15 L619.64 406.25 L620.14 406.32 L620.64 406.38 L621.14 406.42 L621.63 406.43 L622.13 406.43 L622.63 406.4 L623.13 406.35 L623.63 406.28 L624.12 406.19 L624.62 406.08 L625.12 405.96 L625.62 405.82 L626.12 405.66 L626.62 405.49 L627.11 405.31 L627.61 405.12 L628.11 404.92 L628.61 404.71 L629.11 404.5 L629.6 404.27 L630.1 404.04 L630.6 403.81 L631.1 403.58 L631.6 403.34 L632.09 403.1 L632.59 402.87 L633.09 402.63 L633.59 402.39 L634.09 402.16 L634.59 401.92 L635.08 401.68 L635.58 401.45 L636.08 401.21 L636.58 400.97 L637.08 400.74 L637.57 400.5 L638.07 400.26 L638.57 400.03 L639.07 399.79 L639.57 399.56 L640.06 399.32 L640.56 399.08" fill="none" stroke="#d25a68" stroke-width="0.9" stroke-linejoin="round"/>
<path d="M541.44 399.08 L541.94 399.92 L542.43 400.75 L542.93 401.57 L543.43 402.39 L543.93 403.21 L544.43 404.01 L544.92 404.81 L545.42 405.59 L545.92 406.36 L546.42 407.11 L546.92 407.85 L547.41 408.57 L547.91 409.27 L548.41 409.94 L548.91 410.59 L549.41 411.21 L549.91 411.81 L550.4 412.38 L550.9 412.91 L551.4 413.42 L551.9 413.9 L552.4 414.34 L552.89 414.76 L553.39 415.14 L553.89 415.49 L554.39 415.81 L554.89 416.1 L555.38 416.35 L555.88 416.57 L556.38 416.76 L556.88 416.92 L557.38 417.04 L557.88 417.13 L558.37 417.18 L558.87 417.2 L559.37 417.18 L559.87 417.13 L560.37 417.05 L560.86 416.93 L561.36 416.79 L561.86 416.61 L562.36 416.4 L562.86 416.17 L563.35 415.9 L563.85 415.61 L564.35 415.29 L564.85 414.95 L565.35 414.58 L565.85 414.19 L566.34 413.78 L566.84 413.34 L567.34 412.88 L567.84 412.4 L568.34 411.9 L568.83 411.38 L569.33 410.85 L569.83 410.3 L570.33 409.72 L570.83 409.13 L571.32 408.52 L571.82 407.89 L572.32 407.23 L572.82 406.55 L573.32 405.84 L573.82 405.11 L574.31 404.35 L574.81 403.56 L575.31 402.73 L575.81 401.88 L576.31 400.99 L576.8 400.07 L577.3 399.11 L577.8 398.12 L578.3 397.11 L578.8 396.07 L579.29 395 L579.79 393.92 L580.29 392.83 L580.79 391.74 L581.29 390.63 L581.78 389.53 L582.28 388.43 L582.78 387.34 L583.28 386.27 L583.78 385.2 L584.28 384.16 L584.77 383.15 L585.27 382.16 L585.77 381.22 L586.27 380.32 L586.77 379.47 L587.26 378.68 L587.76 377.96 L588.26 377.31 L588.76 376.75 L589.26 376.27 L589.75 375.9 L590.25 375.62 L590.75 375.46 L591.25 375.42 L591.75 375.51 L592.25 375.71 L592.74 376.02 L593.24 376.44 L593.74 376.95 L594.24 377.55 L594.74 378.22 L595.23 378.97 L595.73 379.77 L596.23 380.62 L596.73 381.52 L597.23 382.44 L597.72 383.4 L598.22 384.37 L598.72 385.35 L599.22 386.35 L599.72 387.35 L600.22 388.36 L600.71 389.37 L601.21 390.38 L601.71 391.4 L602.21 392.41 L602.71 393.42 L603.2 394.43 L603.7 395.43 L604.2 396.41 L604.7 397.39 L605.2 398.35 L605.69 399.29 L606.19 400.22 L606.69 401.12 L607.19 402.01 L607.69 402.88 L608.18 403.73 L608.68 404.57 L609.18 405.39 L609.68 406.19 L610.18 406.98 L610.68 407.76 L611.17 408.52 L611.67 409.26 L612.17 410 L612.67 410.72 L613.17 411.43 L613.66 412.13 L614.16 412.82 L614.66 413.49 L615.16 414.15 L615.66 414.78 L616.15 415.38 L616.65 415.96 L617.15 416.5 L617.65 417 L618.15 417.46 L618.65 417.88 L619.14 418.25 L619.64 418.57 L620.14 418.83 L620.64 419.03 L621.14 419.18 L621.63 419.27 L622.13 419.31 L622.63 419.3 L623.13 419.24 L623.63 419.13 L624.12 418.98 L624.62 418.78 L625.12 418.53 L625.62 418.25 L626.12 417.92 L626.62 417.56 L627.11 417.16 L627.61 416.72 L628.11 416.25 L628.61 415.75 L629.11 415.22 L629.6 414.66 L630.1 414.07 L630.6 413.46 L631.1 412.82 L631.6 412.16 L632.09 411.48 L632.59 410.78 L633.09 410.06 L633.59 409.33 L634.09 408.57 L634.59 407.81 L635.08 407.03 L635.58 406.23 L636.08 405.43 L636.58 404.61 L637.08 403.79 L637.57 402.96 L638.07 402.12 L638.57 401.27 L639.07 400.42 L639.57 399.57 L640.06 398.72 L640.56 397.86" fill="none" stroke="#5252c8" stroke-width="0.9" stroke-linejoin="round"/>
<line x1="529.5" y1="343.2" x2="529.5" y2="441.1" stroke="#8a8a8a" stroke-width="1"/>
<line x1="529.5" y1="441.1" x2="652.0" y2="441.1" stroke="#8a8a8a" stroke-width="1"/>
<line x1="527.5" y1="441.1" x2="529.5" y2="441.1" stroke="#8a8a8a" stroke-width="1"/>
<text x="526.5" y="442.7" font-size="6.6" text-anchor="end" fill="#333" stroke="#333" stroke-width="0.2">-0,4</text>
<line x1="527.5" y1="424.78" x2="529.5" y2="424.78" stroke="#8a8a8a" stroke-width="1"/>
<text x="526.5" y="426.38" font-size="6.6" text-anchor="end" fill="#333" stroke="#333" stroke-width="0.2">-0,2</text>
<line x1="527.5" y1="408.47" x2="529.5" y2="408.47" stroke="#8a8a8a" stroke-width="1"/>
<text x="526.5" y="410.07" font-size="6.6" text-anchor="end" fill="#333" stroke="#333" stroke-width="0.2">0,0</text>
<line x1="527.5" y1="392.15" x2="529.5" y2="392.15" stroke="#8a8a8a" stroke-width="1"/>
<text x="526.5" y="393.75" font-size="6.6" text-anchor="end" fill="#333" stroke="#333" stroke-width="0.2">0,2</text>
<line x1="527.5" y1="375.83" x2="529.5" y2="375.83" stroke="#8a8a8a" stroke-width="1"/>
<text x="526.5" y="377.43" font-size="6.6" text-anchor="end" fill="#333" stroke="#333" stroke-width="0.2">0,4</text>
<line x1="527.5" y1="359.52" x2="529.5" y2="359.52" stroke="#8a8a8a" stroke-width="1"/>
<text x="526.5" y="361.12" font-size="6.6" text-anchor="end" fill="#333" stroke="#333" stroke-width="0.2">0,6</text>
<line x1="527.5" y1="343.2" x2="529.5" y2="343.2" stroke="#8a8a8a" stroke-width="1"/>
<text x="526.5" y="344.8" font-size="6.6" text-anchor="end" fill="#333" stroke="#333" stroke-width="0.2">0,8</text>
<line x1="528.5" y1="432.94" x2="529.5" y2="432.94" stroke="#8a8a8a" stroke-width="0.8"/>
<line x1="528.5" y1="416.62" x2="529.5" y2="416.62" stroke="#8a8a8a" stroke-width="0.8"/>
<line x1="528.5" y1="400.31" x2="529.5" y2="400.31" stroke="#8a8a8a" stroke-width="0.8"/>
<line x1="528.5" y1="383.99" x2="529.5" y2="383.99" stroke="#8a8a8a" stroke-width="0.8"/>
<line x1="528.5" y1="367.68" x2="529.5" y2="367.68" stroke="#8a8a8a" stroke-width="0.8"/>
<line x1="528.5" y1="351.36" x2="529.5" y2="351.36" stroke="#8a8a8a" stroke-width="0.8"/>
<line x1="530" y1="441.1" x2="530" y2="443.1" stroke="#8a8a8a" stroke-width="1"/>
<text x="530" y="449.9" font-size="6.6" text-anchor="middle" fill="#333" stroke="#333" stroke-width="0.2">-800</text>
<line x1="545.25" y1="441.1" x2="545.25" y2="443.1" stroke="#8a8a8a" stroke-width="1"/>
<text x="545.25" y="449.9" font-size="6.6" text-anchor="middle" fill="#333" stroke="#333" stroke-width="0.2">-600</text>
<line x1="560.5" y1="441.1" x2="560.5" y2="443.1" stroke="#8a8a8a" stroke-width="1"/>
<text x="560.5" y="449.9" font-size="6.6" text-anchor="middle" fill="#333" stroke="#333" stroke-width="0.2">-400</text>
<line x1="575.75" y1="441.1" x2="575.75" y2="443.1" stroke="#8a8a8a" stroke-width="1"/>
<text x="575.75" y="449.9" font-size="6.6" text-anchor="middle" fill="#333" stroke="#333" stroke-width="0.2">-200</text>
<line x1="591" y1="441.1" x2="591" y2="443.1" stroke="#8a8a8a" stroke-width="1"/>
<text x="591" y="449.9" font-size="6.6" text-anchor="middle" fill="#333" stroke="#333" stroke-width="0.2">0</text>
<line x1="606.25" y1="441.1" x2="606.25" y2="443.1" stroke="#8a8a8a" stroke-width="1"/>
<text x="606.25" y="449.9" font-size="6.6" text-anchor="middle" fill="#333" stroke="#333" stroke-width="0.2">200</text>
<line x1="621.5" y1="441.1" x2="621.5" y2="443.1" stroke="#8a8a8a" stroke-width="1"/>
<text x="621.5" y="449.9" font-size="6.6" text-anchor="middle" fill="#333" stroke="#333" stroke-width="0.2">400</text>
<line x1="636.75" y1="441.1" x2="636.75" y2="443.1" stroke="#8a8a8a" stroke-width="1"/>
<text x="636.75" y="449.9" font-size="6.6" text-anchor="middle" fill="#333" stroke="#333" stroke-width="0.2">600</text>
<line x1="652" y1="441.1" x2="652" y2="443.1" stroke="#8a8a8a" stroke-width="1"/>
<text x="652" y="449.9" font-size="6.6" text-anchor="middle" fill="#333" stroke="#333" stroke-width="0.2">800</text>
<line x1="537.62" y1="441.1" x2="537.62" y2="442.3" stroke="#8a8a8a" stroke-width="0.8"/>
<line x1="552.88" y1="441.1" x2="552.88" y2="442.3" stroke="#8a8a8a" stroke-width="0.8"/>
<line x1="568.12" y1="441.1" x2="568.12" y2="442.3" stroke="#8a8a8a" stroke-width="0.8"/>
<line x1="583.38" y1="441.1" x2="583.38" y2="442.3" stroke="#8a8a8a" stroke-width="0.8"/>
<line x1="598.62" y1="441.1" x2="598.62" y2="442.3" stroke="#8a8a8a" stroke-width="0.8"/>
<line x1="613.88" y1="441.1" x2="613.88" y2="442.3" stroke="#8a8a8a" stroke-width="0.8"/>
<line x1="629.12" y1="441.1" x2="629.12" y2="442.3" stroke="#8a8a8a" stroke-width="0.8"/>
<line x1="644.38" y1="441.1" x2="644.38" y2="442.3" stroke="#8a8a8a" stroke-width="0.8"/>
<text x="591.2" y="461.3" font-size="8.4" text-anchor="middle" font-weight="bold" fill="#111">Time lag (ms)</text>
<text x="509.8" y="392.15" font-size="8.45" text-anchor="middle" font-weight="bold" fill="#111" transform="rotate(-90 509.8 392.15)">Cross-correlation r-value</text>
<line x1="602.3" y1="334.5" x2="616" y2="334.5" stroke="#333333" stroke-width="1"/>
<text x="618" y="336.9" font-size="6.6" text-anchor="start" fill="#222">Neuron/neuron</text>
<line x1="602.3" y1="342.3" x2="616" y2="342.3" stroke="#d25a68" stroke-width="1"/>
<text x="618" y="344.7" font-size="6.6" text-anchor="start" fill="#222">Astrocyte/astrocyte</text>
<line x1="602.3" y1="350.1" x2="616" y2="350.1" stroke="#5252c8" stroke-width="1"/>
<text x="618" y="352.5" font-size="6.6" text-anchor="start" fill="#222">Astrocyte/neuron</text>
</svg>
</body></html>
